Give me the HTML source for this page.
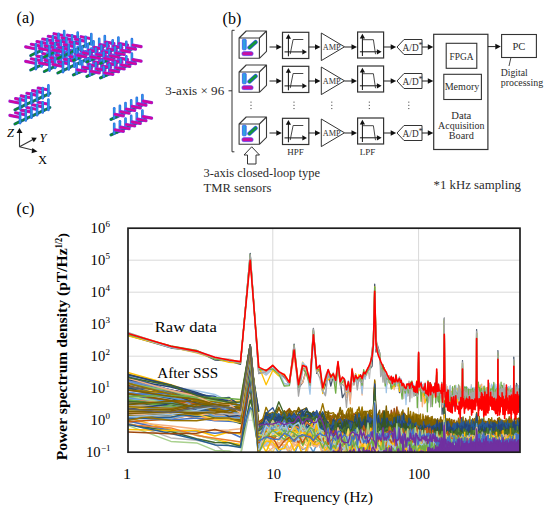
<!DOCTYPE html><html><head><meta charset="utf-8"><style>html,body{margin:0;padding:0;background:#fff;width:550px;height:518px;overflow:hidden;position:relative}</style></head><body><svg width="550" height="518" viewBox="0 0 550 518" style="position:absolute;left:0;top:0">
<rect width="550" height="518" fill="#fff"/>
<line x1="128" y1="420.2" x2="520.0" y2="420.2" stroke="#d9d9d9" stroke-width="1"/>
<line x1="128" y1="388.2" x2="520.0" y2="388.2" stroke="#d9d9d9" stroke-width="1"/>
<line x1="128" y1="356.2" x2="520.0" y2="356.2" stroke="#d9d9d9" stroke-width="1"/>
<line x1="128" y1="324.2" x2="520.0" y2="324.2" stroke="#d9d9d9" stroke-width="1"/>
<line x1="128" y1="292.2" x2="520.0" y2="292.2" stroke="#d9d9d9" stroke-width="1"/>
<line x1="128" y1="260.2" x2="520.0" y2="260.2" stroke="#d9d9d9" stroke-width="1"/>
<line x1="272.8" y1="228.2" x2="272.8" y2="452.2" stroke="#d9d9d9" stroke-width="1"/>
<line x1="418.6" y1="228.2" x2="418.6" y2="452.2" stroke="#d9d9d9" stroke-width="1"/>
<clipPath id="pc"><rect x="128" y="228.2" width="392.0" height="224.0"/></clipPath>
<g clip-path="url(#pc)">
<path d="M127 417.4l43.9 12.2 25.7 5.1 18.2 4.9 14.1 2.8 11.6 2.2 9.7-37.2 8.5 15.6" fill="none" stroke="#FFC000" stroke-width="1.5" stroke-linejoin="round"/>
<path d="M127 422.4l43.9 15.5 25.7 2.3 18.2 3.8 14.1 11.7 11.6 .3 9.7-48.6 8.5 27" fill="none" stroke="#B7B7B7" stroke-width="1.5" stroke-linejoin="round"/>
<path d="M127 425.2l43.9 16.2 25.7 1.5 18.2 7.5 14.1 .6 11.6 3.7 9.7-53.7 8.5 23.5" fill="none" stroke="#A9D18E" stroke-width="1.5" stroke-linejoin="round"/>
<path d="M127 421.7l43.9 4.2 25.7 3.2 18.2 1.3 14.1-.3 11.6-1.4 9.7-33.3 8.5 35.9" fill="none" stroke="#F4B183" stroke-width="1.5" stroke-linejoin="round"/>
<path d="M127 424.3l43.9 6.2 25.7 4.5 18.2 4.7 14.1 5.7 11.6 1.2 9.7-39.4 8.5 40" fill="none" stroke="#A9D18E" stroke-width="1.5" stroke-linejoin="round"/>
<path d="M127 388.9l43.9 8.5 25.7 6.9 18.2 6.6 14.1 4.9 11.6 4 9.7-37.1 8.5 45.7" fill="none" stroke="#43682B" stroke-width="1.5" stroke-linejoin="round"/>
<path d="M127 424.1l43.9 7.4 25.7 7.3 18.2 3.6 14.1 .3 11.6 3.5 9.7-46.3 8.5 27.2" fill="none" stroke="#43682B" stroke-width="1.5" stroke-linejoin="round"/>
<path d="M127 404.8l43.9 6.5 25.7-.4 18.2 .2 14.1-1 11.6 1.6 9.7-32.2 8.5 48.4" fill="none" stroke="#F1975A" stroke-width="1.5" stroke-linejoin="round"/>
<path d="M127 409.6l43.9 3.1 25.7 5.5 18.2 1.7 14.1-1.5 11.6 1.1 9.7-32.8 8.5 49.5" fill="none" stroke="#ED7D31" stroke-width="1.5" stroke-linejoin="round"/>
<path d="M127 420.7l43.9 9.7 25.7 .5 18.2 2.4 14.1-1.3 11.6 5.3 9.7-29.9 8.5 10.6" fill="none" stroke="#4472C4" stroke-width="1.5" stroke-linejoin="round"/>
<path d="M127 418.4l43.9-.9 25.7-5.4 18.2-1.8 14.1 .4 11.6 2.2 9.7-34.5 8.5 60.9" fill="none" stroke="#B7B7B7" stroke-width="1.5" stroke-linejoin="round"/>
<path d="M127 378.9l43.9 11.4 25.7 3.4 18.2 9.7 14.1-1.2 11.6 4.9 9.7-28.5 8.5 45.7" fill="none" stroke="#7030A0" stroke-width="1.5" stroke-linejoin="round"/>
<path d="M127 382.1l43.9 13.7 25.7 6.7 18.2 4.9 14.1 1 11.6 3.4 9.7-28.4 8.5 68.6" fill="none" stroke="#FFCD33" stroke-width="1.5" stroke-linejoin="round"/>
<path d="M127 390.2l43.9 3.7 25.7 4.5 18.2-.8 14.1 6.1 11.6 2.5 9.7-27.6 8.5 57.9" fill="none" stroke="#7030A0" stroke-width="1.5" stroke-linejoin="round"/>
<path d="M127 413.3l43.9 3.2 25.7-.5 18.2-1.4 14.1 2.5 11.6-3.2 9.7-35.6 8.5 71.4" fill="none" stroke="#FFC000" stroke-width="1.5" stroke-linejoin="round"/>
<path d="M127 385.6l43.9 14.2 25.7 8.3 18.2 5.2 14.1 4 11.6 5.7 9.7-45.7 8.5 49.8" fill="none" stroke="#2F5597" stroke-width="1.5" stroke-linejoin="round"/>
<path d="M127 382.1l43.9 12 25.7 6.6 18.2 9.3 14.1 3.8 11.6 4.1 9.7-43.9 8.5 61.7" fill="none" stroke="#A9D18E" stroke-width="1.5" stroke-linejoin="round"/>
<path d="M127 378.6l43.9 13.1 25.7 7.7 18.2 7.5 14.1 5.5 11.6-3.1 9.7-38.1 8.5 59.6" fill="none" stroke="#F4B183" stroke-width="1.5" stroke-linejoin="round"/>
<path d="M127 401.7l43.9 2.9 25.7 4.2 18.2 1.9 14.1-1.3 11.6-1.4 9.7-28.4 8.5 48.4" fill="none" stroke="#43682B" stroke-width="1.5" stroke-linejoin="round"/>
<path d="M127 394.4l43.9 8.9 25.7 5.5 18.2 2.7 14.1 7.4 11.6-3.2 9.7-36.8 8.5 60.1" fill="none" stroke="#2F5597" stroke-width="1.5" stroke-linejoin="round"/>
<path d="M127 429.5l43.9 1 25.7 0 18.2 5.5 14.1-3.9 11.6 1.9 9.7-58.2 8.5 71.7" fill="none" stroke="#FFC000" stroke-width="1.5" stroke-linejoin="round"/>
<path d="M127 410.9l43.9-5 25.7 1.4 18.2 4.4 14.1 1.4 11.6 1.1 9.7-33.4 8.5 41.3" fill="none" stroke="#997300" stroke-width="1.5" stroke-linejoin="round"/>
<path d="M127 418l43.9-.1 25.7-3.4 18.2 5.6 14.1-.7 11.6-2.2 9.7-41.2 8.5 63.5" fill="none" stroke="#FFCD33" stroke-width="1.5" stroke-linejoin="round"/>
<path d="M127 384l43.9 16.2 25.7 2.5 18.2 3.3 14.1 4.7 11.6-.3 9.7-30.3 8.5 60.8" fill="none" stroke="#255E91" stroke-width="1.5" stroke-linejoin="round"/>
<path d="M127 400l43.9 2 25.7-2.5 18.2-.9 14.1 2 11.6 1.8 9.7-32.2 8.5 75" fill="none" stroke="#ED7D31" stroke-width="1.5" stroke-linejoin="round"/>
<path d="M127 409.7l43.9-3.7 25.7 4.5 18.2-3.7 14.1 2.2 11.6 1.5 9.7-32.3 8.5 45.3" fill="none" stroke="#FFC000" stroke-width="1.5" stroke-linejoin="round"/>
<path d="M127 372.2l43.9 12.4 25.7 8.5 18.2 5 14.1 2.8 11.6 2.5 9.7-24.8 8.5 57.8" fill="none" stroke="#FFC000" stroke-width="1.5" stroke-linejoin="round"/>
<path d="M127 421.7l43.9-2.8 25.7-5.2 18.2-.9 14.1-.4 11.6 2.6 9.7-35.1 8.5 57" fill="none" stroke="#C55A11" stroke-width="1.5" stroke-linejoin="round"/>
<path d="M127 405.6l43.9 4.3 25.7 2.6 18.2 4.5 14.1 2.1 11.6-3.1 9.7-46.8 8.5 74.4" fill="none" stroke="#7CAFDD" stroke-width="1.5" stroke-linejoin="round"/>
<path d="M127 396.6l43.9 4.9 25.7 3.7 18.2-1.2 14.1 5.6 11.6 2.8 9.7-41.9 8.5 88.3" fill="none" stroke="#9DC3E6" stroke-width="1.5" stroke-linejoin="round"/>
<path d="M127 386.3l43.9 8 25.7 3.9 18.2 1.9 14.1 6.8 11.6 2.9 9.7-38.4 8.5 67.3" fill="none" stroke="#698ED0" stroke-width="1.5" stroke-linejoin="round"/>
<path d="M127 392.5l43.9 7.7 25.7 2.1 18.2 2 14.1 4.7 11.6 1.2 9.7-33.5 8.5 65.9" fill="none" stroke="#636363" stroke-width="1.5" stroke-linejoin="round"/>
<path d="M127 411.8l43.9-1.6 25.7 1.4 18.2-2.5 14.1 1.2 11.6-5.2 9.7-29.3 8.5 65.8" fill="none" stroke="#BF9000" stroke-width="1.5" stroke-linejoin="round"/>
<path d="M127 417.9l43.9-3.2 25.7-5.9 18.2-.4 14.1 .6 11.6-6.4 9.7-31.7 8.5 74.8" fill="none" stroke="#698ED0" stroke-width="1.5" stroke-linejoin="round"/>
<path d="M127 384.4l43.9 10.6 25.7 8.8 18.2 4.5 14.1 4.3 11.6 3.7 9.7-51.3 8.5 87.8" fill="none" stroke="#C55A11" stroke-width="1.5" stroke-linejoin="round"/>
<path d="M127 424.7l43.9 3.2 25.7 7.5 18.2 2.8 14.1 2.1 11.6 1.7 9.7-60.7 8.5 67.1" fill="none" stroke="#ED7D31" stroke-width="1.5" stroke-linejoin="round"/>
<path d="M127 377.2l43.9 18.4 25.7 6.9 18.2 9.4 14.1 7.9 11.6 3.8 9.7-34.3 8.5 63.8" fill="none" stroke="#43682B" stroke-width="1.5" stroke-linejoin="round"/>
<path d="M127 395.4l43.9 3.9 25.7 3.7 18.2 .5 14.1 3 11.6-3.9 9.7-30 8.5 60" fill="none" stroke="#B7B7B7" stroke-width="1.5" stroke-linejoin="round"/>
<path d="M127 386.8l43.9 14.6 25.7 4 18.2 4.7 14.1 10 11.6-.8 9.7-59.1 8.5 88.4" fill="none" stroke="#43682B" stroke-width="1.5" stroke-linejoin="round"/>
<path d="M127 377.3l43.9 13 25.7 4.4 18.2 1.6 14.1 7 11.6 2.6 9.7-37.8 8.5 72.3" fill="none" stroke="#2F5597" stroke-width="1.5" stroke-linejoin="round"/>
<path d="M127 400.1l43.9 5.2 25.7 .3 18.2 6.3 14.1-.2 11.6 3.5 9.7-49.7 8.5 68.5" fill="none" stroke="#FFC000" stroke-width="1.5" stroke-linejoin="round"/>
<path d="M127 424.3l43.9 9.2 25.7 6 18.2 5.4 14.1 .6 11.6 2 9.7-67.2 8.5 71.1" fill="none" stroke="#255E91" stroke-width="1.5" stroke-linejoin="round"/>
<path d="M127 417.4l43.9 2.7 25.7-2.2 18.2 2.9 14.1 .5 11.6 1 9.7-47.7 8.5 65.6" fill="none" stroke="#4472C4" stroke-width="1.5" stroke-linejoin="round"/>
<path d="M127 411.9l43.9 1.1 25.7 1.5 18.2 1.1 14.1-.5 11.6-1.7 9.7-61.5 8.5 72.8" fill="none" stroke="#806000" stroke-width="1.5" stroke-linejoin="round"/>
<path d="M127 387.9l43.9 12 25.7 3.4 18.2 7.4 14.1-2.1 11.6 6.8 9.7-36.1 8.5 60.5" fill="none" stroke="#255E91" stroke-width="1.5" stroke-linejoin="round"/>
<path d="M127 381.6l43.9 11.2 25.7 10.6 18.2 8.3 14.1 2.8 11.6 1.4 9.7-41.1 8.5 48.8" fill="none" stroke="#F4B183" stroke-width="1.5" stroke-linejoin="round"/>
<path d="M127 402.3l43.9 2.8 25.7-1.3 18.2 2.3 14.1 .4 11.6 2.6 9.7-49.2 8.5 73" fill="none" stroke="#F1975A" stroke-width="1.5" stroke-linejoin="round"/>
<path d="M127 397.3l43.9-3 25.7 3.2 18.2 5.2 14.1-1.9 11.6 6.2 9.7-48.8 8.5 54" fill="none" stroke="#43682B" stroke-width="1.5" stroke-linejoin="round"/>
<path d="M127 410.4l43.9 2.3 25.7 4.5 18.2-2.6 14.1 4.8 11.6 .1 9.7-60.3 8.5 83.3" fill="none" stroke="#A5A5A5" stroke-width="1.5" stroke-linejoin="round"/>
<path d="M127 407.8l43.9 6.6 25.7-1.9 18.2 2.6 14.1 2.2 11.6-.2 9.7-30.4 8.5 39" fill="none" stroke="#5B9BD5" stroke-width="1.5" stroke-linejoin="round"/>
<path d="M127 380.2l43.9 13.3 25.7 6.2 18.2 10.9 14.1 1 11.6 3.4 9.7-50.2 8.5 58.1" fill="none" stroke="#70AD47" stroke-width="1.5" stroke-linejoin="round"/>
<path d="M127 374.6l43.9 16.8 25.7 8.8 18.2 2.6 14.1 9.5 11.6 .9 9.7-36.4 8.5 59.7" fill="none" stroke="#4472C4" stroke-width="1.5" stroke-linejoin="round"/>
<path d="M127 374.6l43.9 12.1 25.7 4 18.2 3.8 14.1 6.9 11.6 3 9.7-34.8 8.5 81.2" fill="none" stroke="#9DC3E6" stroke-width="1.5" stroke-linejoin="round"/>
<path d="M127 403.2l43.9 2.4 25.7-.1 18.2 1.2 14.1 .5 11.6 4.3 9.7-57.1 8.5 73.8" fill="none" stroke="#375623" stroke-width="1.5" stroke-linejoin="round"/>
<path d="M127 377.5l43.9 15.8 25.7 7.3 18.2 6 14.1 4.3 11.6 4 9.7-38.2 8.5 70.2" fill="none" stroke="#F1975A" stroke-width="1.5" stroke-linejoin="round"/>
<path d="M127 382.4l43.9 15.1 25.7 7.8 18.2 4.7 14.1 8.4 11.6 1.5 9.7-63.7 8.5 78.9" fill="none" stroke="#806000" stroke-width="1.5" stroke-linejoin="round"/>
<path d="M127 408.7l43.9-.8 25.7 3.1 18.2-3.4 14.1 .1 11.6 3.3 9.7-48.1 8.5 66.1" fill="none" stroke="#A5A5A5" stroke-width="1.5" stroke-linejoin="round"/>
<path d="M127 409.9l43.9-1.9 25.7 1.6 18.2-7.1 14.1 4.7 11.6-2.9 9.7-34.2 8.5 77.3" fill="none" stroke="#4472C4" stroke-width="1.5" stroke-linejoin="round"/>
<path d="M127 376.2l43.9 17.5 25.7 12.2 18.2-1.5 14.1 3.8 11.6 8 9.7-61.3 8.5 77.3" fill="none" stroke="#1F4E79" stroke-width="1.5" stroke-linejoin="round"/>
<path d="M127 418.9l43.9-4.6 25.7-4.7 18.2-.6 14.1-2.2 11.6 1.6 9.7-42.2 8.5 83.4" fill="none" stroke="#375623" stroke-width="1.5" stroke-linejoin="round"/>
<path d="M127 388.7l43.9 5.9 25.7 7.6 18.2 2.7 14.1 2.4 11.6 3.9 9.7-57.6 8.5 71.5" fill="none" stroke="#A5A5A5" stroke-width="1.5" stroke-linejoin="round"/>
<path d="M127 432l43.9 1.7 25.7-.5 18.2-3.8 14.1 3.6 11.6-.4 9.7-53.5 8.5 72.2" fill="none" stroke="#9E480E" stroke-width="1.5" stroke-linejoin="round"/>
<path d="M127 396.6l43.9 3 25.7 3.7 18.2 .4 14.1-1.7 11.6 4.8 9.7-42.3 8.5 72.6" fill="none" stroke="#264478" stroke-width="1.5" stroke-linejoin="round"/>
<path d="M127 388.5l43.9 12.3 25.7 5.2 18.2 3.5 14.1 5.4 11.6 3.6 9.7-49.7 8.5 55.6" fill="none" stroke="#B7B7B7" stroke-width="1.5" stroke-linejoin="round"/>
<path d="M127 374l43.9 11.2 25.7 11.2 18.2 4.8 14.1 3.7 11.6 1.9 9.7-55.1 8.5 99.4" fill="none" stroke="#806000" stroke-width="1.5" stroke-linejoin="round"/>
<path d="M127 386.6l43.9 8.2 25.7 4.3 18.2 2.6 14.1 .1 11.6 3.5 9.7-38.1 8.5 59.4" fill="none" stroke="#ED7D31" stroke-width="1.5" stroke-linejoin="round"/>
<path d="M127 405.2l43.9 4 25.7 4.1 18.2 4.8 14.1 1.7 11.6 1.5 9.7-60 8.5 66.5" fill="none" stroke="#43682B" stroke-width="1.5" stroke-linejoin="round"/>
<path d="M127 408.2l43.9 3.3 25.7-1.9 18.2 .2 14.1 .4 11.6-2.1 9.7-30.9 8.5 58.1" fill="none" stroke="#4472C4" stroke-width="1.5" stroke-linejoin="round"/>
<path d="M127 399.4l43.9 7.6 25.7 3.8 18.2-1.9 14.1 3.9 11.6-.3 9.7-65.4 8.5 90.7" fill="none" stroke="#636363" stroke-width="1.5" stroke-linejoin="round"/>
<path d="M127 386.2l43.9 8.6 25.7 5.7 18.2 4.5 14.1 4 11.6 5.4 9.7-37.1 8.5 51.1" fill="none" stroke="#255E91" stroke-width="1.5" stroke-linejoin="round"/>
<path d="M127 413.7l43.9 3.4 25.7-1.5 18.2-1.4 14.1 3.4 11.6 .4 9.7-67.3 8.5 99.6" fill="none" stroke="#A5A5A5" stroke-width="1.5" stroke-linejoin="round"/>
<path d="M127 404.1l43.9 3.1 25.7-4.1 18.2 1.5 14.1-.6 11.6 .2 9.7-50.8 8.5 74.3" fill="none" stroke="#A5A5A5" stroke-width="1.5" stroke-linejoin="round"/>
<path d="M127 385.6l43.9 4.4 25.7 5.9 18.2 4.3 14.1 2 11.6 3 9.7-60.2 8.5 86.3" fill="none" stroke="#9E480E" stroke-width="1.5" stroke-linejoin="round"/>
<path d="M127 396.3l43.9 5.1 25.7 1.7 18.2 2.5 14.1 .9 11.6 5.8 9.7-57.9 8.5 93.8" fill="none" stroke="#806000" stroke-width="1.5" stroke-linejoin="round"/>
<path d="M127 411.7l43.9 2.5 25.7 .7 18.2 .7 14.1 1.9 11.6-6.1 9.7-56.2 8.5 95.5" fill="none" stroke="#A9D18E" stroke-width="1.5" stroke-linejoin="round"/>
<path d="M127 400l43.9 7.3 25.7 6.4 18.2-.4 14.1-3.1 11.6 5.5 9.7-60.8 8.5 86" fill="none" stroke="#70AD47" stroke-width="1.5" stroke-linejoin="round"/>
<path d="M127 418.6l43.9-1.2 25.7-1.9 18.2 4.7 14.1-1.3 11.6-3.1 9.7-45.7 8.5 52.3" fill="none" stroke="#F1975A" stroke-width="1.5" stroke-linejoin="round"/>
<path d="M127 398.4l43.9 1.2 25.7 2.8 18.2 .1 14.1-.6 11.6-.8 9.7-51.1 8.5 88.7" fill="none" stroke="#FFC000" stroke-width="1.5" stroke-linejoin="round"/>
<path d="M127 380l43.9 14.5 25.7 5.2 18.2 4.3 14.1 2.3 11.6 3.6 9.7-36.4 8.5 83.1" fill="none" stroke="#255E91" stroke-width="1.5" stroke-linejoin="round"/>
<path d="M127 417.6l43.9 1 25.7-5 18.2 .4 14.1 2.7 11.6-3.2 9.7-47.1 8.5 92.1" fill="none" stroke="#7CAFDD" stroke-width="1.5" stroke-linejoin="round"/>
<path d="M127 392.3l43.9 7.4 25.7-2 18.2 4.9 14.1-1.5 11.6 4.1 9.7-34.9 8.5 67.8" fill="none" stroke="#255E91" stroke-width="1.5" stroke-linejoin="round"/>
<path d="M127 410.8l43.9 3.1 25.7 1.7 18.2-1.6 14.1 1.5 11.6-1.5 9.7-56.3 8.5 93.9" fill="none" stroke="#FFCD33" stroke-width="1.5" stroke-linejoin="round"/>
<path d="M127 399l43.9 1.6 25.7 5.6 18.2-1.3 14.1 4 11.6 2.6 9.7-51 8.5 74.3" fill="none" stroke="#7CAFDD" stroke-width="1.5" stroke-linejoin="round"/>
<path d="M127 411.3l43.9-1.1 25.7-.5 18.2 2.2 14.1-1.4 11.6-2.1 9.7-44.3 8.5 77.5" fill="none" stroke="#A9D18E" stroke-width="1.5" stroke-linejoin="round"/>
<path d="M127 387.6l43.9 11.3 25.7 9.7 18.2 2.7 14.1 .2 11.6-1.2 9.7-44.9 8.5 63.4" fill="none" stroke="#1F4E79" stroke-width="1.5" stroke-linejoin="round"/>
<path d="M127 415.2l43.9-4.2 25.7-3.4 18.2-1.5 14.1-.7 11.6-3.4 9.7-32.1 8.5 58.5" fill="none" stroke="#5B9BD5" stroke-width="1.5" stroke-linejoin="round"/>
<path d="M127 417l43.9-3.6 25.7 3 18.2-1.9 14.1 .6 11.6-1.7 9.7-50.9 8.5 64.7" fill="none" stroke="#255E91" stroke-width="1.5" stroke-linejoin="round"/>
<path d="M127 383.5l43.9 13.3 25.7 4.8 18.2 3.5 14.1 7 11.6-1.1 9.7-48.5 8.5 77.5" fill="none" stroke="#FFD966" stroke-width="1.5" stroke-linejoin="round"/>
<path d="M127 399.5l43.9 6.2 25.7 5.7 18.2 .3 14.1-.4 11.6 3.7 9.7-42.1 8.5 66.2" fill="none" stroke="#70AD47" stroke-width="1.5" stroke-linejoin="round"/>
<path d="M127 379.6l43.9 7.5 25.7 6.6 18.2 4.7 14.1 2.3 11.6 5.1 9.7-51.4 8.5 72.4" fill="none" stroke="#264478" stroke-width="1.5" stroke-linejoin="round"/>
<path d="M127 394.1l43.9 7.3 25.7 1.4 18.2 4.8 14.1 1.4 11.6 .3 9.7-60.1 8.5 99.2" fill="none" stroke="#4472C4" stroke-width="1.5" stroke-linejoin="round"/>
<path d="M127 408.2l43.9-.6 25.7 2.1 18.2-3.2 14.1 2.7 11.6-2.8 9.7-46.5 8.5 91.7" fill="none" stroke="#7CAFDD" stroke-width="1.5" stroke-linejoin="round"/>
<path d="M127 411.9l43.9 1.7 25.7 .2 18.2 1.2 14.1 .2 11.6-2.2 9.7-45.9 8.5 82.1" fill="none" stroke="#F4B183" stroke-width="1.5" stroke-linejoin="round"/>
<path d="M127 392.4l43.9 7.5 25.7 6.1 18.2 4.8 14.1-2.8 11.6 1.9 9.7-53.5 8.5 89.2" fill="none" stroke="#B7B7B7" stroke-width="1.5" stroke-linejoin="round"/>
<path d="M127 380.9l43.9 9 25.7 7.6 18.2 5.9 14.1 2.9 11.6 3.5 9.7-40.1 8.5 62.8" fill="none" stroke="#698ED0" stroke-width="1.5" stroke-linejoin="round"/>
<path d="M127 392.1l43.9 5.3 25.7 5.7 18.2 2.3 14.1 3.6 11.6 3.3 9.7-51.2 8.5 89.8" fill="none" stroke="#5B9BD5" stroke-width="1.5" stroke-linejoin="round"/>
<path d="M127 405.5l43.9 3.5 25.7-.2 18.2-1.2 14.1 2.5 11.6-2.2 9.7-62.9 8.5 104.3" fill="none" stroke="#B7B7B7" stroke-width="1.5" stroke-linejoin="round"/>
<path d="M127 415l43.9-2.2 25.7-8.8 18.2 .1 14.1-2.6 11.6 2.9 9.7-42.3 8.5 70.3" fill="none" stroke="#F4B183" stroke-width="1.5" stroke-linejoin="round"/>
<path d="M127 411.4l43.9-.3 25.7-4.6 18.2 4 14.1-.8 11.6-4.1 9.7-48.5 8.5 84.8" fill="none" stroke="#806000" stroke-width="1.5" stroke-linejoin="round"/>
<path d="M127 409.3l43.9-5.4 25.7 5.6 18.2-1.7 14.1 1.6 11.6-3.3 9.7-46.2 8.5 51" fill="none" stroke="#264478" stroke-width="1.5" stroke-linejoin="round"/>
<path d="M127 374.6l43.9 10.7 25.7 7.2 18.2 6.2 14.1-1.3 11.6 8.2 9.7-59.6 8.5 84.4" fill="none" stroke="#264478" stroke-width="1.5" stroke-linejoin="round"/>
<path d="M127 394.3l43.9-.7 25.7 10.4 18.2-3.3 14.1 8.6 11.6-2.2 9.7-61.9 8.5 89.4" fill="none" stroke="#4472C4" stroke-width="1.5" stroke-linejoin="round"/>
<path d="M127 393.2l43.9 7.9 25.7 2.7 18.2 9 14.1-.6 11.6 4.1 9.7-50 8.5 67.8" fill="none" stroke="#C55A11" stroke-width="1.5" stroke-linejoin="round"/>
<path d="M127 397.6l43.9 4.3 25.7 6.6 18.2 7.9 14.1 .1 11.6 1.4 9.7-66.8 8.5 101.8" fill="none" stroke="#5B9BD5" stroke-width="1.5" stroke-linejoin="round"/>
<path d="M127 383.9l43.9 7.4 25.7 6.4 18.2 5.9 14.1 .7 11.6 2.3 9.7-61.6 8.5 95.8" fill="none" stroke="#7CAFDD" stroke-width="1.5" stroke-linejoin="round"/>
<path d="M127 383.4l43.9 10.2 25.7 9.5 18.2 6.1 14.1 7.3 11.6-1.1 9.7-49.4 8.5 69.1" fill="none" stroke="#264478" stroke-width="1.5" stroke-linejoin="round"/>
<path d="M127 389.9l43.9 3 25.7 7.9 18.2 .8 14.1 3.3 11.6 1.8 9.7-58.8 8.5 90.4" fill="none" stroke="#997300" stroke-width="1.5" stroke-linejoin="round"/>
<path d="M127 395.7l43.9 8.2 25.7 3.3 18.2-1.1 14.1 3.4 11.6 .2 9.7-56.2 8.5 72.5" fill="none" stroke="#A9D18E" stroke-width="1.5" stroke-linejoin="round"/>
<path d="M127 419.1l43.9-1.8 25.7-5.7 18.2-2.7 14.1 1 11.6-6.4 9.7-58.5 8.5 101.5" fill="none" stroke="#255E91" stroke-width="1.5" stroke-linejoin="round"/>
<path d="M127 406l43.9 7.6 25.7 .5 18.2 5 14.1 .9 11.6 2.2 9.7-63.9 8.5 80" fill="none" stroke="#FFCD33" stroke-width="1.5" stroke-linejoin="round"/>
<path d="M127 386.6l43.9 4.9 25.7 9.4 18.2 6.4 14.1 5.1 11.6-1.8 9.7-56.2 8.5 87.2" fill="none" stroke="#636363" stroke-width="1.5" stroke-linejoin="round"/>
<path d="M127 406.6l43.9 1.7 25.7-2.5 18.2 4.4 14.1-4.7 11.6 1.9 9.7-58.7 8.5 101.7" fill="none" stroke="#997300" stroke-width="1.5" stroke-linejoin="round"/>
<path d="M127 420.6l43.9-8.8 25.7 2.8 18.2-4.2 14.1 .4 11.6-1.6 9.7-51.5 8.5 75.2" fill="none" stroke="#997300" stroke-width="1.5" stroke-linejoin="round"/>
<path d="M127 380.9l43.9 12.9 25.7 13.5 18.2-2 14.1 5.4 11.6 4.5 9.7-54.9 8.5 68.2" fill="none" stroke="#698ED0" stroke-width="1.5" stroke-linejoin="round"/>
<path d="M127 393.6l43.9 6.8 25.7 1.4 18.2 2.9 14.1 1.1 11.6 2.3 9.7-54.6 8.5 78.8" fill="none" stroke="#806000" stroke-width="1.5" stroke-linejoin="round"/>
<path d="M127 383.7l43.9 7.1 25.7 7.7 18.2 2 14.1 1.8 11.6 3.2 9.7-46.7 8.5 93.3" fill="none" stroke="#8CC168" stroke-width="1.5" stroke-linejoin="round"/>
<path d="M127 401.5l43.9 2 25.7 3.4 18.2-2.3 14.1 3.5 11.6 .6 9.7-57.6 8.5 76.2" fill="none" stroke="#43682B" stroke-width="1.5" stroke-linejoin="round"/>
<path d="M127 383l43.9 11 25.7 6.7 18.2 3.3 14.1 4.3 11.6 4.2 9.7-62.8 8.5 103.4" fill="none" stroke="#997300" stroke-width="1.5" stroke-linejoin="round"/>
<path d="M127 416.6l43.9-2 25.7-1.4 18.2-2.1 14.1 2.2 11.6-4.5 9.7-63.8 8.5 87.8" fill="none" stroke="#7F6000" stroke-width="1.5" stroke-linejoin="round"/>
<path d="M127 414.9l43.9 5.6 25.7 .2 18.2-2.7 14.1-.1 11.6 3.9 9.7-69.1 8.5 80.1" fill="none" stroke="#997300" stroke-width="1.5" stroke-linejoin="round"/>
<path d="M127 404.9l43.9-4 25.7 6.6 18.2-.8 14.1-.3 11.6-4 9.7-46.3 8.5 73.1" fill="none" stroke="#806000" stroke-width="1.5" stroke-linejoin="round"/>
<path d="M127 416.9l43.9-2.4 25.7-4.2 18.2-4 14.1 1.1 11.6-4.6 9.7-49.5 8.5 85.4" fill="none" stroke="#9DC3E6" stroke-width="1.5" stroke-linejoin="round"/>
<path d="M127 396.4l43.9-.8 25.7 1.4 18.2 .7 14.1 .8 11.6 1.1 9.7-54.6 8.5 85.9" fill="none" stroke="#70AD47" stroke-width="1.5" stroke-linejoin="round"/>
<path d="M127 377.9l43.9 12.6 25.7 5.6 18.2 8.5 14.1-.8 11.6 9.1 9.7-67.3 8.5 97.4" fill="none" stroke="#F4B183" stroke-width="1.5" stroke-linejoin="round"/>
<path d="M127 389.8l43.9 6.8 25.7 2.6 18.2 4.9 14.1 3.7 11.6 2.2 9.7-58.2 8.5 72.6" fill="none" stroke="#806000" stroke-width="1.5" stroke-linejoin="round"/>
<path d="M127 409.5l43.9 .3 25.7-5.8 18.2 .8 14.1-1.6 11.6 2 9.7-59.7 8.5 90.2" fill="none" stroke="#806000" stroke-width="1.5" stroke-linejoin="round"/>
<path d="M127 413.8l43.9-1.1 25.7-.6 18.2 .4 14.1 1.7 11.6 .1 9.7-66.1 8.5 84.2" fill="none" stroke="#B7B7B7" stroke-width="1.5" stroke-linejoin="round"/>
<path d="M127 377.3l43.9 8.2 25.7 9.9 18.2 4.2 14.1 2.7 11.6-.2 9.7-57.1 8.5 97.9" fill="none" stroke="#43682B" stroke-width="1.5" stroke-linejoin="round"/>
<path d="M127 413.5l43.9-1.5 25.7 .4 18.2 .6 14.1-2.4 11.6-2.5 9.7-60.6 8.5 109" fill="none" stroke="#806000" stroke-width="1.5" stroke-linejoin="round"/>
<path d="M127 408.7l43.9 3.7 25.7-5 18.2-1.1 14.1 1.4 11.6 2.8 9.7-65.5 8.5 98.3" fill="none" stroke="#636363" stroke-width="1.5" stroke-linejoin="round"/>
<path d="M258.7 425.4l7.4-3.9 6.7-3.5 6-11 5.5 15.9 5.1-11.8 4.7 6.4 4.4 2.3 4.1-2 3.8-.6 3.6-.9 3.4 2.6 3.3 2.8 3.1-5.7 2.9 3.7 2.8-.6 2.7 7.7 2.6-2 2.5 1.3 2.4-4.7 2.3-.4 2.2 1.2 2.2-1.8 2 1.8 2.1-7.1 1.9 10.3 1.9-7.7 1.8 7 1.8 0 1.7 3.2 1.7-14 1.7 12.2 1.6-2 1.5 2.8 1.6-3.9 1.5 4 1.4-14.5 1.4 8 1.4-10 1.4 5.2 1.3 13.9 1.3-10.9 1.3-32.9 1.3 36.3 1.2-4 1.2-3.1 1.2 6.1 1.1-5.7 1.2-.1 1.1-3.3 1.1 10.2 1.1-2.6 1.1 3.8 1 2.6 1 1.3 1-3.1 1-7 1 8 1-2.4 .9-.2 1 4.1 .9-3.8 .9 6.3 .9-2.8 .9-.9 .9-2.4 .8 6.1 .9-5.5 .8 8.3 .9 1.9 .8-8.7 .8-6 .8-2.2 .8 3.2 .7 3.6 .8-8 .8 8 .7 4.7 .7-8.1 .8 8.1 .7 2.3 .7-8.1 .7-2.4 .7 7.2 .7 2.2 .7-4.3 .7-2.5 .7 7.9 .6-2.9 .7-4.3 .6 .8 .7-6.9 .6 4.6 .6 14.1 .7-14.5 .6 7.7 .6-4.5 .6 7.3 .6-7.9 .6 8.6 .6-9.2 .6-3 .5 7 .6-3.5 .6 2 .5 1.1 .6 3 .5-3.1 .6-1.5 .5 6.2 .6-12.1 .5 11.8 .5-3.7 .6 .3 .5-.2 .5 .7 .5-8.9 .5 8.3 .5 0 .5-3 .5 4.3 .5 3.7 .5-10.9 .5 5.7 .5-4.7 .5 0 .4-2.7 .5 4.3 .5 1.9 .4 7.2 .5-9.7 .5 6.8 .4-8.3 .5 6.7 .4 1.9 .4-3.8 .5 .7 .4-1.1 .5-2.9 .4-2 .4 4.8 .5-4.5 .4-11.5 .4 20 .4-2.8 .4 0 .4-2.7 .5 5.8 .4 1.1 .4-7.5 .4 4.2 .4-8.4 .4 10.9 .4-1.3 .3-11 .4 15.7 .4-.5 .4-6.9 .4 3.8 .4-2.4 .4-5.2 .3 5.4 .4-1.1 .4-2.8 .3 6.4 .4 2.5 .4-7 .3 1.1 .4-2.4 .4 4.8 .3-1 .4-.7 .3-1.9 .4-2 .3 2.2 .4 10 .3-7.3 .4 .9 .3 .5 .3-.7 .4-3.7 .3 10.7 .3-10.7 .4-1.3 .3 .1 .3 5.2 .4 3.3 .3-.8 .3-3.2 .3-9.1 .4 10.4 .3-3 .3-4.6 .3 .1 .3 4.5 .3-2.4 .3-3.5 .4 3.9 .3 1.2 .3 3.5 .3-1.8 .3 .2 .3 4.7 .3-3.2 .3-8.3 .3 9.1 .3 1.2 .3-.9 .3-4.8 .3-2.2 .2 .7 .3-4.8 .3 9.5 .3-3.5 .3 .9 .3 1.2 .3-6.4 .2 7.4 .3-2.5 .3 5 .3-6.4 .3 2.3 .2 3.6 .3-.5 .3 1.3 .3-3.7 .2-.1 .3-.3 .3 1.4 .2-5.8 .3 2.6 .3-.1 .2 1.3 .3 3.4 .3-5.9 .2-4.5 .3 1.5 .2 3.1 .3 6 .3-.7 .2-1.1 .3-3.5 .2-10.2 .3 9.6 .2-.5 .3 6.2 .2-.1 .3-5.1 .2-.2 .3 4 .2-3.3 .3 7 .2-2.2 .2-4.5 .3 4.9 .2-5.3 .3 3.6 .2-6.8 .2 7.4 .3-4.3 .2 1.1 .3 4.6 .2 3.4 .2-8.7 .3 4.7 .2-4.4 .2-7.1 .3 14.1 .2-6.9 .2 4.5 .2-.8 .3 2.5 .2-3.6 .2-7.4 .2 .6 .3 6.7 .2 .3 .2 1.5 .2-1.9 .3 .6 .2-2.7 .2 5.1 .2-7.9 .2 3.8 .3-.3 .2 .5 .2 4.8 .2-8.6 .2 3.5 .2-5.4 .2 4.4 .3-3 .2 1.2 .2 2.6 .2-1.2 .2 1.7 .2 5.3 .2-2.5 .2-5.4 .2 5.1 .2 1.8 .2-1.8 .2-3.6 .2 6.5 .2-3.6 .3-1.1 .2 0 .2 3.2 .2 5.9 .2-7.5 .2-7.1 .2-.7 .2 7.5 .1-7.9 .2 2.5 .2 3.7 .2 3.2 .2-2.3 .2 .4 .2-2.3 .2 5.6 .2 0 .2-4 .2 1.1 .2-4 .2 5 .2-6.7 .2-.9 .1 8.3 .2-5.5 .2-3.6 .2 5 .2-3.5 .2 4.3 .2-1.1 .1 1.5 .2 .3 .2-7.1 .2 7.9 .2 3.9 .2-4.3 .1-4.2 .2 4.9 .2-6.4 .2 0 .2 3 .1 1.7 .2 .6 .2 1.1 .2-9.8 .2 4.4 .1 3.7 .2-1.9 .2-.9 .2-4 .1 2.3 .2 3.6 .2 2.6 .2 2.8 .1-6 .2-6.3 .2 5.5 .1-.4 .2 3.5 .2-.3 .2 3.8 .1-1.5 .2-10.4 .2 5.6 .1-3.2 .2 5.6 .2-5.2 .1 1.8 .2 6.3 .2 4 .1-1.6 .2-7.3 .2-2.1 .1 4.1 .2-.1 .2-4.7 .1 4 .2 2.9 .1-5.1 .2-2.4 .2 11.1 .1-6.2 .2 1 .1 1.5 .2-8.1 .2 3 .1-5.9 .2 5.6 .1 3.8 .2-.2 .2-3.7 .1 2.2 .2 .9 .1-.7 .2 .8 .1-3.7 .2 6.3 .1-2.4 .2-.6 .2-4.1 .1 2.3 .2-4 .1 5.4 .2-1.3 .1 1.9 .2-1.6 .1 .1 .2 1.2 .1 1.4 .2-1.4 .1-6.1 .2 6.5 .1 1.9 .2-.1 .1-3.6 .2 3.9 .1-1.9 .2 .4 .1-3.9 .2 2.9 .1-3.5 .1-.4 .2 2.8 .1 2.8 .2-.8 .1-7 .2 .7 .1 9 .2-5.2 .1 3.8 .1-10.1 .2 7 .1 5.3 .2-2.1 .1 1.7 .2-.9 .1-3.8 .1 3.3 .2-6.1 .1 7.2 .2-5.3 .1 7.2 .1-5 .2-3.4 .1 3.7 .2-4.7 .1 2.6 .1-6 .2 5.2 .1 3.5 .1-.2 .2-4.7 .1-4.3 .2 4.1 .1 7.6 .1-2.6 .2 3.5 .1-2.1 .1-4.6 .2 8.2 .1-4.7 .1-10.6 .2 8.6 .1-1.2 .1 2 .2-1.4 .1-9.6 .1 14 .2-3 .1 1.5 .1-9.6 .2 18 .1-10 .1-11.5 .1 5 .2 3.3 .1 1.9 .1 4.2 .2-7.4 .1-.3 .1 .6 .1-.6 .2 5.1 .1-1.8 .1 5.3" fill="none" stroke="#806000" stroke-width="1.4" stroke-linejoin="round"/>
<path d="M258.7 422.3l7.4-6.3 6.7-1.6 6 .5 5.5-1.1 5.1-5.2 4.7 13.7 4.4-3.4 4.1-2.7 3.8 2.4 3.6-4.7 3.4 6.9 3.3 1.5 3.1-6.1 2.9 6.3 2.8 .5 2.7-6.3 2.6 5.2 2.5-7.4 2.4 6.8 2.3 4 2.2-4.1 2.2-8.4 2 4.6 2.1-.2 1.9 4.6 1.9-6.4 1.8 1 1.8 1.5 1.7 10.7 1.7-15.4 1.7 4.5 1.6 1.6 1.5 .9 1.6-6.1 1.5 5.2 1.4-3.4 1.4 10.2 1.4-2.8 1.4-2.8 1.3-4.2 1.3 1.4 1.3-31.7 1.3 35.8 1.2-2.1 1.2 7 1.2-11.1 1.1 1.2 1.2 4.8 1.1-10.8 1.1 7.9 1.1 3.7 1.1 .2 1-5.5 1 9.9 1-9.7 1 2.3 1-9.3 1 3.2 .9 9 1-14 .9 14 .9-9.8 .9-5.8 .9 10.5 .9-5.5 .8 5.4 .9 .3 .8 11.5 .9-11.7 .8 4.7 .8 1.7 .8-10.5 .8 13.6 .7-4.1 .8-1.3 .8 .9 .7-4.7 .7 14 .8-15.5 .7 13.1 .7-2.3 .7-8.1 .7 1.8 .7 2.1 .7 4 .7-4.5 .7-1.4 .6-2.9 .7 3.3 .6 6.3 .7-3.2 .6 2.4 .6-2.4 .7-6.6 .6 5 .6 2.9 .6-5.8 .6 5.8 .6-4 .6-.8 .6 2 .5 1.6 .6-2.2 .6-2.3 .5 3.4 .6-6.7 .5 6.7 .6 3.5 .5-5.5 .6 3.9 .5-.6 .5-5.2 .6 1.4 .5 8 .5-2.5 .5 2 .5-8.5 .5 11.7 .5-6.3 .5-4 .5 10.7 .5-5.8 .5 4.7 .5-1 .5-5.4 .4 5.1 .5-1.8 .5-5.1 .4 9.7 .5-12.3 .5 3.9 .4 5.7 .5-.3 .4-4.2 .4 1.6 .5 3 .4-4 .5-1.5 .4 2.8 .4 1.3 .5-1 .4-17.4 .4 17 .4 2.9 .4-3.4 .4 .6 .5-1.2 .4-4.9 .4 1.4 .4 9.1 .4-4.1 .4-1.7 .4 3 .3 4.4 .4-13.8 .4 4.9 .4 4.2 .4-.7 .4 3.2 .4-3.7 .3-5.6 .4 1.4 .4 3 .3 2.6 .4 2 .4-3.7 .3 1.9 .4 .8 .4 .3 .3-5.1 .4 7.2 .3-4.5 .4 7.9 .3-2.2 .4-12.2 .3 10.7 .4-4.5 .3 3.6 .3-2.4 .4-3.9 .3 7.2 .3 .9 .4 2.8 .3-16 .3 9.6 .4-1 .3-1.4 .3 .7 .3 2.2 .4 6.2 .3-9.6 .3 1.9 .3 .4 .3-6.2 .3 4.2 .3 4 .4-9.4 .3 1.9 .3 0 .3 6.8 .3 5 .3-7.1 .3 .6 .3 4.8 .3-3.7 .3-5.1 .3 6.2 .3 1.1 .3-1.5 .2 .3 .3-4.1 .3 2.9 .3-1.8 .3-7.9 .3 1.3 .3 10.6 .2-6.5 .3 9.9 .3-8.1 .3 6.4 .3-9.7 .2 2.7 .3-.9 .3 9.6 .3-7.3 .2 .9 .3 .9 .3 3.7 .2-13.1 .3 15.9 .3-1.8 .2-7 .3 4.7 .3 2 .2-1.4 .3-7.4 .2-3.3 .3 3.9 .3 4.4 .2 5.4 .3-4.1 .2-10.6 .3 6.5 .2 3.4 .3-1.2 .2-4.2 .3 3.6 .2 0 .3-2.6 .2 2 .3-3.1 .2 6.5 .2 4.9 .3-7.3 .2 .4 .3-4.1 .2 7.1 .2-3.1 .3 4.4 .2-3 .3-4.7 .2-2.2 .2 2.5 .3-2.9 .2 3.4 .2-2.8 .3 7.6 .2 2.3 .2-1.1 .2-10.6 .3 8.2 .2-5.8 .2 4.3 .2-5.3 .3 4.6 .2 5.2 .2 .9 .2-3 .3-.4 .2-9.2 .2 6.8 .2 7.8 .2-.1 .3-1.5 .2-2 .2-5.6 .2 12.7 .2-3.5 .2-9.5 .2 2.3 .3-.8 .2 2 .2-4.7 .2-.6 .2 3.9 .2 .7 .2-6.5 .2 3 .2 .8 .2 3.3 .2-2.7 .2 4.3 .2-.9 .2-3.3 .3 4.3 .2-5.6 .2 2.7 .2 2.3 .2-2.1 .2-3.6 .2 2.8 .2-2.1 .1 4.2 .2 2.7 .2-4.8 .2 .7 .2-4.9 .2 1.4 .2 1.7 .2 2.8 .2-8 .2 5.9 .2 6.4 .2 .4 .2-2 .2-4 .2 1.1 .1-5.4 .2-.3 .2-1.5 .2 15.3 .2-9.7 .2 2.5 .2 2.6 .1-2.6 .2-.6 .2-.3 .2-5.5 .2 5.1 .2 .4 .1-11.5 .2 11.3 .2-1.9 .2 2.3 .2 1.1 .1-3.1 .2-2.5 .2 5.6 .2-.5 .2 2.1 .1 2.7 .2-14.5 .2 8.1 .2-2.9 .1 3.8 .2-2 .2 2.1 .2-.1 .1-.6 .2-8 .2 2 .1 1.2 .2-.1 .2 4.4 .2-.2 .1-.4 .2 1.6 .2-6.4 .1 9.6 .2-.4 .2-4.1 .1-5.5 .2 4.6 .2-3.4 .1 3.3 .2-3.9 .2 7.5 .1-6.9 .2 .5 .2 4.9 .1 2.1 .2-3.8 .1 5.5 .2-1 .2-6.1 .1 2.8 .2-3.5 .1 .4 .2 4.8 .2-2.7 .1 4 .2-3.6 .1-.1 .2-5.8 .2 7.4 .1-6.3 .2 5.4 .1-2.5 .2 1.1 .1-3.9 .2 3.2 .1 8.2 .2-.2 .2-5.7 .1-3.3 .2 2.2 .1-1.7 .2-2.1 .1 3.4 .2 3.9 .1-4.8 .2-1.4 .1 4 .2-3 .1 6.1 .2-4.7 .1 .1 .2 6.4 .1-1.1 .2-10.2 .1 3.7 .2 1.2 .1-5 .2 2.6 .1 8.1 .1-5.2 .2-2.1 .1-5.8 .2 9.7 .1-5.8 .2 6.2 .1-5.5 .2 2.3 .1-.1 .1 1.9 .2-.4 .1-1.4 .2-1.4 .1 4.8 .2-5.3 .1 1.3 .1 .6 .2-2.7 .1 7.8 .2-.4 .1-7.4 .1 1.2 .2-1.1 .1 2.3 .2 .4 .1 3.7 .1-3.9 .2 3.7 .1 2.6 .1-9.2 .2-.6 .1 4.6 .2 5.8 .1-4.4 .1-6.7 .2 7.2 .1-2.2 .1-2 .2 5.4 .1-3.4 .1 1.9 .2-1 .1 .8 .1 2.3 .2-5.4 .1 1.2 .1-6 .2 9.4 .1-5.5 .1 5.2 .2-4.8 .1 2.5 .1 1.1 .1 7.4 .2-8.8 .1-.2 .1-.8 .2 0 .1-.6 .1 6.4 .1-2.9 .2-2.1 .1 1.5 .1 .3" fill="none" stroke="#9E480E" stroke-width="1.4" stroke-linejoin="round"/>
<path d="M258.7 435.3l7.4-18.9 6.7 5.7 6-13.2 5.5 6.6 5.1-5.9 4.7 4.2 4.4 1.3 4.1-1.7 3.8 3 3.6 2.9 3.4-5.6 3.3-1.1 3.1 6.3 2.9 8 2.8-4.4 2.7 6.8 2.6 1.2 2.5-12.3 2.4-2.4 2.3 1.2 2.2 5.7 2.2-3.3 2 .3 2.1 5.8 1.9 2.4 1.9-7.8 1.8 2.5 1.8-2.3 1.7 5.3 1.7-13.1 1.7 3.6 1.6 4.6 1.5-9.4 1.6 17.6 1.5-4 1.4-5.2 1.4-2.7 1.4-3.9 1.4 12.2 1.3-6.4 1.3-12.6 1.3-14.7 1.3 27.6 1.2-2.4 1.2 7.8 1.2 1.5 1.1-7.8 1.2-5 1.1 3.1 1.1 12.7 1.1-16.6 1.1 2.9 1 5.3 1 .8 1-2.7 1 8.6 1-11.5 1-.7 .9 7.8 1-1.8 .9-4 .9 11.1 .9-.6 .9-13 .9-.2 .8 3.1 .9 2.8 .8-.5 .9-6 .8 9.3 .8-5.9 .8 5.8 .8 0 .7-1.1 .8 2.2 .8 1.4 .7-3.3 .7-2.1 .8-3.5 .7 10 .7-6 .7 6.9 .7-8 .7 1.4 .7-.9 .7 7.5 .7 .5 .6 4.3 .7-7.4 .6 5.6 .7-1 .6-6.9 .6-5.1 .7 3.1 .6 10.4 .6-6.1 .6-4.1 .6 .7 .6 3.5 .6-8.8 .6 7.8 .5-1.9 .6-.1 .6 2.5 .5 2.4 .6-8.5 .5 1.8 .6 9.8 .5-8.8 .6 .5 .5 0 .5 3 .6 .4 .5-2.3 .5-3.6 .5-2.8 .5 13.3 .5-8.3 .5 .4 .5 2.7 .5 4.6 .5-3.3 .5 1.3 .5-3.8 .5 .9 .4-3.8 .5 3.5 .5 5.9 .4-4.3 .5-1.8 .5-.4 .4-.1 .5-4.7 .4-1.6 .4 8.9 .5-1.5 .4 .4 .5-3.2 .4 5.2 .4-1.5 .5 3.6 .4-25.2 .4 26.5 .4-6.6 .4-3.5 .4 5.2 .5-.8 .4 3.3 .4 3.9 .4-7.5 .4 3.8 .4-3.4 .4-.8 .3-1.5 .4-3.9 .4 7 .4-1.1 .4 7.3 .4-8.7 .4 7.3 .3 .2 .4-6.9 .4 13.3 .3-10.1 .4-1.2 .4 3.6 .3-7.8 .4 8.4 .4-4.4 .3 7.9 .4-.1 .3-10.9 .4 .3 .3 8.1 .4-4.6 .3 7 .4-1.3 .3-8.2 .3 .3 .4 1.6 .3 2 .3-.6 .4 3.4 .3-7.4 .3 6 .4 0 .3-7 .3 7 .3 .9 .4-7.4 .3 8.7 .3-2.2 .3 10.2 .3-22.1 .3 13.6 .3 .9 .4-5.2 .3 11 .3-15.3 .3 4.3 .3 .9 .3 2.6 .3-1.8 .3-1.7 .3-.5 .3-2.1 .3 1 .3 .7 .3-2.2 .2 6.4 .3 7 .3-9.1 .3 10.4 .3-5.9 .3-.6 .3 .7 .2-9.5 .3 2.1 .3 2.3 .3 1.1 .3-3.1 .2 2.9 .3 1.3 .3-2.6 .3 5.5 .2-5.2 .3-8.2 .3 5.1 .2 7.2 .3-6.1 .3 5 .2-.9 .3-.8 .3-6.4 .2 8 .3-1.7 .2-.4 .3 2.3 .3-5.7 .2 2.5 .3-1.9 .2-10.8 .3 16.6 .2-8.6 .3 8.6 .2-14.2 .3 7.1 .2 2.1 .3 1.8 .2-3.7 .3 5.4 .2 7.6 .2-11.2 .3 1.2 .2-4.3 .3-.9 .2 7.7 .2 7.7 .3-12 .2 0 .3 6.6 .2-8.4 .2 .4 .3 5.8 .2-3.1 .2-3.6 .3 2.9 .2-1.4 .2 0 .2 4.8 .3 1.5 .2-3.1 .2-5.2 .2 10.4 .3-8.7 .2 15.7 .2-10.1 .2-8.2 .3 7.5 .2-1.9 .2-1.7 .2-3.2 .2 9 .3-1.5 .2 0 .2-1.7 .2-6.3 .2 10 .2-2.5 .2 2.1 .3 .5 .2-5.6 .2-1.6 .2-5.5 .2 9.2 .2-1.8 .2 1.4 .2-3.4 .2 1.6 .2 5.7 .2-6.9 .2-1.4 .2 1 .2 1.3 .3 .7 .2 2.8 .2 2.1 .2-1.8 .2 .2 .2-.1 .2-2.8 .2 3.7 .1-8.4 .2 4.3 .2 1.9 .2-6.1 .2 .3 .2 9.1 .2-.1 .2-5.3 .2-2.8 .2 4.1 .2-7.1 .2 10.4 .2-7.6 .2 .7 .2 3.4 .1 5.6 .2-4 .2-5.2 .2 5.3 .2-.8 .2-2.3 .2 .2 .1 2.1 .2-5.2 .2 1.8 .2 7.9 .2-6.1 .2 2.4 .1-7.9 .2 3.8 .2 1 .2 2 .2 .5 .1 .7 .2-7.6 .2 6.6 .2 1.8 .2-4.9 .1-.6 .2 3.2 .2 3 .2-7.8 .1 .4 .2 11.4 .2-4 .2-11.1 .1 10.6 .2 3.2 .2-8.7 .1 3.6 .2-4.1 .2 10 .2-12.1 .1 2.9 .2 3.9 .2 .6 .1-5 .2 5.1 .2-5.2 .1 4.7 .2-3.5 .2 7.7 .1-3.5 .2 4.2 .2-5 .1 .3 .2-1.2 .2-1.3 .1 8 .2-7.4 .1-.9 .2 5.3 .2-4.1 .1 8.3 .2-4.8 .1-.1 .2 1.5 .2-9.6 .1 2.4 .2 1.5 .1 1.8 .2-6.7 .2 2.3 .1 1.7 .2 2.1 .1 .5 .2 .1 .1-1.3 .2 5.1 .1-5.4 .2-2.5 .2 2.2 .1 4.9 .2-4.8 .1 4 .2 1.4 .1-13.3 .2 10.2 .1 1.8 .2 1.9 .1-4.3 .2 .7 .1 5.8 .2-2.1 .1-9.5 .2 7.3 .1 2.7 .2-8.7 .1 9 .2-13.7 .1 13.1 .2-3.1 .1 .6 .1-1.8 .2 4.7 .1-3 .2-5.2 .1-1.9 .2-1.1 .1 1.2 .2 3.8 .1-1.4 .1-.9 .2 4.8 .1-4.1 .2 .2 .1 1.5 .2 .4 .1-2.4 .1 5.5 .2 1.3 .1-5.7 .2-.6 .1 5.9 .1-5.9 .2 .4 .1 1.4 .2-2.4 .1 .3 .1 1 .2-2.1 .1 3.6 .1 3.9 .2-5.3 .1-1.9 .2 2.8 .1-2.7 .1 2.1 .2 3.3 .1 3.3 .1-4.5 .2 .9 .1-3.3 .1-5.8 .2 11.5 .1-2.8 .1-6.4 .2-.2 .1 5.2 .1-1.3 .2-.9 .1-5.1 .1 8.4 .2 1.2 .1-6.4 .1 5.9 .1-2.6 .2-5.7 .1 5.7 .1-.3 .2-.5 .1 4 .1-4.1 .1-1.1 .2 7.3 .1-3.9 .1-.4" fill="none" stroke="#806000" stroke-width="1.4" stroke-linejoin="round"/>
<path d="M258.7 433.5l7.4-26.2 6.7 14.3 6-6.8 5.5 4.7 5.1-3.3 4.7 8.8 4.4-1 4.1 10.2 3.8-19.4 3.6 2.5 3.4 7.3 3.3-9.1 3.1 .2 2.9-12 2.8 12.5 2.7-3.9 2.6 1.2 2.5-.8 2.4 3.9 2.3 1.9 2.2-5.5 2.2-2.6 2 11.7 2.1-.1 1.9-5.4 1.9-8.9 1.8 9.8 1.8 7.2 1.7-12.2 1.7 .3 1.7-5.8 1.6 8.5 1.5-8.6 1.6 13 1.5-7.9 1.4 3.8 1.4 6.4 1.4-4.4 1.4-7.8 1.3 1 1.3 7.3 1.3-38.3 1.3 32.1 1.2 2.9 1.2 0 1.2 5.5 1.1-3.7 1.2-1 1.1 4.2 1.1-2.2 1.1-2.2 1.1-.2 1-3.9 1 10.2 1-2.9 1-3.1 1 3.3 1-3.3 .9 4 1-7.8 .9 7 .9 4.5 .9-9 .9-4.3 .9 17.5 .8-8.6 .9-.8 .8-4.6 .9-2.1 .8 8.2 .8 6.9 .8-10.7 .8-1.5 .7 2.7 .8 2 .8 4.4 .7-15.6 .7 17.7 .8 1.6 .7-11.9 .7 3.4 .7-1.7 .7 1.6 .7-6.3 .7 1.3 .7 9.7 .7-7.4 .6 10.7 .7 2.6 .6-14 .7 8 .6 8.4 .6-10.2 .7 2.5 .6-4.3 .6 2.2 .6 2.7 .6-.1 .6-5.4 .6 6.3 .6-3.8 .5 4.2 .6-5.3 .6-4.8 .5 4.6 .6-2 .5 2.5 .6 5.4 .5-2.4 .6-1.3 .5-1.3 .5 3.9 .6-4.4 .5 5 .5-2.8 .5 .3 .5 4.3 .5-7.9 .5 3.6 .5-.2 .5 .6 .5 7.8 .5-2.6 .5-1.8 .5-6.9 .4 5.9 .5-4.4 .5 6.2 .4-.7 .5-1.3 .5-5.6 .4 10.2 .5-5.5 .4-2.1 .4 1.1 .5 .6 .4-2.9 .5 1.9 .4 4.9 .4-6.1 .5 5.3 .4-27.9 .4 16.1 .4 3.7 .4 3.9 .4 4.5 .5 0 .4-9 .4 5 .4 6.5 .4-11 .4 3.8 .4-2.7 .3 3.4 .4 9.6 .4-5.2 .4-2.2 .4 .2 .4-6.2 .4 8.1 .3-2 .4-.1 .4 .1 .3 3.6 .4 .7 .4 5.1 .3-10.7 .4 2 .4-1.5 .3 4.8 .4-3.9 .3 3.6 .4 .2 .3-4.9 .4-1.1 .3 .3 .4 2.3 .3 1.4 .3-6.6 .4 .6 .3 7 .3 1.7 .4-5.4 .3 .2 .3 4.6 .4-11.8 .3 16.2 .3-4.7 .3-4 .4-2.8 .3 10.6 .3-5.3 .3-6.9 .3 .1 .3 6.2 .3-1.1 .4 3.4 .3-4.7 .3 5.3 .3 3.7 .3-1.9 .3-5.9 .3 5.1 .3-9 .3-.6 .3 1 .3 1.3 .3-1.8 .3 3.2 .2-2.2 .3 1.5 .3-1.2 .3 6.7 .3-1.3 .3 1.2 .3-6.8 .2 1.2 .3 4.8 .3 .8 .3-1.5 .3-5.4 .2 3.6 .3 .5 .3 1.7 .3-2.1 .2-6.4 .3 8.5 .3-1.3 .2-7.6 .3 3.7 .3 6.8 .2-8.2 .3 8.7 .3-6.7 .2 11.4 .3-5.7 .2-7.1 .3 5.6 .3 .5 .2-2.9 .3 .2 .2-10.6 .3 4 .2 1.1 .3 4.3 .2 5.5 .3-2.3 .2-.9 .3-2.9 .2-4.1 .3 7.9 .2-2.5 .2 2.1 .3-2.1 .2 3.1 .3-4 .2-2.9 .2 5.8 .3-.3 .2-1.6 .3 5.3 .2-11.6 .2 11.7 .3-3.6 .2 1.9 .2-8.8 .3 7.3 .2 .1 .2-8.9 .2 7.5 .3 2.4 .2-2.9 .2-.7 .2 3.5 .3-2.1 .2 .1 .2-3.5 .2-.1 .3-.3 .2 3.6 .2-3.4 .2 3.7 .2-5.1 .3 2.8 .2 3.1 .2-6.1 .2 10.1 .2-2 .2-.6 .2-2.5 .3 4.1 .2-.1 .2 2.5 .2-7.4 .2 3.3 .2-11 .2 5.3 .2 7.1 .2-9.2 .2 4.5 .2-3.6 .2 8.1 .2-8.4 .2 .2 .3 5.7 .2 1.6 .2-1.8 .2-2.4 .2-7.9 .2 2.2 .2 1.2 .2 6.3 .1 .4 .2-2.5 .2 2.3 .2 .8 .2-1 .2-3.9 .2 3.4 .2-1.2 .2 1.9 .2-.3 .2 .5 .2-5.9 .2 3.9 .2-4.7 .2 6.1 .1-4.5 .2 9 .2-3.6 .2-1.3 .2 2.2 .2-2 .2 3 .1-2.8 .2 1.9 .2-2.5 .2 1.1 .2 2.6 .2-2.2 .1-1.6 .2 4.8 .2-5 .2-4.3 .2 5.5 .1-2.9 .2-.3 .2 5.3 .2-7.9 .2-4.4 .1 13.1 .2-11.7 .2 10.5 .2-8 .1 12.1 .2-10.9 .2 3.7 .2 5.3 .1-1.7 .2 .8 .2-.6 .1-4.7 .2 2.1 .2 8.6 .2-8.1 .1-2.9 .2 1.4 .2-5.9 .1 13 .2-7.7 .2 .8 .1-2.6 .2 7.7 .2-.1 .1-4.3 .2-.9 .2 7 .1-8 .2 1.3 .2-2.7 .1 12.4 .2-11.5 .1 5.1 .2-1.5 .2-4.7 .1-3.3 .2 5.7 .1 .9 .2-5.2 .2 8.1 .1-2.7 .2 1.3 .1 1.8 .2-4.4 .2-6.8 .1 6.6 .2-.9 .1 1.9 .2-4.3 .1 3.6 .2 3.9 .1-3.6 .2-5 .2 5.6 .1-4.7 .2 4.7 .1-7.8 .2 6.5 .1-1.4 .2 3.5 .1-4.2 .2 4 .1 4.6 .2-6.6 .1 5.6 .2-10 .1 2.6 .2 2.9 .1-2.5 .2 12.1 .1-15.3 .2 8.1 .1-4.9 .2-7 .1 15.5 .1-4.4 .2-2.8 .1-.3 .2 7.8 .1-2.8 .2-9 .1 7.7 .2-4.2 .1 7.1 .1-1.7 .2 3.4 .1-7.8 .2-3.3 .1 4 .2 1.3 .1-1.9 .1-.8 .2 2.8 .1-3.1 .2-5.2 .1-1 .1 10.3 .2 2.6 .1-11.8 .2 3.5 .1-.9 .1 2.3 .2 3.1 .1-4.5 .1-.5 .2-.2 .1 8.3 .2-7.8 .1 5.1 .1 0 .2-2.6 .1 2.6 .1-9.9 .2 6.5 .1 1.1 .1 1.7 .2-1.6 .1 1.8 .1-3 .2-1.1 .1 .1 .1 7.8 .2-3.5 .1-1.5 .1 4.8 .2-5.9 .1 1.9 .1-.7 .1-1.2 .2 3.7 .1-8 .1 1.9 .2 5.8 .1-3.7 .1-1 .1 5.5 .2-1.5 .1-3.9 .1 12.2" fill="none" stroke="#997300" stroke-width="1.4" stroke-linejoin="round"/>
<path d="M258.7 429.4l7.4-9.1 6.7 .9 6-3.2 5.5-2.5 5.1 4.6 4.7 3.4 4.4 2.3 4.1-12.7 3.8 5.4 3.6-3.2 3.4 5.5 3.3-4.4 3.1 1.9 2.9 1 2.8 4.7 2.7 .6 2.6-9.2 2.5 16.9 2.4-10 2.3-9 2.2 3.9 2.2 4.6 2 1 2.1 4 1.9-15.9 1.9 11.9 1.8-3.3 1.8-6.1 1.7 2.5 1.7 1.5 1.7 4.1 1.6-2.4 1.5 4.2 1.6-6 1.5 6.7 1.4-3.9 1.4-2.6 1.4-1.4 1.4 6.9 1.3-3.3 1.3 2.3 1.3-37.5 1.3 33.2 1.2 4.9 1.2-3.7 1.2 7.7 1.1-2.7 1.2 3.3 1.1-4.6 1.1-7.2 1.1 4.1 1.1 1.8 1-2.3 1 2.8 1-2.1 1 7.4 1-6.4 1 4.5 .9-4.8 1 .9 .9-.9 .9 7 .9-14 .9 11.9 .9-1.8 .8 .1 .9 1.3 .8 4 .9-7.7 .8-3 .8 5.8 .8 9 .8-4.7 .7-6.1 .8 7.7 .8-3 .7-.1 .7 .1 .8-5.2 .7-2.7 .7 13.5 .7-.8 .7-14.8 .7 4.7 .7 2.1 .7 4.8 .7-3.8 .6 8.3 .7-18.5 .6 8.4 .7-.6 .6 1.7 .6-4.5 .7 5.6 .6-.1 .6 3.8 .6-2.4 .6-1.2 .6-4 .6 7.1 .6 1.1 .5-.3 .6 .1 .6-8 .5 13.2 .6-6.6 .5-4.6 .6 .6 .5 4.6 .6-.9 .5 4.5 .5-1.8 .6 5.1 .5-9.7 .5 3 .5 1.2 .5 0 .5 .4 .5-1.9 .5 .1 .5-7.3 .5 8.7 .5-2 .5-.5 .5-3.2 .4 1.4 .5-2 .5 3.1 .4 .1 .5-.6 .5 .9 .4 1.3 .5 1.3 .4 4.3 .4-7.8 .5 4.1 .4-2.4 .5-4.6 .4 10.5 .4-8.1 .5 1.8 .4-19.2 .4 24.8 .4-8.2 .4 3.8 .4-5.8 .5 7.4 .4-4.4 .4 2.5 .4 7.6 .4-9.3 .4 6.5 .4 .9 .3-7.7 .4 7.7 .4 0 .4-5.4 .4 2.4 .4 2.2 .4-7.7 .3 3.6 .4-2 .4-2.5 .3 4.5 .4-8.6 .4 12.7 .3-7.3 .4-.4 .4 8.8 .3-7 .4 9.4 .3-12 .4 4.1 .3 1.3 .4 .4 .3 1.4 .4-4.7 .3 2.2 .3 2.2 .4 10.3 .3-14 .3 .2 .4-2.3 .3 3.8 .3 4.3 .4-3.9 .3 2.8 .3-8.6 .3 4.6 .4 4.1 .3 1.4 .3-7.1 .3 2.2 .3 11.3 .3-6 .3-7.9 .4 9.9 .3-4.4 .3-3.3 .3-.4 .3-4.9 .3 1.3 .3 5.4 .3-4.3 .3 1.9 .3 .1 .3-2.4 .3 4.1 .3-2.6 .2-.9 .3 4.5 .3-3 .3 6.1 .3-3.9 .3 .5 .3-1.3 .2-6 .3 4.1 .3 3.6 .3-1.9 .3-.4 .2-2.1 .3 1.4 .3 2.5 .3-2.9 .2 6 .3 2.6 .3-9.1 .2 4.4 .3-1.8 .3 5.9 .2-3.4 .3 .4 .3 0 .2-8.9 .3 9.5 .2-6.7 .3 4.1 .3-3.1 .2 8.1 .3-5.5 .2-13.2 .3 12 .2-1.5 .3 1.5 .2 1.5 .3 3.3 .2-2.7 .3-.5 .2-2.3 .3-6.7 .2 4.5 .2 4.2 .3-2.1 .2 8.4 .3-5.7 .2 3.4 .2-6 .3 8.8 .2-7.7 .3 11.9 .2-18 .2 1.9 .3 10.1 .2-8 .2 3.3 .3-8.1 .2 3.3 .2 4.1 .2 .2 .3-3.1 .2 7.3 .2-7.7 .2 2.7 .3 4.5 .2-1 .2 .4 .2-1.2 .3-9.3 .2 8.6 .2-2.2 .2 4.6 .2-8.3 .3 3.7 .2-4.4 .2 11.2 .2-3.7 .2-2.4 .2-.8 .2-.5 .3-.6 .2 3.1 .2-.6 .2 3.9 .2-3.7 .2 2 .2-6.1 .2 1.7 .2 3.1 .2-3.1 .2 4.6 .2-2.3 .2 1.8 .2-5.6 .3 4.2 .2-2.8 .2 3.1 .2 4.2 .2-8 .2 1.9 .2-1.4 .2 6.6 .1 4.1 .2-7 .2-3.1 .2 9 .2-15.6 .2 5.6 .2-1.1 .2 8 .2-7.5 .2 2.5 .2-3.8 .2-.5 .2 10.2 .2-1.7 .2 .1 .1-1.5 .2-.9 .2-3.7 .2 7.8 .2 .4 .2-6.8 .2 4.8 .1-5 .2 1.2 .2-4.4 .2 9 .2-2.1 .2-7 .1 4 .2 5.7 .2-6.2 .2 8.6 .2-2.2 .1-7.2 .2-1 .2-2.6 .2 6.3 .2 2 .1-7.9 .2 1.9 .2 3.9 .2-1.5 .1 2.7 .2-5.7 .2 4.5 .2-.9 .1-6.3 .2 12.1 .2 1.9 .1-10.2 .2 9 .2 5.9 .2-10.9 .1-7.6 .2 3.8 .2 3.7 .1 2 .2-4.1 .2 5.2 .1 3.4 .2-5.5 .2-2.7 .1-1.8 .2 3.7 .2 .2 .1 5 .2-3.9 .2 .5 .1-2.9 .2-2.1 .1 9.2 .2-7.5 .2 5.2 .1-10.1 .2 9.2 .1-5.7 .2-.9 .2 2.1 .1 .2 .2 4.8 .1-10.3 .2 5.2 .2 2.5 .1-3.1 .2-1.8 .1 .3 .2 7.1 .1-5.3 .2 2 .1-3.3 .2 2.7 .2 5 .1 .2 .2-5.1 .1 2.1 .2-.5 .1 1.5 .2-6.8 .1 3.1 .2 2.4 .1-6.9 .2 5.7 .1-5.8 .2 5.7 .1 1.4 .2-6.1 .1-.2 .2 6 .1-2.3 .2-6.1 .1 .7 .2 8.4 .1-.4 .1-6.2 .2-7.3 .1 13.4 .2 3.5 .1-3.6 .2-4.5 .1 4.2 .2-2.8 .1 3.7 .1 .2 .2-4.4 .1 5 .2 .8 .1-5.4 .2-2 .1 4.4 .1-.4 .2 1.8 .1 0 .2-1.2 .1-3.5 .1 4.3 .2-5.6 .1 7.8 .2 3.8 .1-10.6 .1 7 .2-8.6 .1 7.2 .1-.8 .2-5.9 .1 2 .2 2.3 .1-4.7 .1 .9 .2 3.8 .1 1 .1 3.4 .2-5.3 .1-3.7 .1-1.5 .2-.5 .1 5.8 .1-3.9 .2 7.6 .1-9.4 .1 2.8 .2 6.9 .1-2.4 .1-1.1 .2-1.8 .1 2.2 .1 1.4 .1-5 .2 3.6 .1 4.5 .1-1 .2-11 .1 5.8 .1 1 .1 2.6 .2 .3 .1-.5 .1-5.8" fill="none" stroke="#9E480E" stroke-width="1.4" stroke-linejoin="round"/>
<path d="M258.7 432.2l7.4-16.9 6.7 10.6 6-10.4 5.5-.4 5.1-.4 4.7-.8 4.4-4.8 4.1 7.3 3.8 4.9 3.6 4.1 3.4 2.4 3.3-10.6 3.1-4.2 2.9 12 2.8-9.3 2.7 4 2.6-2.4 2.5-2.3 2.4 .9 2.3 5.9 2.2-9.4 2.2 4.3 2 8.4 2.1-12.8 1.9-3.8 1.9 9.4 1.8-9.6 1.8 15.4 1.7-6.4 1.7-7.5 1.7-.1 1.6 3.9 1.5-2.7 1.6 7.1 1.5-5.4 1.4-1.2 1.4 .1 1.4 2.7 1.4-2.2 1.3 2 1.3-.9 1.3-31.9 1.3 39.4 1.2-2.7 1.2-2.1 1.2-.9 1.1 7.5 1.2-3.8 1.1-3.7 1.1 3.1 1.1-2.1 1.1-1 1 .3 1 3.8 1-3.4 1-1.7 1 9 1-9.7 .9 8.7 1-6.4 .9-1.1 .9 0 .9 8.9 .9-1.1 .9 1.4 .8-8.3 .9 2.2 .8 9.5 .9-12.1 .8-2.1 .8 8.4 .8-2 .8-1.5 .7 6.2 .8-2.7 .8-4.6 .7 4.4 .7-1.5 .8-.5 .7-7.6 .7 7.1 .7-.2 .7 4 .7-8.2 .7 5.8 .7 .5 .7-6.3 .6-.1 .7 11.1 .6-2.9 .7-7.6 .6 8.6 .6-8 .7 6.5 .6-7.7 .6 10.9 .6 3.7 .6-1.8 .6-12.6 .6 10.1 .6-1 .5 .6 .6 .7 .6-3.3 .5 .2 .6 2.9 .5-.3 .6-6.8 .5 1.5 .6-.1 .5-.9 .5 5.4 .6-3.9 .5-2.7 .5 9.2 .5-8 .5 14.1 .5-1.9 .5-1.6 .5-1.7 .5 0 .5-1.7 .5-4.8 .5 5.8 .5-1.2 .4 3.5 .5 1.1 .5-5.1 .4 2.1 .5-6 .5 2.9 .4 7.2 .5-9.3 .4 7.2 .4-2.9 .5 2.4 .4-.7 .5-.8 .4 2.3 .4-1.7 .5-1.6 .4-23.6 .4 16.1 .4 12.6 .4-4.4 .4-5.9 .5 8.7 .4-3.5 .4-3.2 .4-3 .4 3.6 .4 1 .4 1.8 .3-2.8 .4 2 .4-.9 .4 3.7 .4-1.8 .4 2.8 .4 .8 .3-.8 .4 0 .4-.6 .3-.2 .4 3.5 .4-6.7 .3 0 .4-4.5 .4 14.5 .3-3.5 .4-1.6 .3-.3 .4-3.4 .3 3.4 .4-.2 .3-5.5 .4 3.4 .3 5.4 .3-9.5 .4-4.7 .3 4.2 .3 4.8 .4-5.6 .3 5.3 .3 1 .4-2.2 .3-3.9 .3 4.4 .3 1.5 .4 4 .3-5.8 .3 4.7 .3-3.6 .3 4.7 .3-1.9 .3 .4 .4-1.1 .3 1.7 .3-8.7 .3 1.6 .3 4.1 .3 2.6 .3-7.8 .3 4.9 .3-3 .3-1.6 .3 5.2 .3-3.1 .3 0 .2 3.2 .3-1 .3 1.7 .3 10.2 .3-11 .3-7.6 .3 2.4 .2-6.3 .3 9.7 .3-3 .3 5.6 .3 .5 .2 .4 .3-4.9 .3-1.1 .3 9.8 .2-9.6 .3-.7 .3 .4 .2 7.6 .3-5.4 .3-.5 .2 6.1 .3-.7 .3-12.3 .2 10.6 .3-.7 .2 5.4 .3-4.9 .3-7.3 .2 3.6 .3 4.5 .2-17 .3 11.8 .2 5.8 .3-5.1 .2 3.9 .3-.6 .2 1.3 .3-.2 .2-4.8 .3 8.3 .2-7.2 .2-9.3 .3 13.3 .2-2.2 .3-.8 .2-6 .2 11 .3-7.3 .2 2.4 .3-7.6 .2 8 .2-8.1 .3 10.9 .2-4.9 .2 5.4 .3-1.9 .2 2.4 .2-3.1 .2-7.1 .3 7.6 .2-11 .2 3.1 .2 4.8 .3 1.1 .2-1.1 .2 3.9 .2-4.9 .3 1.8 .2 7.5 .2-7.3 .2-2 .2 1.9 .3-.9 .2 1.1 .2 1.8 .2-5.6 .2-1.3 .2 6.3 .2-4.1 .3 6.9 .2-8.5 .2 7.6 .2-3.2 .2-3.3 .2 5.3 .2-2 .2-3.5 .2 5.7 .2-3.3 .2-2.8 .2 3.1 .2 3.8 .2-1.4 .3-.5 .2-1 .2-2.2 .2 7.9 .2-5.4 .2-1 .2-4.7 .2 10.8 .1-2.1 .2-6.5 .2 3.4 .2-4.1 .2 4.1 .2 2.2 .2-2.1 .2-4.7 .2 1.8 .2 1.9 .2 .2 .2-3.4 .2 1.7 .2 1.4 .2-1.8 .1 2.3 .2 4.4 .2-7.3 .2-1.1 .2-.7 .2 5.3 .2 4.1 .1-5.8 .2 3.6 .2 4.6 .2-7.3 .2 3.3 .2-3 .1 2 .2-4.7 .2-.1 .2 1.2 .2-2.4 .1 6.2 .2-10.5 .2 14.8 .2-8.9 .2-1.1 .1 5.2 .2-1.9 .2 4.8 .2-2.8 .1-2.6 .2 5.6 .2 2.5 .2-5.8 .1 1.8 .2 .4 .2-2.8 .1 4.3 .2-8.9 .2-.2 .2 4 .1 2.3 .2-1.9 .2 .1 .1 2.5 .2-.5 .2-3.9 .1 4.8 .2-.9 .2-.7 .1 2 .2-4.6 .2 5.6 .1-8 .2 .8 .2 2.7 .1-3.2 .2-.9 .1 5.4 .2-1.2 .2 2 .1-.9 .2 .1 .1-1.7 .2-1.6 .2-6 .1 6.7 .2-2.2 .1 4.2 .2-6.8 .2 5.5 .1 1.1 .2 .4 .1-1.1 .2 1.5 .1-2.1 .2-5.6 .1 6 .2 3 .2 3.9 .1-6.2 .2 3.2 .1-.9 .2-3.2 .1-.7 .2-.5 .1-2.4 .2 7.5 .1-1.1 .2 .8 .1 .5 .2-1.3 .1 .7 .2-5.5 .1 6.3 .2-11.6 .1 15.2 .2-10.4 .1 8.6 .2-3.9 .1 2.7 .1-4.4 .2-1.7 .1 3.2 .2 .9 .1 1.2 .2-.6 .1 .1 .2-.7 .1-2.6 .1-2.9 .2 5.6 .1 4.8 .2-5.9 .1-4.3 .2 6.6 .1-4.9 .1 5.4 .2 .4 .1-5.3 .2 7.4 .1-5.2 .1 8.2 .2-5.9 .1-5.1 .2 3.2 .1 .7 .1-4.4 .2 5.2 .1 .8 .1-2.6 .2-1.2 .1-.8 .2 1.2 .1-4.9 .1 2.2 .2 2.5 .1-8.7 .1 13.8 .2-6.4 .1 3.6 .1-10.4 .2 6.6 .1-1.9 .1 1.5 .2-3.8 .1 7.2 .1-5.2 .2 9.4 .1-8.2 .1-2 .2 .9 .1 1 .1 8.8 .1-7 .2 1.5 .1-6.6 .1 3.5 .2-.4 .1-2.3 .1 2.8 .1 6.7 .2-2 .1 4.6 .1-11.8" fill="none" stroke="#997300" stroke-width="1.4" stroke-linejoin="round"/>
<path d="M258.7 424.5l7.4-8.3 6.7-1.8 6 9.1 5.5-3.8 5.1-8.4 4.7 8.3 4.4-12.2 4.1 7.2 3.8 6.1 3.6-3.6 3.4 .2 3.3 6.7 3.1-9.3 2.9 9.2 2.8-4 2.7-5 2.6 10 2.5-5.3 2.4 3.3 2.3-1 2.2-1.3 2.2-2.5 2-3.3 2.1 4.8 1.9 1.3 1.9 4.5 1.8-10.2 1.8 9.1 1.7-1.6 1.7 1.2 1.7-6.9 1.6 6.2 1.5-4.7 1.6 5 1.5-9.9 1.4 9.1 1.4-5.5 1.4-3.7 1.4 4.4 1.3-1.3 1.3 7.1 1.3-33.3 1.3 28 1.2 3.9 1.2-3 1.2 0 1.1 5.6 1.2-3.2 1.1 3.8 1.1-14.7 1.1 11.3 1.1 1 1 6.5 1-18.2 1 15.3 1 0 1-8.7 1-.7 .9 2.4 1 5.2 .9-8.9 .9-2 .9 7.8 .9-4 .9 2.3 .8 11.6 .9-9.9 .8 2.8 .9 .3 .8-.1 .8 1.4 .8 .7 .8-.2 .7-8.3 .8 6.6 .8-.7 .7-4.6 .7-.1 .8 5.6 .7-1.3 .7-5.6 .7 11.6 .7 4.6 .7-13.7 .7 1.8 .7 3.1 .7 4.7 .6-2.8 .7 4.2 .6-7.9 .7 .5 .6-.9 .6-.9 .7 1.6 .6-1.4 .6 2.2 .6 .1 .6 6.8 .6-5.2 .6-1.7 .6-.5 .5 1.7 .6 1.3 .6-4.1 .5-.5 .6 5.2 .5-8 .6 10.7 .5-4.2 .6 .4 .5-1.1 .5-.9 .6 4.9 .5-4.1 .5 2.4 .5 2.7 .5-6 .5 1.1 .5-.3 .5-6.7 .5 11.4 .5-8 .5 4.7 .5 .6 .5 4.5 .4-2.7 .5-2.5 .5 2.9 .4 .6 .5-2.6 .5 .6 .4-.5 .5-2.1 .4 1.4 .4 4.6 .5-2.7 .4-7.7 .5 9.3 .4-2.5 .4-.2 .5-.3 .4-21 .4 13.9 .4 9.2 .4 6.6 .4-5.9 .5 3 .4-4 .4-4.4 .4 .7 .4 5.4 .4-.5 .4-.4 .3 .9 .4-1.3 .4 .7 .4 1.8 .4-4.1 .4 1.5 .4-1 .3-.4 .4-5.5 .4 3.7 .3-1.4 .4-1.4 .4 5.2 .3 .5 .4 5.7 .4-9.8 .3 4.3 .4 4.2 .3-8.6 .4-.3 .3 3.5 .4 1.3 .3-5.2 .4 5.5 .3 6.5 .3-1.6 .4-5.4 .3-4.9 .3 2.2 .4-2 .3 6.7 .3 2.3 .4-4.7 .3 2.2 .3-3.2 .3-.9 .4-4 .3 7.2 .3-.9 .3 5.1 .3-.7 .3-3.2 .3 .5 .4-4.1 .3 3 .3 3.3 .3-3.8 .3-1.7 .3-1 .3 1.6 .3-1.2 .3-3.1 .3 3.8 .3 2.8 .3 1 .3-6.1 .2 4.8 .3 7 .3-10.4 .3 4.7 .3 .9 .3-3.2 .3 5.9 .2-5.5 .3-1.8 .3 1.9 .3 5.4 .3-4.6 .2-.4 .3-1 .3 2.2 .3-3.8 .2 6.5 .3-4 .3 .2 .2 2.8 .3-8.4 .3 3.7 .2 .1 .3 6.8 .3-9.9 .2 5.6 .3 .1 .2-8 .3 2.6 .3 .3 .2 7.9 .3-6.4 .2-13.1 .3 14.6 .2 4.1 .3-12.3 .2 6.2 .3 1.7 .2 1.1 .3 5.6 .2-6.1 .3-1.6 .2-4.5 .2 13.7 .3-11.7 .2 6.5 .3-7.7 .2 2.1 .2 7.2 .3 1.5 .2-5.9 .3 4.6 .2-8.4 .2 4.7 .3 4.3 .2-6.7 .2 .6 .3 5.9 .2-7.5 .2 3.8 .2-7.1 .3 10.6 .2-4 .2-1.3 .2 4.9 .3-1.1 .2-7.6 .2 5.7 .2-.1 .3 5.1 .2-8.8 .2-2.1 .2 7.1 .2-3.3 .3 1.5 .2-4 .2 3.9 .2 4.2 .2-4.1 .2-1.7 .2-.3 .3 7.4 .2-9.3 .2 8.9 .2-8.3 .2 1.6 .2 4.2 .2-3.8 .2-.4 .2 3.4 .2-6.3 .2 3.7 .2-.5 .2 .6 .2 4.2 .3-.8 .2-1.8 .2-1 .2 3.8 .2-2.5 .2-.8 .2-3.3 .2 .1 .1-1.2 .2 6.8 .2-6.9 .2 5 .2 1.3 .2-.4 .2-.5 .2-1.7 .2 2.4 .2 2.5 .2-1.6 .2-4.7 .2 5.7 .2-13.5 .2 14.8 .1-6.6 .2 4.3 .2-2.8 .2-5.7 .2 3.6 .2-.1 .2-2.8 .1 1.5 .2 9.3 .2-11.7 .2 3.8 .2 5.8 .2-2.5 .1-4.5 .2 1.1 .2 1.1 .2-1.6 .2 4.4 .1-12.5 .2 9.7 .2 5.2 .2-9 .2 13.6 .1-12.1 .2-.8 .2 1.6 .2 2.6 .1 .1 .2-3.5 .2 4.5 .2-1 .1 .7 .2-2.7 .2 .6 .1-1.4 .2 10.7 .2-12.5 .2 6.2 .1-7.6 .2 1.9 .2 9.9 .1-6.2 .2 2.9 .2 .4 .1-4.5 .2-.8 .2-1.7 .1 1.5 .2 4.2 .2-11.1 .1 2.9 .2 4.1 .2 .6 .1 .1 .2-1.1 .1 3.5 .2 2.8 .2-1.3 .1 0 .2-4.8 .1-1.5 .2-.8 .2 7.8 .1-7 .2 2.9 .1 2 .2 1.7 .2-4.6 .1-3.1 .2 6.8 .1-3.5 .2-2.5 .1-.5 .2 4 .1-1.5 .2 1 .2 5.4 .1-4.3 .2-1.4 .1-3.6 .2 6.9 .1-7.5 .2-1.3 .1 4.4 .2 4.4 .1-2.9 .2 2.1 .1-6.3 .2-1.8 .1 2.2 .2 3.9 .1-3.1 .2 .1 .1 1.9 .2-.5 .1 2.8 .2-2.6 .1-2.1 .1 5.5 .2 .2 .1-2.5 .2-4 .1 4.9 .2-.8 .1 3.4 .2 4.4 .1-9.4 .1 9.2 .2-7.5 .1-2.3 .2 7.2 .1-1.1 .2 .2 .1 .1 .1-3.6 .2-2.4 .1 1.6 .2 .4 .1 2 .1-.6 .2-7.4 .1 13.2 .2-12.3 .1-1.9 .1 7.9 .2 0 .1 2.3 .1-4.9 .2 2.9 .1-1.8 .2 1.2 .1-.6 .1 4.7 .2-5.4 .1 .4 .1-7.3 .2 5 .1 6.1 .1-3.9 .2 4.3 .1-3.4 .1 6.5 .2-2.7 .1-8.5 .1 6.2 .2-3.2 .1 3.4 .1-2.4 .2 1.4 .1 2.2 .1 4 .1-6.8 .2 6.6 .1-1.9 .1-3.8 .2 4.7 .1-5.2 .1 5.3 .1-10 .2 6.8 .1 0 .1 1.5" fill="none" stroke="#806000" stroke-width="1.4" stroke-linejoin="round"/>
<path d="M258.7 445.1l7.4-32.6 6.7 7.6 6 5.3 5.5 1.5 5.1-10.1 4.7-6.1 4.4 1 4.1-1.8 3.8-2 3.6 8.2 3.4-4.7 3.3 11.6 3.1-9 2.9 2.5 2.8 3.3 2.7 2.7 2.6 3.7 2.5-6.1 2.4-5.4 2.3 7.9 2.2-4.4 2.2 5.8 2-4.4 2.1 6 1.9-6.6 1.9 2.8 1.8-2.5 1.8 4.4 1.7 2.7 1.7-4 1.7-6.6 1.6-2.6 1.5 9.2 1.6-5.4 1.5 .2 1.4 1.7 1.4 9.3 1.4-9 1.4 6.2 1.3-10.3 1.3 1.9 1.3-16 1.3 16.8 1.2-.4 1.2 9.5 1.2-10.8 1.1 4.3 1.2 1.3 1.1 2.5 1.1 1.5 1.1-2.8 1.1-16.9 1 14 1 .1 1 4.3 1 0 1-.2 1 1.7 .9-8.3 1 5.7 .9-5.3 .9 9.8 .9-9.9 .9 4.7 .9-3.2 .8 3.9 .9 3.9 .8-10 .9 8 .8-1.2 .8 3.6 .8-5.1 .8 3 .7-3.1 .8-.2 .8 5.1 .7 3.5 .7-8.7 .8-2.2 .7 1.2 .7 8.9 .7-8.3 .7 1.2 .7 .5 .7-.5 .7 3.7 .7-2.5 .6-3.3 .7 6.9 .6 4.6 .7-6.3 .6-1.3 .6 7.7 .7-4.2 .6-4.6 .6 2.7 .6-.8 .6 5 .6-7.9 .6-3.1 .6 7.2 .5 2 .6 1.6 .6-7.4 .5 2.9 .6 3.3 .5-7.3 .6 1.7 .5 .6 .6 8.8 .5-6.1 .5-2.6 .6 6.8 .5-7.9 .5-1.8 .5 1.5 .5 6.5 .5 0 .5-6 .5-.2 .5-.8 .5 .1 .5 4.8 .5 1.2 .5 5.4 .4-9.7 .5-5.5 .5 10.1 .4 .1 .5-4.1 .5 1.1 .4 6.4 .5-2.4 .4 1.5 .4-11.5 .5 10.2 .4-5.8 .5-3.9 .4 .1 .4 1.8 .5-.7 .4-14.2 .4 22.9 .4-1.6 .4-10.6 .4 15.8 .5-8.2 .4 6.6 .4-9.4 .4 .2 .4 6.7 .4-9.5 .4 7.4 .3-4.5 .4 3.6 .4 3.3 .4-.6 .4-1 .4-2.7 .4 1.9 .3-8.2 .4 9.4 .4 1 .3 1 .4 .2 .4 2.5 .3-1.6 .4-7 .4 3.2 .3 .8 .4-1.9 .3-2.6 .4 1.7 .3-.5 .4 4.9 .3-1.1 .4 1.9 .3-2.4 .3 2.7 .4-1.7 .3-.7 .3 .2 .4 .2 .3 .8 .3-6.6 .4 6.1 .3 2.5 .3-4.5 .3 4.7 .4 0 .3-4.3 .3 6.5 .3 5.7 .3-12.9 .3-2.8 .3 10 .4-2.9 .3-5.4 .3 9.4 .3-4.1 .3 1.3 .3-3.7 .3 6.5 .3-10.6 .3 3.9 .3-1.7 .3 2.3 .3 6.6 .3-7.2 .2 4.4 .3-5 .3 3.2 .3-2 .3-.4 .3-3.6 .3 0 .2 6.5 .3-3.6 .3-5.4 .3 3.5 .3 4.5 .2-2.2 .3 .8 .3-4.7 .3 3.3 .2-1.2 .3-6.8 .3 13.2 .2-1.3 .3 2.6 .3-.5 .2-9 .3 2.1 .3-5 .2 13.3 .3-4 .2-8.6 .3 1.5 .3 .6 .2 0 .3 3.1 .2-12.8 .3 9.8 .2 3.7 .3-1.7 .2-4.2 .3 9.5 .2-1.4 .3-4.8 .2 3 .3-.4 .2-8.3 .2 6.2 .3 3.1 .2-5.6 .3-5.2 .2 13.3 .2-1.6 .3-2.9 .2 2.8 .3-10.4 .2 6.1 .2 3.4 .3-3.3 .2 4.8 .2-.7 .3-2.7 .2-8.4 .2 17.1 .2-9.8 .3-3.4 .2 2.2 .2-4.3 .2 5.4 .3 1.1 .2 1 .2 2.7 .2-9.2 .3 10.4 .2-3.9 .2 1.5 .2 .9 .2 5.3 .3-6.8 .2-1.9 .2 0 .2-2.6 .2 3.7 .2 1.8 .2-3.5 .3-1.3 .2 5.8 .2 2.2 .2-1.8 .2-7.7 .2 .3 .2 6.9 .2-3.7 .2-2.7 .2-1.8 .2 7.4 .2-1.6 .2-6.1 .2-3.6 .3 3.2 .2 9.8 .2-5.8 .2 2.7 .2-.9 .2 2.3 .2-.7 .2-1.7 .1-6.7 .2 4.1 .2 1 .2 1.4 .2 2.9 .2-1.9 .2-5.4 .2 1.5 .2-4.2 .2 6.3 .2 1 .2 5.9 .2-7.4 .2 7.8 .2-12 .1 7.9 .2-2.3 .2 5 .2-3.1 .2 1.6 .2-7.6 .2 3.2 .1 5.3 .2 2.7 .2-6.8 .2 1.5 .2 2.3 .2-6.2 .1 2.8 .2-1.1 .2 2.6 .2-.1 .2-.4 .1 4.2 .2-8.2 .2 .8 .2 7.9 .2-6.7 .1-3.9 .2 3.4 .2-3.9 .2 5.7 .1-1 .2 4.8 .2-1.4 .2 3.3 .1-3.4 .2-4.2 .2-1 .1-2.4 .2 3.8 .2 4.2 .2-5.3 .1 2.2 .2-7.1 .2-.7 .1 3.7 .2 7.7 .2-2.2 .1-2.7 .2 3.4 .2-4.6 .1-.6 .2-.6 .2 2.3 .1 4.1 .2-.2 .2-2.6 .1-5.4 .2-.9 .1 2.2 .2 2.3 .2-1.2 .1-.5 .2-1.7 .1 1.6 .2 8.8 .2-9.2 .1 2.1 .2 3.1 .1-3.6 .2 .9 .2 1.2 .1 6 .2-6.6 .1-1.6 .2 2.2 .1 5.7 .2-7.6 .1-.9 .2 2 .2-.9 .1 2.8 .2 1.2 .1-4.4 .2 3.2 .1-1.9 .2-11.3 .1 9.3 .2 2.1 .1 6.5 .2-6.3 .1-2.5 .2 5.4 .1-1.7 .2 7.4 .1-10.3 .2 4.2 .1-4.7 .2-2.5 .1 5.6 .2-4.2 .1 2.7 .1 1.7 .2 .3 .1 2.1 .2-7.9 .1 1.5 .2 6.9 .1-6.8 .2 5.8 .1 2.9 .1-10 .2 9.1 .1-9 .2 3.6 .1-2.6 .2 1.4 .1-2.3 .1 3 .2-.9 .1 1.2 .2-3.1 .1 5.5 .1-5.2 .2-1.8 .1 5.8 .2-1.9 .1 3.5 .1-.8 .2-2 .1 2.2 .1 2 .2-3.2 .1-.8 .2-.5 .1-1.4 .1 9.2 .2-11.8 .1 5.9 .1 2.2 .2-1.5 .1-3 .1-1.6 .2 4.6 .1-2 .1 6.5 .2-6.5 .1 1 .1 1.2 .2-4.8 .1-3.4 .1 2.8 .2 6.7 .1-8.5 .1 6.9 .1-1.1 .2 2 .1-3.8 .1-.4 .2 1.5 .1 1.3 .1-.2 .1 .9 .2-5 .1 5.4 .1-1.3" fill="none" stroke="#7F6000" stroke-width="1.4" stroke-linejoin="round"/>
<path d="M258.7 438.2l7.4-25.5 6.7 9.4 6-4.9 5.5-3.8 5.1 8.7 4.7-2.8 4.4 4.5 4.1-2.7 3.8-6.1 3.6 2.8 3.4 2.1 3.3 .9 3.1-9.1 2.9 4.5 2.8 10.5 2.7-15.8 2.6 12.8 2.5-1.3 2.4 1.7 2.3 .4 2.2-5.9 2.2 10.1 2-7.2 2.1 1.8 1.9-10 1.9 6.5 1.8-.2 1.8-.5 1.7-.3 1.7 2.3 1.7 12.5 1.6-14 1.5 3.6 1.6-4.9 1.5 1.9 1.4 4.1 1.4 1.7 1.4 .6 1.4-6.3 1.3 1.9 1.3 3.8 1.3-38 1.3 36.9 1.2-2.6 1.2 2.3 1.2 9.6 1.1-13 1.2 .2 1.1-3.6 1.1-2.4 1.1 9.8 1.1-6.4 1 1.8 1 1 1-3.5 1 0 1 10.5 1-13.2 .9 8.2 1 2.5 .9 .2 .9-2.1 .9 4.5 .9-10.6 .9 3.4 .8 6.5 .9-8.2 .8 3 .9 .8 .8-4.1 .8 5.2 .8 1 .8-3.6 .7 11.4 .8-3 .8-8.1 .7-2.6 .7 13.4 .8-8.1 .7 3.4 .7-1.7 .7-4.2 .7-4.2 .7-1.2 .7 4 .7 1.6 .7 2.5 .6 9.8 .7-10.8 .6 7.8 .7-.3 .6-5.9 .6 6.5 .7-12.4 .6 4.4 .6 .9 .6-.4 .6 .9 .6 .7 .6-2.4 .6 5.2 .5-3.5 .6 .4 .6-2.2 .5 7 .6-5 .5 1.5 .6-2.8 .5 .4 .6 1.3 .5-1 .5 .1 .6-3.4 .5 4 .5-.8 .5 5.4 .5-2.6 .5-3.6 .5-1 .5 7.5 .5-3.4 .5 .8 .5-1.1 .5 2 .5-.2 .4-1.3 .5-.7 .5-3.3 .4 7 .5 .4 .5-6.4 .4 1.1 .5 2.5 .4 3.6 .4-8.1 .5 7.9 .4-8.1 .5 3.3 .4 1.4 .4 .2 .5-3.7 .4-12.9 .4 18.6 .4 5.3 .4-9.3 .4-1.9 .5-.4 .4 8.8 .4-12.8 .4 1.2 .4 7.1 .4 6.9 .4-4 .3-7.1 .4-3.7 .4 9.6 .4 4.8 .4-3.2 .4-10.6 .4 7.1 .3 5.2 .4 2.6 .4-10.1 .3-.6 .4 4.8 .4-1 .3-1 .4 1.5 .4 .8 .3 .1 .4 .1 .3-6.7 .4 3.1 .3-2.3 .4-3 .3 15.3 .4-8.2 .3-3.8 .3 4.4 .4 1.4 .3-3.6 .3 3.4 .4 1.2 .3-2 .3-1.3 .4 .1 .3-3.3 .3 3.3 .3 1.8 .4-13 .3 12.1 .3 .2 .3-.5 .3 2 .3 3.3 .3-6.6 .4-4.6 .3 12.1 .3-3.9 .3-4.4 .3 4.1 .3-4.5 .3 2.1 .3 3.9 .3-3.2 .3 1.1 .3-3.9 .3 11.3 .3-10.9 .2-3.3 .3 4.3 .3-.3 .3 2.8 .3-3.2 .3 1.8 .3 4.2 .2-.4 .3 4.2 .3-10.1 .3 .9 .3-3.3 .2 3 .3-1.6 .3 7.5 .3 2 .2-4.8 .3-.9 .3-2.6 .2 1.9 .3 .1 .3-.8 .2-.8 .3 .2 .3-.4 .2 3 .3-1.5 .2 5.1 .3-1.3 .3-3.1 .2-2.6 .3 4.4 .2-18.7 .3 18.9 .2 3.3 .3-2.8 .2 .8 .3 4.6 .2-7.5 .3-7.6 .2 8.9 .3 .3 .2-7.2 .2 3.8 .3 .7 .2-5.3 .3 9.3 .2-4.1 .2-2.1 .3 1.1 .2 5.1 .3-.9 .2-10 .2 6.9 .3 .6 .2-4.9 .2 10.6 .3-6.4 .2 6.3 .2-11.7 .2 8.8 .3-4 .2 3.8 .2-3.9 .2-.7 .3 1.1 .2 1.2 .2-2.1 .2 1.9 .3 .9 .2-4.2 .2-.8 .2 8.1 .2-1.2 .3-.9 .2-3.9 .2 6.2 .2-10.9 .2 5.6 .2-.4 .2-2.7 .3 6 .2-4.1 .2-.1 .2-3.3 .2 8.6 .2-8.9 .2 2.9 .2 1.2 .2-3 .2 4.9 .2-.2 .2-3.8 .2 4.3 .2-5.2 .3-1.1 .2 4.2 .2 .2 .2 3 .2 1 .2-8.6 .2 9 .2-4.1 .1-.7 .2 4.3 .2-.8 .2 .1 .2-10.4 .2 6.5 .2-3.8 .2-2.3 .2 3.7 .2-1.1 .2 6.4 .2 1 .2-7.9 .2-.1 .2 9.2 .1-8 .2 3.1 .2-1.8 .2-.6 .2-3.5 .2 9.3 .2-2.3 .1-4.6 .2 5.5 .2-2.9 .2 2.3 .2 5.9 .2-4.2 .1-5.3 .2 5.3 .2 3.6 .2-3.8 .2-2.2 .1-1.4 .2 .6 .2-.8 .2 5.9 .2-1.7 .1 .6 .2-1.2 .2-3.2 .2-3.3 .1 5.7 .2-4.7 .2-.2 .2 8.3 .1-1.2 .2-3.6 .2 5.6 .1-11.9 .2 13.7 .2-2.3 .2-7.4 .1 5.6 .2-5.4 .2 6.3 .1-7.5 .2 6 .2-4.8 .1-1 .2 9.1 .2-2.2 .1 3.2 .2-2.4 .2-7.4 .1 3.5 .2-3.3 .2-2.1 .1 1.4 .2 1.2 .1 4.2 .2-.1 .2-2.6 .1-2.1 .2-.8 .1 2.9 .2 2.2 .2-.8 .1-6.4 .2 5.1 .1-6.3 .2 9.9 .2-5.8 .1 2.4 .2-2 .1 5.6 .2-4 .1 1.4 .2 .8 .1 3.4 .2 .8 .2-4 .1-3.2 .2 1.1 .1 0 .2-.3 .1 6.2 .2-8.9 .1 3.6 .2 3.1 .1-.8 .2-5.6 .1 2.9 .2 6.8 .1-13.8 .2 13.1 .1-11.7 .2 3.2 .1 6.8 .2-8.3 .1 0 .2 .8 .1 1.4 .1 1.2 .2 .4 .1 2.7 .2-2.9 .1-3.7 .2 5.1 .1-7.6 .2 12.9 .1-5.8 .1 5.5 .2 1 .1-7.3 .2 2.1 .1 .8 .2 1.9 .1-3.1 .1 5.1 .2-5.2 .1 1.2 .2 2.7 .1-6.1 .1 8.3 .2-8.4 .1 .6 .2-1 .1 1.5 .1-2.4 .2 3.8 .1 3 .1-5.3 .2 4.3 .1-1.6 .2-1.8 .1 3.9 .1-7 .2 9.2 .1-10.1 .1 4.6 .2-6.3 .1 2.1 .1 1.6 .2 1.4 .1 .7 .1 5.4 .2-3 .1 1.4 .1-.8 .2-2.2 .1 2.5 .1-3.4 .2 1.4 .1 .8 .1-3.2 .1-.2 .2 6.6 .1-3.8 .1-11.8 .2 10.6 .1-1.6 .1 4.9 .1-6.8 .2-2.1 .1 3.5 .1 2.7" fill="none" stroke="#7F6000" stroke-width="1.4" stroke-linejoin="round"/>
<path d="M258.7 443.7l7.4-28.4 6.7-3 6 7.6 5.5-9.2 5.1 6.7 4.7 .1 4.4-1.8 4.1-4.5 3.8 11.4 3.6-9.5 3.4 6.3 3.3-2.6 3.1 5.2 2.9 7.2 2.8-17.6 2.7 2 2.6 8.6 2.5-.7 2.4 1.4 2.3-5.5 2.2-9.9 2.2 10.3 2 7.5 2.1-11.6 1.9 7.8 1.9 3.2 1.8-9.4 1.8 1.9 1.7-.8 1.7-2.6 1.7-1.2 1.6 14.5 1.5-10.7 1.6-4.7 1.5-.4 1.4 10.8 1.4 3.8 1.4-3.4 1.4-7.2 1.3 2.9 1.3-4.9 1.3-22.1 1.3 31.3 1.2-4.2 1.2-5.1 1.2-3 1.1 11.8 1.2-6.9 1.1 2.4 1.1 5.2 1.1 .1 1.1-13 1 9.6 1-1.5 1-2.4 1 .6 1-1.4 1 7.2 .9-1.9 1-2.8 .9-.3 .9 5.2 .9 4.8 .9-12.1 .9 .2 .8-.3 .9 5.2 .8 8.1 .9-6.6 .8-11.4 .8 8.3 .8 .4 .8 9.1 .7-4.6 .8-7.6 .8 3.2 .7 2.3 .7-6.5 .8 2.7 .7 .9 .7 3.5 .7-2.7 .7-2.8 .7 3.5 .7 7.6 .7-5 .7 .5 .6-3.2 .7-3.9 .6 6.4 .7 1.9 .6-5.5 .6 1.9 .7 4.7 .6-4.5 .6 1.1 .6-.4 .6 6.9 .6 1.8 .6-1.7 .6 .8 .5-9.6 .6 0 .6 8.5 .5-10 .6 9.6 .5-1.1 .6-10.8 .5 12.7 .6-7.1 .5-.4 .5-.9 .6 1.7 .5 1.6 .5-4.6 .5 6 .5-.6 .5-1 .5 2.8 .5-.6 .5-4.9 .5-1.4 .5 3.8 .5 2.7 .5 1.5 .4-.4 .5 .1 .5 .3 .4-1.2 .5 .6 .5-4.7 .4 9.2 .5-3.6 .4-4.4 .4 4.5 .5 .1 .4-3.4 .5 2.4 .4 3.3 .4-4 .5-1.7 .4-20.3 .4 29 .4-8.7 .4 7.4 .4-5.6 .5 1.1 .4-3.8 .4 4 .4 1.4 .4 1.2 .4-3.4 .4 1.7 .3-4 .4 1.8 .4-3 .4 2 .4 2 .4 1 .4-2.5 .3-.4 .4 7.7 .4-6.2 .3 2.8 .4-2.4 .4-1.7 .3 10 .4-6.6 .4-4 .3 10.1 .4-7.1 .3 .8 .4 2.2 .3-5.3 .4 0 .3 3.3 .4-5 .3-.1 .3 4.6 .4-2.2 .3-.1 .3-3 .4 3.3 .3 .5 .3 2 .4-2.2 .3-3.1 .3 6.1 .3 0 .4 3.2 .3-12.9 .3 10.8 .3 .4 .3 .2 .3-6.3 .3 3 .4 8.7 .3-8 .3-6.1 .3 6.8 .3-.6 .3-10.1 .3 11.4 .3-.1 .3-3.1 .3-6.5 .3 7.2 .3 7.5 .3-5.3 .2 .2 .3-3.5 .3 4 .3-1.8 .3 5.2 .3-.1 .3-4.8 .2-5.7 .3 9.5 .3 2.2 .3-10.1 .3 2.9 .2-1.5 .3 3.5 .3-1.5 .3 1.2 .2-.3 .3-6.5 .3 8 .2 0 .3-1.5 .3 .7 .2-6.9 .3 6.8 .3-2 .2 5.9 .3-6.5 .2-.4 .3 0 .3 8.3 .2-3.6 .3 7.3 .2-22.1 .3 6.5 .2-1 .3 3.2 .2 6.1 .3-1.5 .2-3.7 .3 10.1 .2-12.3 .3-.3 .2 2.2 .2 4.2 .3-2.3 .2 7.1 .3-2.3 .2-1.9 .2 1.2 .3-8.9 .2 4.4 .3 10.5 .2-13 .2 2.4 .3 2.7 .2 1.7 .2-10.2 .3 6.7 .2-.1 .2 6.9 .2-3.8 .3-5.4 .2 2.8 .2 2.2 .2-.6 .3 4.7 .2 3.2 .2-10.9 .2 7.2 .3 .5 .2-6.9 .2-2.3 .2 4.7 .2-5.3 .3 3.9 .2 11.6 .2-17.4 .2 9.9 .2-9.8 .2 6.9 .2-.8 .3 1.5 .2 1.9 .2-5.9 .2-3.9 .2 1.4 .2 6.8 .2-3.9 .2-2 .2 1.7 .2 6.9 .2-12.3 .2 10.2 .2 .4 .2-3.6 .3-.3 .2 2.9 .2 2.7 .2-.3 .2-4.5 .2 6.9 .2-11 .2 1.7 .1 1.6 .2 .1 .2 3.9 .2-1.1 .2-5.4 .2 5.2 .2-7.7 .2 2.1 .2 1.2 .2 3.4 .2 2.5 .2-2.8 .2 3 .2-2.2 .2-.1 .1 .8 .2-6.2 .2 7.4 .2-.5 .2-7.1 .2 3.4 .2-.9 .1 4.1 .2-3.5 .2-3.6 .2 4.8 .2-1.5 .2-3 .1 2.3 .2-2.3 .2 8.9 .2 2.1 .2-2.3 .1-5.7 .2 4 .2 4.9 .2-14 .2 1.8 .1 6.8 .2 .5 .2 .1 .2-5.2 .1 1 .2 1.1 .2-4.5 .2 8.1 .1 1.3 .2-4.4 .2 .2 .1-.5 .2-1.2 .2 7.2 .2-11.5 .1 12.4 .2-7.8 .2-.1 .1-1.7 .2 2.2 .2 3.9 .1-2.3 .2 4.3 .2-4.4 .1 .2 .2 6 .2-14.9 .1 10.3 .2-4.2 .2-2.9 .1 5 .2 1.4 .1 2.5 .2-1.3 .2-.1 .1-2.1 .2-3.5 .1 2.2 .2-4.8 .2 4.1 .1 .6 .2 12.1 .1-10.7 .2-1.5 .2 6.4 .1-5.2 .2 2.4 .1-1.9 .2-.6 .1 .9 .2-.8 .1-1.5 .2 .1 .2 3.6 .1-5.8 .2 3.2 .1-1.2 .2-5.1 .1 .3 .2-1.9 .1 8.9 .2-2.4 .1-.2 .2 1.4 .1 .9 .2-3.6 .1-1.1 .2-3.9 .1 10 .2-3.6 .1 4.4 .2-1.8 .1 7.8 .2-16.5 .1 13.6 .1-6.2 .2 6.9 .1-5.3 .2 2.5 .1 4 .2-3.9 .1-3 .2-.4 .1 6.7 .1-9.5 .2 3.5 .1 3 .2-9.7 .1 8.1 .2-3.4 .1-4.7 .1 5.4 .2 .6 .1-4 .2 5.2 .1-1.9 .1 .8 .2 .9 .1-4.2 .2 1.8 .1-4.2 .1 3.7 .2 6.7 .1-6.7 .1 2.5 .2-.1 .1-4.5 .2 2.1 .1 7.4 .1-13.3 .2 7.9 .1 5.5 .1-4.8 .2-3 .1 5.9 .1-.9 .2 3.4 .1-7.6 .1 2.9 .2-7.5 .1 4.6 .1 .1 .2 3.1 .1-5.8 .1 8.6 .2-6 .1-.8 .1 4.7 .1 1.5 .2-8.7 .1-2.4 .1 5.3 .2-5.4 .1 5.1 .1 2.4 .1 .8 .2 3 .1-7.9 .1 5.5" fill="none" stroke="#7F6000" stroke-width="1.4" stroke-linejoin="round"/>
<path d="M258.7 447.7l7.4-29.9 6.7-.7 6 .3 5.5 1.4 5.1 .4 4.7-2.2 4.4 2.8 4.1-.6 3.8-4.9 3.6 0 3.4-1.5 3.3-.5 3.1 5.2 2.9-5.7 2.8 8 2.7 3 2.6 11.9 2.5-15.5 2.4 3.2 2.3 2.8 2.2 6.9 2.2-6.1 2 3.3 2.1-4.2 1.9-2 1.9 1.9 1.8 .3 1.8 0 1.7-10.7 1.7 14.6 1.7-7.6 1.6 7.2 1.5-2.8 1.6-6.9 1.5 10.3 1.4-4.5 1.4 5.1 1.4-12.4 1.4 5.3 1.3-1.9 1.3 3.9 1.3-26.2 1.3 23.2 1.2 13.1 1.2-16.5 1.2 8.9 1.1-.6 1.2-8.7 1.1 6.6 1.1-2.9 1.1 5.2 1.1-.4 1-6.6 1 8 1-.4 1-5.3 1 4.5 1 5.9 .9-6.1 1-8.8 .9 11.6 .9 3.9 .9-11.3 .9 6.6 .9 .5 .8-12.8 .9 9.7 .8 6.1 .9-8 .8 4.9 .8-15.1 .8 11.5 .8 3.5 .7 .9 .8-1.7 .8 3 .7-6.8 .7-6 .8 18.9 .7-9 .7-2.7 .7 2.9 .7-4.9 .7 .3 .7 4.3 .7 3.7 .7-7.8 .6 8.2 .7-.1 .6-1.9 .7-1.9 .6 3.7 .6-1.6 .7-1.8 .6-3.3 .6 6.8 .6 .8 .6 1.6 .6-3.9 .6-1.6 .6-1.4 .5 3.7 .6 3.1 .6 0 .5-8.1 .6 1.1 .5-.3 .6-.6 .5 3.3 .6 2.1 .5 2.1 .5-4.1 .6 1.3 .5 3.1 .5-1.8 .5 2.6 .5-6.7 .5 1.5 .5-4.5 .5 4.7 .5 1.2 .5-3.6 .5 1.7 .5 8.9 .5-7.6 .4 5 .5-.1 .5-1 .4-8.2 .5-2 .5 7.9 .4-3.6 .5-.8 .4 1.8 .4-5.9 .5 7.7 .4 1.5 .5 2.9 .4-1.6 .4-3 .5 7 .4-23.1 .4 20.9 .4-2.8 .4-.4 .4-.2 .5-.2 .4-7.7 .4 8.1 .4-4.2 .4 6.3 .4-9.4 .4 6.5 .3-1.5 .4 5.2 .4-1 .4-3.3 .4 5.1 .4-6.7 .4 .8 .3 12.1 .4-11.9 .4-2.6 .3 6.8 .4-4.7 .4-4.8 .3 6.4 .4 .2 .4-6.2 .3 4.5 .4-3.8 .3 8.6 .4-2.9 .3-2.4 .4-.2 .3-1.3 .4 .2 .3 4.4 .3 .1 .4 .1 .3-3.9 .3-.4 .4 5.8 .3-4.4 .3 2.9 .4 1 .3-2.6 .3-3.2 .3 4.9 .4 2 .3-10.2 .3-2 .3 12 .3-1.6 .3-1.4 .3-.3 .4 1.3 .3-.4 .3-2 .3 6.6 .3-2.7 .3-8 .3 6.6 .3-5.2 .3 5.1 .3 .9 .3 2.5 .3-6 .3 .5 .2 11.6 .3-8.4 .3-7.5 .3 1.9 .3 1.1 .3 5.5 .3-4.4 .2 4.3 .3-2.8 .3-3.1 .3-1.5 .3 10.4 .2-10.1 .3-2.7 .3 9.9 .3-3.3 .2-3.4 .3 3.7 .3-3.5 .2 3 .3-2.4 .3-7.9 .2 6.1 .3 5.1 .3 2.1 .2-4.2 .3 5.2 .2 1.2 .3-2.7 .3-2.8 .2 2.2 .3-2.3 .2-15.5 .3 15.4 .2 1.4 .3 2.7 .2-2.7 .3 .9 .2-.6 .3 4.3 .2-7.6 .3 2.1 .2-5.9 .2 2.4 .3 8.8 .2-2.2 .3-4.6 .2 .6 .2 .6 .3 1 .2-2.7 .3-2.2 .2 9.1 .2-4.5 .3 4.2 .2 .7 .2-1.6 .3-6.8 .2-1.9 .2-.5 .2 4.9 .3 1.8 .2-.7 .2-1.9 .2 3.5 .3-1.5 .2 2.8 .2-1.4 .2-2.1 .3 .1 .2-1.5 .2-2.8 .2 2 .2 .3 .3 5 .2-6.2 .2-4.4 .2 9.1 .2 6.7 .2-1 .2-11.2 .3 1.3 .2 2.7 .2 .9 .2-5.9 .2 7.1 .2-4.4 .2 3.5 .2-3.8 .2-1.8 .2 2.1 .2-1.5 .2 5 .2-2.9 .2-.6 .3-4.6 .2 6.3 .2-.5 .2 3.5 .2-3.6 .2 7.4 .2-4.9 .2-6 .1 7.3 .2-1.3 .2-3.7 .2 5.5 .2-4 .2 4.9 .2-2.3 .2-5.8 .2 9 .2 2.4 .2-1 .2-8.3 .2 4.1 .2-7 .2 11.3 .1-7.3 .2 9.2 .2-16.3 .2 5.6 .2 4 .2 .7 .2-1.8 .1 7.5 .2-.1 .2-2.9 .2-2.7 .2 2.4 .2-9.5 .1 13.3 .2-10.4 .2 6.3 .2-3.1 .2 1.6 .1-3.3 .2-1 .2 6.2 .2-9.1 .2 8.1 .1 2.2 .2-5 .2-3.8 .2 1.8 .1 2.6 .2-6.7 .2 9.5 .2-1 .1-9.2 .2 1.6 .2 6.2 .1-2 .2 2.3 .2-3 .2 1.3 .1 3.7 .2 .7 .2-4.3 .1 2.3 .2-.8 .2-.3 .1-1.1 .2-6.6 .2 5 .1 3.4 .2-3.8 .2 6.1 .1-1.1 .2-4.2 .2 4 .1 .3 .2-9.2 .1-.7 .2 2.9 .2 7.5 .1 2.3 .2-3.2 .1 1.5 .2-1.6 .2-1.4 .1-2.9 .2-6.9 .1 11.7 .2-2.6 .2 4.8 .1-11.2 .2 2 .1 2.2 .2 4.2 .1-2.4 .2-1.6 .1 9.4 .2-8.4 .2-1.9 .1 5.6 .2-8.2 .1 6.6 .2-4 .1-1.3 .2 .9 .1 6.8 .2-5.7 .1-1 .2 4.1 .1 2.2 .2-4.4 .1-2.2 .2-2.7 .1 0 .2 3.6 .1 8.1 .2-6.3 .1 1.2 .2-6.6 .1 2.5 .1 7.4 .2 .4 .1-5.6 .2 4.3 .1 2.7 .2-.3 .1-11.1 .2 3.5 .1 5.6 .1-3.4 .2 1.3 .1 1 .2-6.9 .1-.8 .2 .6 .1 5.5 .1-6.2 .2 10 .1 1.6 .2-4.3 .1-.7 .1-4.9 .2 7.1 .1-4.4 .2-.7 .1-.3 .1 3.3 .2-.4 .1 1.7 .1-2.8 .2 2.4 .1-4.7 .2 .9 .1 1.4 .1-.9 .2 0 .1-2.6 .1-1.1 .2 11.1 .1-11.6 .1 3.3 .2-1.9 .1-.8 .1 5.6 .2 1.6 .1-6.7 .1-3.1 .2 8.5 .1 4.3 .1-9.5 .2 0 .1 3.8 .1 3.7 .1-10.9 .2 7.9 .1-2 .1 3.1 .2-7.7 .1 4.2 .1-3.4 .1 1.4 .2 .8 .1 3.2 .1 .4" fill="none" stroke="#1F4E79" stroke-width="1.4" stroke-linejoin="round"/>
<path d="M258.7 446.4l7.4-26 6.7 9.7 6-6 5.5 0 5.1-7.1 4.7 .2 4.4 2.4 4.1 4.1 3.8 2.9 3.6 2.8 3.4-8.2 3.3 3.4 3.1-.6 2.9 .5 2.8 4.8 2.7 4.1 2.6-2.7 2.5 1.8 2.4-.2 2.3 .4 2.2 3 2.2-8.3 2-.6 2.1 4 1.9-1.3 1.9 1.8 1.8-4.8 1.8-3.3 1.7-1.4 1.7 3.4 1.7 2 1.6 4.8 1.5-.3 1.6 4.8 1.5-12.3 1.4 6.4 1.4 5.9 1.4-14 1.4 8.4 1.3-11.6 1.3 13.7 1.3-39.3 1.3 43 1.2-9.7 1.2-3.6 1.2 1.6 1.1 5.2 1.2 6.2 1.1-4.1 1.1-1.6 1.1 3.8 1.1-2.5 1-4.1 1 5.2 1 .2 1-3.2 1 1.9 1-1.5 .9 3.2 1-8.8 .9 12.8 .9-5.1 .9-2.9 .9 1 .9-2.2 .8-5.3 .9 9.9 .8-1.7 .9 .7 .8 5.1 .8-2.9 .8 6.9 .8-5.6 .7-4.2 .8 3.7 .8-7.3 .7 6.3 .7 1.8 .8-3.1 .7 .4 .7-2.8 .7 4.4 .7-7 .7 6.2 .7-3.9 .7 2.5 .7 .4 .6-3.1 .7 7.2 .6-.3 .7-3 .6 0 .6 .8 .7-.4 .6 1.3 .6-.1 .6-5.2 .6 9.6 .6-7.2 .6 6.7 .6-2.8 .5-5.3 .6 1.5 .6 1.8 .5-4.8 .6 5.6 .5-2.4 .6-.1 .5-.1 .6-4.1 .5 3.1 .5-3 .6 5.8 .5-2.8 .5-3.2 .5 7.8 .5-3.2 .5-.9 .5 3.6 .5-2.3 .5-1.5 .5 .6 .5-8 .5 14.2 .5-6.7 .4 3.6 .5-3.1 .5 2.8 .4-6.2 .5 5 .5-5.8 .4 .5 .5 3 .4-2.6 .4 .3 .5 10.7 .4-6.5 .5-7 .4 11 .4-2.7 .5-4 .4-21.6 .4 23.5 .4-1.9 .4-1.5 .4 7.9 .5-7.7 .4 3.1 .4-4 .4 7.7 .4-1.1 .4-2.7 .4-2.6 .3 5.3 .4-11.8 .4 10.6 .4 .3 .4-6.5 .4 10.5 .4-10.6 .3 1.1 .4 5.2 .4-.9 .3-4.5 .4 5.1 .4 1.8 .3-1.4 .4-.2 .4-3 .3 .2 .4 5.2 .3-6.4 .4 1.6 .3 5.8 .4-8 .3-7.1 .4 3.2 .3 6 .3-2 .4 3.2 .3-3.2 .3-1.5 .4 10 .3-6 .3 3.4 .4-11.9 .3 6.4 .3 1.5 .3-13.7 .4 10.3 .3 8.8 .3-6.4 .3-2 .3 4.4 .3-9.8 .3 6.7 .4-2.7 .3 4.9 .3-1.2 .3 .2 .3-5.2 .3 6.6 .3-7.5 .3 6.4 .3 .7 .3-3.3 .3 9.1 .3-6.6 .3 3.8 .2-3.5 .3-1.4 .3-1.6 .3 1.8 .3-2.9 .3 11.7 .3-10.2 .2 1.9 .3-2.9 .3 3.1 .3 8.2 .3-9 .2-2.8 .3 4.2 .3-1.8 .3-3.2 .2 1.3 .3 2.5 .3-2.6 .2 1.2 .3 5.5 .3 .9 .2-2.8 .3-1.7 .3 7.9 .2-10.1 .3 2.1 .2-.3 .3 .8 .3-2.9 .2 .2 .3 .4 .2-11.9 .3 6.7 .2 5.7 .3 5.2 .2 1.6 .3-3.9 .2-.7 .3-.4 .2 1.6 .3-3 .2 10.6 .2-11.9 .3 .8 .2-2 .3 7.8 .2-2.1 .2-1.3 .3-4.8 .2 12 .3-8.6 .2-7.3 .2 5 .3 10.1 .2-4.8 .2 1.2 .3-7.5 .2 .8 .2 2.2 .2 2.3 .3 .7 .2 7.8 .2-9.2 .2 3.9 .3-3.1 .2 .6 .2-1.5 .2-4.7 .3 3.9 .2-4.1 .2 3.2 .2 2.7 .2-3.4 .3 2.6 .2-1.9 .2-3.6 .2 5.8 .2-.6 .2-5.5 .2 7.6 .3-1.1 .2-3.5 .2 5.3 .2-9.4 .2 8.5 .2-2.1 .2 1.2 .2 .9 .2 6.9 .2-10.2 .2 1.4 .2-1 .2-.2 .2 4.1 .3 2.7 .2-4.5 .2 2.9 .2 .7 .2-4.1 .2 4.7 .2-4.4 .2-4.2 .1-1.2 .2 4.4 .2 .1 .2 6.5 .2-4.4 .2-8.2 .2 2 .2 4.6 .2 6.1 .2-12.7 .2 6.2 .2 2.3 .2-1 .2 2.2 .2-6.4 .1 5.2 .2-9 .2 9.4 .2-2.7 .2 4.6 .2-5.2 .2-4 .1 9.3 .2-5.1 .2 2 .2-4.6 .2 1.9 .2-3.8 .1 1.6 .2-1.5 .2 1.7 .2 1.8 .2 4.2 .1-6.4 .2 4.9 .2 .4 .2-3.2 .2-3 .1-.3 .2 2.1 .2 0 .2 3 .1-7.3 .2 3.2 .2 2.9 .2-.9 .1-9.1 .2 15.4 .2-2.5 .1-8.6 .2 5.4 .2-.2 .2-10.2 .1 10.2 .2 .4 .2-5.4 .1 6.3 .2-1.6 .2-3.7 .1 6.2 .2-8 .2 7.2 .1-2.1 .2-1.6 .2 4.6 .1-4.7 .2-2.5 .2 1.7 .1-.3 .2 5.4 .1-2.4 .2-4.7 .2 7 .1-9 .2 4.7 .1 6.9 .2 1.2 .2-5.7 .1 2.5 .2-1.3 .1-3 .2-1.3 .2 11.7 .1-3.4 .2-2.5 .1-6.8 .2 5 .1 2.2 .2-3.9 .1-.8 .2 2.1 .2-2.8 .1-4.1 .2 4.3 .1 2 .2 3 .1-2.1 .2 .1 .1-1.2 .2 1.3 .1 .6 .2-.9 .1-2.1 .2 2.6 .1 1.5 .2-1.5 .1-.6 .2 2.8 .1-1.7 .2-3.4 .1 3.3 .2 .8 .1-9.2 .1 3.1 .2 2.4 .1 4.6 .2-3.3 .1-1.8 .2-1.7 .1 3.3 .2 .4 .1 .9 .1-4.3 .2 3.8 .1-6.1 .2 10.1 .1-6.9 .2 7.5 .1-1.8 .1-7.4 .2 6.2 .1-.3 .2 2.8 .1-10.6 .1 3 .2 4.2 .1-.8 .2 0 .1 4.1 .1-7.9 .2 4.8 .1 6.5 .1-9.1 .2-4.3 .1 8.4 .2 1 .1-5 .1 2 .2 7.1 .1-2.3 .1-7 .2 5.8 .1-2.6 .1-2.4 .2-2.2 .1 3.2 .1-10.9 .2 8 .1 2.2 .1-1.6 .2-4.5 .1 8 .1 1.3 .2-7.1 .1 .9 .1 3.5 .1 5.2 .2-4.2 .1 3.7 .1-11.3 .2 5.3 .1-.3 .1 3.1 .1 6.2 .2-14.9 .1 .4 .1 7.7" fill="none" stroke="#2F5597" stroke-width="1.4" stroke-linejoin="round"/>
<path d="M258.7 447.7l7.4-29.7 6.7-4.6 6 16.2 5.5-9.5 5.1 3.3 4.7-10.3 4.4 19.1 4.1-19.7 3.8 4.8 3.6 4 3.4 2 3.3-7.1 3.1 12.1 2.9-5.5 2.8 4.2 2.7 3.4 2.6 3.6 2.5 1.9 2.4-4 2.3-5.2 2.2 2.1 2.2-6.7 2 4.2 2.1 .1 1.9 4.6 1.9-9.3 1.8 7.3 1.8 5.7 1.7-8.7 1.7-.9 1.7-11.4 1.6 9 1.5 14.9 1.6-11.1 1.5 2.1 1.4-3.8 1.4 1 1.4-.8 1.4 6.1 1.3 3.2 1.3-4.5 1.3-31.9 1.3 22.7 1.2 1.5 1.2-6.7 1.2 11.8 1.1 4 1.2-11.4 1.1 8.7 1.1-6.7 1.1 5 1.1 6.9 1-4.8 1 .9 1-.2 1-.3 1 9.4 1-12.9 .9 3 1-.6 .9 4.5 .9-7.9 .9-1.4 .9-7.2 .9 15.3 .8-1.7 .9-1.4 .8 .1 .9 2.4 .8 6 .8-16.4 .8 10.8 .8 3.3 .7 1.9 .8-8.4 .8 2.9 .7-.4 .7 0 .8-2.2 .7-8.7 .7 9.7 .7-2.2 .7 6.3 .7 4.8 .7-7.9 .7 0 .7 6.9 .6-14.7 .7 16.4 .6-4.6 .7-7.2 .6 2.4 .6 4.8 .7-5.2 .6 4.5 .6 .6 .6 .7 .6 2.8 .6-7.6 .6 .6 .6-6.6 .5 13.1 .6-6.6 .6 2.3 .5 3.7 .6-1.4 .5 4 .6-6.2 .5 3.7 .6-.6 .5-6.7 .5 8 .6-5.3 .5 7.1 .5-3.2 .5-4.1 .5-.4 .5-1.1 .5-.1 .5 .9 .5-5.9 .5 7.1 .5-2.7 .5 3.5 .5 3.3 .4-5.3 .5 1.1 .5 2.2 .4 2.3 .5-5.3 .5 2.8 .4 .7 .5-5.5 .4 5.6 .4-4.2 .5-.8 .4 .8 .5 2.7 .4 3.5 .4-8.6 .5 5.6 .4-25.1 .4 24.9 .4-1.9 .4 6.1 .4-5.3 .5 .4 .4 1.8 .4-9.3 .4 6.4 .4 5.3 .4-8.3 .4 2.4 .3 4.2 .4-4.9 .4-2.9 .4 7.1 .4-5.5 .4-.7 .4 4.8 .3 2.4 .4-3.3 .4-2 .3-4.9 .4 5.3 .4 4.4 .3-.5 .4-4.4 .4 5.1 .3-5 .4 2.3 .3 .8 .4 2.9 .3-6.5 .4 6 .3-.4 .4-1.4 .3 3.1 .3-8.5 .4-1.9 .3 5.1 .3-4 .4 3.5 .3 3 .3-1.2 .4 6.6 .3-1.7 .3-11.4 .3 3.8 .4-.5 .3-1 .3 5 .3-3.2 .3 5.2 .3-.1 .3 .9 .4-1.9 .3 4.3 .3-4.6 .3 4.9 .3-7.3 .3-4 .3 3.5 .3 7.6 .3-7.9 .3-2.2 .3-5.5 .3 8.8 .3 2.6 .2 .5 .3 .4 .3-.7 .3 4.2 .3-3.8 .3-8.9 .3 14.7 .2-5.6 .3 1.4 .3-1.8 .3-1.9 .3-7.7 .2 5.9 .3-5.2 .3 7.9 .3-3 .2-2.9 .3 3.7 .3-2 .2 .9 .3 10.4 .3-14.6 .2 5.9 .3 1.9 .3 4.1 .2-7.5 .3-.7 .2 2.8 .3 2.4 .3-4.5 .2-1.7 .3 2.3 .2-12.6 .3 11.9 .2-.9 .3 .7 .2 3.4 .3-2.8 .2 .1 .3-1.8 .2 .6 .3 1.5 .2-4.5 .2 4.1 .3-1.3 .2 .1 .3-.7 .2-.6 .2-1.5 .3 6.7 .2-3.1 .3 .9 .2-2.7 .2-2.7 .3 1.2 .2 2.3 .2 2.2 .3 7.8 .2-3.5 .2-5.1 .2 4.9 .3-7.5 .2 10 .2-6.3 .2 7.1 .3-9.2 .2 5.1 .2-.7 .2 .7 .3-3.7 .2 .3 .2 1.6 .2 2.6 .2-5.5 .3 3.7 .2-.3 .2-.2 .2 .8 .2-1.1 .2-3.7 .2-9 .3 6.1 .2-1.4 .2 4.4 .2 6.3 .2 4.5 .2-3.9 .2-1.3 .2 1.8 .2-5.9 .2 2.6 .2-3.1 .2 7.6 .2-2.3 .2-11.2 .3 9.1 .2 .8 .2-.5 .2 .6 .2-1.3 .2-4.7 .2 8.7 .2-2.5 .1-4.6 .2-.7 .2 5.5 .2-7.3 .2 2.2 .2 4.2 .2-2.5 .2-.7 .2 3.6 .2-3.6 .2-2.6 .2 4.2 .2-3.3 .2 11.4 .2-10.7 .1 5.9 .2-1.2 .2-6.2 .2 11.4 .2-8 .2 1.1 .2-2.6 .1 8.2 .2-4.6 .2 4.4 .2-4.4 .2 .7 .2-8 .1 8.7 .2-3.1 .2-4.2 .2 3.5 .2-1.5 .1 3.9 .2 0 .2-6.5 .2 4.8 .2 6.3 .1-.7 .2-8.4 .2 2.6 .2-5.4 .1 .3 .2 4.9 .2 2.7 .2 3.5 .1-6.5 .2 4.1 .2-.2 .1-.4 .2-1.9 .2-2.6 .2 1.2 .1 2.9 .2-2 .2-2.4 .1 4.3 .2-7.3 .2 4.9 .1 3.5 .2 2.1 .2 2.5 .1-10.4 .2 6.5 .2 3.9 .1-8.5 .2 3.6 .2-.5 .1-3.3 .2 3.5 .1 .2 .2 .7 .2-4.2 .1-1.4 .2-2.2 .1 4.9 .2 2.9 .2-6.9 .1-.2 .2 7 .1-.1 .2-7.3 .2 11.8 .1-8.1 .2 5.4 .1-9.4 .2 6.2 .1 .7 .2-2.2 .1 1.2 .2-4.6 .2 3.4 .1-3.2 .2 2.2 .1-.9 .2 5.3 .1-2.3 .2-3.3 .1 7.5 .2-12.9 .1 10.8 .2-7.6 .1 .7 .2 2 .1 2.1 .2-1.2 .1-.1 .2-3.3 .1-4.1 .2 6.5 .1 2.9 .2-3.1 .1 1.7 .1-2.1 .2 4.5 .1 .8 .2-1.7 .1 3.1 .2-7.1 .1 1.3 .2 1.7 .1 4.6 .1-7.9 .2 1.6 .1 6.2 .2-4.8 .1-1 .2 .2 .1-4.1 .1 .8 .2 6.9 .1 0 .2-.9 .1-2.1 .1 9.8 .2-4.6 .1-6 .2 3.6 .1-2.3 .1-1.7 .2 2 .1 6.5 .1-11.3 .2 7.3 .1-1.7 .2-2.5 .1-2.5 .1 3.5 .2 5.5 .1 1 .1-.4 .2-4.2 .1-4.2 .1 8.3 .2-.2 .1-3.9 .1 5 .2-7.4 .1 1.1 .1 1.1 .2 .3 .1 .6 .1 3.2 .2-6.7 .1 3.1 .1-.8 .1-3 .2-1.2 .1 7.8 .1-.8 .2-2.6 .1-1.4 .1 3.7 .1-7.9 .2-4.4 .1 7.7 .1 4.9" fill="none" stroke="#255E91" stroke-width="1.4" stroke-linejoin="round"/>
<path d="M258.7 425l7.4-4.5 6.7 4 6-9.7 5.5 11.3 5.1-12.5 4.7 13 4.4-7.1 4.1 .8 3.8 .6 3.6 3.5 3.4 2 3.3-11 3.1 6.6 2.9 8.9 2.8 4.3 2.7-8 2.6-1.9 2.5 6.9 2.4 1.9 2.3-5 2.2 .4 2.2-3.6 2 6.8 2.1 2.7 1.9-3.1 1.9 6.3 1.8-1.3 1.8-2.7 1.7-1.9 1.7-1.1 1.7 7.3 1.6-5.2 1.5-11.5 1.6 18.2 1.5-6.7 1.4 .6 1.4-5.4 1.4 7 1.4-15.1 1.3 13.9 1.3-4 1.3-37.5 1.3 36.6 1.2 8.9 1.2-7 1.2 3.2 1.1-8.6 1.2 3 1.1 .9 1.1 2.2 1.1 3.1 1.1-8.7 1 .8 1-6.4 1 12.5 1-6.7 1 10.9 1-7.8 .9 2.8 1 5.5 .9-2.1 .9-3.4 .9 1.7 .9 .5 .9 .1 .8-1.3 .9 2.3 .8 6.3 .9-8.8 .8-7.7 .8 9.4 .8-1.5 .8 4.9 .7 0 .8 .9 .8 1.9 .7-6.5 .7 4.7 .8-5.9 .7 1.2 .7 7.5 .7-17.6 .7 12.7 .7-2.4 .7 3 .7 3.6 .7-5.4 .6-2.7 .7 12.9 .6-10.3 .7-.3 .6-8.2 .6 16.2 .7-4.7 .6-6.9 .6 6.9 .6-5.1 .6 6 .6 .6 .6-7.2 .6 4.8 .5 2 .6-4.2 .6-4.3 .5 4.7 .6-8.8 .5 13.2 .6-11.1 .5 5.1 .6-2.2 .5 .5 .5 3.7 .6 .1 .5 3.8 .5-2.3 .5 0 .5-6.5 .5 5.4 .5-3 .5 1.6 .5-9.1 .5 11.7 .5 .5 .5-5.9 .5 8.9 .4-6.7 .5 3.8 .5-.6 .4-2.4 .5-8.5 .5 4.4 .4 .1 .5 1.4 .4-.2 .4 4.4 .5-3.2 .4 1 .5-2.8 .4-.9 .4 7.5 .5 .6 .4-24.7 .4 15.3 .4-6 .4 6.4 .4 2.8 .5 1.6 .4-1.1 .4-2.8 .4-7.8 .4 7.8 .4 4 .4-6.7 .3 6 .4-4.9 .4 3.8 .4 .2 .4-2.1 .4 3.4 .4 1.9 .3-2.3 .4-.5 .4 1.6 .3-4.2 .4 1.6 .4 .1 .3 2.3 .4-2.1 .4-1.8 .3 3.7 .4-.2 .3-1.9 .4 0 .3 3.1 .4-5.3 .3 1.4 .4-5.4 .3 11.3 .3 .5 .4-5.8 .3-6.1 .3 3.5 .4 3.5 .3 2.8 .3-3.9 .4 3 .3 1.2 .3-3.4 .3 2.9 .4-1.4 .3 1.6 .3-2 .3-2.5 .3 1.6 .3-.8 .3 4.8 .4 1.5 .3-4.9 .3-.4 .3-2.4 .3 7.5 .3-8.5 .3 3.8 .3 3.6 .3-1.8 .3-.5 .3-6.7 .3 6.6 .3-2.8 .2 4.5 .3 1.7 .3-2.3 .3 3.3 .3-4.8 .3-.4 .3-7.2 .2 8.2 .3-5.9 .3 1.7 .3-.6 .3 2.3 .2 1.2 .3-2.3 .3-2.5 .3 7.3 .2 1.6 .3-2.4 .3 3.2 .2-3.8 .3-.4 .3 1.6 .2-2 .3-5.2 .3 4.2 .2-3.9 .3 4.7 .2-1 .3 5.5 .3-9.7 .2 3.5 .3-4.3 .2-5.4 .3 3.1 .2 11.8 .3 3.3 .2-10.3 .3 6.8 .2 .5 .3-5.4 .2 4 .3-9.6 .2-1.2 .2-.2 .3 10.1 .2-5.5 .3 5.8 .2-.4 .2-1.1 .3-.2 .2-1.9 .3 2.4 .2-6.3 .2 10.3 .3-6.7 .2 7.4 .2-7.8 .3-2.5 .2-1.3 .2 3.3 .2 1.8 .3 3 .2-.9 .2-2.1 .2 3.4 .3 2.1 .2-9.7 .2 2.9 .2 .2 .3 3.2 .2-4 .2 4.1 .2-3.2 .2 1.4 .3 0 .2 2.6 .2-5 .2 5.6 .2-8.9 .2 2.5 .2 4.3 .3-2.7 .2-1.4 .2 3.1 .2 4.2 .2-5.2 .2 2.4 .2-.6 .2-8.4 .2 7.5 .2 5.4 .2-7.9 .2-1.3 .2 7 .2-2.9 .3 2.4 .2-3.6 .2-3.2 .2-5.5 .2 10.6 .2-1.4 .2-4.6 .2 6 .1-4.2 .2 5.7 .2-14.2 .2 14.9 .2-5.8 .2-3.4 .2 2.5 .2-2.3 .2 2.4 .2 3.4 .2-2.5 .2-.7 .2 2.5 .2-2.5 .2 4.3 .1 2 .2-8.2 .2 4.5 .2-5.4 .2-.9 .2 8.6 .2-7.8 .1 4.6 .2 .1 .2 7.9 .2-4.8 .2-.7 .2 1.3 .1 2.2 .2 1.9 .2-6.8 .2-.9 .2-1.8 .1 8.6 .2 .4 .2-13.4 .2 8.1 .2-.1 .1-4.2 .2 7.9 .2-3.4 .2-3.7 .1 1.4 .2-1.6 .2 4.8 .2-7.2 .1 11 .2 2.8 .2-7.4 .1-1.3 .2 .6 .2 7.6 .2-2.7 .1-3.7 .2-4.5 .2-1.1 .1-1.9 .2 10.8 .2-2.6 .1 4.5 .2-2 .2 .2 .1-4.2 .2 2.7 .2-4.2 .1-4.2 .2 6.3 .2 .5 .1-1.6 .2 .8 .1 .1 .2 1.6 .2-2.9 .1 2.5 .2-3.7 .1 1 .2-3.2 .2 1.8 .1 .1 .2 2.3 .1 1.3 .2-3.8 .2 5.3 .1-4.6 .2-4.7 .1 8.7 .2-5 .1 .1 .2 2.3 .1-3.9 .2 5.6 .2 2.9 .1-6.5 .2 .2 .1 .6 .2-2.2 .1 7.3 .2-.9 .1-9.7 .2 7.7 .1-4.9 .2 2.3 .1 8.6 .2-5.1 .1-12.2 .2 9.5 .1-2.1 .2 7.6 .1-4.3 .2 3.6 .1-3 .2-1.6 .1 3.3 .1 2.3 .2-7.2 .1 0 .2 3.9 .1 .8 .2-5.8 .1 3.7 .2-4.8 .1 1.9 .1 3.4 .2-4.7 .1 10.5 .2-3.3 .1-3.7 .2-3.2 .1 .3 .1 1.1 .2 5 .1-2.7 .2-7.2 .1 4.3 .1-1.3 .2 3.5 .1 4.8 .2-3 .1-6.1 .1 7.6 .2-7.5 .1 2.8 .1 8.2 .2-6.6 .1 2.1 .2-1.2 .1-6.1 .1 10.6 .2 .7 .1-4.6 .1-1.7 .2-.6 .1 .5 .1 3.7 .2-2.4 .1-8.6 .1 6 .2-1.3 .1 1.8 .1 .5 .2 6.4 .1-7.4 .1-7.4 .2 15.7 .1-8.7 .1 6.9 .1-7.1 .2 1.2 .1 1.6 .1 4.1 .2-2.4 .1-6.9 .1 5.9 .1-.9 .2-2.2 .1 4.1 .1-1.3" fill="none" stroke="#264478" stroke-width="1.4" stroke-linejoin="round"/>
<path d="M258.7 446.5l7.4-26.5 6.7 5 6-11.5 5.5 10.3 5.1-2.4 4.7 10.3 4.4-11.2 4.1-8 3.8 4.2 3.6 12 3.4-9.1 3.3 9.9 3.1-7.1 2.9 9 2.8-7.6 2.7 7.7 2.6-1 2.5 8.9 2.4-9.4 2.3-1.5 2.2-3.1 2.2 9.9 2-2.3 2.1-9.7 1.9 15.2 1.9-7.6 1.8 10.3 1.8-12.5 1.7 1.3 1.7 3.1 1.7-3 1.6 7 1.5-10 1.6 2.6 1.5-.8 1.4 6.9 1.4-7.4 1.4-2.1 1.4 3.1 1.3 .4 1.3 1.4 1.3-23.7 1.3 21.2 1.2 2.1 1.2 8 1.2-16.3 1.1 23.6 1.2-12 1.1-8.4 1.1 7.3 1.1 .9 1.1-.5 1 2.3 1-5.7 1-2.4 1-.7 1 5.8 1 4.1 .9 1.5 1-5.4 .9-3.2 .9 2.3 .9 1 .9 7.9 .9-14.9 .8 14.5 .9-6.6 .8 5.9 .9-5.3 .8-6.3 .8-.9 .8 7.3 .8-8.2 .7 5.8 .8 2.4 .8-.7 .7 2 .7-5.9 .8-.3 .7 2.5 .7 9.1 .7-9.4 .7-5.4 .7 8.1 .7-4.6 .7 .7 .7 6.1 .6-1.6 .7-3.5 .6 2.6 .7-8.4 .6 10.5 .6-1.4 .7-5.2 .6 4.8 .6 4.8 .6-1.4 .6-4 .6-4.2 .6-4.3 .6 17.7 .5-7.7 .6-6 .6 8.7 .5-6.1 .6 3.2 .5-2.1 .6 .9 .5 3.4 .6-5.2 .5 2.4 .5 .3 .6-2.1 .5 4 .5-.7 .5 2.2 .5-6.8 .5 .8 .5 3 .5 .7 .5-4.9 .5 7.8 .5-3.9 .5-6.7 .5 4 .4-5.1 .5 1.2 .5 8.8 .4-4.4 .5 4.7 .5-6.1 .4 6.7 .5-4.8 .4 1.5 .4-5.8 .5 4.7 .4 3.8 .5-5 .4 7 .4-2.2 .5-6.9 .4-18.5 .4 20.2 .4 8.3 .4-6.4 .4-1.7 .5 1.2 .4-6 .4 1.2 .4 7.7 .4-1.9 .4 2.8 .4 .5 .3-8.9 .4-.9 .4 12.6 .4-11.5 .4 7.1 .4-1 .4-.8 .3 .2 .4 2.8 .4-9 .3 4.4 .4 2.5 .4-6.3 .3 4.6 .4-1.5 .4 1.1 .3 2.3 .4 .3 .3 .6 .4-12.3 .3 3.5 .4-2.1 .3 11.1 .4-4 .3-6.4 .3 5.4 .4 1.3 .3-7.4 .3 .2 .4 1.4 .3 11.8 .3-4.3 .4-.4 .3 4.6 .3-2.4 .3-3.8 .4-3 .3 1.3 .3 1 .3 .5 .3 2.1 .3-6.5 .3 9.6 .4-9 .3 .1 .3 3.8 .3-.7 .3-2.5 .3 5.7 .3-1.1 .3-5 .3-1.7 .3-2 .3-.6 .3 8.9 .3-7.6 .2 .9 .3 1.9 .3 .7 .3 1.7 .3 5.6 .3-6.3 .3-.3 .2 8.4 .3-3.6 .3-.4 .3-2.2 .3-.9 .2-5.4 .3 10.1 .3-3 .3 3.1 .2-4.4 .3 0 .3 3 .2 .2 .3-6.4 .3 8.1 .2-6.6 .3 5 .3-6.2 .2 14 .3-11.9 .2-1.4 .3-1.4 .3 1.5 .2 8 .3-10.9 .2-8 .3 13.4 .2-1.9 .3 3.8 .2-8.8 .3 13 .2-1.8 .3-4.2 .2 3.5 .3-.6 .2-4.9 .2-5.9 .3 13.3 .2-9.9 .3 4.3 .2 3 .2-6.5 .3 5.9 .2-2.3 .3-1.3 .2-.3 .2-.4 .3 6.3 .2-1.6 .2-15.9 .3 12.4 .2 1.5 .2-.5 .2 2.7 .3-4 .2 2.2 .2-10.6 .2 2 .3 7.1 .2-5.1 .2 7.4 .2-3.4 .3-.1 .2-2.8 .2 0 .2 1.4 .2 7.7 .3-6.1 .2-3.3 .2 1.2 .2 2.1 .2 2 .2 0 .2-4.1 .3 .8 .2 2.1 .2 .5 .2 2.5 .2-3.8 .2-.9 .2 .5 .2 2.7 .2 1.3 .2 2.6 .2-8.1 .2 2 .2-2.6 .2 5.2 .3-11.6 .2 7.7 .2 5.6 .2-7.7 .2-.3 .2 9.8 .2-.2 .2-4.4 .1 3.1 .2-7 .2 1.8 .2 1.2 .2-5.3 .2 4 .2 9.6 .2-12.1 .2 2.8 .2 6 .2-1.3 .2-3.7 .2 2.3 .2-7.1 .2-1 .1 9.8 .2-6.8 .2-4.2 .2 5.6 .2 4.6 .2-8 .2-.5 .1 2.5 .2 3.3 .2-2.9 .2 10.5 .2-15.1 .2 7.3 .1-.1 .2-6.5 .2 3.9 .2 6 .2-4 .1-7.6 .2 12.5 .2-5.7 .2 1.3 .2 4.5 .1-10.8 .2 5.9 .2 2.9 .2-8.6 .1 11.9 .2-12 .2 7.8 .2-3 .1 .8 .2-2.6 .2 5.3 .1 1.2 .2-8.4 .2 7.6 .2-.8 .1 1.1 .2-5.2 .2 .3 .1 2.4 .2 3.4 .2-5 .1-2.6 .2 7.7 .2-5 .1 4.9 .2-3.1 .2-3.5 .1 .7 .2 2.4 .2-.9 .1 1.6 .2-1.2 .1-2.6 .2-2.9 .2 7 .1 8.9 .2-9.3 .1-5.8 .2 .9 .2 8 .1-2 .2-1.5 .1-4.2 .2 2.8 .2 .1 .1 4.6 .2 2.8 .1-9 .2-1 .1 7.4 .2 .5 .1-5.4 .2-2.7 .2 12.7 .1-12.9 .2 .2 .1-2.4 .2 5.4 .1 3.3 .2 .2 .1-.7 .2-5.2 .1 1.2 .2-2.9 .1 1.9 .2 2.3 .1 1.8 .2 4.7 .1-10.5 .2 10.8 .1-1.8 .2-9.3 .1 3.4 .2-1.1 .1 3.1 .1-1 .2 3.4 .1-3.7 .2 4.4 .1 1.9 .2-5 .1 7 .2-6.7 .1 1.2 .1-2.9 .2 4.7 .1-7.3 .2 7 .1-7.2 .2 2.3 .1 1.1 .1-2 .2 5.7 .1-5.3 .2-2.8 .1 3 .1 1.3 .2 3.2 .1-4.1 .2 1.5 .1-1.8 .1 4.5 .2-3.6 .1 1.9 .1 6.7 .2-8.3 .1 2 .2 .3 .1-2.2 .1 2.5 .2-7 .1 2.9 .1 1.1 .2-2.7 .1 3.3 .1-.6 .2 .8 .1-.2 .1-2.1 .2 2.2 .1 2.4 .1-8.5 .2 .7 .1 5.2 .1 4.1 .2-.5 .1 5.3 .1-7.2 .1 5.7 .2-10 .1-2.6 .1-2.5 .2 7.4 .1-5.1 .1 6.4 .1 .6 .2 .7 .1-6.3 .1 7.5" fill="none" stroke="#255E91" stroke-width="1.4" stroke-linejoin="round"/>
<path d="M258.7 438.3l7.4-24.8 6.7-5.8 6 13 5.5 4.7 5.1-4.3 4.7-7.2 4.4 5.2 4.1-1.8 3.8-6.1 3.6 5.2 3.4 6.2 3.3-12.1 3.1 8.1 2.9 9.5 2.8-2.1 2.7 .1 2.6 5.4 2.5-2.7 2.4-3.3 2.3-5.6 2.2-1.1 2.2 3.4 2 6.2 2.1-4.5 1.9 3.5 1.9 6.2 1.8-8.4 1.8-.5 1.7 10.8 1.7-4.3 1.7-13.3 1.6 2.9 1.5 10.4 1.6-1.3 1.5-9.4 1.4 4.4 1.4-10.8 1.4 8.1 1.4-4.5 1.3 8.2 1.3 6.3 1.3-48.3 1.3 31.2 1.2 14 1.2-7.1 1.2 1.3 1.1 1.8 1.2-2.6 1.1 4.2 1.1 6.3 1.1-7.6 1.1 .5 1 4.7 1-1.7 1 5.3 1-9.7 1-3 1 11.2 .9-3 1-2.1 .9-.5 .9-.5 .9-4.2 .9 .2 .9 9.5 .8-4 .9-6.9 .8 9.9 .9-15.5 .8 15.5 .8 6.1 .8-7.2 .8-3.5 .7 1 .8 3.8 .8-7.8 .7 11.6 .7-10.5 .8 8.9 .7-3.9 .7 .3 .7-.4 .7-2.7 .7-3 .7 3.3 .7-2.8 .7 3.2 .6 .5 .7-.8 .6-1.7 .7 17.9 .6-8.8 .6-.7 .7-5.4 .6-1.8 .6 2.5 .6 2 .6 1.2 .6-3.9 .6 1.6 .6-1.6 .5 2.4 .6 3 .6-6.5 .5 3.6 .6 .7 .5 2.5 .6-3.5 .5 1.5 .6-4 .5 3 .5 0 .6 3.1 .5-7.8 .5 4.1 .5-3.9 .5-.1 .5 4.4 .5-.9 .5 6 .5-3.6 .5 2.6 .5 .9 .5-12.1 .5 5.1 .4 .4 .5 7.9 .5-8.7 .4 3 .5-2 .5-5.2 .4 7.8 .5-4.1 .4 2.2 .4-4.2 .5 2.8 .4 .2 .5 2.8 .4 3.6 .4-4.1 .5-3.7 .4-21.6 .4 25 .4 3.6 .4-5.8 .4 2.3 .5-6 .4 6.6 .4-4.2 .4 6.2 .4 3.5 .4-4.1 .4 2.3 .3-6.5 .4 8.9 .4-.6 .4-4.1 .4-2.6 .4 3.2 .4-1.5 .3 2.1 .4-5.7 .4 1.1 .3 6.9 .4-10.3 .4 7 .3-8.1 .4 8.4 .4 .4 .3-3.1 .4 4 .3 3.8 .4 0 .3-9.4 .4 7.9 .3 1.2 .4-12.4 .3 7 .3-1.8 .4 3.8 .3-3.3 .3 4 .4-6.5 .3 9.7 .3-6.5 .4 2.3 .3-3 .3-2.8 .3 4.1 .4-3.4 .3-4.2 .3 9.9 .3-3.2 .3-.8 .3 1.1 .3 5.5 .4-14 .3 8.8 .3-.1 .3-.8 .3-3.7 .3 9.7 .3-8.5 .3 1.1 .3-8.6 .3 15.7 .3-10.2 .3 9.8 .3-7.3 .2 4.9 .3 .3 .3 5.2 .3-9.1 .3 6.6 .3-7.8 .3 8.6 .2-12.3 .3 10.8 .3-5.4 .3 3.3 .3 .6 .2-5.9 .3 .6 .3 3 .3-6.9 .2 14.2 .3-2.8 .3-4.7 .2-3.3 .3 .6 .3 .1 .2 4.1 .3 2.5 .3 1.9 .2-1.9 .3-4.9 .2 1.7 .3 1.7 .3-.9 .2-3.6 .3-.3 .2-12.9 .3 20.8 .2-3.9 .3-2.5 .2 4 .3-2.7 .2 4.7 .3 .3 .2-3.2 .3-4.6 .2-.8 .2 9.8 .3-5.3 .2 2 .3-4.4 .2 1.8 .2-6.4 .3 6.3 .2-2.5 .3 1.2 .2-1.6 .2 10.7 .3-12.4 .2 1.2 .2-.5 .3 7.7 .2-11.1 .2 10.1 .2-4 .3-.7 .2-.7 .2 3.9 .2-8.3 .3 13 .2-1.7 .2-8.9 .2 3 .3-3.1 .2 .5 .2 .1 .2 1.2 .2-.6 .3-7 .2 8.5 .2 4 .2-.2 .2-3.3 .2-5.3 .2 11.1 .3-5 .2-3.2 .2 2.5 .2 7.8 .2-8.3 .2 1.1 .2-.8 .2 3.6 .2-1.9 .2-2.3 .2 1.3 .2 4.3 .2-4.3 .2 1 .3-6.3 .2 2.8 .2 2 .2 3.7 .2-2.8 .2-3.2 .2 3.9 .2 8 .1-11.1 .2 5.1 .2-2.3 .2 10.8 .2-12.9 .2 .2 .2 4.3 .2-10.3 .2 3.8 .2 4.2 .2-1.9 .2 6.9 .2-8.5 .2 7.6 .2-9.4 .1-.2 .2 7.1 .2-5.7 .2 7 .2-8.1 .2 1.9 .2 3.1 .1-7 .2 3.4 .2 5.8 .2-2.1 .2 .8 .2 3.6 .1-2.3 .2-3.7 .2 1.9 .2-2.7 .2-3.8 .1 8.9 .2-.4 .2-4.1 .2 1.7 .2-1.5 .1 2.5 .2-1.5 .2-5.1 .2-.6 .1 3.9 .2 4.4 .2-8.5 .2 8.4 .1-.6 .2-3.8 .2 10.1 .1-8.4 .2 2 .2-.3 .2-1.8 .1 3.4 .2-3.8 .2 8.2 .1-5.9 .2-1.2 .2 6.4 .1-10.5 .2 2.5 .2 6.5 .1-8 .2 2.6 .2 .6 .1-2.4 .2 4.6 .2-7.5 .1 4 .2 10.2 .1-7.1 .2-3.4 .2 5.2 .1-5.3 .2 9 .1-4.4 .2-2.8 .2 3.7 .1 1.8 .2-4.7 .1 3.8 .2-8 .2-2.1 .1 9.9 .2-1.3 .1-2.5 .2-1.2 .1 .4 .2-5.1 .1 3.1 .2-.9 .2 4.5 .1-2.9 .2 1.9 .1-4.7 .2-1.1 .1 8.1 .2-6 .1 .7 .2 2.2 .1 0 .2 1.6 .1 4.1 .2-5.7 .1-.6 .2 1.8 .1-4.2 .2 3.8 .1 .5 .2-4.2 .1-2.2 .2 .3 .1 3.6 .1 3.5 .2-4.7 .1 5.3 .2-4.7 .1-.4 .2 10.1 .1-2.8 .2-2.7 .1-3.4 .1 2.5 .2-.6 .1-1 .2-.1 .1 8 .2-10.3 .1-.4 .1 6.2 .2-.1 .1-6.7 .2 2.3 .1 3.9 .1-6.9 .2 3.1 .1 2.1 .2 3 .1-2.9 .1 .8 .2-3.4 .1 3.3 .1-2.3 .2 1.9 .1 1.4 .2-4.7 .1 3.9 .1-2.5 .2-1.8 .1 3.3 .1 6 .2-10 .1 6.3 .1-1 .2 .4 .1-.9 .1-1.4 .2-3.1 .1 5.5 .1-1.1 .2-1.9 .1 2.7 .1-2.3 .2-1.6 .1 1.6 .1 .7 .1-2 .2-.2 .1-2.8 .1-.6 .2 2.6 .1 7.2 .1-1.4 .1-.8 .2-7.3 .1 7.4 .1-7.8" fill="none" stroke="#2F5597" stroke-width="1.4" stroke-linejoin="round"/>
<path d="M258.7 444l7.4-21.8 6.7-2.6 6-1.8 5.5 2.3 5.1-3.9 4.7 4.2 4.4 7.2 4.1-13.1 3.8-6.2 3.6 9.1 3.4-3.5 3.3 2.2 3.1 9.8 2.9-2.4 2.8 8.8 2.7 1.8 2.6-4.3 2.5 2.2 2.4 3.6 2.3 3.6 2.2-10.6 2.2 3.8 2-.6 2.1 4.9 1.9-.5 1.9-3.5 1.8 8.6 1.8-14.6 1.7 5.7 1.7-5.1 1.7 .6 1.6 7.3 1.5-5.2 1.6 7.8 1.5-1 1.4-10.7 1.4 8.9 1.4 1.1 1.4-5.9 1.3 2.1 1.3-4.5 1.3-26.1 1.3 35.9 1.2-5.3 1.2 1.4 1.2 3.2 1.1 3.8 1.2-1.8 1.1-10.9 1.1 6.2 1.1 3.4 1.1-6 1 6.3 1-9.5 1 .4 1 4 1 3.1 1 6.1 .9-10.8 1-7.3 .9 8.9 .9 3.7 .9-6.3 .9 5.8 .9 4.1 .8-5.2 .9-3.2 .8 11.7 .9-13.6 .8-2.7 .8 8 .8 2.3 .8 4.6 .7-9.2 .8 4 .8-7 .7-1.5 .7 1.6 .8 5.2 .7 9.6 .7-14.9 .7 8.7 .7 .1 .7-7.3 .7 3 .7 7.3 .7-3.3 .6-.1 .7-.6 .6 5 .7-12.6 .6 7.9 .6-3.2 .7-1.5 .6-4.2 .6 5.2 .6 5.3 .6-1.2 .6-4.8 .6-3 .6 11.3 .5-12.4 .6 9 .6-1.4 .5 .8 .6-3.8 .5 2.8 .6-.6 .5 3.1 .6-8.8 .5 4 .5 1.4 .6-8 .5 5.3 .5-2.7 .5 5.9 .5-1.5 .5 1 .5-3.8 .5 2.1 .5 7.1 .5-8.3 .5 2.8 .5-1.8 .5-2.6 .4 4.4 .5-3.3 .5 2.2 .4 .3 .5 1.5 .5-1.6 .4 .7 .5-4 .4 11.2 .4-10.6 .5 2.3 .4 3.5 .5-6.7 .4 2.9 .4-2.2 .5-2.9 .4-14.4 .4 25 .4-5.7 .4 4.2 .4-12.3 .5 8.1 .4 6.2 .4 1.3 .4-6 .4 6.8 .4-10.7 .4 10.2 .3-11.7 .4 4.9 .4-5.9 .4 8.3 .4-2.6 .4-5.7 .4 9.8 .3-8.4 .4-2.8 .4 8.8 .3-3.1 .4-6.7 .4 .6 .3-.5 .4 6.2 .4 .9 .3-.7 .4 .7 .3-4.4 .4-.2 .3 1.2 .4 4.3 .3-5.4 .4 1 .3 1 .3-3.7 .4 5.8 .3-1.9 .3-3.6 .4 6.7 .3-5.9 .3 .5 .4-2.8 .3 .8 .3 6.8 .3-8.7 .4 8.3 .3 2.6 .3-3.3 .3 .3 .3 2 .3-6.9 .3 1.7 .4-.4 .3 7.3 .3-11.7 .3 5 .3-2.6 .3 3 .3-.1 .3-1.4 .3 2.2 .3-4.5 .3 6.9 .3 5.6 .3-6.1 .2-1.3 .3-1.5 .3 1.1 .3-1.2 .3-.1 .3 2.3 .3-2.6 .2-.1 .3 4.9 .3 3.6 .3-7.2 .3-1.1 .2-2.1 .3-.1 .3 3 .3-3.2 .2 6.4 .3-.4 .3-6.7 .2 9.3 .3-4.3 .3 3.8 .2 .6 .3-12.2 .3 14.2 .2-12.9 .3 8.1 .2 1.1 .3 3.3 .3-6.9 .2-1.4 .3 .1 .2-15.9 .3 17.3 .2-1.2 .3-.2 .2 .1 .3 3.2 .2-2.5 .3 3.9 .2-3.5 .3 4.5 .2 1.6 .2-3 .3-1.6 .2 1.9 .3-1.4 .2 .9 .2-2.1 .3-6.2 .2 4.2 .3-.9 .2-.6 .2 .5 .3 1.6 .2-1.5 .2-.9 .3 4.5 .2 .4 .2-.9 .2 .1 .3-1.9 .2 3.3 .2-.1 .2-2.3 .3-1 .2 2.2 .2 5 .2-4.5 .3-3.9 .2 3.8 .2-5.3 .2 6.4 .2-1 .3-3.8 .2-1.3 .2 5.3 .2-6.4 .2 4.6 .2-.7 .2-5.1 .3 3.5 .2 3.8 .2-.6 .2 3.1 .2-7.3 .2 2.7 .2-5.4 .2 2.3 .2 4.3 .2 2.3 .2-1 .2-5.7 .2 5 .2-4.6 .3-.3 .2-1 .2 4.5 .2-1.7 .2 7.2 .2-5.8 .2 1.1 .2-3.3 .1 9.7 .2-5.2 .2-9.4 .2 7.7 .2 2.3 .2-2.1 .2 .9 .2 .7 .2-3.4 .2 1.2 .2-3.1 .2-5 .2 6.5 .2 1.3 .2-4 .1 10.3 .2-11.5 .2 10.6 .2-2.4 .2-1.9 .2 5 .2-2.6 .1-2.8 .2-.9 .2 6.5 .2 5.8 .2-13.2 .2 8.4 .1-7.3 .2-.4 .2-1.2 .2 4.9 .2 .2 .1-13.3 .2 11.4 .2 3.4 .2 1 .2-3.8 .1-7.1 .2 3.7 .2 5.7 .2 1.8 .1-2.8 .2-2.1 .2-1.1 .2-.8 .1-2.2 .2 8.8 .2 .8 .1-5.3 .2-2.4 .2 4.1 .2-3 .1 1.3 .2-4.5 .2 5 .1 .9 .2-3.5 .2-1.8 .1 6 .2-2 .2 2.2 .1 1.5 .2-12.9 .2 11 .1-1 .2 0 .2 1.8 .1-2.5 .2-.2 .1-1.7 .2 3.4 .2 3.1 .1-4.6 .2-3.1 .1-2 .2 4.9 .2 .7 .1 1.7 .2-8.1 .1 7.6 .2-.3 .2-1.7 .1 .6 .2-1 .1-1.3 .2-4.6 .1 4.3 .2 .3 .1 6.8 .2-13.3 .2 6.1 .1-1.3 .2 4.4 .1-.9 .2 1.1 .1-.8 .2 .9 .1-4.4 .2-1 .1 4.1 .2 .9 .1-4.2 .2 3.9 .1-2.8 .2 4.4 .1-7.5 .2 6.8 .1-3.7 .2-4.2 .1 4.7 .2 2.5 .1-3.7 .1-2.8 .2 13.5 .1-6.6 .2-.9 .1-3.6 .2 8.5 .1-8.3 .2 2.7 .1-1.8 .1 5.7 .2-8.4 .1-4.8 .2 9 .1-1.7 .2 6 .1 6.5 .1-10 .2 .5 .1-3.3 .2 2.3 .1 5 .1 3.3 .2-12.1 .1 .5 .2 4 .1 .4 .1-3.4 .2 4.4 .1 2.8 .1-9.3 .2 9.7 .1-3.6 .2-6.2 .1 3 .1-2.3 .2-1.4 .1 4.7 .1 6 .2 1 .1 1.7 .1-10.7 .2 7.9 .1-4.7 .1-.9 .2-.9 .1 1.4 .1-4.8 .2 3.5 .1-2.7 .1 4.2 .2-.4 .1-.5 .1-1.2 .1-1.1 .2 4.7 .1-4.1 .1-7.8 .2 19.9 .1-12.1 .1 2.7 .1 .4 .2 1.4 .1 2.1 .1-5.2" fill="none" stroke="#1F4E79" stroke-width="1.4" stroke-linejoin="round"/>
<path d="M258.7 445.9l7.4-32.9 6.7 4.1 6 .8 5.5 4.6 5.1-4.8 4.7-2.9 4.4 6.1 4.1-9 3.8 7.3 3.6-3.4 3.4 10.8 3.3-12.3 3.1 8.6 2.9 4.7 2.8-.6 2.7 2.5 2.6 5.8 2.5 2.7 2.4-8.1 2.3-1.4 2.2 2.5 2.2 2.1 2-.2 2.1 7.9 1.9-6.5 1.9 1 1.8-2.7 1.8 10.1 1.7-4.6 1.7-3.8 1.7 6.5 1.6-2.4 1.5-13.5 1.6 8.1 1.5 1.3 1.4-2.6 1.4 5.2 1.4-5.4 1.4 2.8 1.3 2.6 1.3-5.2 1.3-31.8 1.3 38.2 1.2-6.6 1.2 3.5 1.2-.9 1.1-3 1.2-1.3 1.1-1.9 1.1 5.8 1.1-13.6 1.1 7.2 1 1.2 1-4.7 1 3 1-1.8 1 1.9 1 7.7 .9-5.8 1-1.2 .9 1.7 .9-2.4 .9 3.4 .9 7.1 .9-2.9 .8 3.8 .9 1.8 .8-15.7 .9 5.6 .8-1.7 .8 12.2 .8-9.8 .8 6 .7-5.4 .8-.1 .8-2.4 .7 10 .7-9.7 .8 1.2 .7 3.3 .7 7 .7 .9 .7 2.1 .7-.2 .7-11.3 .7 11.6 .7-3.9 .6-5.1 .7 3.9 .6-4.5 .7-3.4 .6 8.3 .6-4.9 .7-1.5 .6 3.9 .6-3.8 .6 3.7 .6-.8 .6-2.8 .6 4.1 .6-.2 .5-2.7 .6-1.9 .6 7.6 .5-8 .6 3.3 .5-.1 .6-4.3 .5 8.4 .6-.2 .5 .8 .5-4.7 .6-1.3 .5 7.1 .5-7.1 .5 6 .5-5.3 .5-6.9 .5 3.6 .5 4 .5-3.5 .5 .6 .5 11.4 .5-5.8 .5-5.7 .4 .7 .5 5.8 .5-5.5 .4 .1 .5 1.8 .5-.4 .4-7 .5 4.1 .4-.5 .4 9.4 .5-4.9 .4-4.3 .5 2 .4 1.5 .4 2.7 .5-4.6 .4-17.6 .4 9.4 .4 9.8 .4 6.1 .4-1.4 .5-3.1 .4-.6 .4 1.4 .4-2.8 .4-5.7 .4 9.1 .4-7.9 .3 1 .4 7.1 .4 1 .4-7.9 .4-1 .4 .8 .4 .5 .3 4.7 .4-4.9 .4 6.3 .3-6.1 .4-1.1 .4 .5 .3-2.2 .4 2.4 .4-1.5 .3 3.1 .4-5.5 .3 6.2 .4-5.5 .3 7.8 .4 1.7 .3-5.1 .4 1.1 .3 1.5 .3 1 .4-5.9 .3 1.4 .3-1.7 .4 4.7 .3-2.8 .3 5 .4-1.3 .3-5.3 .3 0 .3 2.5 .4-4 .3 7.2 .3-7.8 .3 5.6 .3-.1 .3 3 .3-8.5 .4 8.6 .3-8.6 .3-.1 .3 11.9 .3-6.5 .3 3.9 .3-2.3 .3-1.7 .3 .9 .3-3.5 .3 .8 .3 8.1 .3-1.9 .2 .3 .3 .2 .3-7 .3 2.6 .3-.8 .3 7.9 .3-6.4 .2 6.9 .3-8.1 .3 2.3 .3-4 .3-.3 .2-1.1 .3 3.9 .3-2.3 .3 5.1 .2-11.9 .3 7.7 .3 4.5 .2-4.2 .3-3.8 .3 6.8 .2-7 .3 5.4 .3-6 .2 4.7 .3 3.3 .2-3.8 .3-3.8 .3 11.5 .2-3.5 .3-4.9 .2-5.6 .3 6.9 .2 1.9 .3-.8 .2 .5 .3-2.6 .2 4.3 .3 2.6 .2-4.8 .3 .1 .2-.4 .2-.9 .3 2.9 .2 3.1 .3-7.4 .2-3.8 .2 3.6 .3 1.3 .2-1.7 .3 3.5 .2 4 .2 1.8 .3-7.4 .2 4.5 .2-.7 .3-5 .2-2 .2-1.7 .2 11.6 .3-5.5 .2 1.9 .2-3 .2 .4 .3-1.9 .2 2.7 .2 3.4 .2 3.3 .3-14.2 .2 8.9 .2-4.8 .2 2 .2-2.4 .3 2.9 .2-4.4 .2 8.1 .2-5.7 .2 .3 .2 4.7 .2 .5 .3-.7 .2-7.4 .2 6.3 .2-4.8 .2 4.6 .2-2.3 .2-1.5 .2 1.6 .2 2.4 .2 .1 .2-8.7 .2 1.7 .2 3.1 .2 4.2 .3-3.7 .2-5.2 .2 9.3 .2-2.9 .2-1.5 .2 3.3 .2-.9 .2-3.5 .1 4.1 .2-.5 .2-1.7 .2 5.9 .2-5.1 .2-3.6 .2-.1 .2 10.8 .2-6.2 .2-7.1 .2 10.2 .2-.5 .2-4.4 .2 3.7 .2 .4 .1-.2 .2-3.4 .2-.3 .2-.3 .2 6.8 .2 .6 .2-8.9 .1 3.2 .2-.8 .2-1 .2-3.9 .2 1.2 .2 6.2 .1-5 .2 1 .2-3.4 .2 2.1 .2-5.3 .1 .2 .2 7.1 .2 4.6 .2-5.5 .2 4.9 .1-2.7 .2-3.9 .2 6.1 .2 4.9 .1-5.1 .2 1.7 .2 2.2 .2-8.2 .1 .1 .2 1.1 .2-3.2 .1 4.8 .2-8.4 .2 6.9 .2-2.6 .1 6.2 .2-4.5 .2 2.9 .1 3.1 .2-5.1 .2 4.2 .1-6.8 .2 9.5 .2 1.1 .1-12 .2 2.6 .2 3.5 .1 5.9 .2-4.7 .2-3.3 .1-6.4 .2 9.6 .1-8.7 .2 12.8 .2-12.5 .1 3.6 .2 5.1 .1-7.6 .2 4.6 .2 3.3 .1-1.6 .2-4.6 .1 5.3 .2 .6 .2-2.1 .1 .1 .2 4 .1-9.9 .2-1.6 .1 7.3 .2-2.3 .1 2.6 .2 3.1 .2-5.1 .1 5 .2 1.9 .1-3.6 .2-3.5 .1 3.1 .2-4.8 .1 .5 .2-1 .1-1.6 .2 7.2 .1-4.8 .2 .4 .1 1 .2 3.4 .1-4 .2 1.4 .1-2.2 .2 3.3 .1 1.5 .2 3.5 .1-5.2 .1-6.9 .2 5.8 .1 .8 .2 2.9 .1-4.1 .2 .8 .1-.2 .2 1.5 .1 3.1 .1-.8 .2-.9 .1 1.2 .2 .6 .1-5.2 .2 1.2 .1 1.7 .1-1.1 .2-4.8 .1 8.6 .2-6.9 .1 10.1 .1-13.6 .2 4.2 .1-6.2 .2 1.3 .1 6 .1-1.7 .2 .6 .1 9 .1-10.8 .2 .7 .1-.3 .2 2.2 .1 5.2 .1-1.8 .2 11.3 .1-14.6 .1 3.6 .2-.5 .1-6.3 .1 4.1 .2 10.4 .1-14 .1 8.9 .2-.8 .1-.8 .1-8.2 .2 9.3 .1-6 .1-1.1 .2 10.3 .1-13.2 .1 7.9 .1-8.9 .2 7.8 .1-7.1 .1-2.1 .2 15.6 .1-3.5 .1-2.3 .1-5.7 .2-2.7 .1 5.8 .1-1.4" fill="none" stroke="#1F4E79" stroke-width="1.4" stroke-linejoin="round"/>
<path d="M258.7 435.2l7.4-10.2 6.7 3.1 6-6.4 5.5-9 5.1 12.4 4.7-.2 4.4-5.3 4.1 .5 3.8-1.7 3.6 2.8 3.4 .1 3.3-.1 3.1 .8 2.9 3.3 2.8 2.2 2.7 .1 2.6 3.7 2.5-2.9 2.4-1.3 2.3-1.9 2.2 10.5 2.2-10.3 2 4.3 2.1-6.1 1.9 7.9 1.9-6 1.8 5.1 1.8-2.2 1.7-1.6 1.7 3.8 1.7-6.7 1.6 6.5 1.5-2 1.6 1.3 1.5 .4 1.4-2.8 1.4 6.3 1.4-6.2 1.4 6.1 1.3-10.7 1.3 15.3 1.3-36.6 1.3 38.5 1.2-5.5 1.2-5.8 1.2 17.2 1.1-6.9 1.2-14.9 1.1 3 1.1 .7 1.1 8.1 1.1-17.5 1 .3 1 17.2 1-14.5 1 12.1 1-2.6 1 4.4 .9-2.9 1 3 .9-13 .9 4.5 .9 8.9 .9 .4 .9 2.1 .8 2 .9-10.3 .8 14.5 .9-2.3 .8-12.5 .8 12.9 .8-14.6 .8 4.1 .7-1 .8-.9 .8-5.2 .7 4.5 .7 10.3 .8-7.5 .7-2 .7 11.2 .7-8.1 .7 2 .7-5.2 .7 1.2 .7 15.3 .7-4.7 .6-5.5 .7-3.6 .6 2.2 .7-2.4 .6 2.7 .6 4.5 .7-4.7 .6-6.2 .6 7.9 .6-3.5 .6-4.2 .6 2.9 .6 0 .6 7.8 .5-14.3 .6 11.5 .6-4.4 .5 1.8 .6 4.5 .5-4.5 .6 1.5 .5-3.7 .6 3 .5-11 .5 13.8 .6-4.1 .5 .5 .5 5.5 .5-8 .5 8.1 .5-5.2 .5-3.6 .5 8.5 .5-6 .5 .8 .5-8.9 .5 6 .5 0 .4 3.6 .5-3.3 .5-.7 .4-.2 .5-2.7 .5 4.6 .4 2.2 .5-1.4 .4-.4 .4 3.5 .5 3.5 .4-5.1 .5-.5 .4-1.8 .4 1 .5-3 .4-20.5 .4 18.7 .4 1.8 .4 5 .4-8.8 .5 2.9 .4 2.1 .4 1.1 .4-2.4 .4 9.4 .4-7.2 .4-5 .3 6.6 .4-7.6 .4 4.8 .4-2.3 .4-1.1 .4 10.2 .4-.4 .3-3.6 .4-1.5 .4-6.4 .3 2.1 .4 5 .4-4.5 .3 7.8 .4-3.9 .4-1 .3-.1 .4-3.2 .3 7.4 .4-8.4 .3 7.7 .4-2.5 .3 .8 .4 2.5 .3-12 .3 10.2 .4-10.7 .3 7.7 .3-4.4 .4-1 .3 6.3 .3-.7 .4-.4 .3 1.4 .3-2.7 .3 10.5 .4-5.2 .3-3.6 .3-9 .3 6.5 .3 3 .3-5.4 .3 8.2 .4-4.8 .3-.8 .3 7.4 .3-.7 .3-2.9 .3-8 .3 7.2 .3 .3 .3-.7 .3 2.1 .3-4.9 .3-1.6 .3-3.7 .2 5.6 .3-8.7 .3 8 .3-5.3 .3 8.3 .3 8.4 .3-2.8 .2-9.6 .3 2.4 .3 3.1 .3-2.5 .3 3 .2 3.7 .3-5.1 .3-1.6 .3 3.9 .2-9.9 .3 2.8 .3 3.9 .2-7.7 .3 6.7 .3 1 .2 .7 .3 2.5 .3-3.5 .2-4.8 .3 5.1 .2-3.8 .3 5.1 .3 1 .2-6.3 .3 .5 .2-8.8 .3 9.9 .2-.4 .3 6.6 .2-3.2 .3 4 .2-5.4 .3-2.5 .2 .9 .3-2.7 .2 5.5 .2-2.5 .3 .9 .2 2.6 .3-5 .2 3.8 .2 4.4 .3 4.5 .2-9.7 .3-7.3 .2 9.8 .2-6.2 .3 8.4 .2-5.7 .2 3.8 .3 3.2 .2-1.6 .2-8 .2 .8 .3 6.2 .2 .9 .2-4.8 .2-1.3 .3-2.5 .2 4.9 .2-3.9 .2 .8 .3 4.1 .2 1.4 .2-7.4 .2 10.4 .2-1.4 .3-6.3 .2-.1 .2 1.2 .2-.9 .2 6.7 .2-8.8 .2 2.7 .3 3.3 .2-1.5 .2 1.7 .2-.5 .2-2.4 .2 .1 .2-6.2 .2 7.5 .2 3.4 .2-5.6 .2 2.5 .2 .5 .2-6.9 .2 2.5 .3-.1 .2 4.9 .2-3 .2 1.5 .2-3.3 .2 6 .2-2.3 .2 2.1 .1-1.6 .2-.1 .2 6.1 .2-2.2 .2-.6 .2-3.1 .2-1.9 .2-1.6 .2 3.5 .2-7 .2 2.7 .2-.9 .2 1.2 .2 3.6 .2-1.6 .1 2.2 .2-2.2 .2 2.7 .2 4.5 .2-2.6 .2-6.4 .2 6.2 .1-7 .2 .4 .2 3.2 .2 0 .2-.2 .2-1.4 .1 1.7 .2 2.5 .2-4.7 .2 4.3 .2-1.9 .1-2.7 .2-2.2 .2 .2 .2 12.8 .2-6.6 .1-3.7 .2 2.2 .2-2.5 .2-3 .1 9.4 .2-9.9 .2-1 .2 11.1 .1-5 .2 4.2 .2 .4 .1-5.3 .2-2.6 .2 8.3 .2-3.3 .1-1.2 .2 2.2 .2-4.4 .1-3.4 .2 14.1 .2-13.4 .1-4.5 .2 11.5 .2-10.1 .1 8.5 .2-1.3 .2 1.5 .1-3.2 .2 8.8 .2-7.6 .1-.7 .2-.3 .1 3.2 .2-4.6 .2 2.3 .1 2.8 .2-4.3 .1 .9 .2-2.2 .2 3.2 .1 1.4 .2 7.8 .1-9.7 .2 .8 .2 1.1 .1 1.4 .2-1.2 .1-5.2 .2-1.9 .1-4.5 .2 16.9 .1-7 .2 .6 .2 2 .1-4.9 .2-3.4 .1 1.3 .2 15.6 .1-12.8 .2-1.7 .1 2.8 .2-6.6 .1 1.8 .2 4.5 .1 2.6 .2 4.8 .1-13.8 .2 11 .1-1 .2 1.1 .1-.6 .2-3.5 .1 2.2 .2 5.9 .1-3.5 .1-6.8 .2 2.5 .1 4.9 .2-6.8 .1 .2 .2 6.3 .1-11.9 .2 3.2 .1 2.1 .1-3.5 .2 4.8 .1 .2 .2 3 .1 1.3 .2-4 .1 1.9 .1-2.3 .2 .2 .1 3.1 .2-2.8 .1-1.4 .1-1.4 .2 2.4 .1 7.5 .2-3.7 .1-4.7 .1 2.3 .2-5.9 .1 9.6 .1-8.2 .2 2.2 .1 .3 .2 2.1 .1-.3 .1-5.7 .2 9.8 .1-2.7 .1-2.2 .2 3.1 .1-4.8 .1 4.8 .2-5.5 .1 2.3 .1-.2 .2-.8 .1 .8 .1-.3 .2-2.3 .1 2.3 .1-.4 .2 5.8 .1-1.8 .1-1.3 .1-6.7 .2 8.1 .1-1.9 .1-3.6 .2 6.7 .1-6.4 .1-.6 .1 .4 .2 2.1 .1-1.9 .1 5.2" fill="none" stroke="#255E91" stroke-width="1.4" stroke-linejoin="round"/>
<path d="M258.7 449.1l7.4-28.7 6.7-3.5 6 4.8 5.5-3.8 5.1 1.2 4.7-3.9 4.4 9.9 4.1-8.9 3.8 3.1 3.6-2 3.4 .9 3.3-5.1 3.1 10.3 2.9-2.8 2.8 1.4 2.7 1.5 2.6 6.2 2.5-8.2 2.4 12.2 2.3-9.1 2.2 14.8 2.2-9 2-1.9 2.1-9.2 1.9 7 1.9-3.3 1.8 6.1 1.8 .5 1.7 .8 1.7-6.4 1.7 .2 1.6-2.2 1.5 2.8 1.6 .6 1.5 .5 1.4-4.3 1.4 9.9 1.4 5.1 1.4-1.5 1.3-5.4 1.3-5.2 1.3-31.6 1.3 37 1.2 7.3 1.2-13.7 1.2 .8 1.1 1.5 1.2 4 1.1 5.1 1.1-10.9 1.1 3.9 1.1-1.6 1 7.1 1-2.7 1-4.8 1 3.4 1 1.6 1-1.6 .9 4.3 1 5.2 .9-9.8 .9-1.5 .9 10.5 .9-8.9 .9-.9 .8-1.9 .9 8.9 .8-3.2 .9-5.8 .8 11.9 .8-12.9 .8 5.8 .8 5.6 .7-5 .8 8.8 .8-8.1 .7-3.5 .7 4.9 .8-1.4 .7 .6 .7 3.8 .7 4.3 .7-13.6 .7 4.9 .7-1.9 .7 1.9 .7 1.2 .6-5.8 .7 8.7 .6-11 .7 5.3 .6 3.2 .6-3.9 .7 2.1 .6 2.1 .6 3.7 .6-11.7 .6 11.8 .6-5.3 .6-10.9 .6 8.3 .5 7.7 .6 .7 .6-7.1 .5 .2 .6 2 .5-7.1 .6-1.7 .5 5 .6 .3 .5 4.9 .5 1.7 .6-7.3 .5 5.2 .5-1.1 .5 .6 .5-2.4 .5-1.8 .5 2.7 .5-3 .5 6.2 .5 .1 .5-4 .5-2.3 .5 5.5 .4-5.1 .5-.9 .5 .3 .4 1.1 .5 2 .5-9.7 .4 15.2 .5-7.6 .4-1.7 .4 2.7 .5-1 .4 6.3 .5-8.5 .4 4.4 .4-2.4 .5 3.1 .4-24 .4 30.1 .4-10.3 .4-2.2 .4 6.3 .5-4.5 .4 3.9 .4 4.4 .4-14.1 .4 12.8 .4-14.1 .4 7 .3 1.5 .4 6.3 .4 .3 .4-7.9 .4 2.1 .4-2 .4 1.9 .3 3 .4-2.4 .4-4.4 .3 .4 .4-2.6 .4-1.4 .3 2.6 .4 11 .4-13.2 .3 11 .4-6 .3 4.1 .4-3.7 .3 1.5 .4-3.4 .3 3.4 .4 5.3 .3-7.7 .3 3.6 .4-2.2 .3 5.5 .3-7.7 .4 3.8 .3-.2 .3 4.7 .4-8 .3 1.2 .3-1.4 .3 1.3 .4 8.6 .3-6.6 .3-1.7 .3 .7 .3-5.6 .3 6.3 .3 2.1 .4-.1 .3-5.3 .3 6.7 .3-3.6 .3-3.3 .3 2.5 .3 8.9 .3-5.6 .3-8.9 .3 6.5 .3 2.2 .3-3.4 .3 1.2 .2 .5 .3-1.4 .3-2.9 .3 6.3 .3-8 .3 1.2 .3 3.6 .2 .1 .3 .2 .3 .1 .3-1.3 .3-.8 .2 0 .3-7.9 .3 10.6 .3-.1 .2-2.8 .3 4.6 .3-3.4 .2 1.7 .3 4 .3-1.3 .2-.2 .3-3.1 .3-1.6 .2 .1 .3-1.2 .2 4.1 .3-1.1 .3 2.5 .2-3.7 .3 4.6 .2-15 .3 11.2 .2 4.9 .3-2.2 .2 1.9 .3-6.5 .2 1 .3 3.7 .2 1.7 .3-8.6 .2-.5 .2 2.8 .3 .9 .2-1.2 .3 .4 .2 8.1 .2-.7 .3-8.3 .2 .9 .3-2.3 .2 12.4 .2-4.6 .3-6.2 .2 6.3 .2-3.5 .3-2.2 .2 .7 .2 2.1 .2 .2 .3-5.4 .2-3.4 .2 5.5 .2 5.2 .3 4.2 .2-1.6 .2-6.8 .2-5.3 .3 6.5 .2-2.2 .2 6 .2-2 .2 .8 .3-1.2 .2-4.6 .2 2.8 .2 10.2 .2-13.1 .2-4.4 .2 9.1 .3 .8 .2-2.5 .2 3.7 .2-6.7 .2 2.9 .2-5.4 .2 1.4 .2 3.8 .2-1.5 .2-1.3 .2 1.9 .2 4.6 .2-2.6 .2 1.9 .3 6.2 .2-9.8 .2-.8 .2 1.2 .2-2.4 .2 6.7 .2-4.5 .2 9 .1-4.9 .2-1 .2-.9 .2 3.8 .2-4.6 .2 2.8 .2-2.8 .2 2.4 .2-4.6 .2 11.7 .2-3.8 .2-2.5 .2-4.4 .2-.6 .2 1 .1 .7 .2-4.6 .2 7.1 .2 .4 .2-7.5 .2 14.3 .2-5.1 .1-10 .2 8.2 .2-2.4 .2-3 .2-.5 .2 4.8 .1 1.6 .2-.2 .2 2 .2-8.4 .2 2.4 .1 5.3 .2 .8 .2-8.8 .2-.1 .2 8 .1-12.2 .2 17.5 .2-6.8 .2-4.1 .1 5.8 .2-3.2 .2-3.8 .2 2.8 .1-1.9 .2-5.2 .2 7.3 .1 .7 .2 .6 .2-5.9 .2 5.7 .1 .4 .2-.1 .2-2.7 .1 1.4 .2 2.8 .2-5.4 .1-2.4 .2 6 .2 2.2 .1-2.5 .2-.8 .2 .3 .1-6.2 .2 11.4 .2-2 .1-4.8 .2 5.7 .1-4.2 .2-2.7 .2 8.1 .1-4.5 .2-3.6 .1 .1 .2 2.9 .2-.9 .1 4.5 .2-4.4 .1-2.9 .2-.3 .2-.7 .1 5.4 .2-1.1 .1 1.3 .2-1.2 .1-7.5 .2 9.1 .1-2.6 .2-4.9 .2 7.1 .1-2.7 .2 7.4 .1 0 .2-4 .1 6 .2-3.6 .1-.8 .2-5.1 .1 0 .2-2.9 .1-.9 .2 3 .1 3.2 .2 5.6 .1-9.3 .2 3.9 .1 1.8 .2-9.4 .1 8.3 .2-6.9 .1 3 .1 6.5 .2-4.3 .1 5.5 .2-3.8 .1-2.6 .2 2 .1-5.1 .2 5.9 .1-2.9 .1 2.9 .2 .2 .1-5.6 .2-6 .1 9.1 .2 .5 .1 2.4 .1-.9 .2-3.5 .1-.5 .2 6.7 .1-5.1 .1 4 .2-7.2 .1 3 .2 1.1 .1-4.3 .1 5 .2-4.5 .1 2.4 .1 1.5 .2 1.7 .1-6.5 .2 5.6 .1-6.7 .1 5.2 .2 3.4 .1-2.4 .1 1.8 .2 3.2 .1-8.9 .1-.8 .2 .8 .1 9.1 .1-6.3 .2-.8 .1-4.5 .1 12.5 .2-5.1 .1-6.9 .1 9.5 .2-1.8 .1-2.1 .1-2.4 .1 5 .2-2 .1-4.4 .1 1.5 .2 2.8 .1-4.9 .1 7.8 .1-4.8 .2 5.8 .1-5.8 .1 1.5" fill="none" stroke="#2F5597" stroke-width="1.4" stroke-linejoin="round"/>
<path d="M258.7 439l7.4-22.9 6.7 13.9 6 5.5 5.5-15.8 5.1 1.1 4.7 2.4 4.4-1.7 4.1 4.5 3.8 1 3.6-1 3.4-3.6 3.3-2.4 3.1-4.5 2.9 12.6 2.8 8.8 2.7-10.3 2.6 7 2.5 3 2.4-8.2 2.3 12.2 2.2-2.7 2.2-14.8 2 11.1 2.1-4.7 1.9-4 1.9 12.1 1.8-6.6 1.8-4.6 1.7 1.2 1.7-2.4 1.7-5.4 1.6 2.4 1.5 6.2 1.6 6.3 1.5-7 1.4 7.2 1.4 5.4 1.4-1.6 1.4-7.1 1.3 .5 1.3 2.3 1.3-34 1.3 34.9 1.2-3.5 1.2 .2 1.2-3.1 1.1 3.1 1.2-4.6 1.1 6.5 1.1-1.5 1.1-3.3 1.1 6.4 1-4.5 1 .2 1-3.7 1 16.6 1-17.6 1 7.8 .9-1.8 1-6.3 .9 4.5 .9 9.2 .9-5.1 .9-4.8 .9 5 .8-3 .9-2.2 .8-5.2 .9 12.8 .8 4.5 .8-4 .8-1.2 .8-6.7 .7 3.5 .8-4.6 .8 5.1 .7 7.4 .7-8.1 .8 5.1 .7-4.5 .7 9.2 .7-11.2 .7 8.7 .7-2.8 .7-6 .7 5.3 .7 3.3 .6-11.2 .7 8.7 .6-6.2 .7 5.2 .6 8.3 .6-7.9 .7-2.2 .6 1.9 .6-6.7 .6 12.1 .6-3.5 .6-5 .6-1.9 .6 1 .5 6.5 .6-4.8 .6-.7 .5-4.7 .6-1.5 .5 6.1 .6-.7 .5-.4 .6 3 .5-1.4 .5-.5 .6 .9 .5-2.1 .5 2.4 .5 2.1 .5-6.2 .5 .5 .5 6.1 .5-4.9 .5 5.2 .5-4.3 .5 3.6 .5-.4 .5-3.8 .4 4.8 .5-6.1 .5-3.2 .4 6.7 .5 1.8 .5-4.2 .4 2.2 .5 4.6 .4-13.4 .4 9.6 .5-8.5 .4 3.4 .5 .7 .4 1 .4 2.6 .5-3.5 .4-23.2 .4 28.5 .4-3.4 .4 10.6 .4-8.5 .5-3.4 .4 1 .4-.9 .4-.8 .4-4.5 .4 8.2 .4 11.2 .3-15 .4 1 .4 .7 .4-2.6 .4-3.2 .4 4.6 .4 4.4 .3-6.1 .4 5.2 .4 2.9 .3-1.7 .4-3.9 .4 5 .3-3.6 .4-3.1 .4 9.9 .3-12.8 .4-2.9 .3 7.8 .4-.2 .3 .5 .4 9.9 .3-11.6 .4 6.2 .3-5 .3 3.3 .4-.8 .3-.5 .3 1 .4 4.3 .3-12.3 .3 8.2 .4-7.2 .3 .5 .3 3.9 .3-1.3 .4 0 .3-1.7 .3 .4 .3 2.5 .3-.9 .3-3.8 .3 6.6 .4 3.2 .3 1.4 .3-6.2 .3-4.8 .3-4.1 .3 9.7 .3-2.7 .3 3.7 .3-3.5 .3 1 .3-3.9 .3 .4 .3 1.3 .2 1.3 .3-2.9 .3 3.9 .3-5.4 .3-.6 .3 2.2 .3-3.1 .2 8.4 .3-4 .3 .8 .3 3.6 .3-3.8 .2 1.7 .3-2.2 .3 1.1 .3-2 .2 3.7 .3-1.1 .3-3.3 .2-1.4 .3 4 .3 7 .2-9.6 .3 1 .3 6.1 .2 3.4 .3-1.6 .2 .2 .3-12.3 .3 8.1 .2-1.1 .3-3.2 .2-10.6 .3 13.5 .2-4 .3-1 .2 3.8 .3 2.9 .2 2 .3-7 .2 6.6 .3-1.5 .2 5.8 .2-3.4 .3-6.6 .2 4.2 .3-4.8 .2 3.3 .2 1.5 .3-5.4 .2 2.9 .3 1.6 .2-6.6 .2 9 .3 .6 .2-4.2 .2 .2 .3 6.6 .2-5.6 .2-.2 .2 2.3 .3-4 .2 8.6 .2-9.4 .2-2.1 .3-4.5 .2 13 .2-8.3 .2 6.5 .3 2.8 .2-5.7 .2 2.8 .2-.7 .2 .8 .3-4.7 .2 2.3 .2-2.1 .2 .7 .2-.7 .2 1.3 .2 4.6 .3-6.8 .2 3.8 .2-1.6 .2-.3 .2 0 .2 3 .2-.4 .2 1.3 .2-2.3 .2-3.7 .2 5.8 .2-4.1 .2-5.4 .2 11.5 .3-5.4 .2-.9 .2 2 .2 1.2 .2-4.7 .2 3.1 .2-1.4 .2 5 .1-8.6 .2-2.5 .2 8 .2-2.5 .2 3.4 .2-6.3 .2 2.8 .2 .8 .2 1.1 .2 3.3 .2-4.4 .2-.5 .2 7.9 .2-7 .2 7.1 .1-12.3 .2 5.1 .2-1.2 .2 4.5 .2-9.4 .2 5.2 .2 1 .1 1 .2 2.5 .2-1.8 .2-.1 .2 3.1 .2-8.3 .1 9.7 .2-7.2 .2-3.1 .2 3.7 .2-.4 .1 2.9 .2 2.1 .2-10 .2 11.5 .2-6.7 .1 5.5 .2-6 .2-.3 .2-1.9 .1 4.1 .2 0 .2 1.2 .2-1.2 .1 .3 .2-3.2 .2 3.7 .1 0 .2-8.9 .2 12.5 .2-4.7 .1-8.6 .2 13.7 .2-9.9 .1 4.4 .2-3 .2 1.4 .1 7.7 .2-8.7 .2 4.6 .1 4.2 .2-7.1 .2 5.4 .1-3 .2-1.8 .2 6.5 .1-8.3 .2 .1 .1 2.4 .2-2.9 .2 3.6 .1-5.8 .2 7.1 .1-2.3 .2-1.8 .2 .8 .1 7.3 .2-4.5 .1-5.2 .2 6 .2 3.5 .1-7 .2 5.1 .1-8.1 .2 6.9 .1 6.4 .2-4.2 .1-.6 .2-1.3 .2-3.6 .1 .8 .2-3 .1 6.2 .2-1.2 .1-3.1 .2-.4 .1-1.3 .2 8.5 .1-6.1 .2-.9 .1-.3 .2 3 .1-2 .2 7.1 .1-2.6 .2-7.7 .1 7.2 .2-4.3 .1-6.7 .2 13.7 .1-2.2 .1-4.1 .2-.6 .1 .6 .2-.1 .1 5 .2-3.3 .1-4.7 .2 7.5 .1-3.2 .1-.6 .2-3.4 .1 5.7 .2-7.2 .1 3.7 .2 .1 .1 1.8 .1 1.5 .2 2 .1-7 .2 2.8 .1-3.1 .1 .3 .2 5.9 .1-3.6 .2 2.8 .1 4.3 .1-10.2 .2 3.1 .1 0 .1-4 .2 8.5 .1-8.3 .2 6 .1-3.1 .1 1 .2 3.3 .1 2.2 .1-9 .2 5.3 .1-2.9 .1 3.1 .2-2.5 .1 1.5 .1-.4 .2-3.3 .1-3 .1 9.6 .2-1.5 .1-3.5 .1 2.6 .2-.9 .1-3.1 .1 2.8 .1 3.7 .2-6.8 .1 2.5 .1-1 .2 1 .1 7.2 .1-11.1 .1 7.2 .2-6.8 .1 8.5 .1-4.7" fill="none" stroke="#1F4E79" stroke-width="1.4" stroke-linejoin="round"/>
<path d="M258.7 444l7.4-28.1 6.7 3.1 6 1.2 5.5-3.5 5.1 5.8 4.7 1.9 4.4-11.3 4.1-3.2 3.8 16.7 3.6-11.2 3.4 9.3 3.3-4.2 3.1 2.5 2.9-3.3 2.8 15.8 2.7-12.6 2.6 8.4 2.5-8.1 2.4 12.2 2.3 6.3 2.2-14.1 2.2 8.7 2-16.9 2.1 10.1 1.9-3.2 1.9 10 1.8-4.4 1.8-1.7 1.7 10 1.7-2.3 1.7-7.4 1.6-1.8 1.5 4.9 1.6-11.9 1.5 2.6 1.4 16.2 1.4-6.2 1.4 2.5 1.4-.1 1.3-3.1 1.3 7.2 1.3-47.6 1.3 31.5 1.2 14.8 1.2-9.6 1.2-1 1.1 4.5 1.2-10.6 1.1 5.2 1.1-3 1.1 5.7 1.1-2.5 1-.6 1 8.9 1 3.4 1-8.2 1 5.1 1-9.1 .9 9.8 1-7.4 .9 8.7 .9-15.7 .9 8.6 .9 7.2 .9-5.8 .8-.4 .9 12.6 .8-6.2 .9-7.1 .8 6 .8-2.4 .8-8.6 .8 1.1 .7 5.4 .8-1.3 .8-5.5 .7 6 .7 9.3 .8-8.3 .7 7.3 .7-2.2 .7-3.9 .7 .5 .7 .5 .7-4.2 .7 5.1 .7-2.3 .6-2.3 .7 6 .6-1 .7 .2 .6 4.4 .6-2.7 .7-4.7 .6 1.2 .6 5.9 .6-8.3 .6 0 .6-.8 .6-1.1 .6 4 .5-1.7 .6 2.8 .6 3.2 .5-3.6 .6-2 .5 .6 .6 3.4 .5 .1 .6-.2 .5-.9 .5-.3 .6-3.2 .5 2.5 .5 7.5 .5-10.8 .5 4.4 .5-9 .5 .4 .5 3.1 .5 4.4 .5-.4 .5 4.9 .5-10.7 .5 7.1 .4-5.5 .5 2.2 .5-5.5 .4 6.2 .5 .7 .5 1.8 .4 4.5 .5-8 .4 4.3 .4-6.4 .5-.8 .4 3.4 .5-7.4 .4 6.9 .4-1.6 .5 5.7 .4-25.6 .4 17.6 .4 5.5 .4 8 .4-11.6 .5-.9 .4 8.6 .4-4.3 .4-1.6 .4-1.5 .4 6.3 .4-.4 .3-1.2 .4 0 .4 .3 .4-2.9 .4 5.7 .4-6.5 .4 5 .3-1.5 .4 .3 .4-5.3 .3 2.3 .4 2.6 .4-3.4 .3 5.2 .4-4.7 .4 .2 .3 .4 .4 5 .3-6.2 .4-.7 .3 .6 .4 3.2 .3-5.6 .4-2.9 .3 2.2 .3 3.4 .4-5.2 .3 9 .3 3.5 .4-3.1 .3-.8 .3-.1 .4-1.9 .3-1.6 .3 2.3 .3 2.7 .4-2.7 .3-2.9 .3 5.4 .3 1.8 .3-3.8 .3-.3 .3-13.5 .4 11.2 .3 3.1 .3-.9 .3 1.1 .3-5 .3-5.3 .3 6.4 .3 3.6 .3-2.8 .3-9 .3 13.1 .3-1 .3-.5 .2-.3 .3 7.2 .3-5 .3-2.6 .3-4 .3 6.7 .3 .3 .2-2.8 .3 3.6 .3 2.2 .3-7.3 .3-1 .2 2.8 .3-3.2 .3-.3 .3-1 .2 3.7 .3-2.7 .3 3.9 .2-2.7 .3-2.5 .3-3.1 .2 4.7 .3 3.4 .3 .2 .2 2.3 .3-7.2 .2-1.6 .3 7.2 .3-1 .2-1.2 .3 5 .2-20 .3 16.9 .2-4.5 .3 .7 .2-3.7 .3 7.5 .2-7.6 .3 6.7 .2-1.6 .3-4.7 .2 6.6 .2 2.3 .3-6.7 .2 3.7 .3 4.7 .2-10.6 .2 7.3 .3-5.4 .2 3.2 .3 2.5 .2-3.2 .2 5.4 .3-9.1 .2 7.7 .2-3.8 .3-8.7 .2 9.8 .2-.9 .2 5 .3-10.7 .2 4.8 .2 .1 .2 6.2 .3-4 .2-.8 .2 1 .2 .9 .3 5.5 .2-4 .2-11.9 .2 6.6 .2-1.8 .3 7.6 .2-9.2 .2 6.6 .2-.6 .2-1.9 .2 1.1 .2-2.9 .3 6.3 .2-4.3 .2 4.7 .2-12.9 .2 14.2 .2-10.6 .2 .5 .2 5.4 .2-.3 .2 0 .2-2.4 .2-.3 .2 .4 .2-1.1 .3 1.5 .2 4.6 .2-5.6 .2 4.5 .2 1.7 .2-5.2 .2 2.1 .2 8.8 .1-12.5 .2 2.9 .2-1.7 .2 6.5 .2-4 .2 1.5 .2-2.1 .2-4.3 .2 7.5 .2-2 .2 0 .2-2.6 .2 7 .2-8.2 .2 4.6 .1-7.3 .2 .7 .2 5.6 .2 1.1 .2-.6 .2 .9 .2-6.1 .1-3.6 .2 11.7 .2-1.6 .2-3.5 .2-.3 .2-.8 .1 6.2 .2-7.5 .2 4.1 .2-3.4 .2 3 .1 4.4 .2-8.5 .2 4.1 .2 1.3 .2 3 .1-3.6 .2-5.9 .2-.1 .2 1.9 .1 4.7 .2-2.6 .2-.4 .2 3.1 .1-.9 .2-2.1 .2 4.2 .1-2.4 .2 3.1 .2-1.7 .2-.6 .1-3.2 .2-.7 .2 4.7 .1-3 .2-5 .2 13.4 .1-7.5 .2 4.9 .2-9.9 .1 2.7 .2 0 .2 .6 .1 7.3 .2-10.4 .2 5.4 .1-.5 .2 4.9 .1-5.8 .2 6.5 .2-.5 .1-14.3 .2 9.5 .1-9.3 .2 3 .2 .7 .1 12 .2-13.4 .1 5.8 .2 2.5 .2-9.9 .1 4.5 .2 .1 .1 7.1 .2-2.9 .1-3.5 .2 2.7 .1 6.9 .2-7.9 .2 .9 .1 .9 .2-2.3 .1 3.1 .2-6.9 .1 11.3 .2-3.6 .1-4.8 .2-1.5 .1-2.3 .2 2.1 .1 8.1 .2-7.6 .1 4.6 .2-6.5 .1 1.6 .2 6.8 .1-2.2 .2-1.7 .1 5.1 .2 1.2 .1-4.2 .1-4.1 .2-2.5 .1 3.5 .2 1 .1 2.2 .2-6.5 .1 10.1 .2-7.1 .1-2 .1-1.2 .2 8.2 .1 .5 .2-2.1 .1-4.3 .2 1.2 .1 1.8 .1-3.5 .2 3.5 .1 .6 .2-7 .1 7.7 .1-2.6 .2 3.8 .1-4.5 .2 4.1 .1-4.9 .1 3.5 .2-.7 .1-8.7 .1 6.1 .2-1 .1 4.8 .2-.1 .1-4.2 .1-.2 .2 1.6 .1-2.6 .1 12 .2-8.1 .1-3.9 .1 1.8 .2-1.9 .1 7.7 .1-5.4 .2 4.9 .1 2.8 .1-12.2 .2 3.8 .1-3 .1 8.1 .2-2.1 .1 2.2 .1-7.1 .1 6.6 .2 .1 .1-.7 .1 .4 .2 .5 .1-9.1 .1 10.8 .1-.8 .2 1.7 .1-9.2 .1 7.5" fill="none" stroke="#264478" stroke-width="1.4" stroke-linejoin="round"/>
<path d="M258.7 426.6l7.4 1 6.7-13.1 6-.3 5.5 7.2 5.1-5.1 4.7 6.2 4.4-2.9 4.1 5 3.8 2.7 3.6-1.4 3.4-10.4 3.3 4.5 3.1 13.9 2.9-7.3 2.8-.7 2.7 3.7 2.6 .3 2.5-7.7 2.4 7.8 2.3 .8 2.2 3.6 2.2-6.7 2-2.1 2.1 13.2 1.9-8.3 1.9-7.4 1.8 13 1.8-11.5 1.7 7.4 1.7 .5 1.7 3.4 1.6-5.9 1.5 6.9 1.6-7.5 1.5 3.4 1.4 2.7 1.4 4.4 1.4-7.8 1.4 .2 1.3 1.5 1.3-5.3 1.3-34 1.3 37.9 1.2-10.4 1.2 17.5 1.2-7.1 1.1 3 1.2-4.2 1.1 5.5 1.1-11.1 1.1 7.1 1.1 3.1 1 .9 1-3.3 1 .2 1 2.6 1-2.3 1 1.5 .9 4.1 1-8.6 .9-3 .9 5 .9-12.6 .9 17.6 .9-5.4 .8-7.7 .9 10.1 .8-5.3 .9 8.1 .8-7.5 .8 .1 .8-.8 .8 1.9 .7 7.7 .8-6.7 .8-4.1 .7 6.8 .7-2.3 .8-.9 .7 5.2 .7 2.8 .7-.4 .7-7.6 .7 9.2 .7-9.9 .7 5.3 .7-.4 .6 2.9 .7-3.6 .6 4.8 .7-1.9 .6-3.4 .6 10.3 .7-9.3 .6 4.8 .6-3.4 .6-1.8 .6 .1 .6 2.1 .6 1 .6-6.9 .5 3.9 .6-8 .6 16.7 .5-6.7 .6-7 .5 3.4 .6 2.7 .5-6.5 .6 7.1 .5 1 .5-7.7 .6 5.1 .5 2.7 .5-8.8 .5 7.2 .5-1.9 .5-3.3 .5 3.5 .5-5.4 .5 1.9 .5-4.1 .5 10 .5-6 .5 6.6 .4-1.6 .5-2.9 .5-2.3 .4-1.5 .5 1.1 .5 6.3 .4-10.7 .5 7.3 .4 3.9 .4-3.4 .5 5.5 .4-10.9 .5 2.7 .4 3.1 .4-6.5 .5 7.6 .4-31.6 .4 33.3 .4-7.7 .4 7.8 .4-5.1 .5-7 .4 10.4 .4-.1 .4-4.1 .4 1.6 .4 4.1 .4-9 .3 1.1 .4 3.4 .4-6.3 .4 3.7 .4-1.2 .4 2.7 .4-3.1 .3 9.7 .4-3.9 .4 .4 .3 .7 .4-4.4 .4 3.9 .3 1.1 .4-7.2 .4 .6 .3-4.3 .4-.8 .3 10.3 .4-11.2 .3 4.2 .4 2.9 .3-1.6 .4 4.4 .3-.3 .3-4.5 .4-2.4 .3 8.9 .3-3.4 .4 4 .3-4.7 .3-1.4 .4 6.8 .3-3.9 .3 4.7 .3-1.4 .4-6.2 .3-.1 .3 .1 .3 6.3 .3-6.9 .3 .7 .3-8.4 .4 10.4 .3-5.2 .3 13.7 .3-11.5 .3 .3 .3-.7 .3 4.6 .3 .3 .3-1.5 .3-2.7 .3-1.8 .3 5.4 .3 .4 .2-1.1 .3-2.9 .3 2.3 .3-.2 .3 .8 .3 1.9 .3-2.5 .2-4.5 .3 5 .3-1.7 .3 1.3 .3-1.7 .2-9.8 .3 11.4 .3-1.4 .3 .9 .2-3.7 .3 7.1 .3-3 .2 .8 .3-5.3 .3 6.2 .2-2.7 .3 5.2 .3-4.2 .2 4.8 .3-2.7 .2-.2 .3-3.2 .3-1 .2 2.4 .3 .6 .2-12.2 .3 9.6 .2-.7 .3 4.4 .2 2.4 .3-3.3 .2-4.2 .3-.1 .2-.3 .3-.3 .2 4.3 .2 6.3 .3-8.9 .2 2.4 .3 4.6 .2-6.7 .2 7.6 .3-12.5 .2 13.7 .3-7.6 .2-3.1 .2 1.8 .3 3.8 .2 4.3 .2 .7 .3-7.5 .2 0 .2 4 .2-2.6 .3 3.1 .2-10.3 .2 .9 .2 .8 .3 10.8 .2-7.1 .2-5.7 .2 2.1 .3 3.2 .2 2.4 .2-5.5 .2 7.6 .2-6.6 .3 8.8 .2-8.2 .2 4.1 .2 .9 .2-3.4 .2-1.7 .2 4.4 .3-5.2 .2 9.7 .2-6.1 .2-3 .2 3.1 .2 1 .2-5.6 .2-.9 .2 5 .2-4.6 .2 3.7 .2 4.2 .2-1.2 .2-5.1 .3 3.4 .2-1.9 .2 1.5 .2-.2 .2-5.6 .2 6.2 .2 3.2 .2-5 .1 3.1 .2-2.1 .2-4.1 .2 11.1 .2-5.1 .2 1.6 .2-10.3 .2 11.2 .2 .4 .2-1.9 .2-1.1 .2 6.9 .2-4.7 .2-6.7 .2 3 .1 1.3 .2-3.6 .2 1.9 .2 6 .2-9.1 .2-.5 .2 3.3 .1 1.9 .2-5.8 .2 4.3 .2-2.8 .2 6.6 .2 .6 .1-3.6 .2 7.2 .2-4.1 .2 1.7 .2-1.5 .1 4 .2-9.1 .2 1.1 .2 4.9 .2-3.4 .1-3.9 .2-2.3 .2 5.9 .2-4.7 .1 2.1 .2 6.4 .2-6.7 .2 3.9 .1-9.5 .2 14.7 .2-7.6 .1 1.2 .2-8.2 .2 12.1 .2-3.1 .1 6.8 .2-11.6 .2 7.7 .1-2.4 .2 .9 .2-5.8 .1 3.6 .2-4.4 .2 4 .1-1.6 .2 2.1 .2-1.2 .1 1.5 .2 .5 .2-4 .1 4.4 .2-1.2 .1-5.2 .2 6.1 .2-7.2 .1 8.5 .2-10.6 .1 6.6 .2 .9 .2-3.8 .1 7.9 .2-3.3 .1-5.7 .2 8 .2-6.2 .1 4.1 .2-5.2 .1 8.7 .2 1.5 .1-5.5 .2-5 .1 11.6 .2-3.7 .2 4.2 .1-8.2 .2-2.4 .1 5 .2 6.4 .1-13.5 .2 9.4 .1-1.8 .2-3.1 .1 5.8 .2 .5 .1-4.8 .2-.3 .1-3.9 .2-2.3 .1 5.6 .2-2.4 .1 8.1 .2-11.5 .1 7.2 .2-3.6 .1 .5 .1 .5 .2 2.3 .1-5.5 .2 9.3 .1-6.1 .2-.5 .1 2.6 .2 4.7 .1-9.7 .1 3.6 .2-1.9 .1-4 .2 7.3 .1-.5 .2 .3 .1-.7 .1-6.1 .2 10.7 .1-4.2 .2 .2 .1-3 .1 3.8 .2 2.6 .1 1.4 .2-3.4 .1-1 .1-.9 .2-5.7 .1 3.4 .1 0 .2-.9 .1 5 .2-4.7 .1-1.3 .1 8.2 .2-9.1 .1 9.9 .1-9.8 .2 4.2 .1 3.1 .1 1.7 .2-2.6 .1-7 .1 .1 .2 8.5 .1-7 .1-4.2 .2 5.1 .1-2.2 .1 6.2 .2-4.4 .1-.3 .1 8.1 .1-4.9 .2 .4 .1-1.7 .1-.7 .2 7 .1-4.1 .1 5.9 .1-2.2 .2-6.5 .1 4.5 .1-6.9" fill="none" stroke="#255E91" stroke-width="1.4" stroke-linejoin="round"/>
<path d="M258.7 430.9l7.4-11 6.7 4.2 6-8.3 5.5 3.4 5.1 7.8 4.7-5.7 4.4-.7 4.1 4.3 3.8-6.5 3.6 9.1 3.4-6.7 3.3-3.2 3.1 13.3 2.9-10.9 2.8-.6 2.7 9.2 2.6 1.7 2.5-4.5 2.4-1 2.3 1 2.2 .5 2.2 4.1 2 3.1 2.1-5.1 1.9-8.1 1.9 .9 1.8 .2 1.8 4.5 1.7 1.8 1.7-.3 1.7-3.4 1.6 7.6 1.5-8.5 1.6-.3 1.5 5 1.4-7.3 1.4 .9 1.4 14.4 1.4-9 1.3-1.3 1.3 10.5 1.3-47.8 1.3 34.2 1.2 3.1 1.2-7.6 1.2 6.5 1.1-1 1.2-.9 1.1-3.1 1.1 13.5 1.1-12.5 1.1 2.8 1-5 1 5.9 1 1.6 1 3 1-3.3 1 3.1 .9-5.1 1 2.4 .9 4 .9-6.8 .9 3.7 .9 1.7 .9-8.3 .8 4.6 .9 .1 .8 5.8 .9-9.6 .8 3.5 .8 8.7 .8-4.3 .8-7.3 .7 1.6 .8 5.2 .8-1.5 .7 .3 .7 12.2 .8-14.5 .7-3.4 .7 9.7 .7-3.1 .7-4 .7 3.5 .7-3.7 .7 5 .7 1.4 .6 2.2 .7-2.8 .6 5.9 .7-.3 .6-6.1 .6 3.8 .7-3.8 .6 .9 .6 .2 .6-2.5 .6 3.7 .6 2.2 .6-2.8 .6-.2 .5-5.6 .6 1.2 .6 8.6 .5 1.8 .6-2.1 .5-6.5 .6 8.8 .5-10 .6 4.5 .5-5.3 .5 3.3 .6 4.3 .5-1.8 .5-2.2 .5-3.5 .5 5.2 .5 1.2 .5-2.5 .5 3.3 .5-4.7 .5 .5 .5-1.8 .5 6.4 .5-7.4 .4-6.1 .5 5.2 .5 4.9 .4 .8 .5 5.3 .5-7.4 .4-5.8 .5 5.6 .4 .6 .4 1.7 .5 4 .4-12.9 .5 10 .4-7.2 .4 5.8 .5 .5 .4-22.3 .4 21.3 .4 2 .4-.9 .4 .4 .5 2.6 .4-.7 .4-12.3 .4 14.5 .4-7.2 .4 7.6 .4-1.6 .3-6.9 .4 8.9 .4-8.2 .4-2.5 .4 6.1 .4-3.5 .4-.9 .3 11.4 .4-6.1 .4 0 .3-4.9 .4 5.1 .4 3 .3 .3 .4-5.2 .4 .1 .3-1.4 .4 5.8 .3-5.9 .4 2.2 .3 3.2 .4 1.1 .3-12.7 .4 5.9 .3 3.5 .3-3.4 .4 4.7 .3-8.8 .3 4.1 .4 10.5 .3-6.9 .3-.5 .4-1.4 .3 4.8 .3-7.9 .3 3 .4-4.8 .3 4.6 .3-4.7 .3-.3 .3 5.3 .3-.6 .3-2.5 .4 1.8 .3 2.1 .3-9 .3 4.2 .3 2.6 .3 6.2 .3-.3 .3-3.4 .3 3.5 .3 1.2 .3-7.6 .3-.4 .3 4.8 .2-2.1 .3-4.2 .3 .8 .3-3.4 .3 7.4 .3 .7 .3-4.4 .2-3.8 .3 7.4 .3 .7 .3-.4 .3-5 .2-.3 .3 8.1 .3-7.7 .3 1.2 .2-2 .3 6.6 .3-1.6 .2-2.1 .3-.1 .3 5.6 .2-6.4 .3 .6 .3 3 .2-2.3 .3-2.7 .2 4.2 .3-.3 .3 4.1 .2-3.6 .3 2.4 .2-18.5 .3 14.2 .2 .5 .3 .4 .2-4.2 .3 11.3 .2-12 .3 7.3 .2 1.7 .3-.4 .2 .3 .2-2.7 .3-3.3 .2 5.8 .3-5.9 .2 4.7 .2-1.8 .3-5.2 .2 6.4 .3 2.9 .2-4.4 .2-1.2 .3 2.9 .2 .1 .2-3.8 .3 5.7 .2-2.9 .2 2.4 .2-5.2 .3 3.8 .2-2.8 .2 1.4 .2 .2 .3 2.8 .2-7.7 .2 6.5 .2-1.4 .3 4.1 .2-4.9 .2 3.3 .2 .9 .2-7.6 .3 .9 .2 1.7 .2 .4 .2-1.4 .2 2.1 .2-.8 .2 4.4 .3-2.2 .2-.8 .2 8.8 .2-5 .2-1.3 .2-10.5 .2 13.2 .2 1.1 .2-9.4 .2 6.2 .2-5.5 .2 2 .2-6.2 .2 6.1 .3-3.3 .2 3.9 .2-.9 .2 .2 .2 .2 .2-5.4 .2-.6 .2 5.7 .1 .9 .2-1.5 .2-3 .2 1.1 .2 2.3 .2 6.1 .2-14.3 .2 3.1 .2 3.6 .2 .6 .2-3.8 .2-1.1 .2 5.7 .2-.7 .2 1.7 .1-7.8 .2 8.5 .2 .3 .2-5.5 .2 1.6 .2 2.3 .2-3.1 .1 1.9 .2 1.2 .2-1.4 .2-.7 .2 1.2 .2-.9 .1 1.1 .2-1.3 .2 5.3 .2-9.6 .2 2.5 .1 2.6 .2-1.1 .2-4.4 .2 4.8 .2 6.5 .1-6.1 .2 8.7 .2-6.6 .2-6 .1 9.3 .2 1.7 .2-4.4 .2-2.7 .1-5.6 .2 8 .2-.8 .1 4.2 .2-12.1 .2 8.3 .2-2.3 .1-2 .2 4.2 .2 2.7 .1-1.5 .2-1.4 .2-3.4 .1-.7 .2 5.7 .2-.6 .1 3.8 .2-5.2 .2-7.8 .1 6.3 .2 2.7 .2-6.6 .1 3.9 .2-2.6 .1-1.7 .2 10.4 .2-4.7 .1 1.1 .2-5.4 .1 4.9 .2-.9 .2 7.9 .1-5.6 .2 .4 .1 1.5 .2-4.2 .2 1.6 .1-1.8 .2-2.6 .1 1.8 .2 1.4 .1-1 .2 5.2 .1-2.6 .2 .6 .2-9 .1 11.5 .2-3.2 .1-3.4 .2 3.8 .1-4.2 .2 6.7 .1-7.9 .2 2.9 .1 8.7 .2-2.7 .1-.7 .2-3.6 .1 .3 .2-2.4 .1-1.2 .2 .2 .1 .4 .2 4.8 .1 2.3 .2-.9 .1-5.8 .1 5 .2 .8 .1-1.2 .2-4.7 .1 6.3 .2-4.1 .1-3.3 .2-.5 .1 9.4 .1-6.2 .2 2 .1-11.1 .2 9.9 .1 4.2 .2-2.8 .1-2.3 .1 1.7 .2-4.3 .1 4 .2-1.6 .1-12.3 .1 10.9 .2-1.5 .1 3 .2 9.1 .1-15.2 .1 7.9 .2-4.2 .1 7.7 .1-5.7 .2-3.5 .1 8 .2-11 .1 3.4 .1 2.2 .2 2.4 .1-4.4 .1 10.8 .2-12 .1 11.8 .1-5.3 .2-6.8 .1 3.7 .1 8.1 .2-.8 .1-1.4 .1-2.7 .2 1.1 .1-6.6 .1 4.8 .2-7.7 .1 1.5 .1 9.4 .1-9.2 .2-.1 .1 9 .1-3 .2 1.9 .1 .6 .1-3.5 .1-1.3 .2 4.1 .1 2.9 .1-8.2" fill="none" stroke="#264478" stroke-width="1.4" stroke-linejoin="round"/>
<path d="M258.7 439.1l7.4-15.6 6.7 .4 6 4.6 5.5-7.2 5.1-3.5 4.7 6 4.4-7.4 4.1 13.1 3.8-10 3.6 7.7 3.4-6.2 3.3-.7 3.1 2.6 2.9 1.8 2.8 9.2 2.7-8.8 2.6 5.5 2.5 5.7 2.4-8.7 2.3-1.7 2.2-3.1 2.2 4.5 2 3.2 2.1-9.8 1.9 7.5 1.9 4.4 1.8-3.8 1.8-6.1 1.7-.7 1.7 14.1 1.7-7 1.6 6.8 1.5-7 1.6 .4 1.5-.7 1.4 .5 1.4-4.2 1.4 3.1 1.4 2.8 1.3-10.2 1.3 8.8 1.3-34 1.3 33.1 1.2 8.7 1.2-7.3 1.2-6.7 1.1 .7 1.2 5.4 1.1-6.9 1.1-1.8 1.1 6.5 1.1 5.7 1-1.7 1-3.8 1-.6 1 5.7 1-6.5 1 5.5 .9-4.9 1 7.1 .9-4.9 .9 3.3 .9 2.1 .9-6.7 .9 2.5 .8-4.4 .9 4.7 .8 4.4 .9-4.8 .8 8.3 .8-4.3 .8 3.5 .8-7.6 .7 1.3 .8 .6 .8 .1 .7-2.3 .7 10.8 .8-5.4 .7 3.8 .7-1.6 .7 4.5 .7-15.8 .7 10.3 .7 5 .7-10.4 .7-.5 .6 3.6 .7 2.4 .6-1.9 .7 4.8 .6-11.2 .6 6.1 .7 2.7 .6-2.7 .6-2.3 .6 3.4 .6-8.7 .6 1.9 .6 2.3 .6 4 .5-2.6 .6-1.3 .6 2.8 .5-3.5 .6 6.5 .5 .8 .6 .1 .5-1.8 .6-.2 .5 2.5 .5-2.8 .6-4.5 .5 9.3 .5-5.1 .5-3.7 .5 3.5 .5 2.2 .5-1.3 .5-1.7 .5 7.3 .5-3.5 .5-2.9 .5-2.4 .5 0 .4 2.3 .5-6.8 .5 14.8 .4-11 .5 1.2 .5 6.3 .4-8.7 .5 1.6 .4 12.5 .4-20.4 .5 15 .4 .5 .5-2.8 .4-1.6 .4-2.4 .5 .2 .4-18.4 .4 19 .4 5.5 .4 .8 .4 5.9 .5-9.2 .4 3 .4-2 .4-4.2 .4 3.7 .4-2.1 .4-1.5 .3 .8 .4 5.5 .4-9.2 .4 1.7 .4-2 .4 5.9 .4-.4 .3 3.2 .4-1.2 .4-2.2 .3-3.9 .4 4.6 .4-2 .3 1.3 .4 7.6 .4-8.5 .3 4.1 .4 1.1 .3-5.7 .4 3.3 .3-3.6 .4 4.8 .3-1.8 .4 3.7 .3-3.2 .3-3.9 .4 3.9 .3-5.1 .3 4.2 .4 6.2 .3-.2 .3-3.8 .4 .4 .3-.7 .3-4 .3 3.6 .4 3.7 .3 1.3 .3-9 .3 3.1 .3 3.8 .3-5 .3-.8 .4 4.3 .3-4.6 .3 2.1 .3-.8 .3 4.7 .3-2 .3 7.1 .3-5.8 .3-6.3 .3 4.6 .3 2 .3-8.1 .3 5.7 .2-3.3 .3 4.5 .3-.5 .3 4.5 .3-5.4 .3-.6 .3-.3 .2 1.7 .3-2.3 .3 1.4 .3 .6 .3-6.1 .2 1.7 .3-1.9 .3 6.8 .3-4.6 .2 1.6 .3 3.3 .3-7.2 .2 9.3 .3-9.9 .3 7 .2-.6 .3 1 .3-3.2 .2 1.3 .3 1.6 .2-.3 .3 1.7 .3-4.1 .2 2.7 .3-6.5 .2-8.5 .3 12.1 .2-1.6 .3 9.7 .2-8.9 .3 8.9 .2-6.3 .3 3.4 .2-5.6 .3 3.7 .2-6.8 .2 10.8 .3-8.8 .2 4.8 .3-6 .2 5.9 .2 0 .3-3.3 .2 7.6 .3-2.1 .2-2.6 .2 .4 .3-10.4 .2 8.5 .2 1 .3 1.1 .2-3.1 .2 7.3 .2-8 .3 1.7 .2-4.2 .2 7.5 .2-5.3 .3 4 .2-4.6 .2-2.1 .2 5.8 .3 2.8 .2-.7 .2-4.9 .2 6.2 .2 3.4 .3-12.5 .2 3.7 .2-1.5 .2 3 .2-2.2 .2 .6 .2 .4 .3 7.6 .2-9.1 .2 2.3 .2 1.4 .2 1.4 .2 .6 .2 2.5 .2-8.2 .2 2.5 .2-1.5 .2 3.7 .2 .2 .2-1.3 .2-4 .3 .4 .2-2.5 .2 4 .2-.2 .2 4.4 .2-2.7 .2 .5 .2 6 .1-8.6 .2 4.6 .2-1.4 .2-.8 .2-6.2 .2 2.9 .2 5.3 .2-6.3 .2 4.3 .2-3.4 .2 2.5 .2 1.9 .2 2.8 .2-4.3 .2 2.6 .1-7.3 .2 7.1 .2-6.5 .2 8.6 .2-5.3 .2-.3 .2 3.6 .1-2.7 .2 1.7 .2 2.8 .2-11.3 .2 9.5 .2-4.9 .1 6.7 .2-5 .2-.4 .2-.5 .2 3.3 .1 1.3 .2-4.4 .2 5.2 .2 .7 .2-9.8 .1 6.7 .2-1.4 .2 1.2 .2-1.3 .1-1.7 .2 2.7 .2 3.8 .2-9.2 .1 5.4 .2 2.5 .2-7 .1-2.4 .2 8.4 .2-.2 .2-2.2 .1-4.3 .2 3.8 .2-4 .1 12.8 .2-7.3 .2-2.2 .1-5.5 .2 4.7 .2-.4 .1 7.7 .2-2.6 .2-7.8 .1 6.2 .2 4.1 .2 1.4 .1-2.2 .2-5.2 .1 4.2 .2 4.9 .2-6 .1 7.1 .2-6.5 .1-6.3 .2 .7 .2 1.2 .1 .9 .2 0 .1-5.9 .2 4.5 .2 .6 .1-.5 .2 5.4 .1 2.3 .2-13.7 .1 9 .2-3.8 .1-.1 .2 8.5 .2-.6 .1-5.2 .2 2.3 .1-5.2 .2-4.4 .1 5 .2-2.3 .1 2 .2 4.4 .1 10.3 .2-13.8 .1-4 .2-5.3 .1 9.3 .2 1.1 .1 7.9 .2-10.4 .1-3.8 .2 8.6 .1-1.3 .2-1 .1-4.8 .1 3 .2 .9 .1-9 .2 15.2 .1-.8 .2 2.5 .1-8.1 .2 3.6 .1 .8 .1-1.7 .2-5.5 .1-4 .2 14.4 .1-8.8 .2-.3 .1 3.7 .1-5.7 .2 3 .1 5.7 .2-3.3 .1-3 .1 2 .2-3.9 .1 4.4 .2-1.7 .1 1.8 .1-.5 .2-1.5 .1 12.1 .1-4.9 .2-5.9 .1 1.2 .2-6.7 .1 6.2 .1 2.7 .2-2.4 .1 .7 .1-.9 .2-2 .1 4.9 .1 1.9 .2-6.9 .1 .5 .1 10.2 .2-11 .1 10.3 .1-8.4 .2 6.8 .1-4.3 .1-2.3 .2-1.5 .1 7.8 .1-11.1 .1 3 .2-.8 .1 10.9 .1-5.7 .2 .3 .1 .2 .1-1.3 .1-5.3 .2 1.9 .1 6 .1-4" fill="none" stroke="#375623" stroke-width="1.4" stroke-linejoin="round"/>
<path d="M258.7 448.6l7.4-23.1 6.7 3.7 6 .3 5.5-13.2 5.1 8.8 4.7-5.2 4.4 10.7 4.1-7.1 3.8-11.9 3.6 1 3.4 6 3.3 2 3.1-.7 2.9-5.5 2.8 17.8 2.7-4.8 2.6 3.3 2.5 12 2.4-15 2.3-4.6 2.2 8.1 2.2 2.4 2-12.1 2.1 9.6 1.9-1.6 1.9 1.2 1.8-1.1 1.8-2.3 1.7-3.4 1.7 2.3 1.7-8.6 1.6 16.2 1.5-6.9 1.6 2.3 1.5-12.6 1.4 19.7 1.4-7.6 1.4-5.2 1.4 8.7 1.3-4.2 1.3-.4 1.3-32.3 1.3 38.6 1.2-9.7 1.2 16 1.2-7.1 1.1-.6 1.2-3.3 1.1-1.8 1.1-16.3 1.1 9.6 1.1 7.9 1-1.7 1-5.4 1 4.3 1 3.9 1 9 1 1 .9-12.9 1-2.9 .9 6.1 .9-12.9 .9 11.2 .9 7.6 .9-8.2 .8 8 .9-11.5 .8 8.2 .9 .2 .8-1.5 .8-7.6 .8 14.7 .8-13.5 .7-1.5 .8 3.7 .8 4.6 .7-4.9 .7 7.7 .8 1.4 .7-9.7 .7 13.3 .7-9.1 .7 4.5 .7-.6 .7-1.7 .7 2.8 .7-9.1 .6 10.4 .7 1.8 .6 1.4 .7-7 .6-.4 .6 1.1 .7-.6 .6 4.8 .6-5.5 .6-1.9 .6 9 .6-4.6 .6-.9 .6 1.2 .5 2 .6-.7 .6 1.8 .5-10.3 .6 11.2 .5-1 .6 2.1 .5-6.6 .6 4.7 .5-6.2 .5 2.1 .6-1.1 .5-1.3 .5 2.8 .5 1.7 .5-2 .5-3.2 .5 7 .5-2.2 .5-7.3 .5 5 .5-3.5 .5 2.4 .5 9 .4-4.8 .5 3.3 .5-5.7 .4 1.3 .5-3 .5 1.7 .4 2.6 .5-5.9 .4 9.6 .4 1.3 .5-9.8 .4 1.8 .5-.7 .4 5.9 .4-5.9 .5 0 .4-18.5 .4 21.9 .4-2.5 .4 7.2 .4-10.6 .5 8.9 .4 .3 .4-8.5 .4 4.9 .4 6 .4-6.9 .4 3 .3-3.8 .4 6.4 .4-4.4 .4 1.4 .4-7.9 .4 10.2 .4-7.8 .3 .5 .4 2 .4 2.7 .3-3.2 .4 5.3 .4-7.2 .3 10.8 .4-12.1 .4 7.1 .3 .5 .4-3 .3-5.6 .4 6.9 .3-8.1 .4 8.3 .3-1.9 .4 6.7 .3-5.2 .3 .5 .4 1.8 .3 3.2 .3-3.3 .4-3.3 .3-1.4 .3-4 .4 14.4 .3-14.5 .3 3.2 .3 3.8 .4-5.2 .3 3.9 .3 7.2 .3-8.7 .3 7.8 .3-7.9 .3 7.5 .4 1.7 .3-10.2 .3 5.7 .3 .5 .3-9.3 .3 6.6 .3-5.7 .3 6.8 .3-.4 .3 7.2 .3-12.4 .3 6.4 .3-5.4 .2 6.2 .3 4.8 .3-8.5 .3-2.8 .3 12.7 .3-4 .3-9.5 .2-1.2 .3 7.4 .3-2.3 .3-1.4 .3 .8 .2 5.8 .3-8.3 .3-2.5 .3 6 .2-.1 .3 3 .3-4.5 .2-.4 .3 4.6 .3 4.4 .2-1 .3-7.5 .3 1.4 .2 2.1 .3 6.7 .2-2.4 .3-12.1 .3 10.2 .2-.1 .3-7.5 .2-7.2 .3 10.3 .2-1 .3-.2 .2 3.7 .3-1.9 .2-2.1 .3-3.7 .2 4.3 .3 8.4 .2-3 .2-.3 .3-6.4 .2-2.8 .3 3.8 .2 6.5 .2-3.3 .3-.9 .2-3.7 .3 2.5 .2-2.1 .2 4.6 .3-9 .2 12.1 .2-4.3 .3-4.6 .2 1.1 .2 7.3 .2-1.8 .3-1.1 .2-4.6 .2-.2 .2 9.2 .3-4.8 .2-1.7 .2-3.3 .2 1.7 .3-2.7 .2 6.7 .2 .9 .2-3.2 .2-.5 .3-8 .2 9 .2 .7 .2 3.4 .2-4.9 .2 2.6 .2-4.1 .3 2.9 .2 2.7 .2 .4 .2-1.1 .2-2.3 .2 10.3 .2-7.6 .2-2.4 .2 4.7 .2-7.5 .2 3.6 .2-3.7 .2 1.6 .2 2.4 .3-6.4 .2 1.6 .2 8 .2-3.9 .2 4.3 .2-2.8 .2-1.8 .2 1.5 .1-1.2 .2-2.7 .2-2.3 .2 2 .2-1.5 .2 6 .2-.9 .2-5.1 .2 5.8 .2-4 .2 1.4 .2-1.7 .2-2.3 .2 3.9 .2 2.6 .1 .9 .2-9.7 .2 3.3 .2 8.3 .2 .7 .2 3.5 .2-9.1 .1 2.5 .2 7 .2-10.2 .2 .7 .2-7.2 .2 6.9 .1 5.8 .2-5.7 .2 0 .2 4.5 .2 .8 .1-2.6 .2-2.2 .2-4.1 .2 6.7 .2-4.2 .1-4.9 .2 9.9 .2 .5 .2-1.7 .1-4.4 .2 5.7 .2-7.7 .2 6.4 .1 .1 .2-4 .2-1.7 .1 4.8 .2-1.1 .2-3.8 .2-3.4 .1 8.7 .2-5.2 .2-.7 .1 1.5 .2 1.7 .2-.3 .1 5.1 .2-3.5 .2 2.4 .1-1 .2-2.8 .2-6.7 .1 6.3 .2 2.6 .2-6 .1 8.2 .2-7 .1 6.4 .2-4.3 .2-6.1 .1 7.8 .2 2.2 .1-2 .2-2.8 .2 10.4 .1-15.9 .2 11.7 .1-5.7 .2-.6 .2 5.3 .1-2 .2-5.1 .1 5.7 .2-4.1 .1 2.7 .2 0 .1-.8 .2-.7 .2 2.3 .1-5.1 .2 3.9 .1-.3 .2 9 .1-2.3 .2-9.1 .1 .3 .2 1.5 .1-3.5 .2 11.5 .1-6.3 .2-3.3 .1-.5 .2-.9 .1 1.2 .2 3.3 .1-5.7 .2 7.8 .1-1.2 .2-7.7 .1 7.5 .1-6.4 .2 8.2 .1-2.9 .2-3.7 .1 9.8 .2-5.7 .1 7.9 .2-5.5 .1-2.4 .1-.4 .2-3.7 .1 7.4 .2-10 .1 7.6 .2 2.6 .1-5.2 .1-1.3 .2-.6 .1 1.1 .2 5.2 .1 3.8 .1-13.1 .2 5.5 .1-.8 .2-2.7 .1 .7 .1 7.8 .2 1.8 .1 .8 .1-1.2 .2-8 .1 2 .2 .3 .1 3.4 .1-3.7 .2 1.8 .1-1.3 .1-2.4 .2 2.1 .1-2.3 .1 3.1 .2-5.7 .1-1.7 .1 7.6 .2-1.4 .1 1 .1 1.1 .2-5.9 .1 3.4 .1 10 .2-13.7 .1 2 .1 8.1 .1-6.1 .2 1.8 .1-2.1 .1 .9 .2-9.8 .1 5.9 .1-4.3 .1 4 .2 5.2 .1-5.9 .1-1.5" fill="none" stroke="#375623" stroke-width="1.4" stroke-linejoin="round"/>
<path d="M258.7 429.7l7.4-6.8 6.7-2.9 6 7.7 5.5-8.1 5.1 4.1 4.7 .7 4.4 .3 4.1-7.3 3.8 .1 3.6 4.1 3.4-4.6 3.3 6.6 3.1-3.7 2.9 4.3 2.8 7.3 2.7-8 2.6 12.8 2.5-4.4 2.4-3.7 2.3 3.7 2.2-3 2.2 2.1 2-3 2.1 6.6 1.9-6.1 1.9 3.6 1.8-.9 1.8-3.8 1.7-.5 1.7 2 1.7 1.9 1.6 .5 1.5-2.9 1.6 6.3 1.5-.6 1.4 5.1 1.4-2.6 1.4-6.3 1.4 2.6 1.3 2.4 1.3-5.2 1.3-33 1.3 37.7 1.2-4.7 1.2-1.8 1.2 9.9 1.1-1.8 1.2-2.3 1.1-3.6 1.1 2.2 1.1-2.8 1.1-1.6 1 0 1 7.1 1 3.9 1-4.2 1 5 1-12 .9 4.7 1 4.3 .9-9.7 .9 7.3 .9-1 .9 1.9 .9-.3 .8-.5 .9 2.4 .8 .7 .9 .8 .8-10.8 .8 14.8 .8-13.5 .8 8.2 .7-6 .8 9.5 .8-3.1 .7-9.3 .7 2.4 .8-5.1 .7-1.5 .7 8.2 .7 2.1 .7-3.5 .7 .1 .7 1.2 .7 13.3 .7-11.7 .6-1.5 .7-7.2 .6 13.7 .7-5.5 .6 2.1 .6 .9 .7-4.1 .6 3.9 .6-3 .6 10.5 .6-12.3 .6 5.5 .6 .5 .6-7.6 .5 10.8 .6-7.4 .6 .1 .5 .3 .6 3.2 .5 .3 .6 4.6 .5-3.3 .6-7.6 .5 4.7 .5 1.2 .6 2.5 .5-4 .5-3.8 .5 2.3 .5 3.2 .5-.6 .5 1.1 .5 1 .5 .5 .5-7.4 .5 8.5 .5-3 .5-4.1 .4 3.4 .5 2.8 .5-.5 .4-5.5 .5 6.6 .5-3.7 .4 3.8 .5-2.4 .4-3.7 .4 6.4 .5-1.8 .4-4.8 .5 .5 .4 5.7 .4-8.4 .5 4.8 .4-27.1 .4 23.7 .4 3.2 .4-1.2 .4 .8 .5 2.1 .4-1.2 .4-3.9 .4 3.2 .4 5.1 .4-4.1 .4 4.7 .3-.6 .4-8.5 .4 5.4 .4-3.9 .4 1.4 .4 3.1 .4-3.8 .3-3.6 .4 5.4 .4 2.6 .3-5.5 .4 3.4 .4-1.7 .3 3 .4 0 .4-2.6 .3-1.7 .4 3 .3 3.3 .4-4.1 .3 .9 .4 2.9 .3-3.8 .4 2.9 .3-.5 .3-8.4 .4-1.8 .3 4.7 .3 4.4 .4-1.4 .3-3.8 .3 5.7 .4-5.3 .3 6.6 .3-4.9 .3 .9 .4 .9 .3 .8 .3-1.2 .3-2.6 .3 8.4 .3-4.8 .3-7.4 .4 3.3 .3-1.2 .3 2.5 .3 2.3 .3-3.9 .3-2.2 .3 10.7 .3-.9 .3-4.9 .3 9.1 .3-4.9 .3-7.2 .3 7.5 .2-2.5 .3 4 .3-6.8 .3 5 .3 3.2 .3-8.9 .3 5.9 .2-6.4 .3 2 .3 2.6 .3-5.2 .3 1.5 .2 .1 .3 1.7 .3 2.7 .3 3 .2-.7 .3-2.7 .3-4.6 .2-3 .3 4 .3 1.9 .2 6 .3-12.1 .3 .8 .2-.2 .3 .9 .2 8.8 .3-5.2 .3 8 .2-8.9 .3 4.9 .2-12.6 .3 9.7 .2-6 .3 6.8 .2-1.5 .3 1.6 .2-2.3 .3 .4 .2-.4 .3 1.8 .2-.1 .2-1 .3-.1 .2 1.5 .3-.3 .2-6.3 .2 6.1 .3 .8 .2 4.7 .3-.2 .2-7.8 .2 5.5 .3-8 .2 5.2 .2-5.5 .3 6.3 .2 2.4 .2-1.4 .2-6 .3 6.1 .2-1.1 .2 2.2 .2-2.7 .3-4.4 .2 2.3 .2 1.1 .2 .2 .3 2 .2-1 .2 2.8 .2 2.1 .2-9.9 .3 2 .2 1.8 .2-.5 .2-2.9 .2 2.5 .2-6.4 .2 3.6 .3-4.1 .2 6.8 .2-.2 .2 4.1 .2-3.9 .2-1.9 .2 5 .2-4.3 .2 0 .2 7.2 .2-4.5 .2 5.5 .2-8.7 .2 2.9 .3 2.7 .2-4.2 .2-6.4 .2 3.4 .2 6.5 .2-2.3 .2 2.2 .2 .3 .1-4.4 .2 4.9 .2-.8 .2-1.7 .2-3.4 .2 2.3 .2 2.3 .2-3.9 .2 7.4 .2-5.3 .2 5.4 .2-6.9 .2-3.3 .2 7.7 .2-4.8 .1 1.4 .2-1.1 .2 2.3 .2 6.6 .2-9.6 .2 2.9 .2-2.2 .1 2.1 .2 7.2 .2-.1 .2-3.8 .2-7.8 .2 1.1 .1-.7 .2 1.6 .2-.3 .2 2.1 .2 2.4 .1-1.2 .2-.8 .2-2.3 .2 10 .2-5.6 .1-1.8 .2 1 .2-4.9 .2 7.7 .1 .7 .2-5.5 .2 .2 .2 2.1 .1 .6 .2 .9 .2-7.8 .1 5.6 .2 .8 .2 .4 .2 .9 .1-4.3 .2-1.1 .2 1.5 .1 .5 .2 2.3 .2-2.4 .1 3.8 .2-3.1 .2-3.5 .1 0 .2-4.5 .2 4.7 .1 6.4 .2 6.4 .2-9 .1-4.6 .2-.5 .1 .6 .2 3.8 .2 1.6 .1 2.3 .2 .1 .1-1 .2-1.9 .2-4.7 .1 7 .2 3.8 .1-9.3 .2-3 .2 5.5 .1 2.9 .2 1.3 .1-9.9 .2 8.9 .1 0 .2-2 .1 1 .2 .1 .2 0 .1-4.4 .2-.3 .1 5.5 .2-.2 .1-3 .2-2.2 .1 5.9 .2-7.3 .1 9.3 .2-11.2 .1 2.5 .2-.3 .1 .6 .2 1.8 .1-.4 .2-4.3 .1 10.4 .2-5.2 .1-4.2 .2 5.4 .1-4.1 .1 1.7 .2 3.7 .1-2.5 .2 3 .1 .3 .2-2.3 .1-4.8 .2 5.3 .1 3.2 .1-3.4 .2-8.8 .1 7.1 .2 7 .1-5.7 .2-.4 .1 3.3 .1-4.2 .2 8.4 .1-9 .2 9.5 .1-8.8 .1-.7 .2-1.1 .1 11.8 .2-14.8 .1 12.8 .1-8.7 .2 1.9 .1-3.3 .1 5.2 .2-3.9 .1 3.4 .2 1.5 .1-6.5 .1 4.5 .2-4.7 .1-1.9 .1 8.6 .2-4.8 .1 1.4 .1 4.9 .2-14.9 .1 1.5 .1 9.1 .2-2.3 .1-2.5 .1 .5 .2 3.4 .1 4.1 .1-8.7 .2 2 .1 3.8 .1 .2 .1-2.7 .2 3.6 .1 2.7 .1 1.1 .2-3.5 .1 7.9 .1-12.6 .1 2.9 .2 .2 .1-.1 .1-2.1" fill="none" stroke="#548235" stroke-width="1.4" stroke-linejoin="round"/>
<path d="M258.7 447.3l7.4-23.1 6.7-5.2 6-17.2 5.5 12.7 5.1 13 4.7-1.6 4.4-11.7 4.1 6.9 3.8-1.2 3.6-2 3.4 1.7 3.3-3.5 3.1 10.9 2.9-5.7 2.8-1.6 2.7 14.6 2.6 .1 2.5-.6 2.4-12.4 2.3 15.9 2.2-5.4 2.2 4.7 2-7.7 2.1-2.1 1.9-2.2 1.9 10.3 1.8-.5 1.8-10.9 1.7 5.6 1.7 0 1.7 11 1.6-8.2 1.5 11.5 1.6-12.8 1.5-1.9 1.4-1.2 1.4 3.1 1.4-5.3 1.4-.9 1.3 6.4 1.3-4.3 1.3-38.4 1.3 49.2 1.2-11.1 1.2-2.9 1.2 2.4 1.1 9.4 1.2-6.4 1.1 1.4 1.1-.8 1.1 1 1.1 5.8 1-5 1-2.1 1-2.3 1-1.6 1 5.2 1-1 .9 4.9 1-2.8 .9-.3 .9 6.9 .9-11.4 .9 9.3 .9-12.6 .8 1.7 .9 7.1 .8-2.1 .9 1.9 .8-.4 .8 10.7 .8-8.7 .8 5.1 .7-8.7 .8 3.5 .8 4.5 .7-7.1 .7-3.2 .8 6.2 .7 7.1 .7-10.3 .7-2.5 .7 3.3 .7-8.3 .7 14.8 .7 1.4 .7-7.2 .6 7.5 .7-6.4 .6 1.6 .7-3.9 .6 1.2 .6 2.7 .7 2.9 .6 0 .6-5.2 .6 1.6 .6 1.2 .6 .1 .6 1.9 .6-5.7 .5 5.5 .6-5.2 .6-2.6 .5 5.4 .6 1.3 .5-2 .6 5.5 .5 1.2 .6-10.4 .5 4 .5 1.4 .6-5 .5 3.2 .5 6.7 .5-4.7 .5 1.4 .5-5.4 .5 6.2 .5-2.1 .5-3.5 .5 5.6 .5-1.5 .5-4.7 .5 2.3 .4-.4 .5 2.8 .5 3.6 .4-4.8 .5-4.3 .5 9.7 .4-4.6 .5-2.4 .4 1.2 .4 .7 .5-2.3 .4-2.8 .5 7.9 .4-.6 .4-5.2 .5 6.5 .4-32.1 .4 24.7 .4 8.6 .4-4.7 .4-2.5 .5-1.8 .4 1.7 .4 6.3 .4-1 .4-5.8 .4 3.4 .4 3.2 .3-4.9 .4 .7 .4 4.8 .4-1.2 .4-3.1 .4-2 .4 2.2 .3 3.3 .4 4.9 .4-4.4 .3 1.8 .4-4.4 .4 3.6 .3-5.2 .4 6.5 .4-6.2 .3-3.9 .4 5.6 .3 3.1 .4-4.6 .3-6.3 .4 8.8 .3 3 .4-9.2 .3 4.7 .3 5.2 .4-2.6 .3-6.8 .3 9.3 .4-2.1 .3-7.5 .3 6.4 .4 3.1 .3-4.6 .3-4.4 .3 10.4 .4-10.4 .3 3.1 .3-.7 .3-.7 .3 2.7 .3 6.7 .3-6.9 .4-2.6 .3-5.5 .3 10 .3 2 .3-7.2 .3 7.5 .3-3 .3 1.3 .3-.1 .3-1.2 .3-.9 .3 5.5 .3-2.9 .2-5.1 .3 2.2 .3 3.6 .3-1.6 .3-5 .3 1.3 .3 10 .2-12.1 .3 .5 .3 4.7 .3-3.4 .3 .2 .2-7.3 .3 10.3 .3 9.7 .3-11.6 .2 .2 .3 10.4 .3-9.3 .2-3.2 .3 1.6 .3 1.7 .2 1.2 .3-.5 .3-3.9 .2-1.5 .3 3.8 .2 2.8 .3-2.1 .3 3.6 .2-3.8 .3-4 .2-11.7 .3 21.9 .2-15.3 .3 7.2 .2 4.3 .3-2.2 .2 3.9 .3-4.6 .2 3.3 .3-8.4 .2 2.2 .2 1.2 .3 3.5 .2 1.5 .3-.2 .2-8.1 .2 9.9 .3-5.5 .2 2.2 .3-1.6 .2-1.9 .2-1.1 .3 .1 .2 2.3 .2 3.5 .3 .6 .2-1.4 .2-3.5 .2-1.7 .3 2.3 .2-2.4 .2 3 .2 3.5 .3-.1 .2-8.1 .2 3.5 .2 .7 .3 1.7 .2-2.6 .2 .7 .2 2.9 .2-2 .3 2.1 .2 .3 .2-2.7 .2 4.2 .2-6.6 .2 4.1 .2-4.8 .3 7.2 .2-.5 .2-10.2 .2 1.5 .2 4.4 .2-4.5 .2 3.5 .2 .3 .2 .5 .2-4.5 .2 2 .2 8.1 .2-4.9 .2 6.8 .3-5 .2-.4 .2-3.5 .2-.6 .2 4.5 .2-1.4 .2-4.2 .2 4.2 .1 2.1 .2-1.1 .2-6.3 .2 5 .2-.3 .2 .7 .2-1.8 .2 2.1 .2-4.7 .2-.8 .2 4.1 .2 6.8 .2-10.2 .2 3.7 .2 .6 .1 8.2 .2-10.3 .2 .8 .2 12.7 .2-13.4 .2-7.4 .2 3.8 .1 4.4 .2 2.1 .2 1.6 .2-8.3 .2 3.4 .2 4.9 .1 2.5 .2-7.1 .2 3.7 .2-8.7 .2 3.7 .1 2.9 .2-1.6 .2 .8 .2 5 .2-5.5 .1-2.2 .2 6.1 .2-.4 .2-3 .1 2.2 .2-5.4 .2 1.6 .2-.9 .1 2.9 .2 1.4 .2-5.4 .1 3.2 .2 0 .2-3.3 .2 7.9 .1 3 .2-4.6 .2-2.5 .1-2.4 .2 4.5 .2 .9 .1 .6 .2-1.9 .2 1.2 .1-6.4 .2-4.6 .2 9.9 .1-.7 .2 1.3 .2-2.1 .1 3.7 .2-2.2 .1 2 .2-2 .2 1.9 .1-5.1 .2 6.8 .1-9.3 .2 4.7 .2 5 .1 .6 .2-2.2 .1 2.9 .2-5.6 .2-7.8 .1 8.2 .2-3 .1 1.8 .2 1.4 .1-7.5 .2 5.1 .1 6.4 .2-5 .2 4.9 .1-3.9 .2-1.3 .1-4.2 .2 4 .1 3.3 .2-3.2 .1-.8 .2 4 .1-2 .2-4.8 .1-5 .2 7.5 .1 4.5 .2-6 .1 5.8 .2 .1 .1-2 .2 5.7 .1-19.7 .2 12.1 .1 1.1 .1-2.3 .2 6.8 .1 5.5 .2-11.7 .1-.7 .2 2.9 .1 2.4 .2-4 .1 3.5 .1-6.7 .2 4.7 .1-2.9 .2 9.2 .1-3.5 .2-.2 .1-4.3 .1 4.9 .2-.9 .1 2.2 .2-3.4 .1 4.9 .1-1.9 .2-6.2 .1-.6 .2-3.6 .1 1.9 .1-.8 .2 2.9 .1 4.7 .1 .6 .2-6.1 .1-.8 .2 7.1 .1-7.1 .1 3.3 .2-1.2 .1 5 .1 4.2 .2-2.7 .1-3.7 .1-4 .2 3.8 .1-5.6 .1 9.1 .2-10.6 .1 5.1 .1 3.1 .2-.4 .1-5.2 .1 7.2 .2 .8 .1-4.5 .1-2.3 .1 3.1 .2 .2 .1-5.1 .1 4.2 .2-.1 .1-6.4 .1 .3 .1 9.5 .2 .3 .1 .5 .1-6.3" fill="none" stroke="#43682B" stroke-width="1.4" stroke-linejoin="round"/>
<path d="M258.7 444.7l7.4-24.7 6.7 10.5 6 5.5 5.5-8.5 5.1 9.5 4.7-9.2 4.4-.4 4.1 .2 3.8 5.5 3.6-3.2 3.4 4.9 3.3 5.4 3.1-1.3 2.9 3.2 2.8-4.8 2.7-.1 2.6 3.1 2.5-1.1 2.4 1.5 2.3-3.9 2.2 1.8 2.2 8.4 2-6.9 2.1-2.3 1.9-2.6 1.9 .7 1.8 14.2 1.8-4.4 1.7-2 1.7 2.7 1.7-2.8 1.6-3.8 1.5-5.1 1.6 6.4 1.5 4.1 1.4-8.8 1.4 5.4 1.4-3.3 1.4 3.7 1.3-3.1 1.3 6.9 1.3-41.5 1.3 38.9 1.2 2.8 1.2-6.9 1.2 13.2 1.1-11.6 1.2 2.1 1.1 1.5 1.1 1.9 1.1-8.8 1.1 10.6 1-16.3 1 16.3 1-13.4 1 7.5 1 1 1-4.3 .9-3.5 1 7.8 .9 2.2 .9-3.8 .9-5.9 .9 2.7 .9-.7 .8 2 .9 2.5 .8 3.3 .9-6.8 .8-2.5 .8 2.3 .8 4.8 .8 3.5 .7-9 .8 4.6 .8-2 .7 3.1 .7-1.9 .8 0 .7-6.5 .7 15.8 .7-9.3 .7-1.6 .7-1.4 .7-2.6 .7-4.6 .7 14.2 .6-6.4 .7 4.3 .6-1.9 .7 3.8 .6-10.8 .6 4.5 .7 11 .6-15.3 .6 9.4 .6-4.5 .6 3.6 .6-2.6 .6 11.1 .6-13.1 .5-2.6 .6 9 .6-4.5 .5-1 .6 3.5 .5-1.6 .6-1 .5-5.6 .6 11.6 .5-4.2 .5-2.8 .6-1.4 .5 2.6 .5 2.7 .5 4.2 .5-8.1 .5 3.6 .5 1.3 .5 .6 .5 0 .5-7.2 .5 3.2 .5 2.5 .5-2.9 .4 .9 .5-1.6 .5 2.6 .4-8 .5 7 .5-2.6 .4 1.1 .5-2.6 .4 11.6 .4-1.7 .5-7.8 .4 10.1 .5-6.9 .4 1.9 .4-1.8 .5 1.4 .4-14.4 .4 13 .4 0 .4 3.9 .4 2.8 .5-11.6 .4 9 .4-5.1 .4 5.7 .4-1.9 .4-1.9 .4 5.7 .3-2.7 .4-5.6 .4-2.2 .4 1.3 .4 1.8 .4 2.2 .4-.2 .3-5.9 .4 7.4 .4 2.8 .3-3.7 .4-1.9 .4 3.3 .3-1.6 .4-.2 .4 1.2 .3-1.3 .4-1.4 .3 1.7 .4-1.5 .3 .7 .4 1.9 .3 2.7 .4-3.8 .3 4.4 .3-.6 .4-4.9 .3-1.3 .3 7.6 .4-.1 .3-2.5 .3 3.7 .4-1.4 .3-7.2 .3 2.3 .3 8.2 .4-3.3 .3-5.8 .3 6.7 .3 .7 .3-7.4 .3 6 .3-2.1 .4-5.7 .3 5.2 .3-5 .3 4.9 .3 3.9 .3-13.8 .3 10.3 .3 2.7 .3 1.3 .3-6.3 .3 9.7 .3-2.1 .3-4.5 .2-2.4 .3 4.4 .3-3.5 .3 12.2 .3-8.7 .3-.7 .3-1.5 .2 1.7 .3 3.5 .3-3.2 .3-1.9 .3 0 .2-5.7 .3 5.3 .3 2.1 .3-1.4 .2-2 .3-3.7 .3 4.7 .2-2.8 .3-3.7 .3 3.4 .2 4.7 .3-1.2 .3-.1 .2-.9 .3-2.6 .2-3.9 .3 1.9 .3 .8 .2 3.5 .3 7.2 .2-28.4 .3 22.9 .2-2.8 .3 2.5 .2-2 .3-1.8 .2 4.9 .3-8.4 .2 12.3 .3-3.6 .2 6.1 .2-11.5 .3 4.8 .2-2.4 .3 6.2 .2-5.2 .2 .4 .3-3.7 .2-1.6 .3 9.3 .2-4.1 .2-2 .3-.7 .2-3.5 .2 7.1 .3-.7 .2-.1 .2-1.4 .2 4.9 .3-.7 .2-3.1 .2 4.4 .2-1.8 .3-.1 .2-9 .2 3.4 .2 1.3 .3 3.3 .2 1.6 .2 2.4 .2-11.5 .2 4.6 .3 3.6 .2-3.1 .2 7.9 .2-4 .2 6 .2-10.1 .2-.9 .3-3.9 .2 1.7 .2-2.8 .2 4.8 .2 4 .2-1.3 .2 2.3 .2-3.5 .2 .7 .2 .6 .2 .6 .2 3.1 .2-2.9 .2-4.1 .3-.7 .2 5.1 .2-8.4 .2 5.7 .2-3 .2-.9 .2 9.4 .2-5.1 .1-4.8 .2 2.3 .2-4.5 .2 7 .2-.3 .2 5.3 .2-4.8 .2 4.1 .2-4.8 .2-4.7 .2 5.3 .2 2.8 .2 .2 .2-4 .2 4.4 .1-3.9 .2-.1 .2-4.1 .2 4.3 .2-.5 .2 1.4 .2-.2 .1 6.2 .2-8.6 .2 .9 .2-5.5 .2 8.7 .2 4 .1-6.3 .2-2.5 .2 5.7 .2 3.8 .2-5 .1 4.7 .2-13.7 .2 12.2 .2-2.8 .2 1 .1-.4 .2-4 .2 2.2 .2-1.4 .1 3.1 .2 5.7 .2-7.7 .2 1.5 .1 3.2 .2-4.6 .2-3.6 .1 2.8 .2-3.1 .2 4.7 .2 0 .1-2.9 .2-6.6 .2 6.3 .1 3.8 .2 .8 .2 4.3 .1-8 .2 5.4 .2-8.6 .1 2.7 .2 5.8 .2-4.8 .1 1.5 .2 2.7 .2 4.1 .1-10.8 .2 4.6 .1 5.5 .2-7 .2-3.4 .1 11.3 .2-10.3 .1 5.4 .2-3.4 .2-1.2 .1 3.6 .2-3 .1-.6 .2 4.4 .2-5.3 .1 3.6 .2-6.8 .1 6.9 .2 1.4 .1-5.7 .2 10.7 .1-13.6 .2 4.3 .2 5.5 .1-2.7 .2-8.5 .1 13.3 .2-11.3 .1 1.4 .2 .4 .1 3.7 .2-.4 .1-.3 .2 2.3 .1-.1 .2-3.9 .1-.3 .2 8.3 .1-8 .2-2.3 .1 3.3 .2-3.4 .1 10.2 .2-2.5 .1-1.8 .1-6.4 .2 9 .1 .3 .2-4.4 .1-2.4 .2-2.7 .1 5.4 .2 1.5 .1-4.3 .1 2.7 .2 3.4 .1-8.8 .2 2.7 .1-2 .2 4.1 .1 4.5 .1-1.9 .2 .1 .1-4.5 .2 9.8 .1-6.6 .1 1.3 .2-1.6 .1 5.3 .2-10.8 .1 8.4 .1-3.5 .2 1.3 .1 1.4 .1-4.5 .2 5.8 .1-3.2 .2-.8 .1-4 .1 .5 .2 6.9 .1-5.3 .1 4.9 .2-6.1 .1 .9 .1 4.9 .2 4.1 .1-2.4 .1-6 .2 .3 .1 3.8 .1-3.4 .2-.3 .1 8.2 .1-6.4 .2-1.5 .1 3.5 .1-.6 .1-3.6 .2 8.2 .1-1.3 .1-8.9 .2 1.1 .1 3 .1 2.4 .1 1.6 .2 1.7 .1-9.7 .1 1.4" fill="none" stroke="#A5A5A5" stroke-width="1.4" stroke-linejoin="round"/>
<path d="M258.7 441.4l7.4 3.2 6.7-6 6 .6 5.5 2.3 5.1-6 4.7-1.1 4.4 11.5 4.1-10.7 3.8 7.2 3.6-1.8 3.4-4.2 3.3 .7 3.1 1.3 2.9-6.3 2.8 4.4 2.7 .9 2.6 5 2.5-4.4 2.4 9.7 2.3-5.1 2.2-3.2 2.2-1.5 2 2.3 2.1-3.6 1.9 4.6 1.9-1.6 1.8 0 1.8-.3 1.7-1.9 1.7 8.1 1.7-4.4 1.6 4 1.5-12.8 1.6 7.3 1.5-2.2 1.4-1.9 1.4 6.4 1.4-4.1 1.4 5.8 1.3 3 1.3-7.9 1.3-26.6 1.3 24.3 1.2 12.1 1.2-9.3 1.2-.8 1.1-.9 1.2-3 1.1 16.2 1.1-7.4 1.1-10.9 1.1 4.8 1 5.8 1-3 1-7.1 1 1.7 1 0 1-1.9 .9 11.1 1-11.2 .9 6.1 .9-.2 .9-2.2 .9 5.5 .9-2.6 .8 3.5 .9-.8 .8 8.6 .9-6.8 .8-7.3 .8 .5 .8 1.8 .8-4 .7 1.3 .8 5.1 .8 .7 .7 1.9 .7-1.8 .8-10.1 .7 13.1 .7 .8 .7-15.1 .7 18.8 .7-11.1 .7-8.6 .7 11.5 .7-5.2 .6-1.1 .7 .4 .6 3.7 .7-8.6 .6 9.4 .6-3.3 .7 .2 .6-2.9 .6 9.6 .6-.6 .6-.9 .6-8.3 .6 13.3 .6-7 .5 6.3 .6-3.6 .6 .1 .5-.6 .6-4.1 .5 1 .6-1.8 .5 8.3 .6-4.8 .5 3.1 .5 .1 .6 .2 .5-2.6 .5-2.6 .5 2.7 .5-2.8 .5 6.9 .5-5.3 .5 5.5 .5-6 .5 6.7 .5-5 .5 1.3 .5 2.5 .4-4.5 .5 3.8 .5-4.5 .4 4.1 .5-3.6 .5 1.3 .4 5.7 .5-4.6 .4 2.1 .4-10.6 .5 14 .4-2.3 .5 0 .4 .7 .4-.1 .5-.4 .4-26.9 .4 21.9 .4 7.8 .4-7.1 .4-1 .5-2.1 .4 5 .4 3.8 .4-3.6 .4-3.2 .4 3.8 .4-.7 .3 5.3 .4-1.6 .4-1.1 .4-1.2 .4 2.9 .4-7.8 .4 3.7 .3-6 .4 8.4 .4-6.6 .3-1.4 .4 5.4 .4 .4 .3 3.9 .4 .8 .4 2.3 .3-2.8 .4-1.4 .3-3.3 .4 .4 .3-2.2 .4 1.5 .3-.2 .4 1.6 .3-3.2 .3-1.6 .4 6.7 .3-4.7 .3-2 .4 1.4 .3 9.2 .3-.1 .4-5.4 .3 3.6 .3 1.1 .3-4 .4 1.4 .3-7.2 .3 8 .3-.7 .3 3.3 .3-8.1 .3 5.6 .4 2.7 .3-3.9 .3 5.5 .3-.7 .3-7.1 .3 2 .3 4.5 .3-11.6 .3 1.9 .3 5.4 .3-2.5 .3-7.5 .3 8.5 .2 .2 .3 3.5 .3-.1 .3-2.1 .3-1.1 .3 .7 .3 2.6 .2 .4 .3-5.2 .3 2 .3-1 .3 3.1 .2-.7 .3-.5 .3-1.3 .3-.6 .2 10.5 .3-13.5 .3 5.4 .2 .5 .3-.1 .3-1.5 .2-1.5 .3-1.2 .3 3.5 .2 1.3 .3-6.1 .2 5 .3 1.1 .3-1.1 .2-1 .3 .8 .2-14.5 .3 8.9 .2 6.9 .3-4 .2-5.2 .3 0 .2 8.7 .3-8 .2 12.8 .3-5.2 .2-6.3 .2 7.3 .3-5 .2 .1 .3 4.7 .2-3.6 .2-3 .3 8.8 .2 4.3 .3-5 .2-2 .2-.3 .3-1.6 .2 1.5 .2-2.8 .3 4.6 .2-.7 .2-8.6 .2 5.8 .3 4.3 .2-5.4 .2-7.1 .2 13 .3-8.5 .2-4 .2 9.5 .2-4.1 .3 3.2 .2-1.2 .2 4.1 .2-2.9 .2 4 .3-2.6 .2-6 .2 6 .2-.8 .2-1.7 .2 .1 .2 3 .3-6.3 .2 8.7 .2-4.4 .2-3.6 .2 4.4 .2-1.3 .2-4.6 .2 2.2 .2-6.3 .2 7.2 .2-1.9 .2 4.3 .2-3.3 .2 2 .3-4.1 .2 10.3 .2-9.7 .2 4.3 .2-2.7 .2 5.2 .2-5.2 .2 4.7 .1-3.1 .2 3.9 .2-.5 .2-3 .2 2.2 .2-1.1 .2-.3 .2-3.7 .2 2.6 .2 .3 .2 2.2 .2 3.7 .2-9.8 .2 4.6 .2-1.5 .1 2.3 .2 5.6 .2-5.4 .2-1.2 .2 2 .2 5.5 .2-4.8 .1 .2 .2-8.7 .2 8.8 .2 .7 .2-8.2 .2 6.3 .1 3.6 .2-7.2 .2-2.3 .2 6.4 .2-4.9 .1 6 .2-.6 .2-5.4 .2 .3 .2 1.2 .1 2.7 .2-6.6 .2 1.5 .2-.3 .1 .7 .2 2.3 .2 1.1 .2 .3 .1 .8 .2-2.3 .2-6.1 .1 15.2 .2-3.3 .2-6.2 .2-1.2 .1-.6 .2-3.7 .2 3 .1-.6 .2 4.7 .2 .7 .1-8.4 .2 9.3 .2-6.8 .1 5.4 .2-3.9 .2 1.1 .1 3.8 .2-6.5 .2 10.7 .1-2.5 .2-.6 .1 .6 .2-3.1 .2-1.1 .1-.2 .2-5 .1 3.3 .2 1 .2-5.1 .1 2.6 .2-1.8 .1 8.1 .2 0 .2 4.7 .1-9.7 .2 3.2 .1-.5 .2-.7 .1-3.9 .2 1.9 .1-1.4 .2 3.1 .2 2.2 .1 1.8 .2-2.9 .1 2.3 .2-3.9 .1-.9 .2 3.3 .1-6.5 .2 7.2 .1-7 .2 3.6 .1 .4 .2 1.8 .1-7.3 .2 7.4 .1-2.1 .2-2.6 .1 1.8 .2-.9 .1-1.2 .2 2.2 .1 0 .1 .6 .2 6.5 .1-9.7 .2 3.4 .1 0 .2 4.9 .1-1.3 .2 0 .1 2.8 .1-5.6 .2-.7 .1-1.3 .2 .8 .1 4.9 .2-2.4 .1-3.9 .1 1.7 .2 4.1 .1-9.9 .2 5.1 .1 2.9 .1 2 .2 9.4 .1-8.6 .2-5 .1-1.2 .1 2.8 .2 7.2 .1-6.8 .1 1.8 .2-4.2 .1 .9 .2 7.4 .1-8.6 .1 6.9 .2-1.3 .1 2.1 .1-3.5 .2-2.4 .1 7.3 .1-4.4 .2 .9 .1-1.6 .1-1 .2-2.2 .1-4.5 .1 6.5 .2 1 .1 6.9 .1-7.9 .2 5.1 .1-4.5 .1 4.8 .1-10.8 .2 6.8 .1-.2 .1 .4 .2 1.5 .1-6.2 .1 3.4 .1 .9 .2-5.2 .1-1.1 .1 2.6" fill="none" stroke="#ED7D31" stroke-width="1.4" stroke-linejoin="round"/>
<path d="M258.7 438.3l7.4-.1 6.7-11 6 5.9 5.5 .8 5.1-2.4 4.7-2.9 4.4 5.1 4.1 5.7 3.8-4.5 3.6-5 3.4 2 3.3 1.9 3.1-4 2.9 .8 2.8 21.6 2.7-14.2 2.6 4.1 2.5-1.6 2.4 18 2.3-13 2.2-9.4 2.2-3.3 2 4.2 2.1 15.7 1.9-7 1.9-7.4 1.8 2.1 1.8 10.7 1.7-3.6 1.7 1 1.7-3.2 1.6-8.1 1.5 9.7 1.6-3 1.5-.9 1.4 2.8 1.4 5.9 1.4-9.5 1.4-4.8 1.3 7.4 1.3-6.6 1.3-19.7 1.3 21 1.2-1 1.2 9.3 1.2-3.7 1.1-2 1.2-3 1.1 3.8 1.1 0 1.1-7.6 1.1 8.1 1 2.6 1-.2 1-.7 1-3.1 1-2.9 1 7.9 .9-5.2 1 4.5 .9-5.5 .9 7.3 .9-7.9 .9-5.2 .9 9.8 .8-1.4 .9 2.2 .8-5.6 .9 12.6 .8-17.9 .8 12.9 .8-3.2 .8-.8 .7-.7 .8 2.8 .8 .7 .7 1 .7-4.6 .8 6.5 .7-6.1 .7-2 .7 .7 .7-1.6 .7 3.8 .7-.5 .7-4.3 .7 7.3 .6-1.8 .7 3.9 .6-9.3 .7-3 .6 15 .6-9.3 .7 1.1 .6-2 .6 1.1 .6-.3 .6-5.6 .6 16.7 .6-6.7 .6-7.2 .5 4.3 .6-2.3 .6 1.1 .5-2.7 .6 6.5 .5-6 .6 4 .5-5.5 .6 5.7 .5-2.8 .5 5.9 .6-7.7 .5 8.1 .5-10.1 .5 0 .5 1.1 .5 5.8 .5 7.6 .5 .4 .5-8.1 .5-6.3 .5 10.8 .5-6.6 .5 5 .4 .5 .5 2.1 .5-3.6 .4-1.3 .5 4 .5 5.8 .4-7.7 .5-2.7 .4 2.9 .4-4.6 .5 5.1 .4-.9 .5 2.9 .4-8.7 .4 4.2 .5 1 .4-30.4 .4 30.1 .4 0 .4-7 .4 9.4 .5 .1 .4-1.8 .4 1 .4-7.1 .4 13.5 .4-10.3 .4-1.1 .3 5 .4-3.6 .4-2.6 .4 4.3 .4 3.9 .4-5.8 .4-3 .3 7.5 .4-2.5 .4-3.4 .3 .6 .4 9 .4-10.7 .3 5 .4 2.2 .4-9.4 .3 8.7 .4-1.5 .3-2.5 .4-3.2 .3 .2 .4 7 .3-6.3 .4 7.1 .3-9.5 .3 10.5 .4 2.7 .3-8.3 .3 6.2 .4-12.1 .3 8.1 .3-8.6 .4 12.3 .3-8.8 .3 4.3 .3-1.3 .4 4.2 .3-4.9 .3 .4 .3-9.7 .3 10.6 .3-2.1 .3 3.4 .4-5.1 .3 5.2 .3-2 .3 .8 .3-.5 .3-.9 .3 1.3 .3 4.7 .3-8.1 .3 5 .3 2 .3-.3 .3-3.6 .2-.6 .3-2.7 .3 5.5 .3 .8 .3-5.1 .3-1.9 .3 0 .2 12.1 .3-10.1 .3 2 .3 .4 .3 .6 .2-8 .3 6.2 .3-2.6 .3 8.9 .2-4 .3-3.9 .3-1.2 .2-.3 .3 4.1 .3-6 .2 7.2 .3 1.4 .3-1.7 .2-6.4 .3 6.7 .2 3.7 .3-5.5 .3 3.4 .2-7.1 .3 4 .2-13.4 .3 20.1 .2-1.6 .3-4.3 .2 2.9 .3-5.5 .2 1.2 .3 2.1 .2-2.2 .3 .9 .2 6.2 .2-6.9 .3-2.3 .2 5.6 .3 .2 .2-2.2 .2-3.1 .3 1.6 .2 3.7 .3-2.5 .2 1.9 .2 3.4 .3 .7 .2-4 .2-6.8 .3 0 .2 8.5 .2-12.1 .2 10.7 .3 2 .2 2.4 .2-1.5 .2-9.1 .3 2.7 .2 .6 .2 4.4 .2-7.2 .3 6.8 .2 4.9 .2-7.3 .2-1.5 .2-4.5 .3 8.8 .2-10.3 .2-.6 .2 8.8 .2-3.8 .2 5.8 .2-4 .3 2.8 .2 7.8 .2-11 .2-1.3 .2-.1 .2-3.5 .2 2.3 .2 9.9 .2-8.4 .2 1.3 .2 .5 .2-.9 .2 3.8 .2-1 .3 2.6 .2-7.4 .2 7.4 .2-5.8 .2-1.3 .2 4 .2-4.2 .2 3.4 .1-4 .2 2 .2-2.6 .2 3.9 .2-.5 .2 3.6 .2-5.3 .2-2.3 .2 3.3 .2-2.2 .2 5.5 .2 2.1 .2-.4 .2 .2 .2-3.7 .1 3.6 .2-2.3 .2-2.3 .2 1.5 .2 2.8 .2-4.7 .2 .1 .1 5.6 .2-12.8 .2 3.6 .2 2.5 .2 6.1 .2-1.5 .1-6 .2-4.1 .2 9.4 .2 4 .2-10.5 .1 6.3 .2-5.2 .2 6.6 .2-2.3 .2 1 .1 2.6 .2-7.6 .2 8.3 .2-4.5 .1-2.6 .2 3.9 .2-.6 .2-1.2 .1-3.5 .2 6.3 .2-3.6 .1-3.8 .2 4.9 .2 4.5 .2-5.6 .1 10.9 .2-9.8 .2-1.6 .1-1.3 .2 1.1 .2 5 .1-6.7 .2-.1 .2 2.6 .1 .5 .2 1.4 .2 2.5 .1-3.9 .2 2.4 .2-5.7 .1-.6 .2 4.7 .1-7.6 .2 5.3 .2-6.8 .1 4.6 .2-2 .1 12 .2-5.7 .2-6.9 .1 8.1 .2 4.1 .1-1.9 .2-3 .2 1.8 .1 0 .2 4.1 .1-5.1 .2 1.4 .1-4.7 .2-4.6 .1 5.8 .2-2.7 .2 3.4 .1-.7 .2 4.2 .1-3.4 .2-3.3 .1 5.4 .2-4.9 .1 7.9 .2-7.6 .1 2.2 .2-1.7 .1 3.9 .2-1.6 .1-2.1 .2-6.4 .1 10.2 .2-4.6 .1-6.6 .2 7.8 .1 .3 .2-4.6 .1 10.2 .1-.4 .2-1.6 .1-10.8 .2 11.7 .1-3.4 .2 2.5 .1-4.5 .2 1.2 .1 3.1 .1-1.7 .2-3.9 .1 3.4 .2 1.8 .1 1.7 .2-12.5 .1 17.1 .1-7.9 .2-.5 .1 1.5 .2-3.8 .1 9.8 .1-6.8 .2 3.5 .1-4.5 .2 1.3 .1-2.3 .1 7.7 .2-6.5 .1 .6 .1 .6 .2 .8 .1 0 .2-8.1 .1 2.8 .1 3.4 .2-1.5 .1-2.1 .1 5.2 .2 2.9 .1-6.7 .1 3.5 .2-3.9 .1 1.5 .1 6.6 .2-9.8 .1 5.5 .1-5.7 .2 4.3 .1-4.6 .1 5.6 .2 3 .1-1.4 .1-4.1 .1-7.2 .2 9 .1 5.8 .1-7.7 .2-.2 .1 1.2 .1-1 .1 4 .2-2 .1 1.7 .1 1.8" fill="none" stroke="#BDD7EE" stroke-width="1.4" stroke-linejoin="round"/>
<path d="M258.7 445.3l7.4-12.1 6.7 7.4 6-13.9 5.5 .8 5.1 2.1 4.7 10.2 4.4-7.1 4.1 0 3.8 2.1 3.6 2.4 3.4-4.8 3.3-1.2 3.1 1.4 2.9-.1 2.8 3.3 2.7 8.4 2.6 3.5 2.5-.9 2.4-4.2 2.3-1.1 2.2 .9 2.2-6.9 2 5.6 2.1 3.3 1.9-4.5 1.9 10.7 1.8-5 1.8-1.4 1.7-2.7 1.7 4.5 1.7-9.7 1.6 3.5 1.5 2.3 1.6-5.2 1.5-5.6 1.4 9.6 1.4 1 1.4-.4 1.4 8.2 1.3-4.6 1.3-4.3 1.3-35.3 1.3 34.6 1.2-.5 1.2 4.3 1.2-1.3 1.1-.9 1.2-5.7 1.1 9.1 1.1-.3 1.1-4.1 1.1 3.6 1-1.7 1-.4 1-3.8 1 7 1 .5 1-5.6 .9 4.9 1-5.6 .9 7.7 .9-14.8 .9 6.6 .9 18.8 .9-11.3 .8-3.8 .9-6.2 .8-1.5 .9 7.5 .8 10.8 .8-8.2 .8-5.7 .8 1.4 .7 2.4 .8-4.1 .8 9.8 .7-14.8 .7 4.8 .8 4 .7-10.4 .7 18.1 .7-14.3 .7 .6 .7-2.7 .7 7.3 .7-3.7 .7 5.7 .6-4.2 .7 2.4 .6-2.3 .7 .1 .6-1.5 .6-1 .7 6.8 .6 2.5 .6-4.6 .6 3.9 .6-7.3 .6 3.9 .6 1.5 .6-6.3 .5 1.6 .6-2.5 .6 5.3 .5 .9 .6 .8 .5-6.3 .6 2.2 .5 2.3 .6-1.9 .5-1.3 .5-2.5 .6 8 .5-3.7 .5 2.3 .5 1.3 .5 1.8 .5-6.8 .5 7.8 .5-3.4 .5-2.2 .5 2.1 .5 1.7 .5-4.2 .5 3.6 .4-8.7 .5 4.5 .5 2.3 .4-.7 .5-3.4 .5 13.5 .4-5 .5-4.3 .4 .5 .4-2.6 .5 .6 .4 2.3 .5-3.1 .4 6.6 .4-4.3 .5-.2 .4-18.4 .4 20 .4-6.4 .4 1.4 .4 4.6 .5 3.1 .4-4.4 .4 3 .4-6.9 .4 3.4 .4 5.7 .4-8.3 .3 3.8 .4-1.8 .4 .5 .4 .2 .4 3.3 .4 3.3 .4 3.9 .3-13.5 .4 8.2 .4-4.1 .3-1.8 .4 1.7 .4-.9 .3 .6 .4-.9 .4 2.7 .3 4.2 .4 3.7 .3-2.7 .4-7.9 .3 6.9 .4-1.7 .3 1.6 .4 2.6 .3-8.8 .3 .9 .4 4.9 .3 .3 .3-6.2 .4 3.1 .3 .5 .3 .3 .4-3 .3 4.3 .3 2 .3-1.3 .4-2.6 .3 2.4 .3 1.4 .3-.1 .3-2.5 .3-3.2 .3 0 .4 .4 .3-3.5 .3 9.6 .3-3.5 .3 5.6 .3-6.9 .3 .3 .3 8.4 .3-10 .3 6.2 .3-4 .3 1.3 .3-3.3 .2-5.4 .3 8.3 .3-8.4 .3 10.9 .3 .1 .3-8.8 .3 8.2 .2-8.1 .3 10.3 .3-7.7 .3-.4 .3 9.8 .2-8.4 .3 2.7 .3-1 .3-.3 .2-3.4 .3-1 .3 3 .2 1.5 .3-1.8 .3 10.3 .2-11.5 .3 6.1 .3-4.1 .2 .1 .3-2.1 .2 6.7 .3-7.5 .3-3.9 .2 3.8 .3 9.6 .2-12.6 .3 4 .2 1.7 .3 4.9 .2-3.3 .3-2.1 .2 5.7 .3-4 .2 1.1 .3 3.6 .2-4.8 .2-.6 .3-.7 .2-2.6 .3-.1 .2 3.7 .2 6.3 .3-4 .2-4.4 .3-5.9 .2 10.8 .2-6 .3 4.4 .2 3.7 .2-10.5 .3 3.6 .2 4.4 .2 .6 .2-3.2 .3-10.1 .2 11.9 .2-2.7 .2 6.1 .3-1.3 .2-4.5 .2-1.5 .2 .8 .3-.5 .2 1.7 .2 .6 .2 1.7 .2-4.2 .3-.4 .2 3.7 .2-4.5 .2 1.9 .2 1.7 .2 4.3 .2-1.4 .3-.1 .2-6.1 .2 6.2 .2-5.3 .2 2.1 .2 .8 .2-.2 .2-4.5 .2 2.7 .2-3.2 .2 8 .2 5.2 .2-6.4 .2-1.4 .3 4.3 .2-1.4 .2-2.1 .2 .9 .2-4.6 .2 5.1 .2 1 .2-1.6 .1 3.1 .2-3.9 .2-3 .2 4.2 .2-6.5 .2 6.4 .2-2.1 .2 3 .2-6.1 .2 .5 .2 2.5 .2 3.2 .2-10 .2 4.9 .2-2.7 .1 10.9 .2-4.5 .2-6.4 .2 6.6 .2 5.8 .2-8.8 .2-1.4 .1-1 .2 5.7 .2-.5 .2-.4 .2-.9 .2-2.8 .1 2.2 .2-.3 .2 1.4 .2-2.4 .2 2.7 .1 1.8 .2-2.2 .2 1.9 .2-2.3 .2-6 .1 7.3 .2-2.4 .2 .1 .2 3 .1 .1 .2-7.5 .2 6.2 .2-.2 .1-2.1 .2 1.5 .2 2.1 .1-10 .2 8.6 .2-2.7 .2 3.1 .1 .2 .2-1.3 .2-.1 .1 2.6 .2-3.6 .2 1.3 .1-5.4 .2-2.3 .2 9.8 .1-1.2 .2-4.6 .2 2.3 .1 2 .2-5.6 .2 5.1 .1 .4 .2-1.6 .1 .4 .2-3.4 .2 5.4 .1-1.1 .2 4.1 .1-1.9 .2-8.3 .2-.9 .1 10.7 .2-5.6 .1 3.9 .2-3.2 .2 4 .1-3.9 .2 1.1 .1 1.2 .2-.7 .1 4.2 .2-4.6 .1-2 .2-2.4 .2 3.1 .1 3.6 .2-1.4 .1 .1 .2-.7 .1 3.3 .2-1.6 .1-3.2 .2 3.8 .1-8.8 .2 4 .1 3.9 .2-1.3 .1-4.6 .2 5.1 .1 7.1 .2-13.9 .1-.1 .2 2.8 .1-4.3 .2 8.3 .1 1.3 .1-5.5 .2 4 .1 .2 .2-1.8 .1 2.9 .2-5.5 .1 5.4 .2 1.4 .1-5.6 .1 .1 .2 2.4 .1-3.7 .2 2.8 .1-5.8 .2 5.9 .1 4.7 .1-5.6 .2 4.5 .1-2.7 .2-1.3 .1-1.4 .1 4.6 .2-4.2 .1-.5 .2-1.1 .1 .1 .1-6.7 .2 12.6 .1-6.7 .1 4 .2-1.6 .1-1.4 .2 1 .1-3.7 .1 7.6 .2-3 .1-1.8 .1 5.8 .2-9 .1 10.6 .1-1.9 .2-2.5 .1-4.8 .1 4.9 .2 .7 .1-4 .1 7 .2-5.1 .1 2 .1 1.4 .2-9 .1 2.7 .1 3.7 .1-.5 .2 1.7 .1 4.2 .1-3 .2-3.2 .1 6.7 .1-12.1 .1 9.9 .2-3.7 .1-3.7 .1 3.9" fill="none" stroke="#9DC3E6" stroke-width="1.4" stroke-linejoin="round"/>
<path d="M258.7 434.7l7.4-10 6.7 6.5 6-2.2 5.5 .9 5.1 2.1 4.7-1.5 4.4-.3 4.1-.5 3.8 5.4 3.6-4 3.4 .1 3.3-.5 3.1 3.4 2.9 5 2.8 .8 2.7 16.2 2.6-16.7 2.5 11.6 2.4-.2 2.3-4.7 2.2 13.9 2.2-3.7 2-8.3 2.1 5.9 1.9-7.2 1.9 3.8 1.8-2.2 1.8 5.7 1.7-5.4 1.7-5.2 1.7 4 1.6-6.3 1.5 18.4 1.6-9.1 1.5-2.5 1.4 1.8 1.4-1.4 1.4 4.3 1.4-7.9 1.3 .7 1.3 4 1.3-29.9 1.3 25.9 1.2 2.3 1.2-3.5 1.2 4.8 1.1-9.8 1.2 9.4 1.1 1.1 1.1 3.8 1.1-11.2 1.1 6.1 1-2.1 1 2.8 1-.1 1 7.5 1-13 1 5.2 .9 6.5 1-12.2 .9 6 .9-.5 .9-4.4 .9 11.4 .9-11.6 .8 2.2 .9 2.1 .8 1.9 .9 2.8 .8-3.4 .8 3.7 .8-11 .8 11.4 .7 3.4 .8-11.6 .8 2.8 .7 1 .7 1.2 .8 2 .7 .1 .7-6.6 .7 6.8 .7-3.6 .7-.2 .7-3.5 .7-1.1 .7 13.6 .6-8.8 .7-2.5 .6 7.9 .7-7.7 .6 8.3 .6-9.5 .7 3.3 .6 .9 .6-.2 .6 .4 .6-7.4 .6-.2 .6 3.8 .6 10.3 .5-11.8 .6 3 .6-2.3 .5 8 .6-3 .5-.9 .6-6.9 .5 2.7 .6-.2 .5 .2 .5-1.6 .6 6.2 .5-4 .5 3.7 .5-3.7 .5 4.5 .5-4.2 .5-5.7 .5 5.6 .5 4.8 .5-7.3 .5-2.5 .5 10.3 .5-4.2 .4 .9 .5 4.1 .5-4.6 .4-4.8 .5 .1 .5 4 .4-2.9 .5 3.7 .4-3.6 .4 .7 .5 5.2 .4-4.1 .5 .9 .4 1.3 .4 4.3 .5-4.2 .4-26.7 .4 22.9 .4-2.6 .4 7 .4 .2 .5-7.7 .4 3.9 .4 2.5 .4-.4 .4-.7 .4 1.7 .4-5.6 .3 1.9 .4 .4 .4 2.9 .4-2.7 .4-.2 .4-4.1 .4 1.2 .3 7.7 .4-10.3 .4 6.1 .3-1.6 .4-2.1 .4 2.7 .3 0 .4-1 .4-1.8 .3 8.6 .4-9.1 .3-.6 .4 1.7 .3 .2 .4-2 .3 5.7 .4 4.6 .3-6.1 .3 .2 .4-7.8 .3 6.8 .3-7.5 .4 6.3 .3 1.3 .3 1.9 .4-3.6 .3 .8 .3-.7 .3 7.3 .4-11.1 .3 3.3 .3 1.1 .3 3.6 .3-.8 .3-3.3 .3-.9 .4 5.7 .3-9.6 .3 .2 .3 8.2 .3 3.8 .3-9 .3 1 .3 .8 .3-1 .3 7 .3-1.1 .3 0 .3-4.6 .2 1 .3-4.8 .3 6.4 .3 2 .3-5.2 .3 5.1 .3-5.4 .2-1.6 .3 1.5 .3-.8 .3 .2 .3-.9 .2 2.7 .3-4.8 .3 1.9 .3 4 .2-1.8 .3-5.2 .3 13.1 .2-11.8 .3 2.8 .3 6 .2-6.2 .3 0 .3 5.4 .2-9.3 .3 7.5 .2 .5 .3 2.1 .3-7.3 .2-.3 .3 10.9 .2-18.9 .3 9.9 .2 3.2 .3 4.4 .2-4.5 .3-6.1 .2 14 .3-15.3 .2-.3 .3-.8 .2 10.8 .2-5.3 .3 1.5 .2 2.5 .3-8.1 .2 5.9 .2-1 .3-2.3 .2-1.3 .3 5.5 .2-6 .2 6.7 .3 1.1 .2-5.1 .2 3.6 .3-1.3 .2 3.4 .2-6.6 .2-3.7 .3 7.2 .2 7.1 .2-4.4 .2 6.9 .3-9.8 .2 9.2 .2-6 .2-3.9 .3-.1 .2 .1 .2 3.9 .2-4.4 .2-.4 .3-1.9 .2 1.7 .2 1.7 .2 3 .2-4 .2 7.7 .2-9.1 .3 .7 .2 6 .2-1 .2 .6 .2-5.9 .2 5.4 .2-3.8 .2-3.7 .2-.8 .2 5.9 .2-2.2 .2 1.7 .2-1.1 .2-3 .3 8.8 .2-5.9 .2 3.2 .2-6.6 .2 1.2 .2 7.4 .2-7.1 .2 4.3 .1 .7 .2-4.6 .2 .6 .2 4.6 .2 3.3 .2-1.2 .2 4.1 .2-11.1 .2 1 .2-.6 .2 3.6 .2-10.7 .2 8.9 .2-1.9 .2-3.5 .1 1.7 .2 5.2 .2-1.2 .2 .4 .2 3.8 .2-3.9 .2-.6 .1 6.8 .2-8.8 .2-2.2 .2 3.1 .2 3.7 .2-4 .1-2.4 .2 14.1 .2-13.5 .2 3.1 .2 2.1 .1-2.5 .2 .4 .2-.1 .2-1.8 .2-3.2 .1 4.8 .2 3.3 .2-2.3 .2-1.5 .1 .7 .2 6.9 .2-5.8 .2 1.3 .1-6.7 .2-2.6 .2 1.3 .1 4.9 .2 1.9 .2 .9 .2-.4 .1-.1 .2-9.1 .2 8.2 .1-4.7 .2 1 .2-.1 .1 3.5 .2-1 .2-.3 .1-.2 .2 .6 .2-7.1 .1 7.3 .2 4 .2-8.9 .1 4.7 .2-1.1 .1-4.6 .2 12.9 .2-7.5 .1-2.3 .2-.1 .1 1.5 .2 7.5 .2-7.7 .1-6.7 .2 11.9 .1-.6 .2 .7 .2-5 .1 4.7 .2 1 .1-9 .2 10.9 .1-4.5 .2-2.4 .1 .6 .2 2.5 .2-3.6 .1-3 .2 6.6 .1-5.6 .2-2.4 .1 7.5 .2 1 .1-4.6 .2 6 .1-7.5 .2 3.2 .1-1.7 .2 1.2 .1-2.4 .2 5.3 .1 .8 .2 1.1 .1-6.3 .2-3.9 .1 7.2 .2 .3 .1-2.3 .1-4 .2 9.5 .1-1.8 .2 .9 .1 1.3 .2-7.4 .1 .9 .2 3.3 .1-1.6 .1-4.4 .2 5.5 .1-.8 .2 6 .1-4.5 .2-1.2 .1 4.3 .1-5.2 .2 7.3 .1-8.2 .2-4.3 .1 9.2 .1-2.7 .2-3.5 .1 3.2 .2 1.7 .1-5.3 .1 2.6 .2 2.7 .1-8 .1 9.8 .2-8.5 .1 4.9 .2-7.6 .1 6.8 .1-3.4 .2 4.2 .1-2.6 .1 2.6 .2-3 .1 2.2 .1-3.5 .2 6 .1-2.4 .1-3.6 .2 4.3 .1 1.8 .1-13.4 .2 17.5 .1-11.4 .1 4.6 .2-.2 .1 1.6 .1 .5 .1-5.4 .2 .1 .1 10.1 .1-11.1 .2 3.4 .1-1.2 .1 .5 .1 2.9 .2 2 .1-3.9 .1-1.3" fill="none" stroke="#BF9000" stroke-width="1.4" stroke-linejoin="round"/>
<path d="M258.7 432.5l7.4-5 6.7 .8 6-5.6 5.5 8.2 5.1-8.4 4.7 6.8 4.4 .4 4.1-4.2 3.8 6.9 3.6-3.3 3.4-7.5 3.3 1.7 3.1 14.2 2.9-.9 2.8-2.2 2.7 9.3 2.6 6.2 2.5-9.5 2.4 8.7 2.3-6.1 2.2-3 2.2 21.8 2-13.4 2.1-9.8 1.9 2.1 1.9-.8 1.8 2.7 1.8 2.7 1.7-5.7 1.7 5.6 1.7-1 1.6-.4 1.5 3.1 1.6 3.6 1.5-6.7 1.4-4.2 1.4 7.2 1.4-11 1.4 9.8 1.3 6.6 1.3-2.6 1.3-46.4 1.3 38.9 1.2-.7 1.2 6.9 1.2-7 1.1 3.2 1.2 .4 1.1 4.6 1.1-4.6 1.1 2.2 1.1-8.3 1 11 1-3.9 1-5.4 1 2.1 1 2.3 1-8.5 .9 5 1 7.2 .9 4.9 .9-3.8 .9-5.5 .9-1.2 .9 8.5 .8-9.6 .9 2.7 .8 4.5 .9-.9 .8-4.9 .8-3.6 .8-5.6 .8 14 .7-1.5 .8 .4 .8-6.7 .7 9 .7-2.8 .8-3.5 .7 .5 .7 3.2 .7-6.6 .7 .6 .7 .5 .7 6.5 .7-.8 .7-7.6 .6 4.2 .7 8.4 .6 .4 .7-3.4 .6-7.6 .6 6.8 .7-2.7 .6 2.9 .6-3.2 .6-.3 .6 5.2 .6 2 .6-10.6 .6 3.5 .5 1.7 .6 6.2 .6-16.5 .5 8 .6 .6 .5-4 .6 6.7 .5-4.5 .6 2.1 .5 1.1 .5-3.3 .6 3 .5-8.3 .5 11.1 .5 2.2 .5-2.9 .5-3.3 .5-1.9 .5 2.6 .5 1 .5-1.3 .5 .6 .5 7.8 .5-10.6 .4 3.1 .5-6 .5 6.3 .4-5.5 .5 12.2 .5-13.5 .4 2.8 .5 5.3 .4-3 .4-1.4 .5 6 .4-2.8 .5-4 .4-.7 .4 1.9 .5 1.6 .4-25.9 .4 25.3 .4 .6 .4-4.1 .4-3.8 .5 8.1 .4-2.9 .4 1.9 .4-2.3 .4 1.9 .4 1.3 .4 3.9 .3-9.5 .4 1.1 .4 8.8 .4-.1 .4-4.7 .4 0 .4 .6 .3 1 .4 2.5 .4-1.5 .3 1.8 .4-3.7 .4 2.2 .3 1.3 .4-5.4 .4-1.2 .3 1.7 .4 1.8 .3 2 .4-2.1 .3-2.3 .4 3.8 .3 1 .4-3 .3-1.4 .3 5.5 .4-3.5 .3 2.5 .3 3.3 .4-6 .3 3.5 .3-2.3 .4 1.8 .3-6.3 .3 1.6 .3-.6 .4 6.1 .3-8.5 .3 6.9 .3-6.2 .3 5.2 .3 5.1 .3-13.4 .4 5.5 .3-4.5 .3 2.2 .3 5.7 .3 4.9 .3-3 .3-8.7 .3 1.2 .3-1.5 .3 7.1 .3-1.3 .3-.2 .3 .3 .2-2.8 .3 1.5 .3 .7 .3-1.1 .3-2.4 .3 1.7 .3-.6 .2-3.2 .3 7.3 .3-.3 .3-3.7 .3-7.9 .2 9.4 .3-6.2 .3 1.7 .3-.8 .2 3.5 .3-.8 .3 8.6 .2-8.4 .3-1.3 .3-.8 .2 8.6 .3-5.9 .3-1 .2 2.7 .3 3.2 .2-5 .3 2.3 .3 3.6 .2-6.5 .3 9.3 .2-17.7 .3 11.2 .2 2.7 .3-6.6 .2 4.7 .3 2.7 .2-5.6 .3 4.8 .2-7.5 .3-.9 .2 11.2 .2-4.6 .3 5 .2-16.8 .3 8 .2 1 .2 8.5 .3-3.1 .2-1.7 .3-6.5 .2-4.7 .2 11.9 .3 1.4 .2-4.3 .2 3.9 .3-2.7 .2 3.7 .2-4 .2-4.1 .3 1.3 .2 1.3 .2-1 .2 8.1 .3-10.7 .2 10.2 .2-11 .2 5 .3 .3 .2-3.7 .2 5.3 .2-.9 .2 .2 .3-2.7 .2-2.9 .2 5.8 .2-1.6 .2 .2 .2-2.1 .2 1.6 .3 .8 .2-3.2 .2 1.9 .2-1.8 .2-2.8 .2 16.7 .2-14.1 .2-.5 .2 3.1 .2 1.2 .2-.8 .2 .2 .2-2.6 .2 2.9 .3-3.4 .2 4.8 .2-5 .2 2.8 .2-1 .2 4.7 .2-.9 .2 .9 .1-4.3 .2-3.5 .2-1.5 .2 11.3 .2-15.1 .2 6.4 .2 6.9 .2-2 .2-2 .2 4.7 .2-1.6 .2-2.2 .2 .8 .2-6.9 .2 8.9 .1-6.6 .2 6.6 .2 5.3 .2-10.6 .2 5 .2-3.3 .2-6.7 .1 5.7 .2 .3 .2 7.7 .2-8.6 .2 1.4 .2 .4 .1 5.3 .2-7.5 .2-4.2 .2 .5 .2 2.7 .1 6.6 .2-4.7 .2 5 .2 1.9 .2-4.2 .1-2.9 .2 3.9 .2-.1 .2-4.6 .1 .5 .2 1.4 .2-1.3 .2-4.6 .1 7 .2-4.7 .2 5.5 .1 1.1 .2-3.7 .2 1.1 .2-5.9 .1 6.9 .2 .9 .2-2.4 .1-3.5 .2 4.2 .2 3.9 .1-2.6 .2-2.6 .2 1.2 .1-5.8 .2 3.8 .2 9.6 .1-7.9 .2 1.5 .2-1.8 .1-3.4 .2 5.8 .1-2.3 .2 .2 .2-.8 .1 .3 .2 4.6 .1-4.1 .2-4.2 .2-3.7 .1 12.8 .2-8.4 .1 9.3 .2-2.4 .2-1.3 .1-1.4 .2-2.7 .1-.8 .2-.6 .1 2.3 .2-2.6 .1 3.7 .2-4.5 .2 .8 .1 3.5 .2 1.3 .1-2.6 .2 7.1 .1-1 .2-4.3 .1 4.8 .2-6.5 .1 10.4 .2-6.7 .1-6.1 .2 9 .1-8.7 .2 10.4 .1-3.6 .2 .5 .1-4.8 .2 8.4 .1-4.9 .2 4 .1-8.8 .1-2 .2 6.3 .1 1.3 .2-2.8 .1-5.8 .2 8.1 .1-7.8 .2 2.8 .1-.6 .1 3.3 .2-1.8 .1 3.1 .2-7.4 .1 9.6 .2-6.1 .1 3.5 .1-.1 .2-.7 .1 2.6 .2-.7 .1-4.9 .1 4.8 .2-6.6 .1 4.2 .2 3.1 .1-9.3 .1 7.4 .2 5.4 .1-10.6 .1 4.2 .2 6.8 .1-8.9 .2 4.6 .1-3.8 .1-3.2 .2 9.9 .1-5.5 .1-.9 .2 4.8 .1-.3 .1 2.3 .2 7 .1-16.8 .1 1.6 .2 2.9 .1 .4 .1 3.2 .2 3.5 .1-10.9 .1 1.2 .2 .6 .1 6.3 .1-7.2 .1 4.7 .2 3.5 .1-6.1 .1 4.3 .2-1.9 .1-4.2 .1 1.5 .1-3.7 .2 .2 .1 6.5 .1-2.4" fill="none" stroke="#A9D18E" stroke-width="1.4" stroke-linejoin="round"/>
<path d="M258.7 451.9l7.4-9.9 6.7 1.9 6 8.8 5.5-7.7 5.1 5.4 4.7 4.6 4.4-11.1 4.1 5.6 3.8-1.8 3.6-1.3 3.4 5.8 3.3-8.1 3.1 .9 2.9 6.7 2.8-1.6 2.7 .1 2.6-5.8 2.5 6.5 2.4-16.2 2.3 6.6 2.2 5.1 2.2-3.6 2 2.4 2.1-1.7 1.9 9.5 1.9-7.1 1.8 .5 1.8 .6 1.7 .8 1.7-5.2 1.7 9.8 1.6-15.4 1.5 13.5 1.6-12.6 1.5 8.6 1.4 6.8 1.4-1.7 1.4-10.3 1.4-1.1 1.3 14.1 1.3-5 1.3-33.5 1.3 34.5 1.2-10.6 1.2 5.8 1.2 7.8 1.1-1.2 1.2-8.6 1.1 6.7 1.1-12.4 1.1 12.1 1.1-5.6 1-1.2 1 .1 1 3.5 1 3.5 1-4.8 1 16.4 .9-23 1 2.7 .9-.8 .9 .5 .9 8.5 .9-2.4 .9-9.4 .8 4.6 .9 5.1 .8-8.7 .9 17.4 .8-11.6 .8-4.9 .8 4.3 .8 2.9 .7-8.9 .8 12.8 .8-6.4 .7-3 .7 10.2 .8-.8 .7-9.1 .7 5.5 .7-1.9 .7 5.6 .7 5 .7-18.6 .7 3.5 .7 4.8 .6 6.8 .7-9.8 .6-4.7 .7 4 .6 4.9 .6 0 .7 .2 .6-.5 .6-1.7 .6-.5 .6 3.8 .6-6.5 .6 7.6 .6 4.1 .5-6.2 .6 3.4 .6-5.2 .5 .3 .6-1.6 .5-3.1 .6 .8 .5 1 .6-1.1 .5 2.9 .5 4.2 .6 4.9 .5-13.1 .5 2 .5 3.2 .5 2.5 .5 2.4 .5-5.1 .5-1.2 .5 1.2 .5-2.1 .5 3.1 .5 2.9 .5-7.7 .4 5.7 .5 2 .5-4 .4-3.4 .5 2.6 .5-7.6 .4 13 .5-11.5 .4 4.2 .4-2 .5 2.7 .4 .1 .5-1.1 .4-.2 .4-1.1 .5 4.1 .4-24.2 .4 26.3 .4-2.2 .4 .6 .4 6 .5-4.9 .4-.9 .4 1.8 .4-5.5 .4 1.5 .4 4.2 .4-4.3 .3-5 .4 11 .4-1.1 .4-5.8 .4 4.9 .4-2.3 .4 .8 .3-.8 .4-1.3 .4 .4 .3-3.7 .4 3.4 .4 3.1 .3-6.2 .4 4.5 .4-1.9 .3 2.6 .4-.6 .3-4.3 .4-1.6 .3 7.9 .4 0 .3-5.1 .4 7.5 .3-.9 .3-6.2 .4 2.2 .3 1.5 .3-3.6 .4 9 .3-13.1 .3 7.6 .4-3 .3-.5 .3 .1 .3-1.8 .4 4.2 .3-10.9 .3 12.9 .3-1.4 .3 4 .3-4.1 .3 0 .4-4.3 .3 2.3 .3-1.9 .3 0 .3-2.4 .3 6.8 .3-1.9 .3-3.4 .3 3.7 .3-1.8 .3 2.8 .3 1.9 .3-1.8 .2-3 .3 .5 .3-2 .3-.4 .3 5.3 .3-.1 .3 1.5 .2 2.6 .3-6.1 .3-.2 .3 1 .3-3 .2 5.1 .3 3.3 .3-9.1 .3 1.3 .2 7.5 .3-7.1 .3-3.6 .2 .8 .3 2 .3 4.1 .2 1.8 .3-1.6 .3-1 .2 .5 .3-.9 .2-5.7 .3 .9 .3 5.9 .2-3.8 .3 1.1 .2-13.9 .3 18.4 .2-2.1 .3-2.7 .2 5.5 .3-1.9 .2-1.6 .3-4.4 .2 1.5 .3 2.8 .2-.8 .2-1.6 .3-4.3 .2 3.9 .3 1.6 .2-3.2 .2 1.5 .3 3.1 .2 1.5 .3-6.3 .2 7.6 .2-.4 .3-4.3 .2 2.8 .2-2.5 .3 .2 .2 1.3 .2-4.8 .2 .1 .3-3 .2 11 .2-6.8 .2 4 .3 .3 .2 1.5 .2-1.8 .2 2.3 .3 1.3 .2-2.8 .2-3.8 .2 .7 .2-5.7 .3 6.6 .2 1.4 .2 6 .2-13.1 .2 5 .2-4.7 .2 6 .3 5.3 .2-10.4 .2 .2 .2-1.5 .2 1.9 .2 9 .2-2.3 .2-2 .2-6.8 .2 8.6 .2-6.2 .2-9.9 .2 9.2 .2 2.2 .3-2.6 .2 5.4 .2-2.6 .2 2.1 .2 1.2 .2 3.3 .2-9.5 .2 6.4 .1-6.8 .2 .4 .2 2.7 .2 5.5 .2-1 .2-1.5 .2 5.9 .2-4.7 .2 .2 .2-8.3 .2 9.2 .2-7.1 .2 8.7 .2-4.7 .2 2.1 .1-5.7 .2 4.5 .2-2.3 .2 1.1 .2-.4 .2-.1 .2-1 .1-1.1 .2 .5 .2-.6 .2 2 .2-.1 .2 4.5 .1-6 .2 4.6 .2-1.3 .2-2 .2 3.2 .1 2.6 .2-4.8 .2-.3 .2 4.7 .2-5.8 .1 6.7 .2 1.3 .2-6.2 .2-4.8 .1 7.8 .2-3.6 .2-.5 .2-6.9 .1 11.1 .2 3.6 .2-11.6 .1 1.8 .2 3.5 .2 .6 .2 2.9 .1-5.7 .2 1.3 .2 .4 .1 4.5 .2-3.3 .2-2.3 .1-.5 .2 .1 .2 3.6 .1 2.2 .2-4.5 .2-3.8 .1 3.9 .2 4.3 .2-2.8 .1-5.9 .2 5.8 .1 3.7 .2-9.2 .2-3.3 .1 10.9 .2-9.3 .1 6.9 .2 2.5 .2-4.8 .1-6.3 .2 8.5 .1 1.2 .2-.7 .2-.3 .1-5.1 .2 8.9 .1-2.6 .2 3.5 .1-9.2 .2 5.1 .1 2.7 .2-7.5 .2 6.1 .1-6.8 .2 4.5 .1 8.1 .2-14.1 .1 11.4 .2-7.5 .1 3.1 .2-4.8 .1 4.4 .2-1.7 .1 3 .2 .8 .1-4.4 .2 1.9 .1 2.4 .2-4.2 .1 1.6 .2-2.9 .1-1.9 .2 8.2 .1-5.3 .1 1.2 .2-3.7 .1-2.2 .2 7.3 .1 4.8 .2-13.9 .1 4.8 .2 3.6 .1 1 .1-4.1 .2-1.9 .1 4.8 .2-7.1 .1 6 .2-3.8 .1 5.7 .1-4.5 .2 10.5 .1-11.2 .2-.4 .1 1 .1 7.9 .2-1.8 .1-11.4 .2 9.4 .1-4.7 .1 1.9 .2 1.6 .1 .5 .1-1 .2-1 .1 .1 .2-7.3 .1 18.5 .1-7.4 .2-.6 .1-1.5 .1 5.2 .2-2.5 .1 3.8 .1 .1 .2-10.9 .1 7.6 .1-2.5 .2 2.5 .1-11.3 .1 5 .2-3.6 .1 6.7 .1 .1 .2-1.4 .1 2.9 .1-4.5 .1-1.6 .2 2.5 .1 5.4 .1-7.8 .2 9.6 .1-3.2 .1-8.1 .1 5.3 .2 5.1 .1-1.5 .1 .8" fill="none" stroke="#5B9BD5" stroke-width="1.4" stroke-linejoin="round"/>
<path d="M258.7 446l7.4-2.5 6.7 .5 6 2.6 5.5 2.6 5.1-1.6 4.7-5.9 4.4-.8 4.1-2.3 3.8 4 3.6-.6 3.4 1.3 3.3-2.3 3.1 .6 2.9 4.7 2.8-11.6 2.7 1.6 2.6 6.8 2.5 1.9 2.4-6.1 2.3 4.1 2.2 3.8 2.2 3.4 2 4.7 2.1-10.2 1.9 5.9 1.9-1.5 1.8-9.8 1.8 13.8 1.7 3.1 1.7-7.7 1.7-3.5 1.6-3.8 1.5 4.7 1.6 3.9 1.5-.6 1.4-12.3 1.4 13.8 1.4-10.5 1.4 10.8 1.3 3.3 1.3-11 1.3-26 1.3 26.2 1.2 7.5 1.2-1.6 1.2 6.2 1.1-7.7 1.2-8.8 1.1 2.8 1.1 9.6 1.1-3.4 1.1-5.9 1 3.4 1-1.3 1 5.3 1-3.1 1-1.1 1-5 .9 5.5 1 4.4 .9-15.8 .9 20.5 .9-3.6 .9 3.6 .9-12.2 .8 11.6 .9-11.9 .8 7.1 .9-2.8 .8-.7 .8 1.7 .8 5.3 .8-7.2 .7 1.5 .8 1.7 .8 0 .7-3 .7 4.2 .8-.6 .7 .3 .7 1.4 .7-1.6 .7 4.9 .7-9.2 .7 5 .7 2.9 .7-7.6 .6 4 .7 3.4 .6-2.9 .7 .9 .6 .8 .6-4.8 .7 2 .6-7 .6 11.8 .6-1.8 .6-2.3 .6-3.9 .6 5.5 .6-5.1 .5-4.1 .6 10 .6-4.9 .5 1.9 .6 2.1 .5-4.9 .6-4.8 .5 9.7 .6-2.8 .5 2.2 .5-8.8 .6 7.8 .5 2.6 .5-1.2 .5-4.4 .5 2.4 .5-6.2 .5 .9 .5 3.9 .5 2.7 .5-7.5 .5 0 .5 .7 .5 6.3 .4-6.6 .5 5.9 .5 4.1 .4-5.3 .5-3.2 .5 .7 .4 8.2 .5-6.9 .4 .9 .4-2.1 .5 3.8 .4-8 .5 2.4 .4-2.2 .4-.9 .5-.3 .4-17.4 .4 24.2 .4 3.3 .4-7.9 .4 6.9 .5-2.7 .4-.7 .4-6.6 .4 10 .4 1.5 .4-7.9 .4 5.4 .3 .8 .4 .2 .4-1.6 .4 1.4 .4-2.3 .4-1.6 .4-1.2 .3 4.7 .4-4.4 .4 1 .3 .3 .4 0 .4 3.1 .3-1.6 .4-4.5 .4-1.1 .3 .7 .4 4.5 .3-1.5 .4 4.1 .3-4 .4 .7 .3-2.9 .4 5.6 .3 2.6 .3-9.4 .4 7.4 .3-10.5 .3 6.5 .4 4.8 .3-2.5 .3-4.4 .4-1.5 .3 11.7 .3-10.3 .3 6.6 .4-2.2 .3-2.5 .3-3.5 .3 9.2 .3 1.2 .3-3.5 .3-2.6 .4-5.2 .3-3.2 .3 4.7 .3-.7 .3 4.9 .3-2.3 .3 1.7 .3-7.9 .3 7.5 .3-3.2 .3 5 .3-.1 .3-2.9 .2-2.2 .3 2.6 .3-2.3 .3 1.2 .3 5.7 .3-4.9 .3 4.3 .2-6.6 .3 7.8 .3 .2 .3-7.6 .3 5.2 .2 5 .3-9.1 .3 4.7 .3-12.7 .2 10 .3-3.1 .3 .5 .2 8.4 .3-6.5 .3-9.6 .2 4.7 .3 4.5 .3-3.1 .2 5.7 .3-1.7 .2-2.1 .3 1.4 .3 5.2 .2-8.8 .3 8 .2-21.2 .3 21.9 .2-3.7 .3-3.7 .2 2.9 .3 .8 .2 1.2 .3-.3 .2 .2 .3-1.9 .2-.8 .2 1.7 .3 7.7 .2-6.1 .3-1.7 .2-.3 .2 3 .3-4.5 .2 6.3 .3-15.4 .2 15 .2-5.8 .3 2.3 .2-1.4 .2-1.6 .3 .9 .2 3.3 .2 1 .2 0 .3-10.3 .2 2.2 .2 9 .2-3.6 .3-1.8 .2 3 .2-.1 .2 2.1 .3-6.4 .2 2.2 .2-3.9 .2 8.5 .2-3.4 .3 3.7 .2-.7 .2-2.3 .2-8.7 .2 7.8 .2-7.7 .2 6.2 .3-2.7 .2 7.6 .2-1.1 .2 3.1 .2-9.2 .2-5.6 .2 4.9 .2 3.3 .2-.8 .2 7 .2-2.6 .2 1.7 .2-7.9 .2 .7 .3 2.9 .2-5.5 .2 1.9 .2-5.5 .2 8.6 .2 5.1 .2-8.2 .2 5.5 .1-1.2 .2-6.3 .2 6.3 .2-1.9 .2 .7 .2-4.1 .2 1.8 .2 1.9 .2-.3 .2 1.8 .2-6.8 .2 9.7 .2-8.7 .2-1.1 .2 10.6 .1-.6 .2-9.8 .2 .1 .2 10.4 .2-5.4 .2 3.9 .2-4.5 .1-1.4 .2 5.6 .2-4.5 .2 3.6 .2-3 .2-.1 .1 2.5 .2-1.4 .2 5.6 .2-4.2 .2-.1 .1-.9 .2 2 .2-7.1 .2 5.8 .2-3.1 .1-.5 .2 1.8 .2 6.1 .2-6.9 .1-.7 .2 7.2 .2-4.4 .2-2.1 .1 3.7 .2-6.5 .2 5.5 .1-12.3 .2 13.5 .2 1.2 .2-2.6 .1-3.5 .2-4.3 .2 7.4 .1-5.1 .2 1.2 .2 6.8 .1-.8 .2-5.2 .2 2.8 .1-5.6 .2 .3 .2 3 .1 0 .2 2 .2-5.5 .1 7.9 .2 4.9 .1-9.5 .2-4.3 .2 6.2 .1-3.4 .2 .9 .1-4 .2 6.7 .2 1 .1-2.4 .2-.2 .1 3.1 .2-1.4 .2-.3 .1-4.3 .2-.4 .1 6.9 .2-1.5 .1-8.8 .2 6.9 .1 1.5 .2 2.4 .2-4.7 .1 .9 .2-1.4 .1 5 .2-1.5 .1 3.7 .2-.8 .1-4 .2-7.7 .1 2.8 .2 6.2 .1-1.3 .2 5.9 .1-4.5 .2-1.6 .1 1.9 .2-2.8 .1-1.7 .2 1.7 .1 5.1 .2-1.8 .1-2.1 .1-2.3 .2 7.6 .1-1.2 .2-10.3 .1 5.5 .2-1 .1 9.9 .2-1.3 .1-12.8 .1 2.5 .2 1.6 .1 .4 .2 1.4 .1-.5 .2 1.9 .1-3.4 .1 4.4 .2-2.1 .1-4.8 .2 4.2 .1 1.3 .1-6.7 .2 6.8 .1 .5 .2-3.8 .1 .3 .1 4 .2 .1 .1 2.2 .1-1.7 .2-1.6 .1-2.2 .2 9.6 .1-7.1 .1-1.3 .2 .6 .1-4.4 .1 9 .2-6.1 .1 2.3 .1 1.4 .2-7.3 .1 2.9 .1-5.2 .2 7.4 .1-.7 .1 5.6 .2-12.9 .1 9.6 .1-4.3 .2 7 .1-8.4 .1 10.4 .1-3.4 .2-12 .1 1.6 .1 11.5 .2-.7 .1-1.2 .1-3.4 .1-1.7 .2 5.3 .1 2.2 .1-8.6" fill="none" stroke="#BDD7EE" stroke-width="1.4" stroke-linejoin="round"/>
<path d="M258.7 435.6l7.4-3.4 6.7-11.6 6 11.9 5.5 1.4 5.1-.4 4.7 .1 4.4-4 4.1-1.8 3.8 3.1 3.6 2.7 3.4-7.5 3.3 2 3.1 4.7 2.9 4.4 2.8 6.1 2.7 8.1 2.6 .6 2.5-1.7 2.4 .7 2.3-4 2.2 4.4 2.2-5.7 2 1.1 2.1-4.5 1.9 9.4 1.9-.2 1.8 0 1.8 1.3 1.7-8.5 1.7-1.3 1.7 8.4 1.6 .7 1.5-5.2 1.6 3.8 1.5-6 1.4 3 1.4 .3 1.4-2.7 1.4 8.9 1.3-12.9 1.3 10.2 1.3-36.9 1.3 42.2 1.2-6.1 1.2 4.4 1.2 0 1.1-10 1.2 6.2 1.1 2.4 1.1-2.8 1.1 .3 1.1-4.9 1 1.5 1 .1 1 1.6 1 7.2 1-7.3 1 .6 .9-1 1 2.2 .9-3.1 .9-2 .9 10.1 .9-9.7 .9-.1 .8 3.7 .9-3.8 .8 5.3 .9 7.3 .8-12.1 .8 10.8 .8 .8 .8-8.8 .7 1.4 .8 10.4 .8-10.6 .7-10 .7 12.3 .8 2.2 .7-4.7 .7-.1 .7-7.7 .7 2.5 .7 6.2 .7-9.4 .7-2.2 .7 5.8 .6-.4 .7 1.6 .6 5.1 .7 8.4 .6-19.4 .6 12.1 .7 3 .6-5.3 .6-2.4 .6-3.7 .6 4.8 .6 3.2 .6 5.2 .6-8.1 .5-4.1 .6 5.9 .6-8.5 .5 8.2 .6-4.7 .5 8.9 .6-12.9 .5 8.4 .6-3 .5-8.1 .5 9.4 .6-2.6 .5 4.4 .5-3.5 .5 4 .5-3.2 .5-1.7 .5-1 .5 4.4 .5 2.7 .5-7.6 .5 5 .5-.1 .5-2.8 .4 1.5 .5 5.3 .5-7.9 .4 5.6 .5-2.3 .5-1.1 .4-3.5 .5-2.8 .4-1.1 .4 3.1 .5 1.8 .4-2.1 .5 6.9 .4-7 .4-.5 .5 3.1 .4-22.3 .4 22.8 .4-3 .4 4.7 .4-5.6 .5-5.5 .4 2.2 .4 2.5 .4 3.8 .4 5.5 .4-7.7 .4 3.6 .3 2.8 .4 3.2 .4-15.8 .4 3.4 .4 5.2 .4 .9 .4 11.7 .3-12.7 .4 .4 .4-1.8 .3 3.3 .4-3.8 .4 2.1 .3 2.7 .4-3.1 .4-3.8 .3 7.7 .4-5 .3 2.1 .4 4.7 .3-15.3 .4 7.2 .3 4.2 .4-1.6 .3-.5 .3 .7 .4-1.8 .3 3.2 .3 1.4 .4 3.3 .3-4.8 .3 .3 .4-3.7 .3 1.1 .3 2.4 .3-3.7 .4 1.2 .3-.7 .3-4.4 .3 8.7 .3-4.9 .3 1.5 .3 1.2 .4-.4 .3-.1 .3 .6 .3-1.4 .3-2.3 .3 5.3 .3-.9 .3-7.1 .3 1.9 .3 7 .3 1.5 .3-8.8 .3-1.3 .2 8.7 .3-1.6 .3-7.1 .3 4.5 .3 .3 .3-3.8 .3 8.1 .2-7.6 .3 2.9 .3 3.8 .3 3.1 .3-7.4 .2 .7 .3 .8 .3-2 .3 3 .2 1.8 .3-3 .3 1.5 .2-.8 .3 2.2 .3-7.2 .2 1.9 .3 6.1 .3-1.4 .2-3.8 .3 1.5 .2-4.4 .3 .7 .3 3.2 .2-6.6 .3 3.8 .2-11 .3 13.8 .2 3.4 .3 .7 .2-8.2 .3 6.4 .2-3.1 .3-3.8 .2 6.8 .3 2.7 .2-5.1 .2-3.3 .3 1.4 .2-.9 .3 15.8 .2-13 .2-5.1 .3 6.4 .2-4.3 .3 7.5 .2-1.4 .2-3 .3 5.4 .2 2.2 .2-7.8 .3 2.2 .2-6.6 .2 10.2 .2-4.8 .3-5.8 .2 2.5 .2-.6 .2 3.5 .3-1.8 .2 4.2 .2 1.3 .2 1.7 .3-5.9 .2 3.8 .2-3.5 .2-2.2 .2 5.1 .3-3.7 .2 5.7 .2-6.1 .2-2.4 .2 7.9 .2-6.1 .2 5.4 .3-5.8 .2 5.8 .2-5.6 .2 .3 .2 2.7 .2 .5 .2 1.6 .2-6.5 .2 3.1 .2 7.2 .2-11.8 .2 7.6 .2-4.3 .2 8 .3-10.1 .2 .4 .2 4.1 .2-2.8 .2 0 .2 4.8 .2-4.7 .2-1.5 .1 5.2 .2-4.6 .2 3.2 .2 1.4 .2 2 .2-4.3 .2-3.9 .2 5.8 .2 4.5 .2-2.8 .2-3.1 .2-4.9 .2 1.5 .2 2.9 .2 1.4 .1-3.7 .2 4 .2-2.1 .2 4.7 .2-.8 .2-4.5 .2-.6 .1 2.8 .2 2.2 .2 4 .2-10.7 .2 2.4 .2-4.1 .1 5 .2 2.4 .2 3.6 .2-2.5 .2-2.5 .1 2.5 .2-.9 .2-1.6 .2-.4 .2 3.8 .1-.3 .2-2.1 .2-2.9 .2 1 .1-.7 .2 2.6 .2-3.1 .2 5.5 .1 1 .2-1.4 .2-2.3 .1 1.2 .2-2.7 .2 3.2 .2 3.3 .1-7.8 .2 6.6 .2-4.4 .1-6.4 .2 3.6 .2 3.9 .1-3.2 .2-5.3 .2 7.4 .1 .6 .2-.1 .2-4.7 .1-6.1 .2 8.9 .2 4.8 .1-7.5 .2 2.8 .1-3 .2 .4 .2 7.6 .1-2.7 .2 2.3 .1-4.7 .2 .9 .2-5.1 .1 9.9 .2-5.9 .1 1.9 .2 2.1 .2 4.5 .1-9.9 .2-2.9 .1 3.8 .2 .2 .1-5.5 .2-1.1 .1 6.9 .2 .8 .2-1.2 .1-2.8 .2 3.7 .1-2.5 .2-.6 .1 1.4 .2 5.4 .1-.7 .2-5.6 .1-1.3 .2 5.1 .1 2.5 .2-8.4 .1 12 .2-8.2 .1-3.3 .2-.3 .1 .6 .2 7.3 .1-7.1 .2 2.4 .1-.8 .1 6.1 .2-9.7 .1 5.7 .2 1.4 .1-1.2 .2 2.1 .1-3.2 .2 2.8 .1-3.9 .1-2.6 .2 3.1 .1-.9 .2 4.9 .1-6.2 .2 5.7 .1 .1 .1-3.6 .2-4.8 .1 .9 .2 7.4 .1-5.2 .1 4.4 .2 .2 .1-2.9 .2 .4 .1-4.8 .1 6.2 .2 1.1 .1-8.7 .1 13.9 .2-9.4 .1 7.3 .2-6.3 .1 1.8 .1-1.4 .2 .6 .1 1.9 .1-1.2 .2-.3 .1-1.1 .1 3.4 .2 1.3 .1-4.6 .1 4 .2-3 .1 3 .1-5.9 .2-.5 .1 5.1 .1-7.1 .2 7.1 .1-.2 .1-9.1 .1 12.7 .2-1.6 .1-7.6 .1 4.4 .2-3.1 .1-.1 .1 5.2 .1-.3 .2-7.8 .1 3.5 .1 3.4" fill="none" stroke="#F4B183" stroke-width="1.4" stroke-linejoin="round"/>
<path d="M258.7 436.6l7.4 2.6 6.7-15.8 6 7.3 5.5 9.6 5.1-1.9 4.7-9.6 4.4 1.4 4.1 2.4 3.8-4.4 3.6 6.3 3.4-6.5 3.3 3.1 3.1 6.1 2.9-6.3 2.8 3.8 2.7 15.3 2.6-17.6 2.5 3.6 2.4 6.4 2.3 1.4 2.2 1.4 2.2-.3 2-.1 2.1-1.5 1.9-4.7 1.9 12.9 1.8-6.2 1.8-4.9 1.7-.1 1.7 8.4 1.7-9.3 1.6 7.8 1.5-8.5 1.6 2.4 1.5 5 1.4-6.9 1.4-1.3 1.4 2.6 1.4 1 1.3 3.2 1.3-5.3 1.3-23.3 1.3 23.6 1.2 1 1.2 3.3 1.2-5.1 1.1 4.3 1.2-3.2 1.1 .8 1.1-2.7 1.1-.6 1.1 4.1 1 1.9 1-4.9 1 8.5 1-3.7 1-2.1 1 4.6 .9 .5 1-2.2 .9-4 .9 3 .9-.1 .9-.7 .9 1.6 .8-7 .9 15.2 .8-17.3 .9 7.2 .8 2.9 .8-7 .8 5.9 .8-1 .7-3.4 .8 4.4 .8-3.4 .7 2.2 .7 1.3 .8-1.5 .7-7.4 .7 10.4 .7-7.7 .7-1 .7 15 .7-11.1 .7 1.1 .7 10.5 .6-9.1 .7-4.4 .6 5.5 .7-6.4 .6 2.2 .6-.1 .7 2 .6-2.5 .6 1 .6 14.6 .6-10.7 .6-1.8 .6-2.5 .6 6.6 .5-2.7 .6-4.7 .6 4.7 .5-1.6 .6 2.7 .5-2.4 .6 4.5 .5-5.2 .6-.3 .5 1.3 .5-2.9 .6 8.4 .5 1.4 .5-7.6 .5 5.9 .5-6.4 .5-3.7 .5 7.6 .5 1.4 .5-7.3 .5 2.9 .5 8.8 .5-11.4 .5 2.1 .4 .5 .5 2.3 .5-6.9 .4 6.3 .5-8 .5 7.9 .4 3.1 .5-3.5 .4-3.7 .4 4.8 .5-.9 .4-2.2 .5 7.5 .4-.8 .4-9.2 .5 7.3 .4-20 .4 14.2 .4 7.7 .4-.7 .4-2.2 .5 .4 .4-2.7 .4 1.4 .4-7.9 .4 2.1 .4 8.6 .4-7.3 .3 .3 .4 2.2 .4 1.2 .4-5.3 .4 8.5 .4-8.8 .4 2.3 .3-.5 .4 6.1 .4 1.2 .3-1.9 .4 2.6 .4-1.5 .3-5.5 .4 5.8 .4-6.5 .3 8 .4 .1 .3-1.1 .4-8.1 .3 5 .4-1.1 .3 1.6 .4 .1 .3 2.1 .3-1.9 .4 5.1 .3-10.1 .3 1 .4 9.5 .3-4.5 .3-.4 .4 .8 .3-3.1 .3 2.7 .3 2.3 .4 2 .3-6 .3 9.1 .3-5.1 .3-13 .3 11.7 .3-5.2 .4 3.4 .3 2.4 .3-4.1 .3-1.2 .3-2.1 .3 9.3 .3-8 .3 4.4 .3 .4 .3-3.7 .3 .1 .3-1.3 .3 .9 .2 1.9 .3-2.2 .3 3.1 .3 7.3 .3-8.3 .3-.6 .3 7.3 .2-5.6 .3-2 .3 4.3 .3-11.4 .3 4.6 .2 8.4 .3-5.1 .3 1.9 .3-.3 .2-3.3 .3-4.6 .3 8.8 .2-3.1 .3 .8 .3-2.9 .2 4.8 .3-3.3 .3-4.4 .2 7.9 .3-5.6 .2 9.6 .3-3.4 .3-3.5 .2-.5 .3 2 .2-9.2 .3 14.1 .2-3.5 .3 2.1 .2 5.3 .3-14.3 .2 3.2 .3-.4 .2 2.5 .3-1.8 .2 3.6 .2-4.2 .3-5.8 .2 1.5 .3 7.6 .2-2.1 .2-2 .3 5.8 .2-.5 .3 2.9 .2-3 .2-7.2 .3 6.7 .2-14.2 .2 6 .3 8.4 .2-5.3 .2 4.1 .2-1.6 .3 2.9 .2-5.3 .2 7.8 .2-1.9 .3-6 .2-3.2 .2 6.4 .2 5.7 .3 1.7 .2-3.7 .2-4 .2-.6 .2 .9 .3-6 .2 8.9 .2-2.1 .2 1.1 .2-1.1 .2 1.4 .2-3.1 .3 3.6 .2 4 .2-4.8 .2-2.7 .2 .1 .2 2.1 .2-2.3 .2 2.7 .2 2.3 .2 4.7 .2-9.2 .2 7.1 .2-1.5 .2-6.7 .3-3.5 .2 3.9 .2-3.5 .2 9.4 .2-3.3 .2 .9 .2-2.5 .2-1.9 .1 7.1 .2-4.9 .2 1.1 .2-3.6 .2-5.4 .2 9.3 .2-.1 .2-7.5 .2 12.3 .2-4.1 .2 1.9 .2-3 .2-2.1 .2 9.5 .2-18 .1 12.3 .2-.3 .2 2.2 .2-5.9 .2-3.6 .2-3.9 .2 13.7 .1-11.7 .2 10.3 .2-4.7 .2 6.1 .2-4.5 .2-6 .1 3.6 .2-2.3 .2 6 .2-2.6 .2 .6 .1 .3 .2 .8 .2 6.4 .2-8.8 .2 4.6 .1-3.8 .2 6 .2-4.2 .2 .3 .1-8.8 .2 6.1 .2 .9 .2 4.3 .1-1.7 .2-2.8 .2 3.3 .1-.4 .2 1.2 .2-2.7 .2-5.3 .1 1.8 .2 7.5 .2-8.7 .1-2.2 .2 10.2 .2 1.8 .1-4.1 .2-5.9 .2-1.3 .1 5.7 .2 3.1 .2-.5 .1 1.9 .2-6.9 .2 1.4 .1 3.2 .2-5.6 .1 4.1 .2 3.1 .2-2.5 .1-2.4 .2 5.4 .1-3.7 .2-1.8 .2 8.5 .1-3.6 .2-5.9 .1 2.9 .2 3.5 .2 3.3 .1-8.9 .2 2.2 .1 .3 .2 6.3 .1-10.1 .2 2.1 .1 1.5 .2-1.4 .2-1.1 .1 6.5 .2-.9 .1-.5 .2-1 .1-4.4 .2-2.5 .1 4 .2-2 .1 .8 .2 0 .1 4.8 .2-5.7 .1-1.3 .2 10.7 .1-8.6 .2 .3 .1 .2 .2 4.7 .1-3.3 .2-1.9 .1-2.8 .1-.4 .2 11.1 .1-12.2 .2 2.6 .1-1.8 .2-.8 .1 6.2 .2-3.4 .1 8.1 .1-3.2 .2-3.5 .1 1.8 .2-1.8 .1 5.7 .2-.1 .1-6.9 .1 2.1 .2 3 .1-6.3 .2 0 .1 4.3 .1-7.3 .2 6.2 .1 4.3 .2-10.7 .1 12.2 .1-4.2 .2-1.8 .1 3.4 .1-6.8 .2 4.2 .1-3.6 .2 4.2 .1 2 .1-1.3 .2-4 .1 .2 .1 1.2 .2-4.9 .1 5.3 .1 2.3 .2-8.1 .1 4.6 .1-3 .2 7 .1-3.6 .1-3.1 .2 4.7 .1 .6 .1-4.6 .2 6.4 .1-2.1 .1 1.2 .1 0 .2 3.2 .1-9 .1 10.4 .2-7.8 .1 4 .1 .4 .1 4.6 .2-3.9 .1-3.2 .1 7.3" fill="none" stroke="#A5A5A5" stroke-width="1.4" stroke-linejoin="round"/>
<path d="M258.7 451.6l7.4-22.3 6.7-5.4 6 2 5.5-4.8 5.1 9.6 4.7-4.7 4.4 1.4 4.1 8.2 3.8-13.5 3.6 2.5 3.4 2 3.3 1.7 3.1 10.7 2.9-2.4 2.8-1.2 2.7-7.5 2.6 6.9 2.5 12.3 2.4-7 2.3-4.1 2.2 6.4 2.2 4.2 2-2.8 2.1 5.6 1.9-11 1.9 4 1.8-8.7 1.8 6.3 1.7 0 1.7 2.2 1.7-.8 1.6-10.2 1.5 5.1 1.6 9.4 1.5-9.1 1.4 5.3 1.4 .3 1.4-3.2 1.4-4.8 1.3 8.8 1.3-3.4 1.3-27.5 1.3 41.2 1.2-20.4 1.2 7.5 1.2 10.5 1.1-12.3 1.2 3.4 1.1-4.2 1.1 3.3 1.1-7.2 1.1-.3 1 5.9 1 9 1 4.6 1-13.4 1-1.8 1 3.5 .9-4.1 1 2.6 .9-.3 .9 1.1 .9-3.6 .9 10.2 .9-9.8 .8 6.4 .9 1.4 .8-8 .9-1.3 .8 6.4 .8 6.1 .8-13.6 .8 .8 .7-4.6 .8 12.9 .8-.8 .7-14 .7 4.3 .8 11.6 .7-5.2 .7 10.3 .7-10.4 .7-4 .7 7.7 .7-6.7 .7 0 .7-.1 .6-.6 .7 15.9 .6-10.4 .7 3.8 .6-8.7 .6-2.3 .7 3.4 .6-7.9 .6 8.3 .6 10.1 .6-7 .6-.8 .6-1.2 .6-1.3 .5 7.3 .6-3.9 .6-2.4 .5 3.9 .6 .3 .5 1.5 .6 7.8 .5-10.2 .6 2.6 .5-6.2 .5 8.6 .6-9.8 .5 6.2 .5-4.9 .5-1.1 .5 3.5 .5 2.8 .5-8.5 .5 6.2 .5 6.3 .5-9.1 .5 8.1 .5-1.7 .5-1.3 .4-2.2 .5 .9 .5 4.8 .4 .2 .5-6.8 .5-1.9 .4 6.4 .5-9.5 .4 7.7 .4 1.5 .5 1.1 .4-8.2 .5 4.3 .4 3.8 .4 1 .5 1.7 .4-23.4 .4 16 .4-3.3 .4 10.8 .4-9.7 .5 1.5 .4 7.7 .4-2.3 .4 0 .4-4.6 .4 7.8 .4-10.2 .3 .2 .4 2.4 .4 5.1 .4-7.7 .4 4.7 .4-4.6 .4 3.9 .3 1.7 .4-.1 .4-3.5 .3 .1 .4 4.5 .4-8.8 .3 7.3 .4-1.5 .4-.9 .3-3.1 .4 10 .3 3.8 .4-5.5 .3 1.9 .4-7.2 .3 1.7 .4 1.8 .3 4.9 .3-5.8 .4 1.2 .3 .8 .3 1.5 .4-3.5 .3 .9 .3-2.6 .4 1.9 .3-3.5 .3-2.9 .3 2 .4 2 .3 6.4 .3-2.4 .3-6.6 .3 1.6 .3 3.7 .3 .7 .4 5.1 .3-3.7 .3 .9 .3-2.2 .3 1 .3-5.1 .3 3.2 .3 2.6 .3 5.1 .3-7.4 .3 .4 .3 2.9 .3-6.1 .2 .2 .3 .8 .3 4.7 .3 1.5 .3-11.7 .3 4.7 .3 6.9 .2-4.8 .3 7.1 .3 4 .3-12.2 .3 .1 .2 5.1 .3-8.8 .3 3.3 .3 4.5 .2-1.9 .3 4.3 .3-2.1 .2-3.6 .3-1.4 .3 1.6 .2 2.9 .3 4.2 .3-1.9 .2-8.2 .3 1.5 .2 6.1 .3-3.6 .3 2.9 .2 0 .3-4.1 .2-9.4 .3 7.5 .2 2.7 .3 3.1 .2-8.4 .3 7.9 .2-3.6 .3 3 .2-4.9 .3 4.2 .2 .8 .2-4.3 .3 .7 .2 3.8 .3-4.4 .2-2.2 .2 7.3 .3 5.3 .2-4.1 .3-1 .2-8.9 .2 9.9 .3-.2 .2-4 .2 5.2 .3-2.7 .2-6.2 .2 5.4 .2 .2 .3-3.2 .2 2.6 .2 4.6 .2-9.1 .3 9.4 .2-2.5 .2 2.2 .2-2.9 .3-2.2 .2-6.2 .2 7.1 .2-8.3 .2 7.5 .3 4.5 .2-7.3 .2-2.1 .2 9.6 .2-3.9 .2 2.8 .2-7.9 .3 6.1 .2 2.1 .2-2.9 .2-5.4 .2 1.1 .2 2.3 .2 4.4 .2-6.5 .2-.6 .2 5.7 .2-.9 .2-3.5 .2-.9 .2 .9 .3-1.5 .2-.8 .2 2.3 .2 .2 .2 7.4 .2-5.5 .2 3.8 .2-3.7 .1-2.5 .2 2 .2 3.7 .2-8.4 .2 .2 .2 4.1 .2-2.4 .2 8.4 .2-4.1 .2-7.2 .2 .4 .2 2 .2 10.7 .2-9 .2 6.8 .1-5.1 .2-3.9 .2 3.5 .2-1.3 .2 1.9 .2 6 .2-2.9 .1-1.6 .2 2 .2-6.4 .2 2.2 .2 3.2 .2-7.4 .1-1.9 .2 2.2 .2 2.5 .2-3.4 .2 4 .1 4.4 .2-4.6 .2 2.6 .2-1.3 .2 8 .1-6.7 .2-8.1 .2 7.3 .2 1.9 .1-.2 .2-2 .2-8.4 .2 7.4 .1-3.9 .2 6.7 .2-3.6 .1 6 .2-10.1 .2 6.9 .2 .3 .1-1.7 .2-7.3 .2 11.7 .1-6.3 .2 5.8 .2-4.4 .1 5 .2-8.7 .2-1.7 .1 8.2 .2 5.5 .2-1.6 .1-1.1 .2-7 .2 3.1 .1 1.4 .2-.4 .1-3.3 .2-1.8 .2 1.5 .1 1.2 .2-.6 .1 4.7 .2 .2 .2-2 .1-.8 .2-1.3 .1 3.4 .2-3 .2-.2 .1-2.1 .2 .4 .1 .7 .2 .6 .1 6.7 .2-3.6 .1-2.5 .2-.1 .2 4.3 .1-9.5 .2 1.3 .1 5.8 .2-6.6 .1 11.5 .2-10.4 .1 3.2 .2 2.5 .1 1.8 .2-4.8 .1 4.3 .2-3 .1 1.9 .2-6.2 .1 11.6 .2-9.7 .1 2.4 .2-3.1 .1-.4 .2 13.8 .1-10.4 .1 3.5 .2-2.8 .1-.4 .2-2.7 .1-.9 .2 6.8 .1-11 .2 6.6 .1-.5 .1 3.3 .2-.3 .1-7.7 .2 10.1 .1-7.1 .2-.8 .1 .7 .1 2.2 .2 .9 .1 6.2 .2-2.4 .1-4.2 .1-1.1 .2-1.6 .1 .1 .2 1.1 .1 2 .1-5.8 .2 4.6 .1-.7 .1-4.9 .2 7.7 .1 2 .2-5.6 .1 2.8 .1-4 .2 7.4 .1-1.2 .1-4.7 .2 1.4 .1 3.3 .1-5.5 .2 3.8 .1-.7 .1-2 .2-3.3 .1 1.7 .1 7.6 .2 .3 .1-4 .1 5.9 .2-5.7 .1-.3 .1-2 .1 3.1 .2 1.8 .1-1.8 .1-.4 .2-9.3 .1-1.1 .1 11.8 .1-5 .2 1.8 .1-.1 .1 .3" fill="none" stroke="#ED7D31" stroke-width="1.4" stroke-linejoin="round"/>
<path d="M258.7 440.1l7.4-4.3 6.7 4.7 6-7.5 5.5 2.4 5.1 2.6 4.7-2.4 4.4 7.4 4.1-11.2 3.8-.7 3.6 7.6 3.4-10.2 3.3 3.8 3.1 3.3 2.9 7 2.8-11.1 2.7 8.7 2.6-4.6 2.5-4.7 2.4 3.6 2.3-3.8 2.2 4.3 2.2-2.7 2 8.8 2.1-4.5 1.9-1 1.9 2.9 1.8-2.8 1.8 .7 1.7 2.5 1.7-.4 1.7-.1 1.6-5.9 1.5 .6 1.6-7.5 1.5 5.2 1.4 8.1 1.4 1.7 1.4-5.8 1.4-6.7 1.3 7.6 1.3-9.8 1.3-21.8 1.3 29.7 1.2 .5 1.2 5.5 1.2-5.9 1.1-.8 1.2-2.6 1.1 3.1 1.1 4.5 1.1 4.9 1.1-10 1-1.2 1 3.8 1-8.7 1 10.4 1 2 1-2 .9-.4 1-7.1 .9-.4 .9 6.4 .9-1.6 .9 1 .9 3.3 .8-1 .9 .7 .8-3.3 .9 5 .8-11.1 .8 9.2 .8-3.8 .8-.2 .7 2.4 .8-.6 .8 1.8 .7-3.8 .7-2.6 .8 4.9 .7 8.1 .7-13.3 .7 2.4 .7-3.8 .7 1.7 .7 2.4 .7-2.4 .7 6 .6 1.9 .7-12.6 .6 9.5 .7-6.7 .6 9.1 .6-5.3 .7 1.7 .6-2.6 .6 6.7 .6-4.9 .6 1.9 .6 2.7 .6-2.1 .6-3.6 .5 4.4 .6-8.7 .6 .5 .5 6.6 .6 2.7 .5-10.8 .6 3.6 .5 4.2 .6 6 .5-3.8 .5-9.3 .6 11.3 .5-4.5 .5 3.6 .5 .9 .5-9.5 .5 13 .5-7.2 .5 7 .5-4.6 .5 2.9 .5 3.3 .5-5.1 .5-1.1 .4-1.1 .5-5.2 .5 2.1 .4 5.8 .5 2.2 .5-3.7 .4 4.4 .5-1.1 .4-.9 .4-2.1 .5 2.4 .4-6.7 .5 9.3 .4-8.3 .4 7.1 .5-9.1 .4-11.2 .4 14.7 .4 4.9 .4-4.8 .4 4.8 .5-9 .4 8.2 .4 6.5 .4-5.5 .4-.3 .4 4.8 .4 .5 .3-12.2 .4 5.3 .4 6.7 .4-5.3 .4 2.8 .4-10.5 .4 2.6 .3 6.4 .4-3.4 .4-1.7 .3 7.6 .4-6.5 .4 1.5 .3-6.1 .4 4.4 .4 1.3 .3 .8 .4 4.2 .3 1.9 .4-5.5 .3-2.1 .4 7.4 .3-7.1 .4-.8 .3 4 .3 4.4 .4 0 .3-.1 .3-.3 .4-1.8 .3-4.5 .3 2.4 .4 3.6 .3-.2 .3 1.1 .3-5.6 .4 2.3 .3 1.2 .3-.5 .3 .1 .3 .2 .3 1.3 .3-1.6 .4-3.7 .3-2.9 .3 8.6 .3-6.9 .3 4.6 .3 .4 .3-4.5 .3 6.6 .3-2.9 .3-1.1 .3-3 .3 1.9 .3 6.1 .2-1.5 .3-.2 .3-5.6 .3 4.2 .3 4.4 .3-10.8 .3 9.9 .2-3 .3-6.7 .3 8.8 .3-3.9 .3-8.4 .2 10.9 .3 3.6 .3-4.4 .3-4.5 .2 2.5 .3-4.5 .3 11.9 .2-10.3 .3 11.6 .3-9.3 .2 1.2 .3-6.9 .3 3.8 .2-.8 .3 3.9 .2 3.5 .3-7.4 .3 8 .2-7.7 .3 1.4 .2-12.2 .3 15.2 .2-6.7 .3 12 .2-6.3 .3 6.9 .2-2.7 .3-12.1 .2 10 .3-1.3 .2-4.2 .2 3.4 .3-3.9 .2-5 .3 8.5 .2-3.6 .2 2.8 .3-4.1 .2 2.7 .3-1.2 .2 4.8 .2-2 .3-.5 .2-3.9 .2 .1 .3 9.7 .2-7 .2 1.9 .2 6.4 .3-10.3 .2 7.1 .2-5.6 .2 4.1 .3-3.3 .2 3.2 .2-2.9 .2 2.9 .3-5.3 .2-.4 .2 5.7 .2-6.4 .2 5.8 .3-4.6 .2 8.9 .2-1.4 .2 5.5 .2-11 .2 5.3 .2-10.8 .3 7.5 .2 2 .2-10.3 .2 1.7 .2 11.4 .2-4.1 .2 3 .2 4.4 .2-7.9 .2-6.8 .2 7.5 .2-2.8 .2 5.6 .2-10.1 .3 8.6 .2-8.7 .2-2 .2 4.7 .2 2.7 .2-3.3 .2 3.3 .2-3.3 .1-.6 .2 2.5 .2 3.5 .2-1.4 .2 2.2 .2-2.3 .2 1.9 .2-2.4 .2 6.6 .2-10.1 .2 5.4 .2-.4 .2-2.7 .2 3.5 .2-5.4 .1 7 .2-5.7 .2-8.1 .2 11.6 .2-3.2 .2 1 .2 4.3 .1-5.8 .2 3.3 .2-3.8 .2 6.5 .2-9.6 .2 5.2 .1 5.8 .2-1.3 .2-.7 .2-4.3 .2-4.3 .1 5.5 .2-.7 .2 5 .2-.7 .2-3.8 .1-1.3 .2 5.6 .2 2.8 .2-3.6 .1-4.3 .2 4.1 .2-2.6 .2 5.2 .1-6.7 .2 3.4 .2-3.6 .1-5.4 .2 5.3 .2 2.4 .2-12.4 .1 15.3 .2-.3 .2-.1 .1-2.3 .2-3.9 .2 7.5 .1-2.4 .2-.9 .2-4.5 .1-.5 .2 1.9 .2-.2 .1 4.6 .2-10.1 .2 3.6 .1 2.6 .2-2.5 .1 5.6 .2-4.2 .2 7 .1-.8 .2-2.4 .1 1 .2-10.6 .2 12.3 .1-2.6 .2 5.3 .1-6.2 .2 .7 .2 2.6 .1-5.4 .2 8 .1 4.2 .2-6.3 .1-3.1 .2-2.2 .1 5.2 .2-.3 .2-9.3 .1 6.9 .2 .5 .1 0 .2 .6 .1-2.4 .2 1.7 .1-3.8 .2 2.6 .1 8.2 .2-11.6 .1 3.6 .2-1.2 .1 6 .2-4.5 .1 1.5 .2-2 .1 2.1 .2 .4 .1 .1 .2-2.5 .1 2.9 .1-5.1 .2 4 .1-.4 .2 .4 .1 4.4 .2-9.3 .1 6.7 .2-9.8 .1 4.9 .1-1.4 .2 0 .1 .8 .2 1.5 .1-.1 .2 1.3 .1-4.5 .1 3.1 .2 4.1 .1-2.6 .2 4.4 .1-.9 .1-4.9 .2 1.1 .1-.6 .2 8.3 .1-11 .1 6.2 .2-2.3 .1-3.4 .1 .4 .2 3.3 .1 .3 .2-.2 .1-1.4 .1-6.3 .2 9.5 .1-5.4 .1-.6 .2 6.3 .1-12.2 .1 6.7 .2-3.8 .1-1.2 .1 11.3 .2-7.2 .1-5.3 .1 8.4 .2 1.7 .1 .5 .1 4.8 .2-9.5 .1-.1 .1-6.5 .1 9.9 .2-4.3 .1-3.4 .1 10.6 .2 .3 .1-8.7 .1 4 .1 9.6 .2-10.9 .1-3 .1 1.6" fill="none" stroke="#C55A11" stroke-width="1.4" stroke-linejoin="round"/>
<path d="M258.7 446.4l7.4-1.1 6.7 7.2 6-14.1 5.5 8.4 5.1 3.1 4.7-5.7 4.4 .9 4.1 3.2 3.8-11.4 3.6 10 3.4-5.2 3.3-.9 3.1 5.5 2.9 8.4 2.8-9 2.7-3.2 2.6 8.1 2.5-14.6 2.4 6 2.3 12.2 2.2-2.6 2.2-9.1 2 7.3 2.1-7.9 1.9 10.3 1.9-1 1.8-2.6 1.8-10.9 1.7 6.8 1.7-1.7 1.7 5.4 1.6-1.6 1.5 1.2 1.6-2.2 1.5-6.7 1.4 6.8 1.4 2.6 1.4-8.1 1.4 6.5 1.3 4.9 1.3-6.2 1.3-34.4 1.3 35.2 1.2 13.1 1.2-10.8 1.2 4 1.1-5.7 1.2 3 1.1-7.3 1.1-.9 1.1 13.8 1.1-7.5 1-2.9 1 8.2 1-.9 1 1 1-3 1 4.2 .9-8.5 1 1.8 .9-4.8 .9 .2 .9 6.2 .9-.6 .9 .1 .8 3.3 .9-6.7 .8 4.7 .9-1.1 .8 4.7 .8-1.7 .8-1.9 .8 3 .7-6.8 .8-4.1 .8 3.1 .7 5.5 .7-4.1 .8 2.2 .7 4.3 .7-10 .7 3 .7 3.6 .7-6.4 .7 2.2 .7-2.8 .7-.9 .6 10 .7-5.2 .6 6.5 .7 6.6 .6-18.7 .6 7.1 .7-2.2 .6 4 .6 .3 .6-6.4 .6-3.2 .6 6.3 .6-.8 .6 5.6 .5-4.3 .6 2.6 .6 .3 .5 1.4 .6-2 .5-2.6 .6 1.9 .5-6.7 .6 12.2 .5-7.9 .5 5 .6-7.6 .5 3.5 .5 .8 .5-4.4 .5 7.2 .5-2.7 .5 1 .5-7 .5 5 .5-1.7 .5 5 .5-3.8 .5-1.7 .4-1.6 .5-1.6 .5 4.7 .4 .6 .5-1.1 .5 2.2 .4-6.5 .5 8.1 .4-.9 .4-6.6 .5 5.3 .4-.8 .5-4.7 .4 2.3 .4-4.5 .5 8.5 .4-24.8 .4 22 .4 2.7 .4-5.3 .4 7.8 .5-3.3 .4 7.5 .4-7.9 .4 6.9 .4-9 .4 2.9 .4-2.8 .3 4.5 .4 0 .4-3.3 .4 7.1 .4-3.8 .4 0 .4-2.1 .3-2.2 .4 .7 .4-2.4 .3-.8 .4-.3 .4 8.5 .3 5.9 .4-9.2 .4-4.5 .3 2.7 .4 3.1 .3-2.1 .4 2.9 .3-1.2 .4-1.3 .3 4.7 .4-4.7 .3 3.6 .3-.6 .4-3.7 .3-3 .3-2.4 .4 1.9 .3 4.2 .3-2.3 .4 2.6 .3 .8 .3 0 .3-3.4 .4-.1 .3 6.4 .3 2.1 .3-8.8 .3-1.7 .3 2.8 .3-1.9 .4-1.9 .3 7.4 .3-6.2 .3 2.2 .3 5.4 .3 2.9 .3-2.1 .3-7.6 .3-1.5 .3 5.6 .3 1.4 .3-6.6 .3 5.4 .2 6.3 .3-8.5 .3 4 .3-3.4 .3-4.8 .3 9 .3-3.6 .2-.2 .3-5 .3-.6 .3 5.6 .3-2.4 .2-.5 .3 6.7 .3-3 .3 3 .2-1.9 .3 .6 .3 7.3 .2-9.3 .3-4.7 .3 2.9 .2-.2 .3 5.7 .3-5 .2 0 .3-3.2 .2 4.5 .3-4.3 .3 4.1 .2-2.3 .3 1.8 .2-17 .3 10.5 .2 5.4 .3 1.3 .2 5.5 .3 2.4 .2-8.4 .3 .7 .2 5.2 .3 .5 .2-5.6 .2-5 .3 2.1 .2 5.8 .3-2.1 .2-5.5 .2 5.1 .3-6.9 .2 12.4 .3-8.1 .2-4.4 .2 6.7 .3-5.9 .2 3.7 .2 9.1 .3-3.1 .2-6.9 .2 3.8 .2-3.1 .3 6.5 .2-8.2 .2-5.1 .2 11.7 .3-4.4 .2-3.9 .2 5 .2 0 .3 2.2 .2 1.3 .2 .2 .2-1.8 .2-5.4 .3 1.8 .2-1.2 .2 8.3 .2-6.2 .2-4.2 .2 9.4 .2-3.8 .3 3.6 .2-1.3 .2-2.2 .2 1.6 .2 3.2 .2-11.8 .2 6.9 .2-.2 .2-4.9 .2 11.6 .2-6.4 .2-.7 .2 8 .2-10.1 .3-.3 .2 5.3 .2-1.5 .2-5.9 .2 6.1 .2-.8 .2-.9 .2 4.6 .1-4.3 .2-2.7 .2-2.2 .2 7 .2-10.8 .2 13 .2-4.9 .2 .8 .2 1.4 .2-4.3 .2 .3 .2 6.4 .2-1.3 .2-5.7 .2 3 .1-.7 .2-2.7 .2 1.5 .2-.1 .2 2.1 .2 .8 .2-1.1 .1-5.2 .2 6.7 .2-7 .2 9.2 .2-6.2 .2 5.3 .1-2 .2-2.1 .2 2.7 .2 3.2 .2-5.9 .1 7.5 .2-6.6 .2-3 .2-.8 .2 2.4 .1-1.6 .2 2.5 .2-1.5 .2 0 .1 .3 .2-4.8 .2 8 .2 1.1 .1-3.9 .2 3.7 .2-4.8 .1 5.5 .2-2.4 .2-4.6 .2 10.7 .1-2.9 .2-6.8 .2 5.6 .1-6.8 .2 5.9 .2-2.4 .1 5.3 .2-6.6 .2 1.3 .1-1.2 .2-4.7 .2 3.4 .1-2.9 .2 11.4 .2-6.4 .1 2.3 .2-1.3 .1-4.4 .2 7.2 .2-3.3 .1 3.5 .2-12.1 .1 14.9 .2-2.8 .2-2.8 .1-5.4 .2 .3 .1 12.9 .2-5.5 .2 4.3 .1-4.3 .2-2.2 .1-2.4 .2-3.9 .1 3 .2 9.1 .1-6.2 .2-3 .2 1.6 .1 3.3 .2-1.2 .1-3 .2 8.9 .1-6.1 .2-1 .1 3.1 .2 2.7 .1-4.4 .2-2.5 .1-1.5 .2 2.9 .1-5 .2 3.3 .1 2.6 .2 6 .1-10.5 .2 7.6 .1-3.3 .2 4.5 .1-6.2 .1-3.9 .2 6.8 .1 5.9 .2-7.4 .1 3.9 .2-1.4 .1-.6 .2 1.9 .1-7 .1 1.5 .2 8 .1-3.3 .2 .2 .1 .3 .2-8.6 .1 5.9 .1-6.1 .2 9.1 .1-9 .2 7.4 .1 2.2 .1-5.9 .2 2.9 .1-2.9 .2 10.4 .1-3.1 .1-4.8 .2 .9 .1-2.5 .1 4.2 .2-.8 .1-2.9 .2 .6 .1 2.1 .1-7.4 .2 5.7 .1-2.6 .1 3.9 .2-1.7 .1-1.1 .1-1.5 .2 4.7 .1-5.4 .1 7.1 .2-1.9 .1-5.7 .1 5.2 .2 1.6 .1-3.7 .1 3.2 .2 1.6 .1-.7 .1-.3 .1-2.5 .2-2.1 .1 4.5 .1 3.5 .2-4.6 .1 .9 .1-2.8 .1-1.6 .2-1.6 .1-3 .1 5.7" fill="none" stroke="#FFD966" stroke-width="1.4" stroke-linejoin="round"/>
<path d="M258.7 447.1l7.4-1.6 6.7-1 6-1.9 5.5-.3 5.1-5 4.7 6.9 4.4 1 4.1-3.1 3.8 3.6 3.6-1.9 3.4-6.3 3.3 9.6 3.1-3.8 2.9 2.3 2.8-6.1 2.7-4.4 2.6 1.2 2.5 9.2 2.4-2.3 2.3-.6 2.2-1 2.2 .5 2 3.6 2.1-4.8 1.9 13 1.9-14.4 1.8 5.3 1.8 .8 1.7-5.6 1.7 5.4 1.7-5.6 1.6 3.5 1.5-4.2 1.6 4 1.5 4.1 1.4-8.3 1.4 9.7 1.4-8.8 1.4 9.7 1.3-9.6 1.3 11.9 1.3-36.6 1.3 27.3 1.2 1.5 1.2-2.1 1.2 6.8 1.1-.5 1.2-9.8 1.1 1.5 1.1-5.2 1.1 7.2 1.1-5.5 1 9.6 1-7.9 1 7.3 1 .6 1 2.2 1-4.7 .9 .4 1-1.8 .9 .9 .9 7.5 .9-11.7 .9 4.7 .9 6 .8-2.7 .9-3.8 .8 7.1 .9-8.6 .8-1.2 .8 2.6 .8 9 .8-10.3 .7 2.1 .8 5.7 .8 6.1 .7-10.3 .7-5.9 .8 1 .7-8.4 .7 19.1 .7-3.6 .7-5.4 .7 3.5 .7-3 .7 4.9 .7-7.2 .6-3.9 .7 2.2 .6 2.4 .7 5.1 .6-8.1 .6-1.5 .7 12.5 .6-3 .6-11 .6 15.9 .6-3.6 .6-6.8 .6 3.9 .6-2.4 .5-.1 .6-2.9 .6 10.1 .5-10 .6 6.8 .5-8.3 .6 7.5 .5 .9 .6-4.7 .5 5.2 .5-11.3 .6 13.5 .5 2.9 .5-9.9 .5 2.6 .5 1.2 .5 1.5 .5-3.4 .5 1.9 .5 3.7 .5-2.2 .5-1.5 .5 .2 .5-4.7 .4 .3 .5 7.5 .5-7.4 .4 8.4 .5 .8 .5-6.5 .4 3.8 .5 .4 .4-1.8 .4 1.6 .5-8.6 .4 5.6 .5-3.6 .4 11.1 .4-11.9 .5 5.5 .4-21.1 .4 23 .4-7.5 .4 6.3 .4-3.9 .5-1 .4 .9 .4 .4 .4-.2 .4 7.2 .4-7.1 .4 1.3 .3 .9 .4-.3 .4-.2 .4 6 .4-2 .4-2.2 .4 .2 .3-2.4 .4 5.7 .4-9.8 .3 7.6 .4 3.2 .4-5.4 .3 4 .4-5.2 .4-2.2 .3 6.5 .4-2.8 .3-8.3 .4 10.5 .3-1.7 .4-2.7 .3 4.4 .4-.7 .3 .1 .3 .3 .4-1.7 .3-1.3 .3 1.9 .4 3.5 .3-7.8 .3 6.8 .4 4.5 .3-11 .3 4.9 .3-2.5 .4-2.9 .3 4.5 .3 5.7 .3-2.4 .3-3.6 .3-3.2 .3 3.3 .4 .8 .3-6.5 .3 12.4 .3-2.9 .3-1.9 .3 .8 .3-1 .3-4.5 .3 4.9 .3-2.4 .3-3.7 .3 1.6 .3 1.5 .2 2.7 .3 .6 .3 6.2 .3-3 .3-.6 .3-10 .3 3.3 .2 4 .3-4.9 .3 6.4 .3-.1 .3-1.7 .2-.7 .3-1.3 .3 4.6 .3-4.8 .2-1.6 .3 0 .3 .2 .2 4.6 .3-4.5 .3 3.8 .2-6.8 .3 2.3 .3 1.8 .2 2.1 .3 3.7 .2-10.3 .3 9.5 .3-7.8 .2 3.3 .3 2.9 .2-14.6 .3 13.4 .2 1.5 .3 1.3 .2-4.5 .3-3.8 .2 6.8 .3-3.2 .2 2.6 .3 1.9 .2-5.3 .2 6.9 .3-7.4 .2 0 .3 .8 .2 6.1 .2-11 .3 10.9 .2-7.8 .3 2.7 .2 1.7 .2-6.3 .3 6.1 .2 1.4 .2-9 .3 6.4 .2-.2 .2 6.7 .2-10.6 .3 6.1 .2-.4 .2-7.6 .2 3.8 .3 .2 .2-6.1 .2 10.5 .2 1.8 .3-7.4 .2 .3 .2-3.7 .2 10.9 .2-9.1 .3 1.6 .2 1 .2-3.5 .2 7.2 .2-3.6 .2 5.3 .2-4.2 .3 2.1 .2-1.3 .2 2.3 .2-3.8 .2 5.4 .2-7 .2-2.8 .2 7.5 .2-6.6 .2 8.4 .2-12.9 .2 11.7 .2-2.6 .2 2.7 .3-5.8 .2 2.8 .2 2.1 .2 7.9 .2-3.4 .2-.7 .2 .9 .2-3.4 .1-4.7 .2-2.5 .2 12.5 .2-14 .2-1.1 .2 1 .2 8.8 .2 0 .2-2.1 .2-4.3 .2 6.4 .2-8.9 .2 9.7 .2-2.3 .2-9.6 .1 9.8 .2 3 .2-5.7 .2 4.2 .2-3.9 .2-.3 .2-.2 .1-1.7 .2 7.2 .2-.6 .2-1.1 .2-3.3 .2 1.5 .1 9.9 .2-5.9 .2-2.2 .2 .5 .2 3.8 .1-7.9 .2 5.2 .2-3.4 .2 3.5 .2-9.4 .1-2 .2 13.4 .2-12.6 .2 4.1 .1-.9 .2 .8 .2 3.2 .2-.9 .1-2.1 .2-1.2 .2 6.7 .1-2.8 .2-1.6 .2 15.1 .2-11.8 .1-8.1 .2 3.4 .2 4.3 .1-8.7 .2 7.9 .2-9 .1 12.2 .2 1.3 .2-2.4 .1-10 .2 .8 .2-2.5 .1 3.6 .2-3.2 .2 .2 .1 7 .2 2.8 .1-4.3 .2 8 .2-.6 .1-8.2 .2 7.1 .1 .8 .2-2.5 .2 .8 .1-.4 .2 1.6 .1-4.6 .2 1.7 .2 1.1 .1-4.8 .2 1.6 .1-4.3 .2 7.2 .1 .6 .2 4.8 .1-6.4 .2 6.1 .2-7.4 .1-.6 .2 2 .1-3.8 .2 2 .1 3.5 .2-.2 .1 2.5 .2-9.9 .1 2.3 .2 4.4 .1-.6 .2-2.3 .1 5.7 .2-5.4 .1-.1 .2 7.4 .1-3.5 .2-9.5 .1 11.2 .2 .3 .1-8.7 .1 2.5 .2-6.6 .1 13.7 .2-11.4 .1 6.2 .2-2.3 .1 3.4 .2-4.4 .1 .9 .1 1.3 .2 .1 .1-.3 .2 1.4 .1-2.2 .2 8.1 .1-9.3 .1 .7 .2 1.6 .1-6.2 .2 4.1 .1 1.8 .1 1.1 .2-7.4 .1 7.4 .2 4.2 .1-1 .1-3.8 .2-1.4 .1 2.4 .1 7.3 .2-12.5 .1 1.2 .2 4.8 .1-4.2 .1 5.7 .2-6.9 .1 0 .1 4.2 .2 2.9 .1-2.5 .1-2.8 .2 1.2 .1 1.7 .1-2.7 .2 .4 .1-6.5 .1-.1 .2 7.3 .1 7 .1-12.6 .2 7.1 .1 .3 .1-7.2 .1 5.9 .2 .4 .1 0 .1-3.7 .2 2.6 .1 1.4 .1 1.2 .1-8 .2 7.6 .1-.4 .1-2.4" fill="none" stroke="#F4B183" stroke-width="1.4" stroke-linejoin="round"/>
<path d="M258.7 450.2l7.4-7.5 6.7-2 6 2.8 5.5 2.2 5.1-5.7 4.7 2.9 4.4-5.6 4.1 2.1 3.8 .4 3.6 3 3.4-.2 3.3-4.8 3.1-3.6 2.9 7 2.8 4.7 2.7-7.5 2.6 0 2.5 3.6 2.4 1.1 2.3-7.5 2.2 16.3 2.2-5.7 2-5.7 2.1-2.7 1.9 2.2 1.9-6.9 1.8 12.1 1.8-2 1.7 6.4 1.7-1 1.7 .7 1.6 3.3 1.5-5.3 1.6-9.1 1.5-4.5 1.4 12.6 1.4-10.9 1.4 7.5 1.4-2 1.3 .4 1.3-3.4 1.3-30.8 1.3 27.9 1.2 12.3 1.2-12.4 1.2 3.2 1.1 .1 1.2 7.2 1.1-3 1.1-.5 1.1-.5 1.1 7.1 1-3.7 1-6.3 1 4.2 1-8.2 1 4.4 1 4.6 .9 3.1 1-3.5 .9-1.6 .9 2.1 .9 3.5 .9-.8 .9-6.4 .8-.4 .9 5.7 .8-5.2 .9-6.8 .8 11.1 .8-4.3 .8 6 .8 .3 .7-9.9 .8 5.1 .8 5.3 .7-4.2 .7-4.3 .8 5.9 .7-9.8 .7 7.5 .7 3.2 .7-1.3 .7 .3 .7-2.2 .7 .2 .7 5.5 .6-4.5 .7-2.2 .6 7.7 .7-10.2 .6 4.1 .6-4.2 .7 3.7 .6 2.5 .6 2.6 .6-5.2 .6 2.5 .6-1.6 .6-4.8 .6-3.5 .5 4.3 .6 4.1 .6 3.8 .5-7.6 .6 2.4 .5-2.3 .6 3.4 .5-.5 .6 4.8 .5-6.2 .5-3.2 .6 6.7 .5 3.6 .5-6.4 .5-5.3 .5 8.7 .5-7.1 .5 6 .5-2.4 .5-3.4 .5 9.9 .5-3.5 .5-4 .5 1.3 .4 4.1 .5-6.2 .5 1.4 .4-.8 .5-.4 .5 4.7 .4-3.7 .5 3.6 .4 1 .4-1.7 .5 .8 .4-4.2 .5 5.4 .4-5.6 .4 1.3 .5-3.5 .4-23.4 .4 23.4 .4 8.6 .4-8 .4 5.1 .5 .5 .4 1.6 .4-.7 .4-1.3 .4 2.9 .4-1.7 .4 3.2 .3-1.7 .4-5.3 .4 4 .4 9.7 .4-12.7 .4-8.4 .4 4.9 .3 1.7 .4-1.2 .4 7.6 .3-5.7 .4-.3 .4 4.9 .3-5.3 .4 7 .4-5.8 .3-1.5 .4-4.4 .3 16 .4-14.3 .3 9.3 .4-7.4 .3 5.8 .4-8.1 .3 2.1 .3 8.4 .4 .1 .3-3.1 .3-5.2 .4 7.1 .3-4.4 .3 3.2 .4 .6 .3 1.5 .3 3.8 .3-8.7 .4 4.3 .3-3.5 .3 .9 .3 3.1 .3-.9 .3-6.5 .3 5.1 .4-2.1 .3 3.9 .3-7.7 .3 7.9 .3-3.8 .3-2.4 .3 6.3 .3-6.9 .3 9.4 .3-7.6 .3-5.7 .3 3.7 .3 6 .2 2.5 .3-4.4 .3 4.5 .3-1.5 .3 .5 .3-10.9 .3 9.7 .2-1.7 .3-.5 .3 4 .3-4.2 .3 2.9 .2-5.2 .3-2.2 .3 3.9 .3 2.6 .2-2.7 .3-7.1 .3 11.7 .2-5.9 .3 2.4 .3 2.3 .2-3.7 .3 .9 .3-1.7 .2 3.1 .3-1.6 .2 6.2 .3-7.1 .3-7 .2 5.1 .3-.2 .2-12.8 .3 15.1 .2-1.3 .3-2.7 .2 5.8 .3 2.1 .2-1.4 .3-5.5 .2 6.8 .3 1.2 .2-6 .2-1.7 .3 1.9 .2 3.8 .3-1.5 .2-8.1 .2 3.2 .3 4.7 .2-3.3 .3 7.9 .2-7.8 .2 9.2 .3-5.4 .2-1.8 .2-4.2 .3 4.3 .2 3.5 .2-6 .2 1.6 .3-1.7 .2 1.6 .2 1.3 .2 .3 .3-4.9 .2 2.1 .2 7.4 .2-6.4 .3 2.1 .2 .5 .2 4.1 .2-3.9 .2 .6 .3-3.7 .2 4.6 .2-7.6 .2 4.7 .2-4.5 .2 4.8 .2-3.5 .3 5.6 .2-4.2 .2 1 .2-2.8 .2 4.4 .2-3.2 .2 1 .2 3 .2-1.8 .2 .2 .2-4.3 .2 2.4 .2 2.3 .2-3 .3 3.5 .2-7.7 .2 5.5 .2 .7 .2 0 .2 5.4 .2-5.1 .2 1.8 .1 3.2 .2-4.4 .2 5.3 .2-6.8 .2 3 .2-1.3 .2-1.7 .2-.9 .2 3.6 .2-2.1 .2 6.7 .2-5.9 .2-.7 .2-2.8 .2 5.3 .1-1 .2-.3 .2-2.3 .2 7.2 .2-5.5 .2-.9 .2 2.8 .1 2.9 .2 1.3 .2-9.3 .2 6.9 .2-3 .2-.2 .1 1.4 .2 .6 .2-1.9 .2-5.8 .2 5.2 .1-.1 .2 1.1 .2-.1 .2-1.4 .2-2.4 .1 3.9 .2 4.5 .2-1.7 .2 2.5 .1-3.2 .2 1.9 .2-1.8 .2-6.4 .1 6.5 .2-8.7 .2 3.8 .1 4.7 .2 5.8 .2-12.5 .2 6.2 .1-11 .2 11.1 .2 .6 .1-1.5 .2-.7 .2 .4 .1 3.3 .2-8.2 .2 3.5 .1 .1 .2-2.8 .2 .6 .1 3.8 .2-2.7 .2 6.5 .1-4.6 .2 2.2 .1-3.5 .2 2.6 .2-3.9 .1 4.9 .2 5.5 .1-8.4 .2-2.2 .2 .8 .1-1.7 .2-2.6 .1 3.6 .2 11.6 .2-8 .1 4.8 .2-7.9 .1 6.4 .2-3.6 .1-8.8 .2 5 .1 3.5 .2-.4 .2 1.4 .1-2.2 .2 2.6 .1-2.2 .2 1 .1-4.2 .2 1.4 .1 4.9 .2-2.5 .1-4.4 .2-.5 .1 3.1 .2 5.2 .1 2.9 .2-5.8 .1 2 .2-6.7 .1 5.9 .2-5.8 .1-1.6 .2 9 .1-.2 .1-9.9 .2 12.3 .1-8.1 .2 1.7 .1-.9 .2 2.6 .1 .2 .2-4 .1-.4 .1 1.2 .2 2.6 .1 .7 .2-2.2 .1-2 .2 8.5 .1-4.1 .1-1.9 .2-4.6 .1 .1 .2 4.1 .1 2.5 .1-5.2 .2 1 .1 .3 .2 5.1 .1-10 .1 1.4 .2 12.5 .1-13.7 .1 5.8 .2 3.7 .1-1.3 .2-5 .1-.8 .1 4.5 .2-2 .1 7.1 .1-4 .2-3 .1 .2 .1 8.6 .2-3 .1-3.7 .1-5 .2 3 .1-4.5 .1 5.1 .2-3 .1 0 .1-3.7 .2 9.2 .1 .3 .1-.9 .1 4.2 .2-9.4 .1 6.9 .1 .5 .2-1.6 .1 .1 .1-5.6 .1 5.2 .2-9 .1 14 .1-8.8" fill="none" stroke="#F4B183" stroke-width="1.4" stroke-linejoin="round"/>
<path d="M258.7 449.7l7.4-4.9 6.7-11.7 6 4.2 5.5 3.3 5.1-.5 4.7 2.3 4.4-4 4.1 3.9 3.8-5.4 3.6 3.8 3.4-2.2 3.3-1.5 3.1 10.3 2.9-12.9 2.8 14.7 2.7 5.7 2.6 4.3 2.5-15.8 2.4 15 2.3-13.2 2.2 1.1 2.2-1.8 2 11 2.1-11 1.9 4.1 1.9-.3 1.8 1.9 1.8 .9 1.7-.5 1.7-8.8 1.7 5.7 1.6 9.9 1.5-8.5 1.6-12.9 1.5 15.2 1.4-9.6 1.4 8.2 1.4 1.8 1.4-.3 1.3-7.3 1.3 1 1.3-23.5 1.3 16.3 1.2 9.9 1.2 2.4 1.2-5.1 1.1 10.4 1.2-.6 1.1-4.3 1.1 .8 1.1-5.1 1.1 3.5 1-.7 1-2.7 1 2 1-2.3 1-.5 1 1.5 .9-1.5 1 5.1 .9-3.5 .9 10.3 .9-9.3 .9 2.1 .9-4.9 .8 6 .9-6.4 .8 3.8 .9-1.9 .8 5.8 .8-6.1 .8 2.9 .8 5.1 .7-6.2 .8 4.3 .8 .4 .7-.3 .7-7.1 .8-.7 .7 7.1 .7-7.2 .7 5.4 .7 3.6 .7 5 .7-3.1 .7-7.2 .7 2.2 .6 2.2 .7 3.1 .6-11.1 .7 11.7 .6-17.1 .6 6.8 .7 10.8 .6-5.5 .6-4.2 .6 3.4 .6-2.6 .6 .6 .6-1.4 .6 4.7 .5-2.7 .6-2 .6 .4 .5-3.5 .6 4 .5-4.1 .6 5.4 .5 1.8 .6-1.9 .5-3.7 .5 7.8 .6-6 .5 6.6 .5-3.3 .5 2.1 .5-4.4 .5 4.6 .5-4.8 .5-5.2 .5 3.4 .5 6.3 .5-12.9 .5 10.6 .5-.9 .4-9.8 .5 9.4 .5-.6 .4 0 .5-7.6 .5 7.5 .4 4.1 .5-5.8 .4 1 .4 1.2 .5-1.7 .4-.1 .5 1.1 .4 2.4 .4-5.3 .5 4 .4-32.8 .4 33.9 .4-3.1 .4 3 .4 1.1 .5-2.2 .4 .8 .4 .1 .4-2.6 .4-.7 .4-1 .4 .6 .3 3.8 .4-5.1 .4 1.1 .4 6 .4-8 .4 4.3 .4 3.8 .3-.1 .4-3.6 .4 1.4 .3-3.1 .4-2.5 .4 2.6 .3 1.1 .4 .4 .4 5.1 .3-15.7 .4 11.8 .3-3.5 .4 2.2 .3-.6 .4-2.8 .3-1.5 .4 5.7 .3 1.1 .3-1.1 .4-3.2 .3-2.3 .3 1.6 .4 2 .3 2.4 .3-1.5 .4 5.9 .3-8.7 .3 2.6 .3-1.9 .4 1.3 .3 5.5 .3-4.4 .3 1.4 .3-3.6 .3 1.9 .3 .1 .4-3.5 .3-3.7 .3 8.4 .3-5.7 .3 1 .3 6 .3 5 .3-9.7 .3 5.3 .3-3.3 .3 3.1 .3-6.3 .3-5.6 .2-.9 .3 6.7 .3 1.2 .3-2.2 .3 7.7 .3-10.3 .3 6 .2-2 .3 4.8 .3-3.8 .3 4.9 .3-7.2 .2 2.9 .3 7.2 .3-9.8 .3-7.5 .2 16 .3-.8 .3-5.4 .2-1 .3 3.3 .3-5.1 .2 1.7 .3 4.2 .3-.9 .2-4.9 .3 0 .2 10.8 .3-6.2 .3-10.3 .2 12 .3-4.9 .2-10.2 .3 11.4 .2 4 .3-4.9 .2-6.1 .3 12 .2-7.6 .3 4.5 .2-2.5 .3-2.9 .2 4.6 .2 .1 .3-3.3 .2 1.5 .3 3.4 .2-4 .2 5.4 .3 .5 .2-4.2 .3-1.7 .2 6.5 .2-3 .3-2.7 .2 3.7 .2-.5 .3-7.1 .2 2.2 .2 1.4 .2 4.6 .3-.3 .2-5.3 .2 5.3 .2-1.7 .3-2.5 .2-5 .2 11.2 .2-14.2 .3 5.7 .2 6.8 .2-2.2 .2 .4 .2-2.9 .3 5.5 .2-2.3 .2-.6 .2 2.1 .2-9 .2 2.6 .2 8.1 .3-5.2 .2-.3 .2 3.9 .2-9.2 .2 8.2 .2-4.8 .2 5.8 .2-1.9 .2-3.1 .2-1.5 .2 9.8 .2-1 .2-1.9 .2 5.8 .3-10.7 .2-6.4 .2 3.1 .2 4.3 .2 1.7 .2-.6 .2 4.1 .2-5.9 .1 2.8 .2-4.4 .2-.9 .2 6.3 .2-1 .2-5.6 .2 5 .2 .9 .2-4.7 .2 5.7 .2-9.4 .2 5.7 .2 1.6 .2-3.5 .2-.4 .1 4.6 .2-3 .2 5.2 .2-4.2 .2-2.4 .2 5.9 .2-4.6 .1 .8 .2-4.9 .2 11.9 .2-3.5 .2 1.5 .2-3.8 .1-5.7 .2-3.4 .2 6.7 .2 8.2 .2-.9 .1-1 .2 3.6 .2-11.2 .2 5.4 .2-5.1 .1-3 .2 4.5 .2-.3 .2 8.8 .1-6.5 .2-2.3 .2 8.3 .2-13.5 .1 10.7 .2-6.7 .2-.1 .1 4 .2-6 .2 7.6 .2-4.6 .1 2.1 .2 0 .2 6.3 .1-5.8 .2-2.2 .2 0 .1 3 .2 3.4 .2 1.8 .1-10.7 .2 3.1 .2 2.7 .1 .4 .2 .7 .2-2.3 .1 1.1 .2 4.8 .1-1.3 .2-5.9 .2 2.2 .1-1.4 .2-1.5 .1 3.1 .2 4.8 .2-5.8 .1-.5 .2-4.6 .1-1.3 .2 9 .2-2 .1-2.8 .2-1.7 .1 11.1 .2-2.5 .1-4.8 .2-1.8 .1 1.1 .2 1.5 .2 .7 .1-11.1 .2 7.5 .1 2.2 .2 1.4 .1 .2 .2 3.2 .1-7.9 .2 .4 .1-1 .2-2.4 .1 3.3 .2 2.2 .1-1.7 .2-3.8 .1 4.5 .2 4.6 .1-6.8 .2 4.2 .1-1.9 .2 4.5 .1-2.7 .1-.9 .2-3.4 .1-2.3 .2 1.6 .1 2.7 .2 4.9 .1-.9 .2-2.7 .1 3.1 .1-7.9 .2 3.4 .1 2.4 .2-4.3 .1 3.1 .2 1 .1 4.3 .1-3 .2-8.7 .1 1.6 .2 7.1 .1-3.2 .1 8.8 .2-9.2 .1 2.6 .2-3.3 .1 1.5 .1-.3 .2-.3 .1 4.8 .1-2.9 .2-2.6 .1 .5 .2 1.7 .1-11.1 .1 14.7 .2 .1 .1-12.4 .1 13.5 .2-6.4 .1-6.3 .1 12.1 .2-.8 .1-6.1 .1-2.6 .2 9 .1 0 .1-5 .2-.5 .1 9.8 .1-10.6 .2 5.9 .1-13.3 .1 8.7 .1-4 .2 5.9 .1 1.6 .1-3 .2-3 .1-2.4 .1 8.2 .1-5.1 .2-4.1 .1 1.5 .1 1.6" fill="none" stroke="#9DC3E6" stroke-width="1.4" stroke-linejoin="round"/>
<path d="M258.7 439.4l7.4-18 6.7 8.6 6 1.4 5.5-11.3 5.1 14.9 4.7-1.6 4.4-2.5 4.1-9.5 3.8 8.5 3.6-1.7 3.4 8.9 3.3-9.5 3.1 4.6 2.9 7.4 2.8 6.4 2.7-3 2.6-2.1 2.5 2.2 2.4-1.2 2.3-11.5 2.2 13.4 2.2 5.7 2-9.3 2.1-.2 1.9 .4 1.9 10.2 1.8-11.7 1.8 5.3 1.7 4.4 1.7-3.2 1.7 2.6 1.6-.7 1.5-.9 1.6 10.7 1.5-12.3 1.4 .5 1.4-6.5 1.4 4.1 1.4-5.2 1.3 7 1.3 .8 1.3-27.2 1.3 27.1 1.2-.1 1.2-.4 1.2 3 1.1-8 1.2 3.2 1.1 1.8 1.1 2.1 1.1-8.4 1.1 11.1 1-7.1 1 3.9 1-4.7 1 6.9 1-1 1-9 .9 3.2 1 6.7 .9 4.4 .9-14.9 .9 10.7 .9-5.2 .9 6 .8-.9 .9 1.1 .8-8.1 .9 12.1 .8-20.1 .8 6.9 .8-.7 .8-1 .7 2 .8-1.4 .8-.2 .7-8.3 .7 5.4 .8 2.6 .7-.6 .7 7.2 .7 1.5 .7-3.4 .7-1.2 .7 9 .7-9.9 .7 4.9 .6-5.9 .7 5.6 .6 6.7 .7-7.5 .6 6.4 .6-1.9 .7-12.2 .6 7.9 .6-3.8 .6-1 .6 .7 .6-2 .6-.7 .6 4.9 .5-.8 .6-3.7 .6 4.9 .5-4.2 .6 3.7 .5 3.1 .6-10.9 .5 6.5 .6-4.6 .5 8.4 .5-5.7 .6-1.5 .5 4.4 .5 1.3 .5-1.8 .5 3.9 .5-.7 .5-4 .5 3.8 .5-9.4 .5 2.1 .5 7.1 .5-.4 .5-1.3 .4-2.1 .5 1.1 .5 4.9 .4-.7 .5-2.4 .5-2.4 .4 3.4 .5 1.9 .4-.9 .4-5.9 .5 5.7 .4-2.5 .5 1.3 .4-6.6 .4 3.8 .5-1.9 .4-18.4 .4 23 .4 3.9 .4-6 .4-3.2 .5 9.5 .4-1.9 .4-2.4 .4-.3 .4-4.2 .4 5.6 .4-6.5 .3 1.4 .4 6.7 .4 3.9 .4-6.9 .4-4.4 .4 5.3 .4 2.5 .3-3.2 .4-9.2 .4 16.5 .3-3.1 .4-8.2 .4 1 .3-3.6 .4-2.2 .4 4 .3 4.1 .4-6.5 .3 7.1 .4-6.8 .3 9.4 .4-6.3 .3 2.3 .4 4.3 .3-3.7 .3-8.9 .4 12.3 .3 .7 .3-6.5 .4 5.9 .3-10.2 .3 6.8 .4-4.1 .3 .8 .3 3.5 .3-3.3 .4-1 .3 5.4 .3 5.1 .3-5.9 .3-3.9 .3 7.6 .3-12.6 .4 6 .3 5.7 .3-6.5 .3 3.8 .3 5.2 .3-5.4 .3 7 .3-13.1 .3 3.1 .3 1.2 .3-2.5 .3-.2 .3 2.4 .2 .6 .3-5.3 .3 2.6 .3-4.3 .3 10.7 .3-.5 .3-.9 .2-5.2 .3 8.8 .3-4.6 .3-3.9 .3-.1 .2 .1 .3 2.7 .3 3.6 .3-2.2 .2-4 .3 15.2 .3-14.5 .2 2.5 .3 1.8 .3-5.2 .2 .7 .3 3.2 .3-2.3 .2 .9 .3-2.7 .2 6.8 .3 .3 .3 .1 .2-1 .3-2.1 .2-13.8 .3 13.1 .2-1.5 .3 1.4 .2 4.1 .3-13.5 .2 13.2 .3-9 .2 5.7 .3-2.2 .2-5.7 .2 8 .3 3.4 .2-1.6 .3-4.3 .2 5.4 .2-5.6 .3 3.3 .2-.4 .3 .5 .2-4.6 .2 5.3 .3-3.4 .2 3.1 .2 2.5 .3-3.9 .2 4.2 .2-2.2 .2 .1 .3 4 .2-5.3 .2 2.2 .2-4.5 .3-2.3 .2-2.2 .2 4.5 .2-3.7 .3 5 .2-1.8 .2-3 .2 6.8 .2-2.1 .3 2.5 .2 .3 .2 2.7 .2-11.5 .2 9.5 .2-4.7 .2-.7 .3 5.5 .2 2 .2-4.6 .2-4.5 .2 3.4 .2 2.5 .2-1 .2-3 .2 5.4 .2 3.3 .2-9.1 .2 4.5 .2 1.8 .2-6.4 .3 2.7 .2 2.6 .2 .4 .2 2.4 .2-6.1 .2-3.4 .2 4.1 .2-2 .1 .7 .2 4.4 .2 1.2 .2-1.7 .2-1.2 .2-11.5 .2 15.9 .2-7.5 .2-5.4 .2 4 .2 .4 .2-5.6 .2 10.6 .2-1.7 .2-.3 .1-3.4 .2-.9 .2-1.9 .2 4.7 .2 3.1 .2 2.5 .2-6.5 .1 3.5 .2-5.3 .2-.5 .2 2 .2 .5 .2 2.8 .1-4.4 .2-.9 .2 5.2 .2 1.5 .2 3.7 .1-9.6 .2-2.1 .2-.3 .2-1.3 .2 4.5 .1 3.9 .2-3.4 .2-4.9 .2 6.5 .1-.2 .2-.3 .2-.6 .2 7.1 .1-8.4 .2-.2 .2-1.3 .1 1.2 .2 4.6 .2-3.1 .2-.8 .1 .4 .2 4.7 .2 1.7 .1-2.3 .2 6.4 .2-10.5 .1 .9 .2-5.7 .2 7.1 .1-3.5 .2 4.9 .2-6.2 .1 2.2 .2 .5 .2 5.9 .1-5.9 .2 .4 .1-6.2 .2 8.2 .2-5.2 .1 4 .2-1.2 .1 2.3 .2 2 .2-.4 .1-.5 .2-1.8 .1-5.7 .2 12.1 .2-9.3 .1 5.2 .2 4 .1-3 .2-4.1 .1 3.5 .2 .2 .1-2.7 .2-.6 .2-.3 .1-2.9 .2 6.5 .1-8.1 .2 6.5 .1-.5 .2-1.2 .1 0 .2 2.4 .1-8 .2 8.2 .1 3.2 .2-3 .1-2.6 .2-5.5 .1 10.1 .2-2.1 .1-6.3 .2 1 .1 1 .2 .5 .1 1.2 .1-3.3 .2 1 .1 5.7 .2-.3 .1-4.1 .2 1.9 .1-6.4 .2 10.5 .1 .5 .1-11.8 .2 6 .1-.3 .2-2 .1-1.2 .2 9.8 .1-9.9 .1 13.1 .2-7.2 .1 .8 .2-3.5 .1 4 .1-4 .2 7 .1-9 .2-2.4 .1 11.1 .1-9.8 .2 8.1 .1-6.1 .1 1.2 .2 .7 .1-6.8 .2 9.4 .1-6.7 .1 1.8 .2 3.8 .1-1.6 .1 5 .2-3.8 .1-4.2 .1 .9 .2 4.9 .1-1.7 .1-.5 .2 1.8 .1-6.2 .1 1.2 .2-2.2 .1 3.4 .1-.5 .2-4.4 .1 6.9 .1 7.7 .1-13.3 .2 4.7 .1 1.5 .1-1.6 .2 .8 .1-.6 .1 1.4 .1-5.5 .2 4.6 .1 .2 .1 6.8" fill="none" stroke="#4472C4" stroke-width="1.4" stroke-linejoin="round"/>
<path d="M258.7 447.5l7.4-19.9 6.7 .6 6-4.9 5.5 10.2 5.1-9.6 4.7 2.7 4.4 4.1 4.1-5.6 3.8 6.4 3.6 .7 3.4 6.1 3.3-9.6 3.1-.3 2.9 9 2.8-2.5 2.7 7 2.6-8.9 2.5 11.4 2.4 4.8 2.3-14.9 2.2 6.5 2.2 .7 2-1.6 2.1 .3 1.9-1.6 1.9 8.4 1.8-5.1 1.8 1.9 1.7 4.2 1.7-12.9 1.7 1.8 1.6 8.4 1.5-13.4 1.6 7.4 1.5-4.6 1.4 6.4 1.4 .3 1.4-2.5 1.4-2.1 1.3-6.1 1.3 13.8 1.3-43.2 1.3 46.2 1.2-14.1 1.2 10.7 1.2-1.2 1.1-12.2 1.2 10.5 1.1 5.4 1.1-6.9 1.1 .8 1.1-7.1 1 2.6 1-2.7 1 1.8 1 3.8 1-1.3 1 .7 .9 1.5 1 .3 .9-5.6 .9 5.4 .9 1.5 .9-4.2 .9-.3 .8 12.5 .9-4.2 .8-6.1 .9 .4 .8-5.1 .8 .6 .8-.3 .8 3.7 .7 2.6 .8-4.4 .8-2.2 .7 7.7 .7-3.5 .8 4.5 .7-13.7 .7 10.7 .7-7.6 .7 6 .7 2.2 .7 5.1 .7-8.5 .7 4.2 .6-5.2 .7 7.9 .6-9.2 .7 5.3 .6-1.8 .6-3.9 .7 2.9 .6 3.4 .6 4.4 .6-5 .6-3.1 .6 4.4 .6 .8 .6-7.2 .5 4.6 .6-.8 .6-2 .5 .9 .6-.8 .5 9.4 .6-5 .5-2.5 .6 1 .5 1.8 .5-7.8 .6 6.6 .5-.2 .5-2 .5-2.6 .5-.9 .5 6.7 .5-5.9 .5 4.6 .5 2.9 .5-1.1 .5-3.9 .5 9.1 .5-9.4 .4-.6 .5-2.3 .5 3.4 .4-1.2 .5 5.2 .5-3.7 .4 .2 .5-3.2 .4 3.4 .4 2.8 .5-1.7 .4-3.2 .5-.1 .4 1.8 .4 2.3 .5 1.5 .4-26.5 .4 25.8 .4-1.1 .4 4.7 .4-6.4 .5 3.3 .4 3.5 .4-9 .4 3.3 .4 5.2 .4-.7 .4-1 .3-2.4 .4 2.4 .4-2.6 .4-3.1 .4 8.7 .4-3.7 .4-6.3 .3 7.7 .4-6.9 .4 8.6 .3-8.5 .4 6.9 .4 .2 .3-5.5 .4 5.2 .4-6 .3 4.2 .4-4.8 .3 3 .4-4.3 .3 1.1 .4 5.9 .3-5.1 .4 3.2 .3-3.1 .3 3.3 .4-.3 .3-.6 .3-3.9 .4 6.7 .3 1.5 .3 1.1 .4-2.1 .3-1.8 .3-1.6 .3 3.2 .4-.6 .3 .8 .3-8.5 .3 15.8 .3-7.6 .3 .1 .3-6.4 .4 4 .3 5.3 .3 .6 .3-5 .3-1.6 .3 6 .3-4.7 .3-3.4 .3 8.2 .3-3.6 .3 3 .3-9.7 .3 7.3 .2-.5 .3-6.2 .3 1.9 .3-3.8 .3 7.9 .3 6.5 .3-16.1 .2 8.1 .3-5.7 .3 4.7 .3 .6 .3-2.2 .2 5.6 .3-2.5 .3-1.9 .3 1.5 .2 4 .3-4.4 .3-2.1 .2 7.8 .3-.5 .3-3.4 .2 2.6 .3-6.3 .3-.4 .2 8.9 .3-7.1 .2-.2 .3-4.3 .3 13 .2-10.1 .3 7.7 .2-23.4 .3 21.4 .2 4.5 .3-5.3 .2-6.7 .3 3.3 .2 4.1 .3-3.4 .2 6.1 .3-7.2 .2-1.1 .2 10.8 .3-9.8 .2 5.7 .3-.7 .2-3.5 .2 1.8 .3 1.8 .2-2.2 .3 .9 .2-3.8 .2-.5 .3 5.2 .2 1.1 .2-4.1 .3 1.5 .2-1.4 .2 1.5 .2 2.7 .3-5.7 .2 5.2 .2-5.4 .2 1 .3 5.9 .2-3 .2-4.4 .2 1 .3 4 .2-4.7 .2-.5 .2-1.8 .2 2.9 .3 4.9 .2-4.3 .2 4.5 .2-.1 .2-3.8 .2 .2 .2-5.6 .3 13.8 .2-6 .2-3.2 .2 4.6 .2-3.3 .2 7.1 .2-5.5 .2-2.6 .2 1.7 .2-2.2 .2 2.8 .2-2.1 .2 1.3 .2 5.1 .3-11.3 .2 9.1 .2 .1 .2-2.2 .2 6.3 .2-2.7 .2-10.3 .2 6 .1 2.7 .2-4.9 .2 4.4 .2 1.2 .2-6.6 .2 9.1 .2-2.4 .2-8.3 .2 8.2 .2-.8 .2 2.5 .2-3.1 .2 2.3 .2-4 .2-4.8 .1 14 .2-11.9 .2 3.8 .2-4.4 .2-2.2 .2 12.6 .2-3.1 .1-.3 .2-7.9 .2 .2 .2-2 .2 2.9 .2 .8 .1 5.6 .2-2.6 .2 2.3 .2-3.8 .2-3.4 .1 2.3 .2 7.8 .2-6.9 .2-2.7 .2 2.1 .1-3 .2 3.5 .2 .2 .2 5.6 .1-9.9 .2 17.3 .2-19.4 .2 4.4 .1 1.1 .2-7.2 .2 9.8 .1-4.2 .2 1.1 .2 5.3 .2-.6 .1 3 .2-2 .2-4.8 .1 5.4 .2-2.9 .2-2.6 .1 6.2 .2-.8 .2-4.4 .1-1.7 .2 1.8 .2 1.2 .1-3.1 .2 4.9 .2-3.5 .1-2.9 .2-1.5 .1 8.4 .2-5 .2 4.8 .1-2.6 .2-3.6 .1 3.6 .2-5.6 .2 2.6 .1-6 .2 6.2 .1-4.3 .2 7.9 .2-3.6 .1 4 .2-.4 .1-6.6 .2 6.5 .1-3.1 .2 7.5 .1-6.5 .2 4.6 .2-5.9 .1-2.3 .2 6 .1-5.2 .2 5.3 .1 4.1 .2-6.7 .1 8.9 .2-1.9 .1-7.4 .2-1.6 .1 5.2 .2-2.5 .1 1.6 .2 2.2 .1-3.4 .2 5.8 .1-14.2 .2 2.7 .1 11.4 .2-6.6 .1-2.8 .1 1.7 .2-1.7 .1 10.8 .2-1.1 .1-1.3 .2-8.1 .1 3.8 .2 1.1 .1-2.4 .1-5.4 .2 3 .1-1.4 .2 3.8 .1-.1 .2-3.1 .1 4 .1 .2 .2 5.4 .1-5.4 .2 8 .1-12.1 .1 4.5 .2-9.5 .1 3.4 .2 11.1 .1 1 .1-6.2 .2 4.5 .1-6 .1-4 .2 5.4 .1-10.2 .2 9.1 .1 1.9 .1-6.3 .2 1.5 .1-5.9 .1 5.7 .2-.4 .1 1.6 .1-1.1 .2 5.2 .1-6.4 .1 7 .2-7.3 .1-1 .1 7.4 .2 3.5 .1-4 .1-.3 .2-2.4 .1-.8 .1 1.3 .1-6.5 .2 3.6 .1 9.1 .1-5.3 .2-3 .1-1.9 .1 3.7 .1-6.5 .2 11.7 .1 3.1 .1-9.8" fill="none" stroke="#5B9BD5" stroke-width="1.4" stroke-linejoin="round"/>
<path d="M258.7 435.1l7.4 2.3 6.7-6.9 6-.4 5.5 4.9 5.1 4.1 4.7-12.2 4.4 6.3 4.1-1.2 3.8 1.8 3.6-5 3.4-7.8 3.3 7 3.1 9.3 2.9-5 2.8 5.3 2.7 2.5 2.6-1.5 2.5 9.7 2.4-3.9 2.3-15.2 2.2 10.4 2.2-5.8 2 6 2.1 .2 1.9-.4 1.9-5.3 1.8 16.3 1.8-14.6 1.7-3.1 1.7 10.1 1.7 2.7 1.6-15.5 1.5 11.6 1.6-.8 1.5-3 1.4 .1 1.4 0 1.4 1.7 1.4-11.7 1.3 16.3 1.3-4.8 1.3-36.3 1.3 38.9 1.2 7.3 1.2-2.6 1.2-8.3 1.1 5.2 1.2 .2 1.1-2.4 1.1-3 1.1 3.6 1.1 2.3 1 1.9 1-10.5 1 0 1 6.4 1-7.4 1 7 .9-8.6 1 10.3 .9-5.7 .9 3.9 .9 1.9 .9-4.4 .9-1.6 .8 5.7 .9 3.1 .8-7.2 .9 1 .8-3.3 .8-1 .8 4.3 .8-7.1 .7 7.1 .8-4 .8 3.7 .7-.8 .7 6 .8-3.5 .7-11 .7 12 .7-6.2 .7-1.8 .7 6.2 .7-3.3 .7 1.5 .7-2.7 .6-2.3 .7 6.1 .6 .3 .7 0 .6-3.2 .6-.1 .7 8.9 .6-6.5 .6-5.1 .6 8.1 .6 2.3 .6-8.8 .6 2.8 .6-.7 .5 4.2 .6 1 .6 1.8 .5 .3 .6-3.1 .5-2.4 .6-.4 .5-3.2 .6 1.8 .5 2.2 .5-1.2 .6 12.6 .5-14.7 .5 9.5 .5-9.7 .5 .4 .5 4 .5 3.3 .5-6.4 .5 11.8 .5-13.9 .5 6.4 .5-1.7 .5-1.1 .4-.2 .5 1.4 .5-4.1 .4-.5 .5 1.1 .5 4.2 .4-5.3 .5 3.7 .4 6.4 .4-8.2 .5 12.4 .4-4.8 .5-6.5 .4 4.8 .4 2 .5-3.1 .4-27.8 .4 25.5 .4 2 .4 3.3 .4-4.2 .5 3.4 .4-5.6 .4-1.3 .4 .5 .4 4.8 .4-3.5 .4 6.3 .3-.7 .4-4.7 .4-4.4 .4 6.5 .4-2.6 .4 .9 .4-2.7 .3-.2 .4 7 .4 5.9 .3-4.5 .4-4.1 .4-1.9 .3-.9 .4 3.3 .4-5 .3 1.1 .4-3.5 .3 12 .4-4.1 .3-1.3 .4 .9 .3-.1 .4 .5 .3-5.9 .3 1.5 .4 3 .3 1.6 .3 1.8 .4-7.7 .3 7.8 .3-5.8 .4 4.1 .3 .5 .3 1.4 .3-2.8 .4-.3 .3 3.1 .3 3 .3-4.4 .3 2.7 .3-5.7 .3 3.7 .4-2.1 .3 2.2 .3-13.2 .3 10.9 .3-3.4 .3 8.4 .3-4 .3 3.1 .3-5.6 .3 2.5 .3 .7 .3 4.4 .3-5.2 .2 3.8 .3 .3 .3-7.6 .3-1.1 .3 2 .3 7.7 .3-6 .2-.9 .3 2.1 .3-3.6 .3 5 .3-.1 .2-4.2 .3 2.9 .3-1.2 .3 3.5 .2-3.7 .3-1.7 .3 1.3 .2 3 .3 .8 .3-.4 .2-3.2 .3-.8 .3 4.2 .2-7 .3 7.7 .2-.2 .3-3.6 .3 .5 .2-1.2 .3-1.9 .2-.1 .3 .5 .2-1.1 .3 4.2 .2 1.2 .3 2 .2-5.9 .3 7.2 .2-2.9 .3-3.4 .2-.9 .2 .4 .3 8.3 .2-3.5 .3-5.1 .2 .3 .2-4.1 .3 10.8 .2 2.9 .3-9.2 .2 2.1 .2 .2 .3-.1 .2 .7 .2-1.4 .3 3.8 .2-4.6 .2-2 .2 5.6 .3 .5 .2-2.6 .2 6.8 .2-9.1 .3 1.2 .2-3.2 .2 7.7 .2 1.1 .3-8.8 .2 5.2 .2 3 .2-12.2 .2 7.4 .3 2.6 .2-.2 .2-2.7 .2-2.9 .2-2.5 .2 14.6 .2-11.4 .3 5.5 .2 1.2 .2-1.6 .2-9.1 .2 9.4 .2 2.1 .2 4.4 .2-10.6 .2 1.8 .2 5 .2-6.4 .2 1.6 .2 6.5 .2-4.9 .3-7.6 .2 9.2 .2-4.9 .2 .7 .2 1.6 .2 1.7 .2-10.7 .2 10.1 .1-7.5 .2 .9 .2 4.1 .2-5.6 .2 11.4 .2-3.7 .2-4.2 .2 .8 .2 4.4 .2-1.2 .2-1.4 .2-2.3 .2 1.2 .2 6.7 .2-2.5 .1-3 .2 1.2 .2 6.8 .2-10.9 .2 2 .2 1.3 .2-1 .1-11.2 .2 12.6 .2 3.5 .2-5.8 .2-1.4 .2-3.7 .1 7.4 .2-3.2 .2 3.7 .2-3.2 .2 2.4 .1 .5 .2-5.3 .2 5.9 .2 4 .2-9.8 .1 7.9 .2-7.8 .2 5.4 .2-6.2 .1 5.1 .2 5.1 .2-11.5 .2 6.1 .1 1.8 .2 1.6 .2-7.6 .1 3.2 .2 7.2 .2-11.9 .2 2.8 .1 4 .2 .4 .2-7.2 .1 6.2 .2 5.1 .2-5.6 .1-3.5 .2 5.4 .2-5 .1 1.1 .2 .2 .2-3.1 .1 2.4 .2 6.6 .2-4.6 .1 6.6 .2-6.8 .1-2.4 .2 7 .2-10.2 .1 10.4 .2-3.2 .1-.3 .2-.2 .2-.5 .1 .8 .2-5.4 .1 1.8 .2 4 .2-2.1 .1-.2 .2-2.8 .1 1.7 .2 3.1 .1-1.5 .2-3.7 .1 9.8 .2-3.7 .2 1.7 .1-5.4 .2 0 .1 5 .2-2.3 .1-7.5 .2 2.2 .1 5.7 .2-.6 .1-3.6 .2-3.4 .1 3.2 .2 .8 .1 4.9 .2-2.7 .1 1.3 .2-1.2 .1-3.4 .2 3.3 .1-5.6 .2 4.2 .1 9 .1-4.7 .2-.1 .1 2.1 .2-13.2 .1 1.2 .2 2.2 .1-.7 .2 10.1 .1-1.8 .1-2.2 .2-3.1 .1 7.4 .2-2.6 .1-7.3 .2 7 .1-2.4 .1 2.6 .2-6.8 .1 5.2 .2 .9 .1-4.6 .1 3.5 .2 3.6 .1 0 .2-.1 .1-5.7 .1-1.1 .2 1.1 .1 1.7 .1-5 .2-.8 .1 2.1 .2 8.8 .1-1.3 .1-4.4 .2 0 .1-.5 .1-1 .2 0 .1 5 .1-7 .2 2.5 .1 8.5 .1-8.6 .2-3.6 .1 8.9 .1-3 .2-7.2 .1-.3 .1 15.3 .2-13.7 .1 14.2 .1-10.9 .1 4.7 .2-5.2 .1-2.5 .1 4.1 .2 1.4 .1 3.7 .1-1.7 .1-4.5 .2 7.8 .1-2.5 .1-1.9" fill="none" stroke="#FFC000" stroke-width="1.4" stroke-linejoin="round"/>
<path d="M258.7 449.3l7.4-14.5 6.7 11.6 6-2.7 5.5-4.8 5.1 9.9 4.7-7.2 4.4 2.6 4.1 4.1 3.8 1.3 3.6-14.5 3.4 10.1 3.3-2.9 3.1 .6 2.9 11.8 2.8-9.8 2.7 1.1 2.6-8.9 2.5 2.8 2.4 10.2 2.3-5.6 2.2 11.4 2.2-12.3 2 1.9 2.1-6.7 1.9 .4 1.9 10.2 1.8-7.2 1.8 3 1.7-.5 1.7-.1 1.7 .4 1.6-6.4 1.5 7 1.6-13.4 1.5 22.3 1.4-7.6 1.4-1.4 1.4 2.6 1.4 7.6 1.3-3.7 1.3-7.9 1.3-42.2 1.3 44.4 1.2-3.4 1.2 6.8 1.2 .1 1.1-13 1.2 13.2 1.1-5.5 1.1-2.3 1.1 2.6 1.1-4.7 1-1.3 1 6.3 1-4.7 1-2.2 1 4.7 1-6.8 .9 12.4 1-12 .9 11.4 .9-5.3 .9-1.2 .9-1.7 .9-10.1 .8 15.1 .9-6 .8 14.8 .9-11 .8 10 .8 3.5 .8-6.5 .8-10 .7 4.9 .8 .9 .8 .5 .7 3.8 .7-.6 .8-5.1 .7 13.7 .7-16.9 .7 4.9 .7-.2 .7 2 .7-8.6 .7 7.5 .7-6.9 .6 11 .7-7.3 .6-1.9 .7 1.6 .6 2.8 .6 3.4 .7-10 .6 11 .6-11.6 .6-1.8 .6 11.1 .6-5.8 .6-2.5 .6 9.8 .5-2.1 .6-9.1 .6 2.1 .5-.6 .6 6.3 .5-.5 .6 1.7 .5 5.1 .6-7.8 .5-7.2 .5 5.6 .6-3 .5 5.3 .5 3.3 .5-1.6 .5 4.7 .5-4.2 .5 4.3 .5-7.8 .5-5.7 .5 7.5 .5-2.1 .5 .7 .5 .2 .4 .8 .5-2.5 .5 9 .4-8.4 .5 7.6 .5-8.1 .4 6.4 .5-6.4 .4 .7 .4-1.3 .5 4.4 .4-1.9 .5-.9 .4 2.3 .4 1.1 .5-7.1 .4-20.1 .4 25.3 .4 1.3 .4-9.3 .4 8.8 .5-3 .4-.2 .4-1.4 .4-.1 .4 7.6 .4-6.7 .4 5.5 .3-3.6 .4-3.4 .4 10.5 .4-10.7 .4 .5 .4 7.3 .4-10.2 .3 1.2 .4 6.2 .4 1.9 .3-6.9 .4 5.3 .4 5.2 .3-5.2 .4-3.8 .4-3.4 .3 7.2 .4-2 .3-.3 .4 .2 .3 .2 .4-4.1 .3 2 .4-3.2 .3 10.9 .3-10.5 .4 7.3 .3 .4 .3-4.2 .4-1.4 .3-2 .3 7.8 .4-5 .3-3 .3 8.9 .3-11.5 .4 7.4 .3 6.4 .3-4.9 .3-5.2 .3 3.8 .3-3.6 .3 .9 .4 2.9 .3 4.8 .3-7.1 .3 6 .3-6.8 .3 .4 .3 1.9 .3-1.9 .3 .4 .3 3.6 .3 4 .3 1.4 .3-7.3 .2-7.4 .3 9.3 .3 .3 .3 1.1 .3-3.8 .3 .6 .3-.6 .2-.1 .3 8.5 .3 .1 .3-9.9 .3 .4 .2 4.2 .3-3.4 .3-2.3 .3 8.9 .2-6.3 .3 1.4 .3 .4 .2 .2 .3 7.1 .3-9.9 .2-.5 .3 4.2 .3-2.7 .2 1.9 .3-.6 .2-3.3 .3 3.6 .3-10.9 .2 7.3 .3 6.9 .2-20.7 .3 24.4 .2-11.5 .3 5.5 .2-1.7 .3 .6 .2 4.4 .3-4.4 .2-1.3 .3 .6 .2 3.9 .2-4.1 .3-.6 .2 4 .3-7.8 .2 3 .2-2.9 .3 4.7 .2-2.2 .3-4 .2 3.3 .2 2.6 .3 .3 .2-3.9 .2 2.3 .3 3 .2-.4 .2-4.7 .2 5.7 .3-2.9 .2-1.6 .2 8.8 .2-11.3 .3 5 .2 1.3 .2-5.6 .2 3.5 .3-.5 .2-2.6 .2-.1 .2 2 .2-1.1 .3 5.9 .2-1.3 .2-6.1 .2 4.2 .2 2 .2-7.3 .2-.2 .3 3.1 .2 1.8 .2-5.4 .2 6.5 .2 2.4 .2-4.1 .2 1.9 .2-2.8 .2 4.2 .2-9 .2 6.5 .2-2.9 .2-.5 .2-7.6 .3 12.3 .2-.5 .2-2.9 .2-.8 .2 1.2 .2-.3 .2-3.1 .2 0 .1 1.2 .2 12 .2-7 .2 1.7 .2-.8 .2-.6 .2-9.1 .2 5.8 .2 6 .2-5.4 .2-2.2 .2-2.6 .2 5.9 .2 .7 .2 2.7 .1-3.3 .2 .7 .2 4.1 .2-1.5 .2-10.9 .2 3.4 .2 9.5 .1-10.9 .2 1.9 .2 9.2 .2-5.4 .2-1.5 .2 10.3 .1-6.7 .2-.6 .2-5.5 .2 5.8 .2-3.1 .1-.8 .2 6.4 .2 .7 .2-7.6 .2-.1 .1-.9 .2 3.6 .2 2.7 .2 4 .1-14.2 .2 14.2 .2-7.1 .2-.3 .1 7 .2-6 .2-2.4 .1 .1 .2 4.5 .2-.2 .2-1.5 .1-1.8 .2 .9 .2 13.2 .1-8.6 .2-2.1 .2-1.1 .1-3.2 .2 5.3 .2 3.4 .1-6.8 .2-1.7 .2-1 .1-1.9 .2 2.1 .2 2 .1-3.8 .2 1.4 .1 9.8 .2-15.3 .2 7.2 .1 1.4 .2 1.5 .1-.4 .2 2.7 .2-6.2 .1 4 .2-3.4 .1 7 .2-9.2 .2 1 .1-1.3 .2 1.8 .1-.9 .2 2.6 .1-1.5 .2-1.9 .1 2.9 .2 5.7 .2-5.6 .1-.1 .2-7 .1 6.6 .2 5.7 .1-2.4 .2-1.7 .1-8.2 .2 4.8 .1 4.2 .2 1.6 .1-6.6 .2 3.4 .1-1.1 .2 3.5 .1-2.2 .2-6 .1 .8 .2 4.4 .1 3.1 .2-1.1 .1 4.4 .1-7.3 .2 6.2 .1-5.3 .2 2.3 .1-3.6 .2-1.7 .1 2.5 .2-.5 .1 2.1 .1 6 .2-6.9 .1-3.4 .2 .4 .1 3.8 .2-5.9 .1 10.4 .1-8.9 .2 3.3 .1 .2 .2-.7 .1-5.1 .1 10.1 .2-8 .1 3.1 .2 1.8 .1-.1 .1 3.4 .2-3.1 .1-3.4 .1 .5 .2 3.2 .1-5.4 .2 6.2 .1-1.8 .1-4.6 .2 7.5 .1-3.3 .1-2.5 .2-1.8 .1 1.8 .1 8.6 .2-10.9 .1 7.7 .1-5.8 .2 4.6 .1-2.4 .1 6.3 .2-12 .1 7.8 .1-7.3 .2 3.9 .1-.1 .1 8.7 .1-3.6 .2-5.8 .1 2.5 .1 .5 .2-5.9 .1 5.4 .1 2.4 .1-.7 .2 2.4 .1-4.2 .1-.6" fill="none" stroke="#F4B183" stroke-width="1.4" stroke-linejoin="round"/>
<path d="M258.7 439.5l7.4-8.6 6.7 7.4 6-5.7 5.5 2.8 5.1 5.8 4.7-.6 4.4-5.6 4.1-1.8 3.8 4 3.6 .6 3.4 8 3.3-7.2 3.1-4.7 2.9 8.9 2.8 4 2.7-4.9 2.6-3.4 2.5 8.5 2.4-2.9 2.3-3.4 2.2 3.8 2.2-4 2-3.4 2.1-2.7 1.9 8.2 1.9-6.8 1.8 5.6 1.8-5.1 1.7 8.7 1.7 1 1.7-3.2 1.6 .2 1.5 2 1.6 .4 1.5-2.8 1.4 1.6 1.4-2.7 1.4 .6 1.4-.6 1.3-1.6 1.3 4.7 1.3-38.4 1.3 28.6 1.2 6.4 1.2-1.2 1.2 .8 1.1-3 1.2 2 1.1-.8 1.1 7.4 1.1-7.5 1.1 3.9 1-4.2 1 11.3 1-4.1 1-18.3 1 6.5 1 13.3 .9-6.9 1 11.3 .9-14.5 .9 1.8 .9 .3 .9-.8 .9 1.6 .8 6.7 .9-12.7 .8 10.8 .9-4.5 .8 6.4 .8-6.9 .8 1.7 .8 6.5 .7-4.7 .8 4.6 .8-10.5 .7 6.7 .7-8.3 .8-2.6 .7 9.4 .7 8.5 .7-15.4 .7 3.2 .7 2.8 .7 3.8 .7-8.3 .7-.4 .6-1.8 .7 5.5 .6-2 .7 2.2 .6-1.8 .6 7.8 .7-5.1 .6 7.6 .6-5.4 .6-4.4 .6 1.6 .6-5.9 .6 1.7 .6 1.1 .5 4.6 .6-4.4 .6-2.4 .5 3 .6 2.1 .5 4.1 .6-3.1 .5 .8 .6 .9 .5 2.2 .5-1.9 .6-3 .5-.3 .5 1.4 .5-.7 .5 1.1 .5-2 .5 6.6 .5-7.5 .5 7.3 .5-4 .5 2.1 .5-.4 .5-1.7 .4-.6 .5 2.4 .5-4.6 .4 2.9 .5 0 .5-2.5 .4-4.7 .5 6 .4 .4 .4 1.3 .5 1 .4-7.9 .5 6.4 .4 2.4 .4-3.1 .5 2.4 .4-18.6 .4 16.5 .4 2.2 .4-.2 .4-2 .5-1.1 .4-3.2 .4 .9 .4 7.2 .4-1.7 .4-3.8 .4 2.6 .3-1 .4-3.4 .4 3.1 .4 .5 .4 1.2 .4 1.7 .4-4.3 .3 4.5 .4-.2 .4-1 .3-1.2 .4 5.8 .4-2.8 .3-3.3 .4-.5 .4 .7 .3-3.1 .4-.1 .3-1.4 .4 5.7 .3-5.9 .4 3.7 .3 3.3 .4-.4 .3-5.3 .3 9.4 .4-6 .3-1.3 .3 1.6 .4 1.9 .3 0 .3-1.6 .4 .7 .3 1.4 .3 .3 .3 1.3 .4 1.5 .3-2.5 .3-4.7 .3 6.8 .3-4.2 .3 5.2 .3-10.8 .4 3.3 .3 4.5 .3-6.3 .3-.5 .3 1 .3 6.3 .3 .5 .3-6.9 .3 2.6 .3 3.3 .3 4.5 .3-12.4 .3 5.3 .2 5 .3-5.9 .3 3.6 .3 3.3 .3-6.8 .3-.4 .3-2.8 .2 5.2 .3 .5 .3 1.3 .3-6.9 .3 5.1 .2 2.7 .3 .3 .3-6.4 .3 3.6 .2 3 .3 2.6 .3-6.2 .2-5.7 .3 2.4 .3 3.7 .2-7.3 .3 4.5 .3 8.6 .2-8.7 .3-2.6 .2 6.2 .3 1.8 .3-3.5 .2-.9 .3 2.4 .2-13.9 .3 13.3 .2-5.8 .3 7.4 .2-2.3 .3 3.4 .2-5.1 .3 3.7 .2 5.1 .3-3.8 .2-1.6 .2 3 .3-2 .2-.1 .3-3.3 .2 4.3 .2-1.7 .3 1.4 .2-.6 .3-5.7 .2 4.1 .2 .7 .3-1.6 .2 1.6 .2 2.6 .3-4.5 .2-2.6 .2-4.2 .2 8.1 .3 5.6 .2-8.6 .2 1 .2 6.5 .3-9.5 .2 5.5 .2 2.4 .2-11.8 .3 3.3 .2 4.9 .2 2.1 .2-6 .2-1.8 .3 1.5 .2 8.5 .2-4.9 .2 6.3 .2-6.8 .2-2 .2 2 .3-1.5 .2-.5 .2 1.4 .2 1.5 .2-2.5 .2 4.2 .2 4.6 .2 3.9 .2-9 .2 2.4 .2-4.4 .2-3.3 .2-4.7 .2 8.8 .3 1.6 .2 .2 .2 3.1 .2-5.7 .2-.8 .2-2.4 .2 3.2 .2-.5 .1-2.1 .2 8.6 .2-7.4 .2-1.8 .2 10.7 .2-8.4 .2 3 .2 2.5 .2-2.5 .2 1 .2-4.2 .2-.3 .2 7.3 .2-1.7 .2-2.7 .1 3.3 .2-9.6 .2 6.8 .2-7.4 .2 7.3 .2-.1 .2-2.8 .1 2.1 .2-1.1 .2-7.7 .2 3.9 .2 .9 .2 .2 .1 1.5 .2 2.3 .2-7 .2 .7 .2 6.7 .1-5.9 .2 2.9 .2 4.9 .2-2.5 .2 .7 .1-6.2 .2 9.4 .2-5.5 .2-8.6 .1 9.4 .2 2 .2-3.3 .2 .6 .1 1 .2 4.1 .2-8.2 .1 5.2 .2 7.1 .2-6.9 .2-8.4 .1 4 .2 2.9 .2 6.1 .1-8.3 .2 5.1 .2-6.6 .1-2.5 .2-.5 .2 3.9 .1-2.6 .2 8.2 .2-6.3 .1 2.8 .2 6.9 .2-8.3 .1 7.4 .2-5.7 .1-.5 .2-3.6 .2-2 .1 4.7 .2 4.2 .1-2.9 .2 .3 .2-3.8 .1 6.3 .2-6.3 .1 9 .2-8.1 .2 4.2 .1 2.5 .2-1.4 .1 3.4 .2-12.9 .1 4 .2-3.9 .1 7.8 .2 2.7 .2-5.5 .1 8 .2-2.6 .1-4.5 .2-.5 .1-7.9 .2 9.7 .1 7.5 .2-9.7 .1-.3 .2 6.9 .1-5.2 .2-5.7 .1 10.1 .2-8.3 .1-10.7 .2 15.9 .1-1.9 .2 2.8 .1-.1 .2 5.4 .1-3.3 .1-4.2 .2 4.9 .1-3.9 .2-4.3 .1-3.4 .2 4.1 .1 7.3 .2 0 .1 .2 .1-6.1 .2 2.5 .1-4 .2 8.9 .1-3.2 .2-3 .1-1.1 .1-1.7 .2 2.8 .1 2.2 .2-4.8 .1 .6 .1-1.5 .2 1.6 .1 .5 .2 4.5 .1 .1 .1 3.2 .2-3.8 .1 2.9 .1-7.1 .2-2.3 .1 2.1 .2 3.1 .1 1.3 .1 2.5 .2 .4 .1-11.5 .1 13.9 .2-7.5 .1-4.7 .1 5.5 .2-4.7 .1-2.6 .1 2.2 .2 2.7 .1-.3 .1 2.4 .2 2.6 .1-3.3 .1-1.9 .2 9.8 .1-7.7 .1 1.2 .1-.7 .2 1.7 .1 .1 .1 0 .2 8.2 .1-10.6 .1-2.6 .1 5.9 .2-6.7 .1 3.8 .1 1" fill="none" stroke="#BF9000" stroke-width="1.4" stroke-linejoin="round"/>
<path d="M258.7 438l7.4 13.9 6.7-15.3 6-5.3 5.5 3.8 5.1-1.3 4.7-2 4.4 .9 4.1 11.6 3.8-4.5 3.6-6.9 3.4 6.2 3.3-14.6 3.1 14.1 2.9 .3 2.8 4 2.7 6.5 2.6 1.5 2.5-7.3 2.4 9 2.3-3.6 2.2-2.9 2.2-1.8 2 9.5 2.1-11.4 1.9-.5 1.9-.8 1.8 4 1.8 3.3 1.7-3 1.7 2.6 1.7 7.7 1.6-18.3 1.5 11.1 1.6-4.3 1.5 4.9 1.4-7.9 1.4 3.1 1.4 .2 1.4 4.7 1.3-.3 1.3-3.8 1.3-22.2 1.3 24.6 1.2-8.1 1.2 5.2 1.2 1.8 1.1 2.5 1.2 1.6 1.1-14.1 1.1 11.5 1.1 1.9 1.1 2.7 1-1.7 1-6.3 1 7.4 1 .3 1-2.2 1-8.9 .9-1.6 1 10.7 .9-4.3 .9 3.5 .9 .3 .9-1 .9-11.8 .8 7.5 .9 1.4 .8-2 .9 0 .8 2.2 .8 3.8 .8 3.8 .8 2.2 .7-5.2 .8-4.6 .8-2.3 .7 6.4 .7-2.7 .8-.5 .7 .4 .7-9.4 .7 3.1 .7 12.4 .7-12.2 .7 4.4 .7 2.3 .7-.9 .6-2.4 .7-.7 .6 1.7 .7 4 .6 3.2 .6-5.3 .7 4.1 .6-10.2 .6 6.3 .6 .3 .6 .4 .6-1.2 .6-3.7 .6-.1 .5 9.1 .6-6 .6-5.4 .5 6.4 .6-3.5 .5 .4 .6 4.2 .5-3.3 .6 1.7 .5-2.5 .5 10 .6-5.6 .5-4 .5-1.6 .5 2.2 .5-2.8 .5 1.1 .5 6.5 .5 2.4 .5-12.2 .5 3.2 .5 1.8 .5-1.7 .5 .1 .4 1.6 .5-.7 .5 4.1 .4 .7 .5 1.4 .5-8.9 .4 7.5 .5-3.8 .4 2.9 .4 3.8 .5-3.2 .4-3.4 .5-2 .4 7.9 .4-5.2 .5 .3 .4-18.2 .4 17.9 .4 3.7 .4-2.8 .4-4 .5 9.6 .4-5.1 .4 2.8 .4-1.4 .4-8.1 .4 9 .4-8.8 .3 9.5 .4-9.2 .4-1.2 .4 5.8 .4 2.2 .4 .1 .4-2.1 .3-.8 .4-2 .4 1.5 .3-3 .4 6.8 .4 3.4 .3-18.4 .4 12.5 .4 2.8 .3-3.1 .4-3.3 .3 2.4 .4 1.5 .3 .3 .4 3.8 .3-4 .4 3.1 .3-1.2 .3-4.1 .4 9.4 .3-1.7 .3-6.6 .4 4.3 .3 6.5 .3-4.8 .4-7.1 .3 2.8 .3 2.9 .3-3.6 .4-2.1 .3 5.1 .3-3.1 .3-3.6 .3-5.7 .3 10.4 .3-4.9 .4 .3 .3 3.2 .3-1.9 .3 .4 .3-3.5 .3 9 .3-6.7 .3 1.5 .3-3.1 .3 1.5 .3 1.8 .3 1 .3-4.2 .2 8.2 .3-2 .3-.5 .3 .5 .3 1.7 .3-6.2 .3 3 .2-3 .3-1.2 .3 1.1 .3-.2 .3 6.3 .2-.6 .3-6.9 .3 8.8 .3-5.8 .2 2.5 .3-.1 .3-7.2 .2 5.1 .3 4.9 .3-8.3 .2 1.5 .3 5.4 .3 .3 .2-4.6 .3 1.9 .2 4.8 .3-4.8 .3 5.1 .2 .5 .3-9.8 .2-8.7 .3 11.7 .2-2.2 .3 1.9 .2 2.2 .3 3.1 .2-8.8 .3 3 .2 5.6 .3 3.9 .2-7.5 .2-5.6 .3 3.1 .2 5.4 .3-.4 .2-6.6 .2 5.8 .3-.4 .2-4.8 .3 1 .2 2.7 .2-3.4 .3 .1 .2 0 .2 7.7 .3-5 .2 2.9 .2-1.8 .2 5 .3-.6 .2-10.7 .2 9 .2-5.9 .3 6.8 .2-.5 .2 2 .2-4.8 .3 7.4 .2-11 .2 1.3 .2-4.5 .2 4.8 .3 3.8 .2-3.5 .2 4.1 .2 2.1 .2-3.7 .2-3.2 .2 .1 .3 1.3 .2 .5 .2-3.3 .2-3.7 .2 5.6 .2 3.4 .2-6 .2 5.1 .2-1.8 .2-9 .2 7.7 .2 7.1 .2-3.5 .2-2.5 .3-3.6 .2 4 .2-3.6 .2-1.5 .2 5.4 .2-5.2 .2 2.1 .2 3 .1-5.5 .2 4.7 .2-3.9 .2 3.9 .2-6.7 .2 7.2 .2 1 .2-3.8 .2-3.4 .2 13.4 .2-5.1 .2 3.8 .2-12.7 .2 7.4 .2-3.5 .1 4.1 .2 1.9 .2 .8 .2-4.9 .2 1.1 .2-5.8 .2 15.1 .1-8.3 .2-5.9 .2 5.9 .2 1.8 .2 .5 .2-.1 .1-4.6 .2 .5 .2 3 .2-2.2 .2-4.2 .1 .4 .2 5.1 .2 1.9 .2 3.5 .2-10.8 .1 4.1 .2-.1 .2-1.5 .2 2.3 .1 5 .2-12.3 .2 0 .2 1.3 .1 7.8 .2-2.8 .2 3.1 .1 .6 .2-1.2 .2-2.4 .2-3.2 .1 5.9 .2-4.2 .2 5.1 .1-12.6 .2 10.6 .2-17.8 .1 16.8 .2 1.7 .2-3.4 .1-1.5 .2 2.9 .2-1.8 .1 5.6 .2-5.7 .2 5.3 .1 2.7 .2-6.8 .1-7.9 .2 11.4 .2-3.8 .1-3.6 .2 3.3 .1 3.2 .2-5.3 .2 1.4 .1-2.2 .2 .8 .1-2.1 .2 2.6 .2 7.8 .1-2.7 .2-8.1 .1 7.6 .2 1.4 .1-9.5 .2 9 .1-5.9 .2 5.3 .2-5.4 .1 2.3 .2-.9 .1 5 .2-1.7 .1-5.5 .2 .6 .1 6.8 .2-6.4 .1 1.6 .2 1.3 .1-.3 .2-6.3 .1 8.8 .2-10.8 .1 8.7 .2 6.1 .1-9 .2 1.2 .1 .3 .2 3.5 .1-3.1 .1 3.2 .2 3 .1-9.7 .2 4.7 .1 3.9 .2 1.8 .1-7.4 .2 .9 .1-2 .1-1.6 .2 .7 .1-1.2 .2-1.1 .1 4.7 .2-.2 .1 3.4 .1 .6 .2-7.3 .1 4.8 .2 3.7 .1-1.5 .1 1.5 .2-3.9 .1-1.5 .2-9 .1 12.4 .1-3.8 .2-.1 .1 4.6 .1-4.4 .2 6.2 .1-9.8 .2 5.2 .1-1.2 .1 5.9 .2 2.4 .1-8.5 .1 5.1 .2-6.6 .1 5.2 .1 2.2 .2-4.8 .1 1 .1 3.2 .2-6.5 .1 2.2 .1-1.6 .2 3.4 .1 .4 .1-1.6 .2-2.2 .1 .4 .1-.2 .1-6.3 .2 1.4 .1 10.5 .1-7.2 .2 5.7 .1 2.2 .1-7.9 .1-4.1 .2 8.7 .1 2 .1-4.1" fill="none" stroke="#FFC000" stroke-width="1.4" stroke-linejoin="round"/>
<path d="M258.7 440l7.4-3.5 6.7-.5 6-.3 5.5-5.5 5.1 9.8 4.7-4.8 4.4-1.3 4.1 11.4 3.8-7.1 3.6 7 3.4-12.8 3.3 8.7 3.1-2.5 2.9 2.1 2.8-4.3 2.7-3.2 2.6 4.3 2.5 4.7 2.4-4.8 2.3-3.9 2.2 6.3 2.2-2.8 2 8.2 2.1-4.8 1.9-11.3 1.9 5.7 1.8-.4 1.8 6.6 1.7-3.3 1.7-.3 1.7 3.8 1.6-2.4 1.5-2.9 1.6-.9 1.5 10.3 1.4-5.8 1.4-1.5 1.4 6 1.4-7.1 1.3-4.2 1.3 1.8 1.3-23.4 1.3 22.3 1.2 4.5 1.2 2.3 1.2 5.7 1.1-4.9 1.2-9.5 1.1-2.5 1.1 10.8 1.1-7.1 1.1 8.4 1-.3 1-2.1 1-1.1 1 11.4 1-6.1 1-6.6 .9 5.9 1-3.5 .9 4 .9 1 .9-3.1 .9-4.9 .9 4.5 .8-9.8 .9 14.5 .8-7.6 .9 8.3 .8-5.8 .8 .4 .8-4.8 .8 4.2 .7 7.5 .8-4.7 .8-11.7 .7 13 .7-4.5 .8 .6 .7 5.8 .7-9.5 .7 2.3 .7-3 .7 12.6 .7-11.1 .7-8.9 .7 2.1 .6 12.8 .7 2.2 .6-3.7 .7 3.4 .6-1.8 .6-5.1 .7 0 .6 4.1 .6-5 .6 3.7 .6 1.3 .6 3.3 .6-1.1 .6-.6 .5-.9 .6-3.2 .6-1.7 .5 3 .6-7 .5 7.6 .6-3.8 .5-2.5 .6 3.1 .5 1.5 .5 .4 .6 2.2 .5-6.6 .5 2.8 .5-2.2 .5 4.3 .5-.3 .5 2.1 .5-2 .5 0 .5-1.2 .5 1 .5-5.5 .5 .3 .4 5.6 .5-.4 .5-3.5 .4 4 .5-.9 .5 5.9 .4-4.1 .5 2.2 .4-1 .4 2 .5-9.1 .4-3.9 .5 18.2 .4-9.3 .4-5.9 .5 11.2 .4-26.6 .4 20.1 .4 11.2 .4-16.1 .4 3.7 .5 3.5 .4-4.7 .4 2.8 .4 6.3 .4-3.5 .4-1.2 .4-.5 .3 5.8 .4-4.6 .4-.8 .4 2.5 .4-2.2 .4-.5 .4 1.3 .3-5.7 .4 3.8 .4-1.7 .3 4.9 .4-3.2 .4-.4 .3 2.9 .4 2.5 .4-3.4 .3-7.7 .4 8.4 .3-4.2 .4 3.1 .3-1.2 .4-1 .3 0 .4 3.1 .3 1 .3-2.2 .4 6.2 .3-12.2 .3 10.4 .4-3.1 .3-1.6 .3 6 .4-6.9 .3-3.1 .3 8.6 .3 2.9 .4-.7 .3-9.7 .3 .4 .3 7.6 .3-5.7 .3-.5 .3 4 .4-3.7 .3 2.8 .3-3.4 .3 .2 .3 7.2 .3-5.2 .3 2.9 .3-8.1 .3 5.6 .3 1.5 .3-.1 .3-.1 .3-2.9 .2-1.7 .3 7.1 .3-5.9 .3 11.3 .3-8.6 .3-2.8 .3 5.8 .2-5.8 .3 1.9 .3-.8 .3 1 .3-1.1 .2 8 .3-2.5 .3-9.1 .3 6.1 .2-1 .3-1.1 .3 6.4 .2-7.4 .3 4.2 .3-8.7 .2 5.4 .3 6.3 .3-6.8 .2 1.3 .3 10.1 .2-9.2 .3-2.4 .3 5.6 .2-2.8 .3-3 .2-4.4 .3 6.7 .2 6.4 .3-9.8 .2 4.9 .3-12.1 .2 7.3 .3 4.7 .2-1.7 .3 2.3 .2-7.6 .2 8 .3-2.2 .2 4 .3-.5 .2-12.7 .2 8.1 .3-5.3 .2 11.9 .3-.6 .2-2.7 .2-2.6 .3 3.2 .2-2.9 .2-6.3 .3 7.7 .2-.2 .2-4.7 .2 3.1 .3-.5 .2 5.8 .2-4.9 .2-2.1 .3 .2 .2 5.2 .2-8 .2 .2 .3-.2 .2 2.8 .2 5.7 .2-.9 .2-3.8 .3 .4 .2-2.2 .2-.9 .2 8.5 .2-6.6 .2 8 .2-4.1 .3 1 .2-6.8 .2-.5 .2 4.4 .2 1.8 .2 3.3 .2-2.9 .2-8.7 .2 6.2 .2 1.6 .2-2.3 .2-9.5 .2 3.7 .2 9.9 .3 4.6 .2-14.9 .2 9.7 .2-6.2 .2 .9 .2-2.5 .2 8.6 .2-2.9 .1 2 .2-8.2 .2 3.9 .2-3 .2 4.3 .2 5 .2-3.2 .2 4.1 .2 .8 .2 1.8 .2-7.5 .2-.7 .2 5 .2-2.9 .2-2.3 .1 .2 .2 1.3 .2-8 .2 5.8 .2-1.3 .2 .9 .2-2.5 .1 8.6 .2-.4 .2-6.6 .2 9.6 .2-7.4 .2 .8 .1 .2 .2 2.6 .2 1 .2-6.7 .2-.5 .1 2.5 .2-2.8 .2 3.6 .2-3.1 .2 4.3 .1 4.3 .2-6.4 .2-2 .2 1.1 .1-.9 .2-3.8 .2 13.6 .2-3.2 .1-1.1 .2-4.7 .2 6.6 .1-7.1 .2 2.6 .2-3.7 .2 .4 .1 1.3 .2 6 .2-1.7 .1-2.5 .2 4.6 .2-8 .1 11.3 .2-6.3 .2 .9 .1-4.7 .2-5.1 .2 7.5 .1-4.5 .2 5.4 .2-2.5 .1 4.9 .2-6.9 .1 .5 .2-1.5 .2 .9 .1-.3 .2 7.3 .1 .4 .2-6.4 .2 4.7 .1-.6 .2-2.2 .1 1.6 .2-.2 .2-5.6 .1 .1 .2 5.4 .1 4.7 .2-4.9 .1-1.7 .2-3.1 .1 5 .2-2.3 .2-1.7 .1 6.3 .2 0 .1-4.9 .2 3.8 .1 1.5 .2-3.1 .1 3.4 .2-.5 .1-3 .2 7.1 .1-10.2 .2-4.6 .1 9 .2 3.4 .1-2.1 .2-1.4 .1 4.2 .2-6 .1 2.1 .2-6.4 .1 4.4 .1 3.7 .2-.6 .1 .4 .2-.7 .1 .1 .2-3.2 .1-1.9 .2 3.7 .1-5.1 .1-2.3 .2 7.9 .1 2.1 .2 .3 .1-11.7 .2 6.4 .1 6.4 .1-3.8 .2-.6 .1-2 .2-4 .1 5.8 .1 1.1 .2 2.9 .1-4.4 .2 .8 .1 .2 .1 5.1 .2-8.6 .1 5 .1-3.9 .2 6.9 .1-12.8 .2 15.1 .1-6.1 .1 2.4 .2-1.3 .1-7.5 .1 .6 .2-2.4 .1 8.1 .1-5.7 .2 .1 .1 1.4 .1 .7 .2 2 .1 4.1 .1 1 .2-8.6 .1 1.6 .1 3.8 .2-2.7 .1 5.2 .1-9.1 .1 3.8 .2 2 .1 5.3 .1-5.3 .2 4.9 .1-3.9 .1-4.9 .1-3.9 .2 9.8 .1 .8 .1-5.4" fill="none" stroke="#70AD47" stroke-width="1.4" stroke-linejoin="round"/>
<path d="M258.7 451.3l7.4 1.7 6.7-5.2 6-3.3 5.5 1.4 5.1 7.1 4.7-7.1 4.4-1.1 4.1 8.4 3.8 2.6 3.6-16.4 3.4 6.4 3.3 .7 3.1-2.6 2.9 2.2 2.8 .1 2.7 3.6 2.6-13.2 2.5 8 2.4-1.8 2.3-15 2.2 7.5 2.2 3 2 1.8 2.1-2.9 1.9 6.9 1.9 1.5 1.8-4.7 1.8-7.3 1.7 1.1 1.7 3.5 1.7 .7 1.6 6.1 1.5-9.4 1.6 1.3 1.5 6.3 1.4-12.5 1.4-1.5 1.4 18.4 1.4-4.9 1.3-7.5 1.3 4.9 1.3-27.3 1.3 21.2 1.2 7.9 1.2-6.9 1.2 7.3 1.1-6.4 1.2 3 1.1-4.2 1.1 1.4 1.1 6 1.1 2.4 1 .3 1-6.3 1-3.2 1 2.5 1 4.2 1-1.4 .9-7.7 1 11.1 .9-3.5 .9-5.5 .9 11.7 .9-10.1 .9-.9 .8 3.4 .9 7.8 .8-4.7 .9-8.1 .8 12.3 .8-4.5 .8 1.4 .8 2.4 .7 .7 .8-3.3 .8-1 .7-4.6 .7 .2 .8 1.2 .7 4.4 .7-5.8 .7 2.7 .7-8.7 .7 9.3 .7 2.8 .7-3.5 .7-5.2 .6 12.5 .7-15.1 .6 11.6 .7-4 .6 1.4 .6-2.9 .7 5.3 .6-3.9 .6-3.6 .6 5.5 .6-1.7 .6-4.7 .6 11.1 .6-5.1 .5-3.4 .6 3.2 .6-.4 .5 1.8 .6-4.8 .5 3.2 .6 1 .5 2.5 .6-5.9 .5-1.5 .5 6 .6 3.7 .5-2.6 .5-9.1 .5 1.7 .5-3.6 .5 8.8 .5 5.8 .5-5.9 .5-1.6 .5 2.9 .5 .7 .5-.1 .5-.1 .4-9.3 .5 5.3 .5 2.6 .4 1.7 .5-7.1 .5 2.7 .4 .5 .5 4.1 .4-2.7 .4 1.4 .5 4.6 .4-4.4 .5 1.1 .4-3.7 .4-.9 .5 6.7 .4-26.3 .4 15.8 .4 11.8 .4-8.3 .4 6.4 .5-2.9 .4-4.2 .4 5.9 .4 1.7 .4 2.1 .4-6.4 .4 4.5 .3-5.6 .4 5.8 .4-.3 .4-2.1 .4 2.3 .4 1.2 .4-.6 .3-4.8 .4-3.9 .4 1.9 .3 .9 .4 4.5 .4 .4 .3-2.8 .4 .1 .4 5.4 .3-4.9 .4 2.5 .3-1.9 .4 2.3 .3 3.1 .4-1.7 .3 2.8 .4-4.4 .3 .4 .3 1.5 .4-4.5 .3 6 .3-2 .4 4.3 .3-7.8 .3-1.8 .4 3 .3-.8 .3-.4 .3 .1 .4-1.3 .3-3.8 .3 1.8 .3-.1 .3 2.6 .3-.3 .3-3.1 .4 6.9 .3-4.9 .3 8.6 .3-10 .3 6.7 .3-2.2 .3-1 .3-1.7 .3-5.1 .3 1.3 .3 5.9 .3 2.9 .3 4.1 .2-2.7 .3-3.8 .3-2.2 .3 9.6 .3-9.1 .3 6.8 .3-8.8 .2-4 .3 4.8 .3 4.7 .3-1.3 .3-2.1 .2-2.2 .3 2.3 .3 5.4 .3-14 .2 8.7 .3 1.3 .3-6.7 .2 5.8 .3-2.6 .3-.4 .2 1.3 .3 1.7 .3-1.1 .2-6.6 .3 5.1 .2 3.6 .3 2.5 .3-3.1 .2 .3 .3 1.8 .2-12.6 .3 4.4 .2 4.8 .3 1.3 .2 4.1 .3-2.8 .2 4.8 .3-3.9 .2-5.4 .3 7.9 .2 0 .2-.5 .3 4.6 .2-.5 .3-3.8 .2 1.9 .2-6.3 .3 3.7 .2-3.9 .3 .7 .2-.4 .2 1.6 .3-2.1 .2-1 .2-1.3 .3 3.7 .2 2.8 .2-6 .2 1.9 .3-6.3 .2 10.4 .2 5.1 .2-11 .3-1.2 .2 6.7 .2-4.7 .2-4.6 .3 10.5 .2-5.5 .2-1.7 .2-.8 .2 2.8 .3 2.8 .2-13.1 .2 13.8 .2-7.8 .2 4.4 .2-2.5 .2 3.9 .3-2.9 .2 1.3 .2-1.3 .2 4.2 .2-.9 .2-1.2 .2 1 .2 3 .2-5.7 .2 4.3 .2 0 .2 .7 .2-5 .2 1.3 .3-2.7 .2 2.5 .2 6.9 .2-6.6 .2-3.3 .2 5.1 .2 .7 .2 .4 .1-6.8 .2 7.3 .2-1.1 .2 1.9 .2-2.8 .2-6.8 .2 8 .2 1.8 .2 .9 .2-8.4 .2-3.2 .2 9.5 .2-6.9 .2 2.2 .2 6.5 .1-4.3 .2 3.7 .2-5.4 .2-3.5 .2 6.8 .2-4.4 .2 12.9 .1-7.7 .2-4.4 .2-3.2 .2 9.9 .2-6.7 .2 5.6 .1-3.7 .2-2.3 .2-.6 .2 3.2 .2 2.6 .1-3 .2-1.6 .2 3 .2-.2 .2 5.4 .1-6.3 .2-8.3 .2 5.4 .2 2.1 .1 3.4 .2-10.5 .2 9 .2 1.8 .1-2.8 .2-.6 .2 .4 .1 3.6 .2 .2 .2-3 .2-.6 .1-1.8 .2 7.6 .2-8.1 .1-1.9 .2 3.9 .2 8.9 .1-9.6 .2 .2 .2-2.1 .1 .5 .2 2.8 .2-5 .1 8.2 .2-1.6 .2-1.7 .1-3.1 .2 14.3 .1-17.1 .2 5.1 .2 2.4 .1-5.3 .2 3.5 .1-2.8 .2-1.8 .2-5.9 .1 5.7 .2 .2 .1 8.5 .2-.9 .2-8.2 .1 5.1 .2 .7 .1-3 .2 1 .1 .7 .2-2 .1 6.5 .2-3.5 .2-4.2 .1 1.1 .2-2.1 .1 6.4 .2-3.5 .1 6.2 .2-12.7 .1 9.5 .2 5.1 .1-3.5 .2-4.9 .1-1.8 .2-3.6 .1 4.1 .2 4.9 .1-8.1 .2 11 .1-10 .2 11.3 .1-10.3 .2 8 .1-1.3 .1-7.1 .2 3.9 .1 0 .2-2.4 .1 5.2 .2-.3 .1 3.6 .2-9.2 .1 2.8 .1 4.1 .2 2 .1-3 .2-6.2 .1 9 .2-5.5 .1 5 .1-3.8 .2 .5 .1 .2 .2 4.1 .1-9.7 .1 6.5 .2 1.8 .1-2.4 .2-.4 .1-1.4 .1 7.1 .2-5.8 .1-.1 .1-.4 .2-5.5 .1 11 .2-7.7 .1 .6 .1-1.8 .2 7.1 .1-8.3 .1-1.9 .2 6.7 .1-6.3 .1 10.4 .2-4 .1-1.8 .1 4 .2 3.4 .1-2.9 .1-6.6 .2 7.1 .1-3.3 .1 5.1 .2-9.4 .1 5.4 .1-4 .1 1.3 .2 1.1 .1 3.1 .1-5.6 .2-.1 .1 2.3 .1 2.7 .1 2.2 .2-9.5 .1 1 .1 11.9" fill="none" stroke="#F4B183" stroke-width="1.4" stroke-linejoin="round"/>
<path d="M258.7 441.4l7.4 .5 6.7-9.6 6 4.4 5.5 2.8 5.1-3.1 4.7-4 4.4 3.4 4.1-3 3.8 11 3.6-2.7 3.4-1.3 3.3 .8 3.1-3.1 2.9-.8 2.8 3.7 2.7-5.1 2.6 6.5 2.5 .4 2.4-.7 2.3 5 2.2 .3 2.2 8.5 2-8.7 2.1-8.7 1.9-8.9 1.9 20.3 1.8-9.4 1.8-.6 1.7 2.8 1.7-8.3 1.7 11.6 1.6-9.2 1.5 6.3 1.6-2 1.5 6.5 1.4-4.9 1.4 1.9 1.4 .7 1.4-1.6 1.3-.4 1.3-5.5 1.3-33.8 1.3 40.9 1.2-5.6 1.2 11.4 1.2-9.5 1.1 10.8 1.2-11 1.1-4.7 1.1 7 1.1-6.1 1.1-2.2 1 6.5 1-3.9 1 6.8 1-1.8 1 5.2 1-2.4 .9-6.1 1-3.6 .9 12.5 .9-5.6 .9-.7 .9 .8 .9 3.3 .8 .2 .9 .4 .8 4.1 .9-5.8 .8-5.7 .8 2.2 .8-1.7 .8-5.6 .7 5 .8-2 .8 5.2 .7 4 .7-8.2 .8 6 .7-5.4 .7 4.1 .7-5.8 .7 11.1 .7-2.4 .7-2.8 .7 .8 .7-2.6 .6-2.4 .7 7.7 .6-5.8 .7 .3 .6 5.8 .6-7.5 .7 4 .6 .2 .6-2.2 .6 3.1 .6-5.3 .6 7.7 .6-9.1 .6 1.6 .5 .8 .6-2.6 .6-.4 .5 9 .6-9 .5 4.9 .6-3.2 .5 3.4 .6 1.2 .5-2.3 .5-2.5 .6-3 .5 7.4 .5 .6 .5-3.1 .5 2.6 .5 2 .5-5 .5 5.9 .5-2.7 .5 2.8 .5 3.2 .5-9.6 .5-2.9 .4 5.4 .5 6.5 .5-9.2 .4 7.3 .5-2.1 .5 2.1 .4-1.5 .5-2.2 .4 6.2 .4-4 .5-1 .4 1.4 .5-4.2 .4 8.6 .4-4.9 .5 2.8 .4-28.6 .4 24.1 .4-5.1 .4 1.6 .4 4.4 .5-9.2 .4 11.2 .4-2.5 .4-.2 .4-.2 .4 .9 .4 .1 .3 1 .4-4.3 .4 7.6 .4-8.7 .4 11.2 .4-8 .4-4.8 .3 9.5 .4 0 .4 .9 .3-8.2 .4 3.3 .4 0 .3 3.1 .4 6 .4-10 .3 .1 .4-.3 .3-.7 .4 4 .3-1.2 .4-.7 .3-2.4 .4 7.2 .3-10.7 .3 8.5 .4-5.5 .3 2.8 .3 3.1 .4-.6 .3-4.2 .3 0 .4-1.1 .3-2.7 .3 4.2 .3 .9 .4-.9 .3 2.3 .3 1.6 .3-4 .3-1.7 .3-2.2 .3 9 .4-4.5 .3 5.4 .3-3.6 .3 3.6 .3-3.7 .3 1.7 .3-3.3 .3 4.2 .3-6.3 .3 10.1 .3-7.4 .3-5.9 .3-.6 .2 3 .3-.3 .3 1.5 .3 11.2 .3-4.5 .3-4.2 .3 2.1 .2 .5 .3-8.7 .3 3.5 .3 2.5 .3-1.1 .2-3 .3 7 .3-8 .3 5.6 .2-7.1 .3 7.8 .3-1 .2 4.2 .3-8.4 .3-.3 .2 6 .3-3.4 .3 7.1 .2-5.6 .3 .5 .2 3 .3-5.8 .3 7.8 .2-4 .3-4.7 .2-10.9 .3 18.2 .2-8 .3 10.9 .2-3 .3-.8 .2-.7 .3 2 .2-3.5 .3-1.3 .2-3 .2 2.3 .3 10.8 .2-6.5 .3-4 .2 6.1 .2-9.2 .3 .9 .2 6.8 .3-3.5 .2 4.3 .2-1.5 .3 1.2 .2-6 .2-2.1 .3 2.3 .2-2.2 .2 .6 .2 5.1 .3-1.7 .2 4.1 .2-10.5 .2 7.9 .3-.4 .2-.8 .2 3.9 .2-7.9 .3 3.8 .2-4.2 .2 3.9 .2 8 .2-10.8 .3-.3 .2 .5 .2-.4 .2 4.3 .2 .6 .2-6.2 .2-4.6 .3 5.4 .2 7.1 .2 3.7 .2-4.7 .2 2.2 .2-7 .2-7 .2 5.6 .2 5.1 .2-4.6 .2 8.2 .2-3.7 .2 6.3 .2-12.1 .3 3.3 .2 0 .2-.2 .2 1.9 .2-5.9 .2 10 .2-3.2 .2 4.2 .1-5.4 .2-1.8 .2 2.4 .2-4.4 .2 11.4 .2-12.5 .2 5 .2 1.3 .2-8.9 .2 10.1 .2-5.7 .2 6 .2-2.7 .2 4.1 .2 .1 .1-4.8 .2 2.5 .2-.4 .2-.3 .2-1.4 .2 .6 .2-5.3 .1 2.1 .2 7.4 .2-6.6 .2-3.7 .2 2.1 .2 0 .1 2.6 .2 3 .2-8 .2 9.3 .2-7.5 .1 2.4 .2 .3 .2-1.9 .2 10.4 .2-8.2 .1-3 .2 .5 .2 .2 .2 3.2 .1 7.9 .2-7.1 .2-.8 .2-1.9 .1 1.7 .2 2.6 .2-4.4 .1 .7 .2 3.9 .2-2 .2 0 .1-1.5 .2 5.6 .2-7.3 .1 3.1 .2 3.2 .2-4 .1-9.4 .2 8.8 .2-.1 .1-4.7 .2 5.8 .2-4.5 .1 4.5 .2 9.5 .2-15.4 .1 6.8 .2-2.2 .1 10.3 .2-4.4 .2-6.1 .1-.1 .2-1.1 .1 3.6 .2-1.3 .2-2.7 .1 4.5 .2-2.7 .1 5.7 .2-2.5 .2-.9 .1 .7 .2 1.5 .1-9.8 .2 5.3 .1-1.7 .2 8.6 .1-4.4 .2 9.2 .2-9.5 .1 .9 .2-2.4 .1-2.2 .2 8.7 .1-9.5 .2 10.7 .1-5.5 .2-.7 .1 5.4 .2-2 .1-6.5 .2-.6 .1 2.9 .2-1.9 .1-4.4 .2 2.7 .1 7.4 .2-2.1 .1 .3 .2-1.1 .1 3.7 .1-3 .2 4.3 .1-1.7 .2-2.8 .1 3.9 .2-7.9 .1-3 .2 9.3 .1 .3 .1-7.8 .2 4.5 .1 .3 .2-1.4 .1-.7 .2-.9 .1-1.6 .1 1.6 .2 1.4 .1 1.7 .2-4.8 .1 8.7 .1-1 .2-7.7 .1 2.7 .2 1.4 .1-3.1 .1-1.7 .2-4.1 .1 11.5 .1-.2 .2-3.4 .1-2.6 .2 4.5 .1 2.6 .1-2.5 .2-2.1 .1 1.9 .1 5 .2-.3 .1-6.5 .1 6.6 .2-9.8 .1-.8 .1 7.8 .2-.5 .1-3 .1-.4 .2 5.2 .1 .4 .1-1.2 .2-5.2 .1 .9 .1 1.7 .1 0 .2-2.4 .1 1 .1-.3 .2 3.3 .1-7 .1 6.7 .1-1.4 .2 3.1 .1-7.2 .1-3.5" fill="none" stroke="#FFD966" stroke-width="1.4" stroke-linejoin="round"/>
<path d="M258.7 450.3l7.4-9.4 6.7 1.2 6 7.6 5.5-1.4 5.1-9.1 4.7 11.4 4.4-7.1 4.1 12.7 3.8-6.3 3.6-11.1 3.4 4.8 3.3 1.1 3.1-2.3 2.9 4.1 2.8 4.1 2.7-4 2.6 2 2.5-4.7 2.4-1.2 2.3 3.6 2.2 4.5 2.2-5 2 3.9 2.1-8.3 1.9 4.2 1.9 4.3 1.8-4.5 1.8 7.6 1.7-4.7 1.7 6.5 1.7-1.6 1.6 1.9 1.5-3.4 1.6-2.6 1.5 1.5 1.4-2.1 1.4-5.1 1.4 13.7 1.4-7.9 1.3 3.6 1.3 4.7 1.3-48.2 1.3 36.6 1.2-6 1.2 6.2 1.2 3.7 1.1-2.4 1.2-8.6 1.1 7.4 1.1 3.8 1.1 1 1.1 .8 1 2.2 1-1.2 1-5.5 1 1.3 1-3.5 1-5 .9 7 1-1.5 .9 10.4 .9-4.1 .9-4.3 .9 1.9 .9-9.4 .8 8.9 .9 2.9 .8-1.3 .9-1.4 .8 .9 .8-5.2 .8 12.2 .8-10.5 .7 5.3 .8-12 .8 18 .7-14.2 .7 1.3 .8 12.3 .7-9.6 .7 2.6 .7-1.9 .7 4.2 .7-13.3 .7 8.4 .7-9.3 .7 9.4 .6 1.4 .7-4.4 .6 3 .7 4.9 .6-9.2 .6 7.5 .7-4.2 .6-2.8 .6 .5 .6-.8 .6 2.9 .6 5 .6-7.7 .6 4.6 .5-1.4 .6 5.1 .6-6.2 .5 5.9 .6-4.5 .5 .2 .6 2.7 .5-1.3 .6 .9 .5-.1 .5-1.3 .6 .9 .5-.2 .5 .1 .5-4.6 .5 7.3 .5-11.3 .5 2.9 .5-3.2 .5 8.9 .5-.8 .5 2 .5 5.5 .5-6.6 .4-3.2 .5-.5 .5 2.7 .4 2.8 .5-8.1 .5 2.3 .4-2.3 .5 3.4 .4 2.1 .4 1.7 .5-4.4 .4-.2 .5 6.5 .4-9 .4 3 .5-.1 .4-18.5 .4 28.6 .4-10 .4-2.5 .4 3.5 .5 .1 .4-4.6 .4 3.9 .4 6.5 .4-7 .4 .3 .4-1.3 .3 4.7 .4-3.3 .4 .3 .4 3.1 .4-8.5 .4 8.8 .4-5.6 .3-.6 .4 7.2 .4-1.9 .3-6.2 .4 3.8 .4-3.7 .3 4.3 .4-9 .4 3.3 .3 8.2 .4-1.8 .3-1 .4-.8 .3 0 .4 7.1 .3-6.1 .4-.5 .3-3.1 .3-2 .4 5.2 .3 1.7 .3-1.1 .4-1.9 .3-2 .3-3.6 .4 6.7 .3-9.1 .3 18.9 .3-10.9 .4-5.8 .3 4.1 .3-.4 .3-3.9 .3 .6 .3 1.3 .3 3.3 .4-1.8 .3 3.2 .3 .1 .3 5 .3-10.1 .3 1.3 .3 7 .3-5.8 .3 6.2 .3 1.4 .3-10.6 .3 5.5 .3 1.1 .2-.5 .3-2.5 .3-5.1 .3 4.6 .3 2.9 .3-2.2 .3 1.5 .2-1.1 .3 1 .3-10.6 .3 11.6 .3-7.6 .2 2.9 .3 3.1 .3-1.8 .3-4.5 .2 16.6 .3-11.5 .3-7.3 .2 5.6 .3 6.6 .3-3.5 .2-6.1 .3 5.3 .3 .1 .2 2 .3-.4 .2-2.2 .3 .7 .3 3.1 .2-1.8 .3 .5 .2-11.1 .3 9 .2 .3 .3-3.2 .2-1.9 .3 6 .2-1.1 .3-.8 .2 2.6 .3-1.2 .2 5 .2-2 .3-4.5 .2 4.8 .3-2.8 .2-6.4 .2 9 .3-7.1 .2-2.6 .3 7.1 .2-4.8 .2 8.6 .3-1.5 .2-7.8 .2 .2 .3 7.8 .2-2.3 .2-5.2 .2 4.1 .3-3.9 .2 4.4 .2-4.2 .2 7.6 .3-8.9 .2 2.1 .2 6.2 .2 .1 .3 1.3 .2-4.4 .2 1.3 .2-1.7 .2 4.7 .3-5.7 .2 .3 .2-.7 .2 7 .2-6.2 .2-4 .2 3.8 .3 2.2 .2-2.2 .2 2.8 .2-1.9 .2 2.6 .2-5.9 .2 2.8 .2 1.8 .2-5.2 .2 6.3 .2-2.4 .2 1.7 .2 .4 .2-1.7 .3-1 .2-1.1 .2 3.9 .2-8.6 .2 5.4 .2 10.1 .2-12.5 .2-.7 .1 4.9 .2-.7 .2-9.1 .2 9 .2-.9 .2 4.8 .2-1.8 .2 1.7 .2-1.3 .2-2.8 .2-2 .2 5.7 .2-8.7 .2 5.5 .2 7 .1-6.6 .2 3.5 .2-2 .2 1.2 .2-6.3 .2-3.5 .2 6.6 .1-1.3 .2 5.7 .2-4.6 .2-.4 .2-3.8 .2 7.4 .1-2.7 .2-2.7 .2-.8 .2 6.7 .2-3.5 .1-1.3 .2-2.5 .2 5.5 .2 .5 .2 1.4 .1 .6 .2-4.3 .2 1.2 .2-5 .1 5.5 .2 5.2 .2-2.5 .2 3.9 .1-6.4 .2-3.8 .2 3.4 .1-4.6 .2 11.4 .2-5.9 .2-.9 .1 9.6 .2-4.6 .2-4.4 .1-4.8 .2 4.8 .2 3.6 .1-5.6 .2 .8 .2 2.6 .1-1.9 .2 6.3 .2-2.8 .1 2.2 .2-8.3 .2-3.9 .1 2.8 .2 1.8 .1-4.3 .2-1.9 .2 8 .1 1.5 .2-4.8 .1 1.7 .2 5.7 .2-5.3 .1-2.6 .2 2.4 .1 4.5 .2-8.9 .2 4.1 .1-3.8 .2 4.6 .1 1.5 .2 .1 .1-10.3 .2 3.8 .1 .8 .2 2.7 .2-4.4 .1 10.4 .2-3.2 .1-4.1 .2 5.3 .1 1.3 .2-3.3 .1 0 .2-.8 .1 3.2 .2-1 .1-2 .2 2.2 .1-5.3 .2-1.3 .1 3.4 .2 2.3 .1-3.8 .2 .5 .1 7.9 .2-7.4 .1 .7 .1-.9 .2-2.4 .1 2.9 .2-3.4 .1 6.3 .2-5.9 .1 5.1 .2-2.6 .1 5.9 .1-3.8 .2-4.5 .1 3.3 .2 1.3 .1 2.6 .2-2.5 .1-3.7 .1 3.2 .2-7 .1 9.5 .2-4.8 .1 5.3 .1-5.4 .2 3.4 .1 4.7 .2-5.7 .1-4.5 .1-1.8 .2 8.2 .1-3.3 .1 1.4 .2-6.6 .1 5.4 .2-1.1 .1 7.4 .1-3.6 .2 3.3 .1-5 .1-5.6 .2 3.6 .1 11.3 .1-7.7 .2 .4 .1 1.1 .1-1.9 .2 3 .1-7.9 .1 1.6 .2 .8 .1 2.8 .1 2.9 .2 1.4 .1-5.2 .1-1.3 .1 .3 .2-4.9 .1-1.1 .1 3.3 .2 1.8 .1-4.2 .1 5.3 .1 .9 .2 2.1 .1-1.3 .1-5.4" fill="none" stroke="#FFC000" stroke-width="1.4" stroke-linejoin="round"/>
<path d="M258.7 442.9l7.4-7.6 6.7 2 6 10.9 5.5-7.3 5.1-3.8 4.7 3.4 4.4-5.5 4.1 7.6 3.8-6.4 3.6 0 3.4 5 3.3-6.2 3.1 4.8 2.9 1.4 2.8-8.7 2.7 12.1 2.6-4.2 2.5-3.6 2.4 4 2.3 3.8 2.2-.7 2.2-6.7 2 7.1 2.1-3.4 1.9 1.7 1.9-10 1.8 14.6 1.8-11.7 1.7-1.9 1.7 8.1 1.7-3.5 1.6 4.5 1.5-8 1.6 8.4 1.5-2.6 1.4-11.3 1.4 9.7 1.4 10 1.4-10.4 1.3 2.4 1.3 5.6 1.3-35.2 1.3 30.4 1.2-8 1.2 7.3 1.2-4.8 1.1 4.3 1.2 1.2 1.1-2.3 1.1-.9 1.1 10.2 1.1-.6 1-6.8 1-.3 1-.8 1-.7 1 3.4 1-7.8 .9-3.6 1 2.9 .9 11 .9-10 .9-.7 .9 15.1 .9-6.3 .8 12.6 .9-18.1 .8-.2 .9 9.3 .8-10.2 .8 2.3 .8 2.7 .8-2.5 .7 1.6 .8 1.6 .8 .2 .7 9.3 .7-13.3 .8 5.9 .7-4 .7 2.4 .7-2 .7-2.2 .7 3.6 .7-10.1 .7 9.8 .7 6.4 .6-9.9 .7 1.3 .6-3.4 .7 4.9 .6-9.3 .6 12.8 .7-2.2 .6-6.7 .6 3.1 .6-1.8 .6 4.7 .6 1 .6 .6 .6 4.9 .5-9.9 .6 4.2 .6 2.8 .5-12.8 .6 10.4 .5 .2 .6-7.4 .5 8 .6-.8 .5-2.2 .5 .6 .6-5.5 .5 5 .5-4.6 .5 5.8 .5 .5 .5-4.2 .5 3.5 .5 1.3 .5 .8 .5-1.5 .5-2.4 .5 5.8 .5-4.6 .4 1.6 .5-5.2 .5 5.9 .4-1.4 .5-3 .5 7.3 .4-3.2 .5-5.4 .4 10.1 .4 6.7 .5-14.6 .4 4.6 .5-3.3 .4 5.2 .4-8 .5 3 .4-17.9 .4 17.6 .4-2.5 .4 9.5 .4-5.8 .5 6.3 .4-5.3 .4 1.2 .4-13.6 .4 6.4 .4 4.3 .4 6.1 .3 1.7 .4-14.3 .4 9.2 .4 1.2 .4-.7 .4 1.8 .4 2 .3-11.3 .4 1.2 .4 8.6 .3-6.2 .4-2.1 .4 10.2 .3-1.3 .4-6.4 .4 5.9 .3-3.6 .4 1.5 .3-.2 .4-2.1 .3 .1 .4 4.4 .3 4 .4 .3 .3-6 .3-10.7 .4 15.9 .3-5.4 .3 3.5 .4 4.5 .3-2 .3-1.2 .4-4.4 .3 1.1 .3-4.1 .3-.8 .4 4.7 .3-1.6 .3 2.8 .3-8 .3 2.2 .3 8.6 .3-6.8 .4-1 .3-2.8 .3 4.5 .3-3 .3 2.6 .3 1.6 .3-3 .3 .9 .3-3.4 .3 12.5 .3-5.9 .3-3.6 .3 .6 .2 1.1 .3-2 .3 1.4 .3-1.8 .3 4.1 .3 6 .3-12.1 .2 5.8 .3-.3 .3-.7 .3 3.8 .3-5.1 .2 2.9 .3-8.3 .3 7.5 .3-5.1 .2 2.9 .3 3.5 .3-2.5 .2-3.5 .3 8.2 .3-9.4 .2 4.1 .3 3.5 .3-2.9 .2 1.6 .3-1.2 .2-3.9 .3 7.5 .3-7.5 .2 12.4 .3-5.1 .2-13.2 .3 11.4 .2 0 .3-.5 .2-3.3 .3 4.2 .2 5.4 .3-4.9 .2-6.8 .3 6.8 .2-1.8 .2-.4 .3 1.4 .2 .8 .3-1.8 .2-.2 .2-2.7 .3 1.4 .2-.5 .3 7.3 .2-3 .2-2.4 .3-3.9 .2 3.5 .2 1.5 .3 .9 .2-1.8 .2-4.1 .2-4.2 .3 6.2 .2 5 .2-3.6 .2 4.4 .3-3.2 .2-2.4 .2-2.5 .2 2.1 .3 4.5 .2-5.3 .2 1.1 .2-4.5 .2 7.3 .3-.2 .2 .1 .2-8.5 .2 9.3 .2-6.8 .2 8.7 .2-4.4 .3 .9 .2-3.4 .2 3.3 .2-1.7 .2 4.8 .2-1.8 .2-9.1 .2 6.8 .2-4.3 .2 5.7 .2 3 .2-.3 .2-3.8 .2-4.6 .3 5.4 .2-6.7 .2 5.1 .2-3.5 .2 4.9 .2-4 .2 6.2 .2-1.6 .1-2.9 .2-1.2 .2 5 .2-5.4 .2 1.9 .2 5.1 .2-6.4 .2-2.9 .2 8.5 .2-1.2 .2 1.9 .2-6 .2 8.6 .2-4 .2-5.5 .1 8.3 .2-3.1 .2 2.1 .2-1.9 .2-1 .2 1.4 .2-6.6 .1 1.2 .2 6.5 .2-3.5 .2-6.7 .2 1.6 .2-.9 .1 9.3 .2-2.7 .2 4.6 .2-11.2 .2 9.3 .1-2.6 .2-.2 .2-2.1 .2 1.8 .2-.1 .1-3.2 .2 1.6 .2-.1 .2 2 .1 .7 .2-2.9 .2 4.1 .2-4.7 .1 2 .2-3.9 .2 4.5 .1-.1 .2 3.9 .2 .2 .2-4 .1 1.5 .2-4 .2 6 .1-3.9 .2 .5 .2-6.9 .1 9.5 .2-3 .2 5.6 .1-7.1 .2 2.6 .2 .2 .1-3.6 .2 8.7 .2-4.6 .1-.9 .2-1.6 .1-5.6 .2 10.2 .2-5.7 .1 .3 .2 .6 .1 1.7 .2-.6 .2-.9 .1-.6 .2-2.4 .1 1.7 .2-4.6 .2 8.9 .1-3.3 .2 5.7 .1-6.6 .2-.9 .1 9.7 .2-5.9 .1-7.4 .2 2.8 .2 6.7 .1-2.1 .2-1.4 .1 1.9 .2-.9 .1-1 .2 1 .1-4 .2 10.2 .1-9.1 .2-.5 .1 4.2 .2-3.2 .1 4.1 .2-2.4 .1 4.2 .2-6.3 .1-1.1 .2-2.3 .1 4.5 .2 4.8 .1-1.4 .1-1.1 .2-2 .1 2.6 .2-1.2 .1-2 .2 6.4 .1 1.2 .2-5.1 .1-5.5 .1 10.8 .2-7.7 .1 4.2 .2-5.4 .1-2.5 .2 5.5 .1 4.1 .1-5.8 .2-.8 .1-1.4 .2 9.5 .1-6 .1 5.2 .2 1.5 .1-5.9 .2-6.7 .1 4.5 .1 4.6 .2 1.9 .1-3.8 .1-.8 .2 .2 .1 1.6 .2-3.8 .1-1 .1 4.3 .2-3.8 .1 5.3 .1-6.6 .2 5.8 .1-6.6 .1 1.9 .2 5.9 .1-6.9 .1 6.2 .2-2.5 .1 1.4 .1-1.1 .2-4.9 .1 3.7 .1 4.2 .2-7.9 .1 10.4 .1-7.5 .1 .2 .2-4 .1 4.6 .1 .9 .2-3.7 .1 2 .1-.3 .1 1.5 .2 5.3 .1-9.3 .1 .8" fill="none" stroke="#C55A11" stroke-width="1.4" stroke-linejoin="round"/>
<path d="M258.7 450l7.4-24.6 6.7 8.5 6-3.3 5.5-7.7 5.1 11.2 4.7-8.7 4.4-2.8 4.1 8.8 3.8-1 3.6-2.2 3.4 1.4 3.3-10.9 3.1 15.1 2.9 8.8 2.8 3.4 2.7-.4 2.6 6.2 2.5-8.1 2.4 .3 2.3 2.7 2.2-5.5 2.2 5.4 2 3.5 2.1-9.4 1.9-4 1.9 5.2 1.8-1.3 1.8 6.3 1.7-5.8 1.7 12.3 1.7-15.1 1.6-.1 1.5 4.1 1.6-2.6 1.5 2.9 1.4-4.7 1.4 1.8 1.4-1.4 1.4 2.8 1.3 6.1 1.3 3 1.3-38.1 1.3 34.8 1.2-5 1.2 1.8 1.2 8 1.1-1.8 1.2 1.5 1.1-11.9 1.1 4 1.1 8.1 1.1-1.3 1-3.8 1-6.4 1 4.6 1-.6 1 1 1 9.4 .9-9.4 1 4.4 .9 4 .9-15.5 .9 4.9 .9-11.2 .9 15.5 .8 .7 .9-3.4 .8 6.8 .9-7.6 .8 .6 .8-1.1 .8 5.3 .8-3.3 .7 1 .8-4 .8-3.3 .7 14.4 .7-12.6 .8 3.4 .7-1 .7-.2 .7 .9 .7 1.6 .7 1 .7-4.3 .7-5.2 .7 4.9 .6 4.4 .7 4.3 .6-7.9 .7-6.4 .6 8.2 .6-5.7 .7 4.1 .6 2 .6-.3 .6 1.8 .6-2.1 .6 3 .6-8.4 .6 2.7 .5 7.6 .6-4.2 .6 .6 .5-5.5 .6 .4 .5 4.4 .6 7.4 .5-7.9 .6 .6 .5 2.4 .5-1.2 .6 .2 .5-4.3 .5 8.5 .5-6.5 .5 6.6 .5-2.7 .5-5.8 .5-1.1 .5-3.3 .5 4.8 .5 1 .5 2.2 .5-5.8 .4 6.3 .5-3.1 .5 .2 .4 1.1 .5-.5 .5 1.9 .4-6.1 .5 9.1 .4 4.1 .4-11.3 .5 3.2 .4 3.4 .5-5.3 .4 3.7 .4 1.1 .5 .4 .4-20 .4 17 .4 10.1 .4-12.6 .4-2.1 .5 7 .4-.8 .4-1.7 .4 5.1 .4-9.3 .4 4.6 .4 3.9 .3 1.3 .4-1.4 .4-4.8 .4 4 .4 4 .4-7 .4 4 .3-2.8 .4 3.3 .4-8.8 .3 1.2 .4 7.3 .4-7.5 .3-2.5 .4 11.4 .4-3.1 .3-1.3 .4-6 .3 5.9 .4 2.5 .3-3.4 .4 .6 .3 5.6 .4-8.1 .3 7.1 .3-3.3 .4-8.2 .3 3.2 .3 5.2 .4 .5 .3-2.7 .3 4.3 .4-6.5 .3 8.6 .3-9.4 .3 7.1 .4-3.5 .3 7 .3-11.9 .3 12.1 .3-9.7 .3 1.6 .3 3.9 .4-2.2 .3-1.1 .3 4 .3-4.6 .3 4 .3-1.8 .3 4.9 .3-2.3 .3-4.3 .3 3.6 .3-2.9 .3 1.4 .3-.7 .2 .1 .3-5.9 .3 10.8 .3-5 .3 0 .3 0 .3-.6 .2-3.4 .3 5 .3 3.9 .3-2.2 .3-2 .2 10.2 .3-15.1 .3-.3 .3 5.5 .2 .4 .3-5.5 .3 7.1 .2 1.6 .3-10.4 .3 8.7 .2-11.8 .3 9.1 .3 1 .2 .3 .3-3.6 .2 6.9 .3 1.1 .3 1.1 .2-5 .3 .4 .2-11.1 .3 7.6 .2 1.7 .3-4.8 .2 .2 .3 7.8 .2-2.6 .3-3.7 .2 3.6 .3-3.9 .2 0 .2 3.9 .3 .2 .2 .1 .3 3.8 .2-5.5 .2-2.8 .3-.3 .2 3.2 .3-4.6 .2 6.8 .2-4.6 .3 8.3 .2-6.8 .2 1.1 .3-1.6 .2 0 .2-.3 .2 4.6 .3-2.2 .2 6.2 .2-10.7 .2 .1 .3 5.1 .2-5.3 .2 16 .2-13.9 .3 2.6 .2 1.1 .2 3.3 .2-4.5 .2-.8 .3-.1 .2-1 .2 1.1 .2 .1 .2 4.8 .2-8.5 .2 7.4 .3 3.1 .2-5.5 .2 3.6 .2-7.3 .2 1.8 .2-1.3 .2-2.8 .2 9 .2-4.2 .2-1.3 .2 3.9 .2-2.2 .2 1 .2-2.7 .3 6.6 .2-8.1 .2 1.6 .2-3.4 .2 2.9 .2 3.4 .2-8.3 .2 5.8 .1 5.2 .2 1.8 .2-5.5 .2-2.8 .2 7 .2-1.4 .2-2.1 .2-1.3 .2-3.4 .2 3.6 .2 .8 .2-2.8 .2-.4 .2-1.4 .2 7.3 .1-4.8 .2 4.7 .2-1.4 .2-5.9 .2 6.1 .2-5.7 .2 .5 .1 5.8 .2-1.9 .2-3.4 .2 8.2 .2-8.5 .2 9.2 .1-2.7 .2-3.8 .2 3.9 .2-2.4 .2-1.9 .1 2.9 .2 1.4 .2-5.5 .2 3.2 .2-.6 .1 2.1 .2-3.1 .2-1.5 .2-2.3 .1-1.9 .2 4.5 .2-.7 .2 5 .1 5.6 .2-4.5 .2-2.2 .1-.8 .2-2.1 .2-.9 .2-.3 .1 5.2 .2 1.1 .2-3.2 .1-3.8 .2 9 .2-8.6 .1 7.2 .2-9.8 .2 2.1 .1-1.1 .2 6 .2-5.4 .1-.3 .2 2.4 .2 4.7 .1-.5 .2 2.8 .1-4.1 .2-.9 .2-5.2 .1 10.6 .2-11.2 .1-1.1 .2 10.7 .2-2.9 .1-6.1 .2 7.6 .1-10.7 .2 7.3 .2 .8 .1 5.3 .2-8.5 .1-.1 .2 3.9 .1 .2 .2-3.1 .1 3.7 .2 5.9 .2-9.2 .1 6.1 .2-7.9 .1-.3 .2 3.4 .1 1.9 .2-4.9 .1 6.6 .2-4.6 .1 4.5 .2-4.6 .1-.5 .2 2.4 .1-.7 .2 1.2 .1-1.8 .2-.6 .1 2.5 .2 2.8 .1-5.6 .2 5.4 .1-5.5 .1 4.6 .2-3.7 .1-3.7 .2 4.7 .1 2.7 .2 2 .1-3.8 .2-5.8 .1 4.1 .1 4.4 .2-7.4 .1 8.9 .2-3.4 .1 .8 .2-4.2 .1 2.2 .1-.3 .2-.5 .1 1.8 .2-5.2 .1 13.1 .1-6.7 .2-.8 .1-4.6 .2 1.4 .1-1.7 .1 9.3 .2-14 .1 6 .1 3.6 .2-1.2 .1-.7 .2 4.6 .1-4.9 .1-.9 .2 1.1 .1 1.8 .1-1.4 .2-6 .1 8.9 .1 1 .2-1.7 .1-2.8 .1 4.4 .2 6.7 .1-12.7 .1 6.8 .2-1.9 .1 1.6 .1 0 .2-4.6 .1 .4 .1-2.1 .1 2 .2-8.9 .1 4.5 .1 3.5 .2-.9 .1-3.9 .1 8.3 .1-3.3 .2-.4 .1 6.2 .1-1.9" fill="none" stroke="#9DC3E6" stroke-width="1.4" stroke-linejoin="round"/>
<path d="M258.7 434.4l7.4 1.8 6.7-14.8 6 7.9 5.5 4.1 5.1 2.7 4.7 2.1 4.4-3.6 4.1-12.2 3.8 9.4 3.6-5.1 3.4 7.4 3.3-1.6 3.1-3.1 2.9 4.6 2.8 5.4 2.7-5 2.6 4.6 2.5-4 2.4 9.3 2.3-11.3 2.2-1 2.2 7.7 2-2.6 2.1 3.6 1.9 6.3 1.9-11 1.8-1.1 1.8-3 1.7 2.2 1.7-6.1 1.7 7.5 1.6 .8 1.5-6.2 1.6 10.5 1.5-2.9 1.4-2.9 1.4-11.8 1.4 10.2 1.4 4.2 1.3-1.7 1.3-2.1 1.3-32 1.3 32.7 1.2 3 1.2 .1 1.2-5.8 1.1 7.7 1.2-5.8 1.1 3.6 1.1 1.3 1.1 3.5 1.1-1.3 1-1.6 1-2.3 1-1 1 1.2 1 2.1 1 1.5 .9-7.7 1 2.7 .9-5.9 .9 6.8 .9-12.6 .9 15.1 .9-11.2 .8 2.8 .9 3.7 .8-5.8 .9 4.8 .8 3.5 .8 7.6 .8-7.1 .8-1.2 .7 8.6 .8-5.5 .8-10.2 .7 8.8 .7 .5 .8-3.1 .7 3.2 .7-5 .7 3.3 .7-2.2 .7 6 .7-6.4 .7-.5 .7-5.7 .6 5.3 .7 16.5 .6-9.7 .7 2.2 .6-12.2 .6 3.7 .7 1.2 .6 8.9 .6-5.6 .6 0 .6-7.6 .6 6.1 .6-.4 .6 1.6 .5-.4 .6-6.7 .6 9.8 .5-6.3 .6 5.4 .5-5.1 .6 3.6 .5 .9 .6-1 .5-3.4 .5 4.9 .6 4.2 .5-7.6 .5 1.5 .5 0 .5-2.8 .5 4.6 .5-2.2 .5 .4 .5 3.4 .5-3.1 .5 3.3 .5-4.2 .5 2.5 .4-8.1 .5 7.6 .5 1.1 .4-3.1 .5 12.1 .5-10.5 .4-.3 .5 5 .4-4.9 .4 9.6 .5-6.5 .4 4 .5-4.4 .4 2.8 .4 1.9 .5-4 .4-21.3 .4 20.1 .4 3.4 .4-2.7 .4 2.7 .5-2.8 .4-.7 .4-4.5 .4 10.3 .4-3.4 .4 1.6 .4-1.6 .3-.7 .4-1.4 .4 3.8 .4-2.7 .4-1.6 .4-.4 .4 2.8 .3-3.3 .4 8.5 .4-2.1 .3-5.6 .4 9.5 .4-1.2 .3-2.3 .4-8.7 .4 2.5 .3 5.2 .4 .2 .3-1.8 .4 5 .3-4.6 .4-3.5 .3 3.2 .4 2.5 .3 7.5 .3-7.9 .4 2.9 .3-3.7 .3 2.9 .4 4.7 .3-9.1 .3 1 .4 .2 .3 1.8 .3-3.5 .3 7.9 .4-3.3 .3-2.4 .3 2.2 .3 .4 .3-9.8 .3 4.3 .3 2.7 .4 4.4 .3-4.8 .3 5.1 .3-4.5 .3 1.5 .3-.9 .3-6.1 .3 7.4 .3-3.9 .3 7.7 .3 .2 .3-4.9 .3-.9 .2 4.5 .3-5.5 .3 5.2 .3-.4 .3-4.4 .3 1.9 .3-2.2 .2 4.5 .3-5.1 .3 4.1 .3 .2 .3-12 .2 15.1 .3-8.1 .3 5.9 .3-.5 .2-5.9 .3 9.3 .3-9 .2 9.5 .3-1.7 .3-3 .2-1.5 .3 6.7 .3-6.4 .2-2.7 .3 8.8 .2-8.6 .3-2.2 .3 10.1 .2-3.3 .3-4.4 .2-7.9 .3 9.9 .2-4.9 .3 8.4 .2-4.2 .3 4.2 .2 .2 .3 .5 .2-2.8 .3-4.3 .2 6 .2-8.8 .3 9 .2 .8 .3-3.5 .2-3.6 .2 3.7 .3 2.1 .2-6.4 .3 .6 .2-5.3 .2 12.5 .3-4.6 .2-1.7 .2-1.3 .3 2.8 .2 11.1 .2-14.1 .2-.2 .3-1.8 .2 2.1 .2 9.6 .2-9.4 .3 4 .2 .3 .2 10.1 .2-5.8 .3-15 .2 10.6 .2 2.6 .2-.3 .2-5.8 .3 7.2 .2-7.5 .2 4.8 .2-2.4 .2 1.9 .2-2.4 .2 4.2 .3-6.5 .2-2.5 .2 5.8 .2-2 .2 2.9 .2-.1 .2-.3 .2-2.5 .2-.2 .2 2 .2 .3 .2 2.1 .2-5.1 .2 5.1 .3 3.1 .2-1.8 .2-5.8 .2 4.2 .2-2.9 .2 2.5 .2-4.6 .2-5.1 .1 14 .2-6.7 .2 5 .2-4.7 .2 1.1 .2-2.7 .2 .5 .2 4.6 .2-8.7 .2 2.2 .2 4 .2-2.3 .2 4.7 .2-4.3 .2 5.5 .1 .8 .2-5.7 .2-2.3 .2-.3 .2 .6 .2 7.2 .2-3.3 .1-4.2 .2 2.3 .2 .4 .2 1.9 .2 4.7 .2-8.6 .1 1 .2 .2 .2 7.2 .2-2.7 .2 1.3 .1-2.6 .2-3.7 .2 9 .2-11.1 .2 3.4 .1-3.1 .2 4.4 .2-5.5 .2 9.5 .1 3.4 .2-5.4 .2 .6 .2-7.8 .1 2.6 .2-3.2 .2 10.1 .1-5.9 .2 1.3 .2-3.8 .2-1.8 .1 2.2 .2 7.5 .2-4.7 .1-6.1 .2 8.9 .2-10.6 .1 9.3 .2 2.3 .2-3.9 .1 2.5 .2-2.2 .2 0 .1-1 .2-.2 .2-2.4 .1 5.3 .2-.8 .1-1.3 .2-1.6 .2-.2 .1 8.5 .2-5.9 .1 9.6 .2-15 .2 1.9 .1 3 .2-2.9 .1-1.5 .2 6.6 .2-.9 .1-2.7 .2 5.9 .1-7.9 .2 2.8 .1-3.9 .2-.8 .1 10.1 .2-1.3 .2-4.7 .1-.3 .2-2.7 .1 2.7 .2 4.2 .1 2.2 .2-1 .1-3.1 .2-7.5 .1 3.2 .2 7.9 .1-.3 .2-3.5 .1-5.5 .2 .3 .1 5.4 .2-.9 .1 4.6 .2-5.5 .1 1.1 .2 5.1 .1-8.6 .1 3.7 .2 1.9 .1-2.4 .2 2.1 .1-3.2 .2 6.4 .1-3.3 .2-3.2 .1 1.4 .1-6.9 .2 .9 .1 3.3 .2 7.7 .1-1 .2 1.1 .1-7.2 .1-1.6 .2 1 .1 2.3 .2-.1 .1-4.5 .1 5.6 .2 .1 .1-1 .2 2.2 .1-.9 .1 5 .2-11.3 .1 5.4 .1 5.2 .2-3.4 .1 3.7 .2-10.7 .1 5.2 .1 .9 .2 3.2 .1-12.8 .1 6.5 .2 4.1 .1-4 .1 .2 .2-1 .1 2.8 .1-3.9 .2 5.7 .1-3.4 .1 3 .2 5.7 .1-15.2 .1 4.4 .2 5.8 .1-3.2 .1 6.5 .1-3 .2-3.4 .1-1.5 .1 4.4 .2-.2 .1 .5 .1-8.4 .1 .1 .2 3.6 .1-.1 .1 2.9" fill="none" stroke="#A9D18E" stroke-width="1.4" stroke-linejoin="round"/>
<path d="M258.7 453.2l7.4-16.3 6.7-6.7 6 4.5 5.5 4.8 5.1-8.6 4.7 2.2 4.4 3.6 4.1-.5 3.8-1.9 3.6-6.6 3.4 1.8 3.3 10 3.1 1.8 2.9 6.9 2.8-6.6 2.7 5.4 2.6 3 2.5-4.8 2.4 3.2 2.3-12 2.2 6.7 2.2 3 2-8.4 2.1 10.2 1.9 5.9 1.9 4.4 1.8-22.7 1.8 11.2 1.7-4.7 1.7 4.4 1.7 3.2 1.6-1.7 1.5-.6 1.6 10.2 1.5-2.4 1.4-4.2 1.4-4.3 1.4-2.6 1.4-.1 1.3-4.5 1.3 9.9 1.3-35.3 1.3 33 1.2-6.8 1.2 5.8 1.2-.4 1.1 4.2 1.2-.3 1.1-10 1.1 9.8 1.1 8 1.1-9.9 1 .1 1 4.9 1 1.8 1-5 1 7.5 1-8.7 .9 .4 1 2.4 .9 .6 .9-.5 .9-3.4 .9-1.3 .9 4.3 .8 2.5 .9-13.2 .8 12 .9-3.5 .8 6.4 .8-11.6 .8 4 .8-.4 .7-6.2 .8 5.4 .8-6 .7 5.3 .7-7.9 .8 7.1 .7 9 .7-12.4 .7 5.2 .7 5.1 .7-4.6 .7-1.5 .7 2.7 .7-4.8 .6 6.5 .7 2 .6 2.4 .7-5.2 .6-.9 .6 .3 .7-2.5 .6 .1 .6 3.7 .6-1.2 .6-2.7 .6 3.7 .6 .6 .6-6.1 .5 5.4 .6 2.3 .6-6.3 .5 0 .6-3 .5 7.8 .6-2.7 .5 2.2 .6-1.8 .5-4.7 .5 2.1 .6 12.1 .5-11.3 .5-1.9 .5-2.7 .5 3.9 .5 2.4 .5-1.2 .5 9.9 .5-11.5 .5 .5 .5 7.4 .5-.5 .5-2.8 .4-10.1 .5 2.1 .5 1.4 .4 7.1 .5 3.9 .5-5.5 .4-6.6 .5 .2 .4 8 .4-3.4 .5 1.6 .4 .8 .5-3 .4 1.5 .4-.8 .5-3 .4-14 .4 16.2 .4-1.7 .4 6.8 .4-6.7 .5-2.7 .4 4 .4 2.7 .4-5.1 .4 .4 .4-.4 .4-7 .3 14.2 .4-7.3 .4 5.7 .4 .6 .4-10 .4 2.2 .4 7.2 .3-1.7 .4-2.4 .4 1.7 .3-3.8 .4 3.4 .4 .9 .3 3.7 .4-.2 .4-.6 .3 2.5 .4 .5 .3-7.8 .4-4.1 .3 3.4 .4-6.8 .3 13.5 .4-10.8 .3 4.9 .3 6.7 .4-4.3 .3 .4 .3 1.7 .4 3.5 .3-7.9 .3-2.3 .4-1 .3-1.1 .3 6.9 .3-7.3 .4 7.7 .3-8.8 .3 4.3 .3 1.1 .3-6.6 .3 14.6 .3-8.4 .4 1 .3-1.3 .3-3.7 .3 1 .3 5.9 .3-5.2 .3-4.3 .3 5.8 .3 5.1 .3 3.2 .3-6.4 .3 5.9 .3-6.8 .2 3.9 .3 2.2 .3-3.6 .3-4.9 .3-2.4 .3 7.8 .3-.5 .2 3.5 .3-2.5 .3-1.1 .3-8.9 .3 12.5 .2 5.9 .3-10.4 .3-6.5 .3 5.4 .2-2 .3 2.7 .3 .6 .2 1.8 .3 0 .3 2.7 .2-11.6 .3 11.5 .3-6.7 .2-3.8 .3 1.6 .2 7 .3-2.9 .3 3.3 .2-1.8 .3-1.4 .2-15.1 .3 16.4 .2-2.6 .3-5 .2 4.5 .3-.7 .2 1.5 .3 0 .2 6.7 .3-7.6 .2 4.5 .2 1.3 .3-5.9 .2-2.8 .3 3.7 .2 1.2 .2 .8 .3 1.1 .2-1.5 .3-3 .2 1.8 .2-6.7 .3 14.1 .2-4.5 .2 6 .3-12.4 .2 2.3 .2 4.4 .2 1.7 .3-6 .2-2.9 .2 1.8 .2 3.7 .3-1.6 .2 2.4 .2-5.6 .2 3.8 .3-2.7 .2 3.8 .2-8.3 .2 5.5 .2 3.2 .3-2.3 .2 6.8 .2 1.2 .2-9.1 .2 .7 .2-2.6 .2 6.3 .3-5.2 .2 6.2 .2-3.8 .2 4.9 .2-7.6 .2-2.4 .2 7.6 .2-3.1 .2-.5 .2 7.6 .2-3.7 .2 2.2 .2-4.1 .2 .6 .3 1.2 .2-4.2 .2 5.3 .2-6.8 .2 .5 .2 6.8 .2 2.8 .2-4.1 .1-5.9 .2 3.4 .2 1.9 .2-1.5 .2 6.7 .2-.9 .2-2 .2-5.4 .2 1.8 .2 .1 .2 2.3 .2-5.5 .2 5.6 .2-1.8 .2-1.2 .1 .6 .2 5.3 .2-3 .2-4.7 .2 .8 .2 2.1 .2-1.8 .1 5.5 .2-5.7 .2 .9 .2 3.2 .2-8.1 .2 1.9 .1 1.4 .2 .4 .2-1.5 .2 3.8 .2-.6 .1-4.1 .2 1.2 .2 5.5 .2-3 .2 1.7 .1 2.8 .2 .5 .2-.7 .2 .7 .1-3.3 .2-5.9 .2 8.5 .2-1 .1-2.9 .2-2.3 .2 .5 .1 7.5 .2-12.1 .2 6.5 .2-4.6 .1 6.4 .2-.6 .2-5.9 .1 4.1 .2-1.7 .2-1.7 .1 8.3 .2-13.9 .2 7.4 .1 2.2 .2 .8 .2-3 .1-1.3 .2 .9 .2 1 .1 4.8 .2-2.2 .1-4.8 .2 1.2 .2 7.1 .1-8.6 .2 1.4 .1 6.7 .2-5.7 .2 9.1 .1-1.1 .2-4.3 .1-1.5 .2-.3 .2-1.2 .1 .8 .2-3.1 .1 3 .2-.5 .1-1.2 .2-.8 .1-1.1 .2-4.3 .2 5.9 .1 2.1 .2 1.2 .1-5.4 .2 3.3 .1 4.2 .2 4 .1-6.4 .2-1.7 .1 1.1 .2-1.7 .1 1.4 .2 2.9 .1-.2 .2 .7 .1-4.9 .2-3.9 .1 7.3 .2 2.6 .1-4.8 .2-4.9 .1 4.4 .1 1 .2 .7 .1-1.4 .2 4.2 .1-3.6 .2-2.5 .1 4.4 .2-1.3 .1-6 .1 .4 .2 9 .1 1.4 .2-7.1 .1-1.9 .2 0 .1 3 .1-1.4 .2-2.1 .1 1.4 .2-2.4 .1 10.9 .1-10.3 .2 2.4 .1 3.6 .2 4 .1-8.5 .1 3 .2-1.7 .1 3.8 .1-5 .2-1.1 .1 4.6 .2-3.5 .1 2.6 .1-2.1 .2 0 .1-5 .1 9.8 .2-10.1 .1 11.2 .1-2.3 .2 .7 .1-3.9 .1-2.9 .2 .3 .1 7.4 .1-3.6 .2-3 .1 .4 .1 2.7 .2-3.7 .1 4.5 .1 1.6 .1 2.4 .2-8.9 .1 4.7 .1 1.4 .2 2.2 .1-6.8 .1-1 .1 1.8 .2-2.4 .1 5.5 .1-.6" fill="none" stroke="#70AD47" stroke-width="1.4" stroke-linejoin="round"/>
<path d="M258.7 441.1l7.4-4.1 6.7 2.1 6 .4 5.5-6.2 5.1 2.5 4.7 5.6 4.4-5 4.1-1.7 3.8 1.6 3.6 .7 3.4 3.3 3.3-4.2 3.1-2.9 2.9 2.2 2.8 0 2.7-7.4 2.6 20.8 2.5-11.7 2.4 3.2 2.3-9 2.2 .3 2.2 5.8 2-2.9 2.1 2.4 1.9 8.7 1.9-.8 1.8-8.3 1.8 3.5 1.7-10.3 1.7 15.2 1.7-10.1 1.6-1.1 1.5 1.9 1.6 7.1 1.5-2.7 1.4 3.7 1.4-9 1.4 1.7 1.4-4.4 1.3 4.9 1.3-4 1.3-29.9 1.3 37.6 1.2-7.1 1.2 6.1 1.2-5.8 1.1 4.6 1.2-5.2 1.1 1.9 1.1 5.1 1.1-6.5 1.1 6.7 1-7.3 1 7 1-2.5 1-3.9 1 .5 1-1.1 .9 .8 1 4.5 .9-9.7 .9 8.8 .9 2.5 .9-3.2 .9-9.5 .8 4 .9 5.8 .8 0 .9 2.3 .8-5.3 .8 6 .8-.3 .8-4.1 .7 4.1 .8 6.1 .8-6.5 .7 1.3 .7 .6 .8-7.6 .7-4.1 .7 8.8 .7-3 .7-4 .7-2.5 .7 9.7 .7 3.2 .7-6.1 .6-2 .7 3.7 .6 4.8 .7 2.8 .6-2.2 .6-7.3 .7-4.6 .6 3.4 .6 3.6 .6-.7 .6-1.2 .6-.8 .6 1 .6-2.2 .5 2.3 .6 3.3 .6-3.1 .5-.4 .6-2.3 .5 2.5 .6-.8 .5-2.3 .6 1 .5 13.5 .5-9.9 .6 .7 .5 2.9 .5-4 .5-3.5 .5 4.8 .5-1.5 .5-.7 .5-.9 .5-2.3 .5 8.9 .5-2.3 .5 3.7 .5 1.3 .4-7.7 .5 3.8 .5-2.5 .4 7.5 .5-5.9 .5 5.4 .4-1.6 .5-3.2 .4 .9 .4-3.3 .5 2.5 .4 5.2 .5-5.1 .4 .7 .4 1.3 .5-1.8 .4-18.5 .4 19.9 .4-3 .4 6.5 .4-1.1 .5-2.6 .4-2.3 .4 5.6 .4-7.8 .4 1.8 .4-1.4 .4 5 .3-2.5 .4-4.7 .4 3.6 .4 5.2 .4-1.5 .4 2.8 .4-2.4 .3 0 .4 7.4 .4-6.2 .3 3.7 .4-8.8 .4 2.8 .3-6.9 .4 5.4 .4-2.8 .3 4.7 .4 2.7 .3 1 .4-3.3 .3 1.8 .4-5.5 .3 3.2 .4-2 .3 7.5 .3-3.8 .4-3.2 .3-3.6 .3 10.3 .4-2.2 .3-7.4 .3 1.8 .4 .8 .3 .7 .3 0 .3-.7 .4-3 .3 2.9 .3 5.2 .3-3.3 .3-.4 .3 2.2 .3-3.2 .4 6.9 .3-8.5 .3-2.4 .3 6.5 .3-2.9 .3 4.1 .3-1.1 .3-2.4 .3 7.7 .3-7.4 .3 6.9 .3 1.5 .3-6.2 .2-1.6 .3 1.7 .3-3.4 .3 3.4 .3 1.5 .3-7.1 .3 4.4 .2-1.1 .3 3.5 .3-2.6 .3 5.3 .3-.3 .2-5 .3 6 .3-4.9 .3-.7 .2 1.5 .3-2.3 .3-1.1 .2 3.9 .3-.9 .3 1.8 .2-5.1 .3 3.9 .3 .5 .2-5.7 .3 2.6 .2 5.2 .3-8.4 .3 5.5 .2-7.8 .3 2.9 .2-4 .3 6.4 .2 4 .3-11.1 .2 5.1 .3 1.5 .2-7 .3 2.7 .2 11.7 .3-6.3 .2 3.5 .2 4.9 .3-17.2 .2 7.1 .3 9.6 .2-7.8 .2 2.1 .3-2.6 .2 3 .3 1.9 .2-8.6 .2-.1 .3 5.3 .2-1.2 .2-7.8 .3 6 .2-1.3 .2 6.6 .2-1.6 .3 3.9 .2-15.3 .2 7.4 .2 6.5 .3 1 .2-6.3 .2-4.2 .2-1.3 .3 10 .2-5.7 .2 4.3 .2 6.1 .2-3.8 .3 0 .2-2.5 .2-2.1 .2 .3 .2 0 .2-7.6 .2 17.9 .3-12.5 .2-2.3 .2-3.3 .2 15.6 .2-10.9 .2-.4 .2 4.6 .2 2.4 .2-.6 .2-2.7 .2-1 .2 .4 .2-4.1 .2 3.9 .3 7.1 .2-9.7 .2 4.1 .2-3.4 .2 5.6 .2 1.2 .2-3.9 .2 1.5 .1 1.1 .2-8.1 .2 7.8 .2 .2 .2-2.5 .2-.9 .2 .2 .2-.3 .2-3 .2 9.5 .2-5.7 .2-4.3 .2 6.5 .2 .8 .2-5.6 .1-1.5 .2 2 .2 3 .2-3.9 .2 3 .2 5.1 .2-6.9 .1-2.4 .2 1.4 .2 10.5 .2-10 .2 2.2 .2 .6 .1-2.6 .2 3.5 .2-3.4 .2 3.9 .2-1.4 .1 4.1 .2-1 .2-5.6 .2-3.3 .2 5.2 .1-1.2 .2 3.4 .2-.8 .2-1.9 .1 2.8 .2 1.5 .2-6.4 .2 1.2 .1 4 .2-1.5 .2-.2 .1-.7 .2-4.1 .2 3.7 .2-1.9 .1-5.8 .2 8.5 .2-4.2 .1 8.3 .2-8.5 .2 10.3 .1-4.9 .2 4 .2-8.4 .1 2.8 .2 3 .2 .8 .1-1.7 .2-3.3 .2 1.9 .1 6.3 .2-8.5 .1 7.7 .2-8.8 .2 7.7 .1-1.5 .2-6.6 .1 .7 .2 5 .2-5 .1-1.7 .2 7.5 .1-2.7 .2 2.7 .2 4.6 .1-7.3 .2 .1 .1-.3 .2 7.9 .1-7.7 .2-.9 .1 4.2 .2-2.9 .2-5.5 .1 4.7 .2 2.9 .1 .4 .2-.4 .1 .4 .2-4.8 .1 10.1 .2-10.9 .1 6.4 .2 3.9 .1-5.3 .2-6.5 .1-2.6 .2 8.1 .1-5.3 .2-.2 .1 1.9 .2 .1 .1 5.9 .2 0 .1-.3 .1-1.2 .2-.1 .1-4.9 .2 2.9 .1 1.6 .2-5.7 .1 5.6 .2-9 .1 8.9 .1 7 .2-7 .1-3.3 .2 8.1 .1-4.2 .2 1.3 .1-3.5 .1-3.7 .2 1 .1 4.3 .2-4.3 .1 .7 .1 5.6 .2-5.3 .1 1.9 .2-4 .1 7.3 .1-3.2 .2-1.6 .1-.6 .1-1.7 .2 4.2 .1 2.3 .2-12.6 .1 6.1 .1 2.2 .2 5.4 .1-4.6 .1-.8 .2 3.5 .1-8 .1-3.6 .2 12.4 .1 .8 .1-3.7 .2-1.6 .1-1.6 .1 2.7 .2 3.7 .1-.5 .1 1.2 .2-5 .1-7.8 .1 9 .1-.9 .2-7.7 .1 8.8 .1-8.7 .2 8.1 .1-1.8 .1 6.3 .1-5.4 .2 2.1 .1-7.3 .1 6.9" fill="none" stroke="#4472C4" stroke-width="1.4" stroke-linejoin="round"/>
<path d="M258.7 425.1l7.4-1 6.7-.1 6-2.2 5.5 2.8 5.1-1.7 4.7-.4 4.4-6.6 4.1 8.3 3.8-5.3 3.6 .2 3.4 3.9 3.3-1 3.1-6.5 2.9 6.6 2.8 8.1 2.7 11.4 2.6-11 2.5 6 2.4-6.3 2.3 8.7 2.2-5 2.2 7.1 2 1.5 2.1 0 1.9-.4 1.9-7.5 1.8-2.8 1.8 .7 1.7 2.3 1.7-.9 1.7 6.1 1.6-10.7 1.5 6.7 1.6-3.5 1.5 6 1.4-2.5 1.4 6.2 1.4-2.1 1.4-3.3 1.3-5.6 1.3 9 1.3 1.2 1.3 6.6 1.2-14.2 1.2 5.2 1.2-2.1 1.1 3.2 1.2-1.7 1.1-10.9 1.1 12.4 1.1-2.5 1.1 2.6 1-3.5 1 .4 1-5.7 1-.2 1 .7 1 1.9 .9 8.3 1-14.2 .9 4.5 .9 13.5 .9-6 .9 .5 .9-1.5 .8-9.9 .9 12.4 .8 1.9 .9-7.2 .8 14.8 .8-9.5 .8-8.4 .8 1.7 .7 12.6 .8-5.9 .8-3.3 .7 2.2 .7-1.1 .8 1.3 .7-7.3 .7 4.2 .7 2.2 .7 .3 .7-4.7 .7 7.2 .7-4.3 .7 7.1 .6-11.8 .7 2.5 .6-.6 .7 3.9 .6-1.4 .6 3.1 .7-1.6 .6 .4 .6 1.3 .6-3.9 .6 1.9 .6-2 .6 1.1 .6 1.8 .5-3.9 .6 .8 .6 4.1 .5-1.8 .6-3 .5 7.6 .6-3.4 .5-.8 .6-.1 .5 1.6 .5-5.3 .6-1 .5 5.4 .5 1.5 .5 .2 .5-5.1 .5-2.7 .5 4.8 .5-1.4 .5 3.9 .5-5.7 .5 3 .5 3.1 .5-4.2 .4 2.8 .5 0 .5 1.4 .4-.3 .5-.5 .5 .6 .4-3.5 .5 8.8 .4 .9 .4-.5 .5-9.6 .4 3.3 .5 8.1 .4-10 .4 4.6 .5 2.8 .4-16.5 .4 12.7 .4 1 .4-1.8 .4-2.6 .5 6.3 .4-.7 .4 4.2 .4-3.3 .4-4.2 .4 .3 .4 4.2 .3 0 .4 3.1 .4-6.8 .4 3.5 .4-1.1 .4-.1 .4 3.3 .3-.2 .4-1.1 .4-1.6 .3-.7 .4 1 .4 .9 .3 1.5 .4 1.9 .4-3.8 .3 .8 .4 1.4 .3-6 .4 3.6 .3 3.7 .4-1.2 .3-.8 .4 2.2 .3-10.2 .3 9.2 .4-3.9 .3 10.1 .3-15.6 .4 8.2 .3 7.5 .3-5.8 .4-.5 .3 .4 .3 .6 .3-2.3 .4 0 .3 .3 .3 2.3 .3-3.8 .3 6.7 .3-1.2 .3-1.8 .4-4.1 .3-1.7 .3 1 .3 3.8 .3-5.4 .3 10.4 .3-2.1 .3-2.8 .3 .5 .3-6.6 .3 7.9 .3-.6 .3-4.8 .2-1.2 .3 6.3 .3-1 .3-2.4 .3-.1 .3 .5 .3 4.1 .2-2.2 .3 1.6 .3 2.9 .3-6.2 .3-10.3 .2 12 .3-.7 .3 .1 .3-5.5 .2 6.9 .3-2.2 .3-.7 .2-2.4 .3 3.3 .3 2.7 .2 3.1 .3-6.1 .3 3.2 .2-6.8 .3 2.5 .2 1.6 .3 .6 .3-3.7 .2 6.9 .3 .4 .2-17.7 .3 15.7 .2 2 .3-.8 .2-1.3 .3 1.7 .2-4.3 .3-5.7 .2 12.6 .3 1.7 .2-13.4 .2 4.3 .3-.1 .2 1.7 .3 1.1 .2-7 .2 9.2 .3-5.2 .2 3 .3-5.3 .2 .8 .2-2.3 .3 0 .2 5.1 .2-4.1 .3 2 .2 .5 .2-3.8 .2 5.8 .3-9.2 .2 3.2 .2 5.9 .2-7.1 .3 9.6 .2-7.7 .2 .2 .2 6.4 .3 .3 .2-11.7 .2 11.2 .2 .6 .2-3.6 .3 1.2 .2-2.3 .2 9.3 .2-9.4 .2-3.7 .2 4.6 .2-1.7 .3 .3 .2 6.2 .2-2.5 .2 1.4 .2-1 .2-2.3 .2 .6 .2-1.3 .2 5 .2-6.8 .2 3.6 .2 .6 .2-2.6 .2 1.2 .3 .3 .2-5 .2 7.9 .2-8.2 .2 4.9 .2-.3 .2-3.5 .2 4.6 .1 2.7 .2-1.9 .2 5.8 .2-7.3 .2-1.9 .2-.9 .2-3.2 .2 9.3 .2 .5 .2-13.1 .2 6.6 .2 5.1 .2 2.8 .2-10.4 .2 5.5 .1 4.5 .2-7.5 .2 6.8 .2-7.5 .2 6.5 .2-7.6 .2 10.7 .1-1.3 .2-7.5 .2 4.2 .2 4 .2-8.1 .2 7.9 .1-2.4 .2 2.4 .2-8.9 .2 .9 .2-.1 .1 6.5 .2-4.2 .2 8.1 .2-9.8 .2 4.6 .1 .8 .2 .5 .2 3.9 .2-10.3 .1 7.9 .2-7.1 .2 5.1 .2-1.2 .1-3.1 .2 1.3 .2-2.2 .1-1.4 .2 3.9 .2 1 .2 1.7 .1-7.6 .2 1.8 .2 2.2 .1 9.2 .2-6.5 .2-3.3 .1 1.2 .2 1.2 .2 1 .1-1.2 .2-3.3 .2 1.5 .1 2.2 .2 2.1 .2-7.8 .1 6 .2 2 .1-.3 .2-1.6 .2-3.6 .1-4.4 .2 7.2 .1-2.8 .2 5.9 .2-.6 .1-3 .2-2.4 .1-.5 .2 .7 .2-.4 .1 3.1 .2-3.1 .1-4.2 .2 11.8 .1-9.8 .2 8.6 .1 3.9 .2-9.2 .2-3.1 .1 3.2 .2-.4 .1 1.7 .2 5 .1-4.8 .2 0 .1-5.1 .2 6.7 .1 1.4 .2-3.3 .1-8.2 .2 6.6 .1-2.5 .2 3.3 .1 1.5 .2 5.3 .1 .6 .2-6.1 .1 4.3 .2-10.1 .1 6.9 .1 .4 .2-8.1 .1 3 .2-5.9 .1 13.8 .2-4 .1-4.6 .2 2 .1 9.1 .1-5.5 .2 .9 .1-.7 .2-4.8 .1 7.7 .2-10.5 .1 5 .1 1.8 .2 .4 .1-2.7 .2-3.4 .1 3.9 .1 7.1 .2-8.8 .1 8.4 .2-7.5 .1 5.4 .1-7.6 .2 .9 .1 3.4 .1-3.6 .2 3.9 .1 1.2 .2 5.7 .1-8.8 .1 .6 .2 2.5 .1 1.2 .1-.4 .2 1.8 .1-6.6 .1 3 .2 1.2 .1 1.1 .1-7.9 .2 7.6 .1 4.2 .1-5.3 .2 1.7 .1-9.9 .1 3.9 .2-5.4 .1 6.3 .1 1.3 .1-2.1 .2-.5 .1 .6 .1 .8 .2-5.6 .1 12.2 .1-9.2 .1 8.9 .2-13.2 .1 12.6 .1-2.1" fill="none" stroke="#7030A0" stroke-width="1.4" stroke-linejoin="round"/>
<path d="M258.7 461.8l7.4 0 6.7-4 6 2.3 5.5-6.4 5.1 7.3 4.7 .8 4.4-1.8 4.1 1.8 3.8 0 3.6-2.1 3.4-3.8 3.3 5.5 3.1 .4 2.9-5.5 2.8 1.2 2.7 4.3 2.6-4.8 2.5 1.7 2.4 3.1 2.3-5.6 2.2 3.8 2.2-.5 2-6.5 2.1 1.3 1.9 7.5 1.9-5.8 1.8-3.5 1.8-3.4 1.7 6.3 1.7 1.6 1.7 1.3 1.6-2.7 1.5 3.4 1.6-11.4 1.5 11.5 1.4-9.1 1.4 6.9 1.4-6.7 1.4 8.1 1.3-7.4 1.3 10.9 1.3-3.6 1.3 3.6 1.2-6.1 1.2 1.6 1.2 4.5 1.1-2.6 1.2 2.6 1.1-8.4 1.1 4.8 1.1-4.7 1.1-3.4 1 9.2 1-3.8 1 2.7 1 1.8 1 .1 1-6.4 .9 5.5 1-.2 .9 2 .9-8.4 .9 6 .9-4.8 .9 8 .8-7.7 .9 .7 .8 3.5 .9 3.5 .8 0 .8-17.1 .8 17.1 .8-7 .7 5.9 .8 1.1 .8-11.2 .7 11.2 .7-6.3 .8 3.6 .7 .7 .7 2 .7-11 .7 6 .7 5 .7-7 .7 5.4 .7-7.7 .6 9.3 .7-7.3 .6 4.4 .7 .4 .6-2.9 .6 4.4 .7-9.4 .6 3 .6-3.7 .6 3 .6 2.3 .6-1.2 .6-3.1 .6 7.7 .5-1.3 .6 3.7 .6-.2 .5-4.8 .6 2.2 .5-4 .6 1.8 .5 3.7 .6-6.8 .5 4.3 .5-4.8 .6-4.7 .5 9 .5 .4 .5-8.9 .5 10.2 .5-3.2 .5 2.7 .5-.1 .5-4.3 .5 .4 .5 .1 .5-5.7 .5 10.8 .4-4.2 .5-6.6 .5-2 .4 1.6 .5 11.2 .5-15.3 .4 6.9 .5 1.5 .4-2.9 .4 7.5 .5-3.2 .4-5.8 .5 7.7 .4-5.1 .4 1.4 .5 4.1 .4-27.2 .4 22.6 .4-4.5 .4 2.3 .4 .2 .5 .2 .4 .2 .4-.3 .4 9 .4-5 .4-4.8 .4 4.5 .3 1.5 .4-4.4 .4-1.4 .4 .9 .4-6.1 .4 10.7 .4-5 .3 5.4 .4-6.6 .4 1.2 .3 4.8 .4-10.8 .4 4.9 .3 6.7 .4 1.1 .4-1.6 .3-5.8 .4 3.3 .3-1.7 .4 .1 .3 .2 .4-.4 .3-2.3 .4 .6 .3-4.4 .3 5.3 .4 6.5 .3 1 .3-9.4 .4-.4 .3 4.4 .3-4 .4 4.9 .3-7.4 .3-6.9 .3 12.7 .4-7.3 .3 3.6 .3 1.9 .3-3.5 .3 5.6 .3 .6 .3-3.1 .4 4.8 .3-7.6 .3 7.6 .3-2.5 .3-2.8 .3 3.4 .3-5.3 .3 2.7 .3 .6 .3 4.4 .3-2.7 .3 2.1 .3 1.8 .2-10.8 .3-.3 .3 3.6 .3 6.6 .3-10 .3-.1 .3 9 .2-3.6 .3 1.9 .3-12.1 .3 6.6 .3-.5 .2-.1 .3 6.7 .3-4.4 .3-2.7 .2-2.1 .3 2.2 .3 8.1 .2 2.2 .3-10.1 .3-.1 .2 8.6 .3-3.6 .3 1.5 .2 2.2 .3-12 .2-.4 .3 7.8 .3-5.9 .2 4.8 .3 5.6 .2-25.4 .3 23.5 .2-1.3 .3-1 .2 4 .3-3 .2-4.1 .3 4.4 .2-2.8 .3-3 .2-.9 .2 6.3 .3-1.5 .2-5.6 .3 8 .2-1.3 .2-9.1 .3 8 .2-.1 .3 3.3 .2-.7 .2-.4 .3-.3 .2 2.7 .2-7.1 .3 .5 .2 2.5 .2 4.5 .2-8.1 .3-1.2 .2 2.5 .2 5.7 .2-7.4 .3 5.3 .2 .1 .2-4.2 .2-3.7 .3 1.2 .2 3 .2-1.4 .2-1.9 .2-7.7 .3 10.9 .2-.9 .2 2.7 .2-3 .2 .8 .2-3.1 .2 4.2 .3 2.2 .2 5.3 .2-6.9 .2 4.8 .2-3.3 .2 2.2 .2 3.4 .2-7.4 .2 1.7 .2-5.2 .2 1.9 .2-5.3 .2 3.5 .2 3.3 .3-1.4 .2 3.3 .2 1.9 .2-7.8 .2 11.2 .2-6.2 .2-3.8 .2 3.1 .1-1.9 .2 3.4 .2 1.8 .2-6.7 .2-.4 .2 10.3 .2-3.9 .2-2.8 .2 1 .2 3.9 .2-5.4 .2-2.3 .2-6.7 .2 15.5 .2-6.7 .1 1.3 .2 .7 .2-3.6 .2 2.2 .2-3.4 .2 7.5 .2-7.6 .1 9.5 .2-5.5 .2 2.9 .2-11.2 .2 9.1 .2-.7 .1-.4 .2-7.8 .2 3.2 .2 3.6 .2-.6 .1-4.9 .2 5.9 .2 3.3 .2-11.7 .2 9.8 .1-1.5 .2-3.4 .2 6.5 .2 3.7 .1-6.8 .2 3 .2-4.5 .2-1.5 .1 .9 .2-1.8 .2 3.4 .1 4.2 .2 .4 .2-.1 .2-7.8 .1 8.9 .2-3.9 .2-6.7 .1 7.3 .2 3.6 .2-.7 .1 .6 .2-2.5 .2 3.4 .1 .6 .2 0 .2-9.2 .1 2 .2 3.2 .2 .5 .1 2 .2-3.9 .1-5.9 .2 7.4 .2-7 .1 14.3 .2-4.5 .1-2.7 .2 2.2 .2 1.8 .1 5.1 .2-9.5 .1-2.7 .2-.9 .2 2.4 .1-8.9 .2 7.7 .1-2.7 .2-2.5 .1 5.8 .2-3.4 .1 11 .2-10.5 .2 1.6 .1-3.8 .2 1.9 .1 4.8 .2-3.5 .1 2.1 .2 5.1 .1-3.1 .2-3.7 .1 3.4 .2 5.2 .1-12 .2 4.7 .1-2.9 .2 6.5 .1-4.2 .2-1.1 .1 13 .2-9.9 .1-5 .2 8.1 .1 1.6 .1-9.5 .2-3.3 .1 14.4 .2-9.7 .1 8.2 .2-6.5 .1 2.5 .2-4 .1 2.5 .1-2.4 .2 1.9 .1-1.5 .2-3.6 .1 12.1 .2-8.8 .1 1.1 .1-2.2 .2-1.6 .1 9.6 .2-6 .1 6.2 .1-5.9 .2-2.9 .1 8.9 .2-3.4 .1-2.1 .1 2.9 .2-2.6 .1 5.7 .1-5.1 .2 .2 .1 1.6 .2-2.8 .1 4.2 .1-5.6 .2-.2 .1 .3 .1 2.2 .2-6.1 .1 7 .1-6.1 .2 4.8 .1 4.3 .1-10.2 .2 11.8 .1-14.2 .1 9.9 .2 2.9 .1 3.3 .1-13.1 .2 4 .1-3.8 .1 13.5 .1-4.6 .2-8.5 .1 2 .1 5.3 .2-9.7 .1 11.5 .1-3.7 .1-4 .2 .8 .1 6 .1 .5" fill="none" stroke="#7030A0" stroke-width="1.4" stroke-linejoin="round"/>
<path d="M258.7 461.8l7.4-6.4 6.7 .9 6-.9 5.5 4.6 5.1 1.8 4.7 0 4.4 0 4.1-5 3.8-2.3 3.6 6.1 3.4 1.2 3.3 0 3.1-1.3 2.9-.4 2.8-5.9 2.7 3.2 2.6 4.4 2.5-10.9 2.4 1 2.3 5 2.2-13.2 2.2 15.3 2-3.1 2.1-.3 1.9-2.1 1.9-3.3 1.8 6.6 1.8-3.4 1.7 8.4 1.7-2 1.7-9.5 1.6 1.9 1.5 .9 1.6 8.7 1.5-11 1.4 4.3 1.4-5 1.4 7 1.4-5.3 1.3-.2 1.3 3.8 1.3-5.8 1.3 6.8 1.2 0 1.2-5.1 1.2 7.5 1.1-3.4 1.2 5 1.1-5.1 1.1-4.9 1.1 11.4 1.1-9.2 1 1.1 1 2.4 1-8.4 1 9.9 1-11.3 1 15.5 .9-7.8 1 7.8 .9-5.6 .9 4.8 .9-.4 .9 .5 .9-5.7 .8-.4 .9-3.8 .8 8.6 .9-1.7 .8-8.2 .8 6.2 .8 3.4 .8-4.2 .7 4.5 .8-2.1 .8 4.1 .7-.9 .7-8 .8-8.3 .7 15.1 .7-2.6 .7-1.8 .7 1.4 .7-.4 .7-.9 .7 2.4 .7 4 .6-1.2 .7-6.4 .6-2.1 .7 8.7 .6-7.4 .6 1.5 .7 .2 .6 .9 .6 0 .6-3.4 .6-1.2 .6-.1 .6 5 .6 4.7 .5-7 .6 2.2 .6-1.3 .5-2.6 .6 2.6 .5 1.9 .6-2.7 .5-1.3 .6 7.7 .5-8.8 .5 .8 .6-.9 .5 .4 .5 2.3 .5-1.6 .5-4.8 .5 3.3 .5 3.1 .5-4.1 .5 4.5 .5 3 .5-10.7 .5 5.7 .5-2.8 .4 3 .5-5.9 .5 6.3 .4 5 .5-3.6 .5-8.7 .4 10.1 .5-3.6 .4-.8 .4 10.1 .5-21.1 .4 9.7 .5 1.7 .4 5.2 .4-5.2 .5-4.3 .4-21.5 .4 25.3 .4 3.2 .4-4.5 .4 .9 .5 6.3 .4-.8 .4-8.5 .4 5.2 .4-6.6 .4 10 .4-7.6 .3 .8 .4-2.7 .4 6.9 .4-5.5 .4-6.2 .4 5.7 .4-4.5 .3 6.9 .4 .6 .4-3.8 .3 .7 .4 3.6 .4-1.9 .3-2.1 .4 5 .4-.6 .3 .3 .4-.5 .3-1.4 .4-1.5 .3-2.6 .4 7.7 .3-5.4 .4 8.3 .3-7.7 .3 3.1 .4 1.1 .3-13.1 .3 5.7 .4 .3 .3 1.5 .3 4.5 .4-4.2 .3 4.2 .3-4.2 .3 4.7 .4-6.6 .3 2.1 .3-.6 .3-6.5 .3 8.4 .3-6.1 .3 2.8 .4-1 .3 5.2 .3-3.4 .3 4.9 .3 2.8 .3-8.1 .3-1.1 .3 2.9 .3-3.5 .3 3 .3-9.8 .3 16.6 .3-5.5 .2-1.9 .3-3.3 .3 9.3 .3-5.8 .3 2 .3-6.3 .3 4.9 .2 3.9 .3-2.4 .3 4.3 .3-2.2 .3 1.5 .2-3 .3 .6 .3-3.9 .3-.9 .2 4.2 .3-4.6 .3-4.6 .2 8.2 .3-5.3 .3-1.2 .2 6.2 .3-2.6 .3-1.6 .2 9.4 .3-6 .2-.2 .3 4 .3-11.3 .2 4.4 .3 4.6 .2-19.3 .3 19 .2-3.6 .3-3.9 .2 7.8 .3-.4 .2-.8 .3 1.9 .2-3.9 .3 4.7 .2-12.7 .2 7.4 .3 1 .2 6 .3-9.2 .2 5.7 .2 2.1 .3-5.1 .2 .5 .3 1.3 .2 2.3 .2-6.3 .3 5.9 .2 7.2 .2-8.2 .3-3.7 .2-1.3 .2 7.8 .2-7.4 .3 1.5 .2 4.9 .2 2.1 .2-4 .3-4.2 .2 7.2 .2-2.8 .2-4.6 .3 2.7 .2-4.6 .2 4.1 .2 .7 .2-4.2 .3 12.2 .2-11.1 .2 3.3 .2 5.5 .2-1.9 .2-2.8 .2 4.7 .3-12.2 .2 8.8 .2-3.8 .2 8.4 .2 4.7 .2-8.9 .2 1.5 .2-6.1 .2 3.3 .2-3.6 .2 5.7 .2-4.4 .2 3.1 .2-5.9 .3 10.3 .2-3 .2 2.2 .2-7.5 .2-.1 .2-.4 .2-.9 .2 .8 .1 3 .2 2.9 .2-4.2 .2 2 .2-10.1 .2 12.2 .2-8.6 .2 5.1 .2-7.5 .2 9.4 .2 2.7 .2-2.9 .2 2.9 .2-6 .2 3.6 .1 .2 .2-5.8 .2 8 .2-9.7 .2-1.9 .2 4.4 .2-.4 .1 4 .2-.3 .2-7.1 .2 10.6 .2-9.4 .2 7.5 .1 .7 .2 1.8 .2-5.2 .2 6.6 .2-8.2 .1 4.2 .2-5.8 .2 1.6 .2 1.7 .2 4.3 .1-4.8 .2 3 .2-4.6 .2 7.1 .1-11.4 .2 6.5 .2 5.1 .2-3.8 .1-4.8 .2 11.4 .2-9.9 .1 2.9 .2-1.5 .2 3.6 .2-3.6 .1 5 .2-8.9 .2 10.7 .1-3.4 .2-11.8 .2 10.4 .1-11.2 .2 9.1 .2-2.4 .1 2 .2 5.1 .2-2.9 .1 4.9 .2-2.3 .2-4.9 .1-3.8 .2 10.1 .1-3.4 .2-5.6 .2 2.2 .1 .7 .2 5.1 .1-3.2 .2 0 .2 .2 .1 .8 .2-4.5 .1 2.5 .2 1.5 .2-2.6 .1-1.2 .2-.9 .1 3.1 .2-.7 .1 5.2 .2-5.1 .1-1.2 .2 1.7 .2 4.4 .1-4.1 .2 2.7 .1-.5 .2-.4 .1-1.8 .2-.4 .1 1.7 .2 .2 .1 3.4 .2-7.8 .1 5.7 .2-9.1 .1 8.6 .2 .1 .1 2.1 .2-2.5 .1-4.9 .2 3.9 .1-1.9 .2-4.2 .1 6.2 .1-1.6 .2 2.3 .1 1.4 .2-8.3 .1 3.5 .2 6.6 .1-5.6 .2 1.3 .1-1.2 .1 .8 .2 .3 .1 4.7 .2-4.4 .1 3.4 .2 2.5 .1-6.6 .1 2.7 .2 1.4 .1-2.7 .2 7.2 .1-10.6 .1 3.3 .2 1.3 .1-7.5 .2 9 .1-12.1 .1 15.8 .2-7.7 .1-1.7 .1 2.7 .2 .8 .1-5.7 .2-.2 .1 3.1 .1 3.9 .2-2.3 .1 .6 .1 2.8 .2-6.6 .1 4.6 .1-.4 .2-.7 .1 2 .1-3.5 .2 1.6 .1-.6 .1-.3 .2-1 .1-6.3 .1 10.9 .2-2.5 .1 1.1 .1-6.1 .1 9.3 .2-4.7 .1-6.9 .1 13 .2-4 .1-2.5 .1-1.9 .1 1.9 .2-.2 .1 5.5 .1-2.7" fill="none" stroke="#7030A0" stroke-width="1.4" stroke-linejoin="round"/>
<path d="M258.7 461.8l7.4 0 6.7-5.6 6 5.6 5.5-1.2 5.1 1.2 4.7 0 4.4-3.8 4.1 3.8 3.8-2 3.6 2 3.4 0 3.3 0 3.1 0 2.9-8 2.8-.8 2.7 6.4 2.6 1.9 2.5-8.8 2.4 1 2.3-2.5 2.2 2 2.2 .8 2 1.2 2.1 1.6 1.9-1.6 1.9 6.8 1.8-7.9 1.8-.9 1.7 8.8 1.7-5.1 1.7-8.2 1.6 4.9 1.5 0 1.6 2.2 1.5-3 1.4 9.2 1.4 0 1.4-3.9 1.4-3.7 1.3-6.1 1.3-1 1.3 3.8 1.3 2.7 1.2 8.2 1.2-10.5 1.2 6.7 1.1-1.5 1.2 5.3 1.1-9.3 1.1-1.6 1.1 7 1.1-9.8 1 8.1 1 2.7 1 .5 1 .2 1 2.2 1-5 .9-.8 1-3.2 .9 1.3 .9 1.4 .9 1 .9-7.1 .9-.6 .8 4.9 .9 3.7 .8-4.5 .9-1.7 .8 9.1 .8-8.1 .8 4.1 .8-5.9 .7 11.4 .8-5.2 .8 5.2 .7-.8 .7 .8 .8 0 .7-5.3 .7-8 .7 3.4 .7 2.6 .7-1.8 .7 .3 .7-2.5 .7 5 .6 3.5 .7 2.8 .6-4.3 .7-1.7 .6 2.4 .6-1.7 .7-2.4 .6 3.2 .6-2.2 .6-1.4 .6 8.1 .6-10.3 .6 6.2 .6-4.3 .5 2.2 .6 3.5 .6-1.4 .5-2.1 .6-3.6 .5 1.5 .6-5.9 .5 4.2 .6-4.4 .5 10.7 .5-8.1 .6 1.9 .5 3.2 .5-3.1 .5-3.1 .5 9.4 .5-1 .5-4.7 .5 3.3 .5-6.5 .5 .5 .5-4.3 .5 11.5 .5-7 .4-2.5 .5 6 .5-3.5 .4 1.7 .5 2.4 .5-6.9 .4 4.5 .5-6.8 .4 14 .4-8 .5 2.6 .4 4.5 .5 3.7 .4-8.6 .4 5 .5-.3 .4-32.7 .4 27.5 .4 1.4 .4-.2 .4-2.3 .5-7.7 .4 3.7 .4 6.9 .4-2.4 .4-4.1 .4-.1 .4 10.7 .3-8.3 .4-5.3 .4 7 .4 1.8 .4-2 .4-5.6 .4 8.9 .3-9 .4 7.5 .4-3.6 .3-7.7 .4 8.4 .4 2.3 .3 .8 .4-5 .4 3.8 .3-6.1 .4 10 .3-6.6 .4 5.5 .3-11.7 .4 6.9 .3-1.9 .4 .4 .3-1.3 .3-1.6 .4 5 .3-4.5 .3 0 .4 2.6 .3 1.2 .3 8.4 .4-3.8 .3-4.2 .3 3.1 .3-1.7 .4-4.4 .3 5.5 .3-9.4 .3 8.6 .3 .8 .3-5.7 .3 .6 .4 .9 .3 4.2 .3-4.4 .3-1.3 .3 5.8 .3 .9 .3-6.2 .3-6.3 .3 9 .3-3.6 .3 2.5 .3-1.2 .3 3.5 .2-5.1 .3 8.2 .3-4.8 .3-.7 .3-2.9 .3 3 .3-.8 .2-3.3 .3 .4 .3 5 .3-8.5 .3 1.9 .2 3.8 .3 1.8 .3-.3 .3-5 .2 7.4 .3 1.4 .3-2.2 .2 0 .3-4.3 .3-.2 .2-2.3 .3-2.1 .3 9.1 .2-3.6 .3 4.6 .2 .6 .3-3.9 .3 .6 .2 1.1 .3-.6 .2-16.5 .3 18.4 .2-4.2 .3-3.2 .2 1.3 .3-1.2 .2 8.6 .3-.3 .2-3.9 .3 1.8 .2-4.2 .2 1.9 .3-1.7 .2 4.2 .3-11.2 .2 7.1 .2 3.9 .3 2.9 .2-4.4 .3 5 .2-6.7 .2 .1 .3 2 .2-2.9 .2 5.3 .3 2.7 .2-3 .2 7.2 .2-5.5 .3-2.8 .2 .9 .2-3.9 .2 7.8 .3-8.8 .2 1.6 .2 2.6 .2 2.2 .3-5.2 .2-1.6 .2 .4 .2-4.3 .2 3.3 .3 3.8 .2-2.6 .2 6 .2-6.4 .2-4.3 .2 6.8 .2-3.5 .3 6.7 .2-5.7 .2-1.3 .2 5.4 .2-8.1 .2 7.5 .2 1.8 .2-7.2 .2 3.1 .2-2.9 .2 4.7 .2-4 .2 10.3 .2-3.8 .3-9.8 .2 8.5 .2-7.5 .2 5.1 .2-3.9 .2 8.6 .2-3.4 .2 3.8 .1-3.8 .2 2.4 .2 .9 .2-3.6 .2 2.9 .2-3.8 .2-2.7 .2 4.7 .2-1.6 .2-9.6 .2 11.7 .2-7.6 .2 .9 .2 11.9 .2-4.8 .1-4.6 .2 5.1 .2-.8 .2-5 .2-2.7 .2 2.1 .2 3.1 .1 3 .2-5.8 .2 0 .2-.6 .2 6.2 .2-4.7 .1 5 .2 2 .2-4.7 .2 2.9 .2-1.3 .1 1.6 .2-1.4 .2-4.7 .2-3.2 .2-1 .1 2.1 .2 4.4 .2 3.1 .2-1.5 .1-1.9 .2 3.7 .2-.7 .2-8.2 .1 9.3 .2-1.3 .2 1.1 .1-1.3 .2-5.3 .2-1.7 .2 13 .1-8.6 .2 1.3 .2-2.4 .1 7.2 .2-2.1 .2-7.5 .1 2 .2 2.2 .2 4.9 .1-6.9 .2 3.2 .2-.4 .1-1.6 .2 4.2 .2-7.4 .1 5.1 .2-3.4 .1 2.5 .2 1.4 .2 2.2 .1-2.5 .2 2.4 .1-6.9 .2-1.3 .2 3.2 .1-3.9 .2 2.9 .1 3.8 .2 .9 .2-6.9 .1 8.6 .2-4.3 .1 2.4 .2 1.9 .1-2.8 .2 1.8 .1 1.7 .2-3.7 .2 1.3 .1-3.5 .2 4.7 .1 1.6 .2-.5 .1-2.5 .2 0 .1-2 .2-3.1 .1 0 .2-3.2 .1 7.8 .2-6.4 .1 .2 .2 10.1 .1-7.3 .2 1.4 .1 .7 .2-5.9 .1 3.6 .2 6 .1-8.3 .1 3.3 .2 .2 .1-1.3 .2 2.6 .1-1.7 .2-2.3 .1 3.2 .2 4.2 .1-8.4 .1-2.2 .2 9.8 .1-2.5 .2-1.3 .1 3.5 .2 1.4 .1-7.6 .1 6.5 .2-5 .1-7.2 .2 5.6 .1 .7 .1 1 .2 5.5 .1-7.4 .2 10.3 .1-5.2 .1-1.3 .2 3.4 .1-6.4 .1 3.8 .2-1.5 .1-.2 .2-1.7 .1 4.2 .1-1.5 .2-7.5 .1 5.1 .1 4.1 .2 2.1 .1-4.4 .1 1.6 .2-6 .1 1.9 .1 2.5 .2-2.6 .1 .4 .1-1.7 .2 5.2 .1 .4 .1 2.8 .2 1.1 .1-5.6 .1-3.4 .1 5.1 .2-4.7 .1-.2 .1 6.7 .2-7 .1 4.7 .1-6.7 .1 2.3 .2-1.3 .1 3.9 .1 6.6" fill="none" stroke="#7030A0" stroke-width="1.4" stroke-linejoin="round"/>
<path d="M127 334.9l43.9 13.1 25.7 3.1 18.2 8.9 14.1 .8 11.6 3.6 9.7-111 8.5 120.1 7.4-2 6.7-5.7 6 6.3 5.5 4.9 5.1 7.5 4.7-40.4 4.4 44.1 4.1-5.5 3.8-13 3.6 13.5 3.4-54.7 3.3 44.9 3.1-5.3 2.9 23.5 2.8-6.4 2.7-12.9 2.6 13.9 2.5-10.4 2.4 6.4 2.3-17.3 2.2 15.5 2.2 17.2 2-3.6 2.1-2.5 1.9-7.5 1.9 16.4 1.8-29.4 1.8 11.7 1.7-8.4 1.7 7.2 1.7-4.1 1.6-2.6 1.5 3.7 1.6-.3 1.5-3.5 1.4-3.7 1.4-.2 1.4-3.1 1.4 .1 1.3-1.8 1.3-27.6 1.3-54.2 1.3 67.8 1.2-7.7 1.2 4.3 1.2 3.9 1.1 13.2 1.2-.5 1.1 4.5 1.1-1.9 1.1 8.9 1.1-2.3 1 4.5 1-1.4 1 1.5 1 4.3 1 4.4 1-3.1 .9-1.4 1 0 .9 3.5 .9-7.7 .9 1.6 .9 2.7 .9 1 .8 8.4 .9-6.5 .8-2.8 .9 6 .8-4.2 .8 2.6 .8 .5 .8 3.1 .7 1 .8-1.4 .8-3.8 .7-.3 .7 1.6 .8 1.3 .7-5 .7-2.2 .7 3.8 .7 1.6 .7 .1 .7 5.6 .7-4.3 .7 5.8 .6-5.5 .7-.1 .6 5.4 .7-1 .6-41 .6 34.1 .7-2.5 .6 1.9 .6-4.3 .6 16.2 .6-10 .6 .8 .6-.7 .6 1.4 .5 2.8 .6-5.6 .6 12.5 .5-4.9 .6 6.2 .5-7.9 .6-8.6 .5 13.8 .6-5.9 .5-2 .5-7.3 .6 13.9 .5-8.8 .5 5.5 .5-1.1 .5-.6 .5-2.7 .5 3.2 .5 .3 .5-3.3 .5-6.5 .5 15.9 .5-12.6 .5-13.9 .4 19.2 .5-.7 .5 4 .4 7.1 .5-9.9 .5-1.5 .4 4.4 .5-1.7 .4 .1 .4 2.2 .5-13.1 .4 31.8 .5-7.8 .4-14.4 .4 5.5 .5-23.2 .4-56.1 .4 79.2 .4-2.9 .4 2.1 .4-4.7 .5 8.8 .4-2.3 .4-4.6 .4-.3 .4 10.7 .4-11.9 .4-.8 .3 8.4 .4-3.2 .4-.3 .4-3.3 .4 8.7 .4-2.7 .4-6.6 .3 1.5 .4-1.9 .4 9.8 .3-6.2 .4 .4 .4 1.1 .3 9.4 .4-17.8 .4 6.5 .3-7.7 .4 5.2 .3 1.3 .4-4.7 .3-.4 .4 8.2 .3-4.3 .4-.3 .3 .6 .3 3.2 .4 2.1 .3-.5 .3-5.8 .4-1.9 .3 3 .3 1.4 .4 1.7 .3-2.3 .3-4 .3 3.2 .4 2.4 .3 8.1 .3-43.1 .3 31.2 .3 7.2 .3-1 .3-6.6 .4 5.3 .3-7.6 .3 3.8 .3-1.2 .3-1.3 .3 13.9 .3-8.8 .3 5.1 .3-3.5 .3-1.5 .3-5.7 .3 5.4 .3-7.1 .2 9.2 .3-2 .3-.7 .3-3.5 .3 4.2 .3 2.3 .3-1.2 .2 4.5 .3-11.2 .3 2.2 .3 1.3 .3 .7 .2 3.7 .3-.8 .3-5.2 .3 6.8 .2-.1 .3-9.9 .3 .1 .2 5.3 .3-1 .3 1.5 .2-5.3 .3 7.9 .3-2.2 .2-1.7 .3-4 .2 7.1 .3-2 .3 3 .2 .7 .3 0 .2-68.3 .3 61.8 .2 6.1 .3-5.7 .2-1.8 .3-.8 .2 10.4 .3 1.6 .2 1.4 .3-10.8 .2 8.9 .2-4.9 .3 5.5 .2-3.1 .3-1.6 .2-2.6 .2-1.6 .3 2.2 .2-7.9 .3 6.3 .2 9.1 .2-7.8 .3-3.8 .2 4.6 .2-4.4 .3 8.1 .2 .5 .2-6.2 .2 .1 .3 .5 .2-.7 .2-1.3 .2 9.9 .3-12.1 .2 3.8 .2-.8 .2 3.1 .3-2.9 .2 3.1 .2-3.6 .2 4 .2-1.2 .3-3.4 .2 5.4 .2-7.7 .2 8.3 .2-.3 .2 2 .2-6.1 .3 2.6 .2 1 .2 1.3 .2 .1 .2 2.9 .2-7.4 .2-.9 .2-.6 .2 2.5 .2-3.3 .2 1.8 .2-2 .2 4.6 .2 1.1 .3-6.1 .2 5.7 .2-8 .2 7.1 .2 2 .2-2.8 .2-5.9 .2 .7 .1 7.7 .2 8.1 .2-15 .2 3.3 .2 1.4 .2-.7 .2 4.9 .2-9.2 .2 3.6 .2-3.6 .2 5.4 .2 .7 .2-2.6 .2-6.5 .2 4.2 .1 13.6 .2-10.3 .2-2.4 .2 1.9 .2-2.9 .2 2.6 .2-1.6 .1 1.8 .2 4.1 .2-4.9 .2 .8 .2 .8 .2-2.2 .1 3 .2-45 .2 44.8 .2-3.4 .2 1.3 .1-2.2 .2 .8 .2-1.7 .2 7.6 .2-4.5 .1 4.1 .2-7.4 .2 4.6 .2 5.9 .1-5.8 .2 4.6 .2-8.2 .2 5.4 .1 7.7 .2-7.5 .2-5.8 .1 2.9 .2 4 .2-5.3 .2 .3 .1-3.8 .2 2.4 .2 2.2 .1 4.8 .2-4.4 .2-.1 .1 1.2 .2-1.7 .2 6.7 .1-7.3 .2 2.3 .2-1.4 .1 1.8 .2 .9 .2-2.3 .1-2.2 .2 4.6 .1-2.7 .2 4.5 .2-4.9 .1 1.7 .2 5.3 .1-10.1 .2 8.5 .2-4 .1 5.8 .2 1.7 .1-9.9 .2 8.5 .2 2.8 .1-7.7 .2 5.5 .1-5.5 .2-8.4 .1 9.2 .2-3.1 .1-.9 .2 1.3 .2 1.5 .1-6.7 .2 6.6 .1-1.8 .2 1 .1 5.7 .2-6.6 .1 1.1 .2-2.4 .1-.2 .2-3.6 .1 14.3 .2-5.6 .1-.3 .2 1.6 .1-5.3 .2 2.1 .1-.9 .2 7.3 .1-2.8 .2-3.7 .1 1.6 .1 .6 .2-2 .1 .7 .2 3.2 .1-11.2 .2 9.6 .1-5.4 .2 .2 .1-1.5 .1 6.3 .2 1.8 .1-6 .2 .8 .1 10.7 .2 1.1 .1-8.5 .1-40.3 .2 39.1 .1 .1 .2-1.8 .1-.4 .1 1.2 .2 4.1 .1-2 .2-5.3 .1 5.8 .1-3.5 .2-2.5 .1 1.6 .1-3.5 .2 9.5 .1-9.8 .2 5.2 .1-3.6 .1 3.7 .2-11.7 .1 7.5 .1 11.2 .2-3.8 .1-.2 .1-7.7 .2-1.3 .1 7.3 .1-1.2 .2-.9 .1-.7 .1 3.4 .2 7 .1-11.1 .1-4.7 .2 9.9 .1-8.5 .1 1.8 .1 8.2 .2-5.6 .1 5.1 .1-8.8 .2 4.6 .1 2.6 .1-.9 .1 1.4 .2-5.1 .1-1.2 .1 2.9" fill="none" stroke="#44546A" stroke-width="1.3" stroke-linejoin="round"/>
<path d="M127 334.6l43.9 11.6 25.7 5.8 18.2 6.7 14.1 .2 11.6 3.6 9.7-104.9 8.5 112.4 7.4 5.2 6.7-6.1 6 2.4 5.5 14.1 5.1-2 4.7-34.9 4.4 40.9 4.1-22 3.8 2.1 3.6 10.7 3.4-47.9 3.3 39.1 3.1-3.4 2.9 21.2 2.8-14.1 2.7-5.6 2.6 9.2 2.5-6.6 2.4 12.3 2.3-23.3 2.2 20.6 2.2-.2 2-3.4 2.1 13.7 1.9-10.9 1.9 14.4 1.8-11 1.8-2.7 1.7-1 1.7 1.8 1.7-4.7 1.6-.1 1.5 .2 1.6-4.8 1.5 2.3 1.4-3.5 1.4-3.2 1.4 9.6 1.4-12.6 1.3-11.9 1.3-11.3 1.3-46.1 1.3 52.2 1.2 .5 1.2 4.1 1.2 2.6 1.1 11.6 1.2 5 1.1-4.7 1.1 5.9 1.1 7.4 1.1 6.3 1-10.2 1 2.3 1 3.1 1-3.8 1-2 1 7 .9-5.8 1 4 .9 2.7 .9-6.5 .9 7.8 .9-.4 .9 2.1 .8 .2 .9 3.6 .8-11.5 .9 7.7 .8-3.5 .8 14.3 .8-9.1 .8 .2 .7 9.8 .8-14.8 .8 11.4 .7-10.1 .7 9.8 .8-3.3 .7-3.7 .7-4.2 .7 13.3 .7-8.2 .7-4.2 .7 10.4 .7-10.4 .7 8.8 .6-2.8 .7-5.6 .6 8.3 .7-11 .6-29.3 .6 32.3 .7-1.2 .6 .7 .6-.8 .6 4 .6 2.5 .6-.1 .6 .3 .6-2.3 .5 2.6 .6-9.3 .6 11.4 .5-3 .6 .8 .5 4.1 .6-10.7 .5 10.8 .6-5.2 .5-1.5 .5-4.3 .6 12.7 .5-14 .5 9 .5 11.5 .5 0 .5-15.2 .5 5.3 .5-.5 .5-.2 .5-7.2 .5 17 .5-16.5 .5-7.2 .4 13.7 .5-.3 .5 1 .4-9.8 .5 8.4 .5-1.7 .4 11.2 .5-9.5 .4-1.2 .4 4.1 .5-9.5 .4 14.2 .5 6.1 .4-14.9 .4 .4 .5-15.6 .4-52.5 .4 70.5 .4 1.6 .4-.3 .4-7.7 .5 5.4 .4 10.5 .4-8.8 .4-5 .4 4 .4-3.6 .4 .5 .3 8.8 .4-.7 .4-5.5 .4-8.1 .4 8.8 .4 .2 .4 1.7 .3 .9 .4-5.9 .4 2.4 .3 7 .4 1.9 .4-6.8 .3 1.3 .4 3.4 .4 1.3 .3-11.3 .4 .3 .3 4.9 .4-3.7 .3-3.5 .4 7 .3 9 .4-8.1 .3 1.5 .3-2.9 .4-.1 .3-2.5 .3 .5 .4 3.6 .3-4.3 .3 1.3 .4-1.8 .3 1.8 .3 6.4 .3-.2 .4-5.2 .3-1 .3-26.3 .3 28 .3 8.6 .3-4.2 .3-6.1 .4-.6 .3 7.8 .3-5.4 .3-4 .3 7.3 .3-.8 .3 1.4 .3-5.4 .3 9.5 .3-7.2 .3-2.5 .3 2.2 .3-4.2 .2 1.4 .3 4.6 .3 2 .3 .3 .3-6.4 .3 2.6 .3-1 .2 4.2 .3-8.5 .3 1.2 .3 .5 .3 7.6 .2-15.1 .3 7.1 .3 7.9 .3-8.4 .2 4.5 .3 2.6 .3 0 .2-5.2 .3 .8 .3 .4 .2 1.7 .3 3.3 .3-5.2 .2 2.1 .3-.2 .2-3.3 .3-4.5 .3 9.5 .2-6.5 .3 6.9 .2-61.3 .3 55.7 .2-2.7 .3 4.4 .2 1.4 .3-2.4 .2 11.6 .3-9 .2-5.1 .3 6 .2-7.2 .2 1.4 .3 .4 .2 .4 .3-7.2 .2 4.5 .2 10.4 .3-3.1 .2-.4 .3-6 .2 .9 .2 5.1 .3-2 .2-3.6 .2 1.3 .3 5.5 .2 4.3 .2 .7 .2-3.5 .3-10.2 .2 9 .2-1.8 .2-9.7 .3 6 .2 7.6 .2-5.3 .2-3.8 .3 7.4 .2 .7 .2-3.4 .2 .2 .2 3 .3 3.7 .2-8.2 .2 3.1 .2-.4 .2-3.2 .2-4.3 .2 6.4 .3 1.7 .2-4.2 .2 2.3 .2-1 .2-.6 .2 7 .2-7.4 .2 .4 .2 3.5 .2-1.3 .2 1.2 .2 .9 .2-1.2 .2-.7 .3-1.9 .2 1.4 .2 1.7 .2-2.4 .2 4.1 .2 1.2 .2-1.7 .2 5.2 .1-9.1 .2-2.3 .2 4.6 .2 2.6 .2-11.6 .2 4.4 .2-.3 .2 13 .2-15.6 .2 1.6 .2-.1 .2 4 .2 7 .2-16.6 .2 9.9 .1 3.2 .2-10.7 .2 9.8 .2 1.4 .2-6.9 .2 8.6 .2-1.7 .1-9.4 .2 12.3 .2-6.3 .2 5.3 .2-.7 .2-7.5 .1-1.5 .2-34.5 .2 38.6 .2-.6 .2 1.7 .1 3.6 .2-3.6 .2-3.1 .2 .1 .2-6.1 .1 9.3 .2-1.8 .2-7.3 .2 10.2 .1 1 .2-1.5 .2 .5 .2-2.3 .1-.6 .2 3.6 .2 1.5 .1-4.4 .2 4.8 .2-1.7 .2-4.7 .1 1.8 .2 3.6 .2 1.8 .1-1.8 .2 2 .2-8.1 .1-.9 .2 1.8 .2 0 .1 3.2 .2-2.6 .2 .4 .1 0 .2 2.2 .2 2.4 .1-5.5 .2-.4 .1 6 .2-3.5 .2-.8 .1-2.2 .2 8.9 .1-1.2 .2-.1 .2-.6 .1-.6 .2-7.8 .1 8.1 .2-13.2 .2 7.4 .1-1.6 .2 2.9 .1-3.6 .2 1.9 .1-1.7 .2 .9 .1-.1 .2 .9 .2-2.9 .1 4.3 .2 2.2 .1-8.5 .2 8.4 .1-3.6 .2-6.8 .1 11 .2-1.5 .1 1.6 .2 1.1 .1-6.4 .2 3.4 .1-1.3 .2 7.4 .1-8.8 .2 4.8 .1 4.9 .2-4.9 .1 3.6 .2-12.8 .1 13.1 .1-7.9 .2 5.3 .1-.9 .2 1.9 .1-10 .2 9.3 .1-1.9 .2-3.5 .1 2.4 .1-4.3 .2 5.8 .1 3.5 .2-8.3 .1-3 .2 2.7 .1 5.5 .1-34.1 .2 27.6 .1 1 .2-.6 .1 .4 .1 2.2 .2 1.9 .1-2.6 .2-4.4 .1 5 .1-7.4 .2 9.7 .1 2.3 .1-12.8 .2 6.4 .1 .9 .2-.3 .1 1.4 .1 5.7 .2-1.5 .1 3.3 .1-8.5 .2 9.9 .1-11.7 .1 6.9 .2-.8 .1-5.4 .1-1.7 .2 11 .1-10 .1 2.4 .2-3 .1 2.8 .1 2.1 .2 1.4 .1-2.2 .1 2.2 .1 2 .2-10.4 .1 1.8 .1 6.8 .2-5.1 .1-2.4 .1 10.1 .1-3.4 .2-8.1 .1 2.2 .1 .1" fill="none" stroke="#BFBFBF" stroke-width="1.3" stroke-linejoin="round"/>
<path d="M127 332.6l43.9 13.6 25.7 4.3 18.2 8 14.1 1.1 11.6 2.4 9.7-102.6 8.5 110.6 7.4 2.1 6.7-7.3 6 7.4 5.5 3.1 5.1 8.2 4.7-26.3 4.4 28.4 4.1-2.9 3.8-11.8 3.6 14.3 3.4-50.5 3.3 36.2 3.1-5 2.9 25.2 2.8-12.5 2.7-4.4 2.6 3.9 2.5-1.5 2.4 5.1 2.3-17.5 2.2 17.8 2.2-4 2 7.3 2.1 12 1.9-9.4 1.9 15.9 1.8-35.6 1.8 17 1.7-10.4 1.7 4.3 1.7 2.1 1.6-2.2 1.5 16 1.6-18.6 1.5-3.1 1.4 2.1 1.4-7.8 1.4-.5 1.4-1.1 1.3-11.3 1.3-10.1 1.3-54.1 1.3 52.8 1.2 7.3 1.2 4.2 1.2 3.1 1.1 7 1.2 .7 1.1 3 1.1 2.9 1.1 1.1 1.1 1.2 1 10.4 1-7.6 1-1.2 1 5.5 1-3.1 1 4.4 .9-1 1 8.4 .9-7.1 .9-5.1 .9 5.4 .9-1 .9 2.1 .8-1.9 .9 2.8 .8-3.9 .9 6.3 .8-2.7 .8 .9 .8 7.4 .8-3.2 .7 1.6 .8-6.8 .8-.4 .7 5.4 .7-6.3 .8 15.2 .7-12.1 .7-2 .7 .4 .7 1.6 .7-.1 .7 5.4 .7 1 .7 1.3 .6-3.1 .7-7.4 .6 8.6 .7-8.6 .6-29.8 .6 35.9 .7-1.9 .6 .3 .6-.6 .6 3.6 .6 16 .6-5.4 .6-9.4 .6-3.4 .5 15.1 .6-20.5 .6 12.3 .5-2.4 .6-2.2 .5 6.6 .6-12.8 .5 12.7 .6-4.2 .5-1.8 .5-6.1 .6 11.7 .5-8.7 .5 1.9 .5 3 .5 1.5 .5-5.2 .5 7.9 .5-5.7 .5-1.3 .5-2.8 .5 11.2 .5-7.9 .5-20.9 .4 21.4 .5-.6 .5-.4 .4-5.5 .5 5.4 .5 6.1 .4-1.3 .5-.3 .4-2.3 .4 3.3 .5-13 .4 16.9 .5 7.3 .4-13.3 .4 .7 .5-14.7 .4-53.4 .4 73.4 .4-8 .4 4.5 .4 .3 .5-1.3 .4-3.5 .4-5.4 .4 9.5 .4-4 .4 2.3 .4 4 .3-.2 .4 2 .4-8.4 .4 6.6 .4-1.3 .4-4.4 .4 2.9 .3-.1 .4-1.7 .4 .1 .3 4.4 .4-9.3 .4 2.9 .3 5 .4-1.4 .4-3.4 .3 6.7 .4 .2 .3-7.2 .4 .3 .3 3.7 .4-2.6 .3 1.9 .4 2.4 .3 4.6 .3-9.2 .4 10.8 .3-5.9 .3 1.9 .4-13.3 .3 .6 .3 6.1 .4 2.7 .3-.4 .3 .9 .3-13.2 .4 13.9 .3 5.2 .3-33.5 .3 27.3 .3 8.4 .3-10.8 .3 0 .4 3.2 .3-6.5 .3 5.7 .3 .1 .3-2.2 .3 6.2 .3-6.8 .3 5.7 .3-4.5 .3-3.4 .3 6 .3 1 .3-9.3 .2 6.6 .3-4.2 .3 1.9 .3 .6 .3-4 .3 5.9 .3 6.1 .2-5.2 .3 1.4 .3 2.1 .3-2.9 .3-3.3 .2-.3 .3 1.7 .3 .8 .3-.8 .2 2.1 .3 1.6 .3-3.7 .2-3.2 .3 6.4 .3-3 .2-2.7 .3 6.7 .3-5.5 .2 .9 .3-3.5 .2 7.7 .3-1.8 .3-8 .2-2 .3 5.9 .2-54.3 .3 59.1 .2 4.7 .3-10.6 .2 5.9 .3-.8 .2-1.7 .3-1.4 .2 4.1 .3-2.2 .2 8 .2-11.3 .3-1 .2 6.8 .3-3.3 .2 2.6 .2-10 .3 10.5 .2 6 .3-9.6 .2 4.4 .2-14.6 .3 15.3 .2-12.6 .2 3.4 .3 13.3 .2-8 .2 1.3 .2-.4 .3-7.1 .2 .7 .2 8.7 .2-7.2 .3 2.8 .2 2.4 .2-3.6 .2 1.4 .3-4.2 .2 7.2 .2-4.6 .2 10.9 .2-13.9 .3 11 .2-1.7 .2-4.9 .2 1.4 .2-1.8 .2 2.6 .2-3.5 .3-4.2 .2 6.3 .2 5.9 .2 .8 .2-7.6 .2 3.5 .2-3.7 .2 .9 .2-1.7 .2-7.9 .2 7.6 .2-1.3 .2 4.8 .2 1.7 .3-4.6 .2 .8 .2 5.7 .2-8.9 .2-3.4 .2 6.4 .2 1.7 .2 2.3 .1-3.6 .2 3.3 .2 .4 .2-1.9 .2-4.4 .2 7.2 .2-.8 .2 3.2 .2-6.7 .2 10.4 .2-11.6 .2 8.5 .2-9.6 .2-2.5 .2 7.7 .1 3.8 .2-2.3 .2-3.3 .2 2 .2-.6 .2-3.3 .2-5 .1 5.4 .2 2.4 .2-4.4 .2 2 .2 .7 .2 2 .1 1.6 .2-41 .2 35.1 .2 3.3 .2 1.9 .1-5.4 .2 2.8 .2 5.1 .2-2.4 .2-.8 .1-10.5 .2 13.5 .2-.9 .2-9.2 .1-1 .2 7.4 .2-7 .2 5.9 .1 3.4 .2-3.3 .2-4.1 .1-2.3 .2 6.9 .2 4.4 .2-6.2 .1 2.8 .2 .8 .2-4.4 .1 .8 .2 5.8 .2-2.1 .1-8.5 .2 6.5 .2-8.1 .1 17.1 .2-5.4 .2-4.5 .1 4.1 .2-4.7 .2 .4 .1 5.8 .2-12.9 .1 .2 .2 14.1 .2-5.7 .1 4.1 .2-3.6 .1 .2 .2-.9 .2-5.5 .1-.4 .2 6.2 .1-3 .2-1 .2 9.1 .1-6.7 .2 4.4 .1-8.8 .2-.4 .1 3.8 .2-4.7 .1 7.1 .2 2.1 .2-8.7 .1 5.5 .2-1.3 .1 6.7 .2-8.3 .1 3.2 .2 .3 .1 3.9 .2-1.4 .1-1.4 .2-2.3 .1-4.6 .2 12.4 .1-1.5 .2-1.8 .1-.9 .2 .5 .1 1.3 .2-2 .1-4.6 .2 3.5 .1 2.1 .1-6.2 .2 1.9 .1 4.5 .2-8.9 .1 7.6 .2 1.4 .1-5.6 .2 4.9 .1 .8 .1-9.7 .2 7.4 .1 2.1 .2-4.7 .1 1.4 .2 7.3 .1-6.1 .1-32.2 .2 32.2 .1 7.7 .2-7.6 .1 .9 .1-8.3 .2 13.4 .1 1.9 .2-7.7 .1-5.7 .1-.9 .2 0 .1-2.9 .1 3.9 .2 1.8 .1-.5 .2-2.5 .1 6.2 .1-1.7 .2 4 .1-4 .1-3.8 .2 1.2 .1 3 .1-7.4 .2 12 .1-3.5 .1 1.6 .2-1.9 .1 7.9 .1-6.5 .2-.8 .1 6.4 .1-1.4 .2-4.7 .1-.7 .1-3 .1-3.9 .2 5.4 .1 .2 .1 2.3 .2-4.5 .1 3.9 .1-1.7 .1 5.8 .2-3.5 .1 0 .1-7.3" fill="none" stroke="#F4B183" stroke-width="1.3" stroke-linejoin="round"/>
<path d="M127 335.5l43.9 11.7 25.7 5.7 18.2 5.5 14.1 3.9 11.6 .7 9.7-106.3 8.5 109.4 7.4 18.7 6.7-14.5 6 5.6 5.5-1.7 5.1 8 4.7-36.5 4.4 39.1 4.1-22.7 3.8 7.4 3.6 15.1 3.4-53.8 3.3 40.9 3.1-3.6 2.9 25.4 2.8-14.8 2.7 1.3 2.6-2.8 2.5 .9 2.4 1.2 2.3-16.6 2.2 19.2 2.2-2.4 2 .7 2.1 11.9 1.9-.1 1.9-.8 1.8-21.3 1.8 14.2 1.7-10.5 1.7 6.3 1.7-5.4 1.6 5.2 1.5 .3 1.6-3.2 1.5-4 1.4-1.8 1.4-1.3 1.4-2.4 1.4-4.3 1.3-10.8 1.3-11.7 1.3-53.6 1.3 52.7 1.2 7.4 1.2 4.1 1.2 3.9 1.1 8 1.2 3.2 1.1 1.3 1.1 1.5 1.1 1 1.1 4.9 1 2.5 1-1 1 6.3 1 .7 1-6.1 1 11.2 .9-3.3 1 1.4 .9-1.2 .9-6.8 .9 2.8 .9 3.5 .9-2.6 .8 9.1 .9-8.9 .8-2.2 .9 8.7 .8-2.1 .8-.4 .8 2 .8-.6 .7 3.2 .8-6.2 .8 1.8 .7-2.1 .7-.3 .8 7.2 .7-4.4 .7-.4 .7-4.5 .7 4.8 .7 2.3 .7 3.5 .7-5.3 .7 6.4 .6-3.2 .7-10 .6 14.4 .7-8.2 .6-33.2 .6 36.9 .7-4.5 .6-.3 .6-.5 .6 4.4 .6 .1 .6 3.8 .6 2.7 .6-6.3 .5 2.6 .6 9.9 .6-5.4 .5-5.2 .6 0 .5 7.4 .6-14 .5 10.9 .6-8.7 .5 5 .5-8.4 .6 14.1 .5-13.7 .5 7.1 .5 3.1 .5-.8 .5-5.2 .5 2.4 .5-.7 .5 1.9 .5-4.2 .5 10.7 .5-10 .5-17.2 .4 18.6 .5 1.1 .5 3.3 .4-6.8 .5 3.1 .5 3.7 .4-2.6 .5-.7 .4-.4 .4 4.4 .5-10.3 .4 14.8 .5 3.5 .4-4.7 .4-4 .5-18.8 .4-54.7 .4 77.1 .4 1.5 .4-11.6 .4 12.8 .5-8.6 .4 2.9 .4 6.5 .4-6.5 .4 3.8 .4-6.1 .4-.9 .3 2.1 .4 1.4 .4 .5 .4-4.3 .4 11.4 .4-10.9 .4 2.1 .3-.8 .4-2 .4 3.3 .3 1.1 .4 3.9 .4-1.5 .3 .9 .4-1.2 .4-6 .3-6.7 .4 7.3 .3 2.8 .4 1.7 .3-4 .4-4.8 .3 13.8 .4-6.5 .3-.4 .3 2.4 .4-3.6 .3 3.7 .3-6.9 .4-.8 .3 3.8 .3 4.7 .4 1.8 .3-9.5 .3 5.7 .3-5.6 .4 2.2 .3 2.2 .3-32.1 .3 35.1 .3-3.1 .3-2.7 .3 5.1 .4-3.3 .3-3.9 .3 7.3 .3-5.1 .3 6.7 .3 6.3 .3-10.5 .3-2 .3 0 .3-1.3 .3 7.8 .3-7.1 .3 16 .2-14 .3 6.4 .3-5.7 .3 5.2 .3-5.9 .3-2.9 .3-.9 .2 6.9 .3-8.2 .3 4.6 .3-4.6 .3 6.1 .2 4.3 .3-4.8 .3 4.2 .3 .2 .2 4.8 .3-9.6 .3-4.9 .2 10.3 .3-3.7 .3 5.5 .2-8.1 .3-3 .3 4.8 .2-3.1 .3 0 .2 3.8 .3-4.1 .3 10.4 .2-6.5 .3-1.3 .2-61.3 .3 56.5 .2 8.8 .3-7.9 .2 1.3 .3-2.1 .2 3.8 .3 8.6 .2-2.1 .3-3 .2-5.3 .2 3.2 .3 1.4 .2-2.3 .3-8.4 .2 4.7 .2 6.8 .3 2.7 .2-1.7 .3 4.6 .2-4.9 .2 .4 .3 5.4 .2-15.6 .2 4.7 .3 2.9 .2-3.1 .2 7.9 .2-1.9 .3-8.9 .2 6.4 .2-7.9 .2 12 .3-3.2 .2-10.4 .2 5.3 .2-3.6 .3 8.7 .2-.2 .2-8.2 .2 2.5 .2 .4 .3 6.2 .2-6.5 .2 4.2 .2-1.9 .2 4.4 .2-4.1 .2-.5 .3-1.6 .2 2.7 .2 0 .2-.7 .2 1.6 .2-3.7 .2 6.1 .2-5.9 .2 .2 .2 4.4 .2-1.3 .2 .4 .2-.3 .2 1.8 .3-8.2 .2 4.8 .2 3.6 .2 6.3 .2-14 .2 6.4 .2-2.8 .2 1.8 .1-8.2 .2 11.8 .2-8.6 .2-.2 .2 7.6 .2-3.8 .2-3 .2 6.7 .2-6.4 .2 12.8 .2-1 .2-5.7 .2 2.7 .2-6.4 .2 6.4 .1-6.7 .2-3.7 .2 6.2 .2-3.2 .2 6.5 .2-6.7 .2-.8 .1 3 .2-4 .2 6 .2 1.9 .2-6.4 .2 4.9 .1 3.1 .2-44.9 .2 37.2 .2 4.8 .2 2.2 .1-2.9 .2 2.6 .2-1.9 .2 .3 .2 2.8 .1-5.3 .2-1.7 .2 1.9 .2 7.1 .1-8.6 .2-1.3 .2 10.5 .2-11.2 .1 13.9 .2-11 .2-1.4 .1-2.5 .2-.9 .2 4.3 .2-2 .1-2.5 .2-1.1 .2 6.2 .1-2.2 .2 8.3 .2-1.7 .1-9 .2 4 .2 6.5 .1-4.2 .2 6.4 .2-6.6 .1-4.4 .2 11.1 .2-6.9 .1-1.6 .2 2 .1-1.1 .2 3.3 .2 .4 .1-3.4 .2 7.7 .1-7.2 .2 5.7 .2-3 .1-9.2 .2 7.7 .1 .4 .2-5.5 .2 6.7 .1-.8 .2-2.1 .1-2.9 .2 6.5 .1-3.8 .2 7.6 .1-2.5 .2-4.8 .2 2.3 .1-3.7 .2-2.1 .1 11.8 .2-10 .1 .8 .2 1.9 .1-2 .2 3.9 .1-5 .2 1 .1-6.7 .2 15.3 .1-3.6 .2-6 .1-2.4 .2 9.2 .1-.6 .2-2.4 .1-3.5 .2 5.2 .1-7.6 .1-2.4 .2 7.2 .1-5.7 .2 11 .1-2.1 .2-6.6 .1-1.2 .2 9.1 .1-3.6 .1-3.7 .2 1.9 .1 3.1 .2-3.2 .1-3.4 .2 5.5 .1 3.2 .1-39.1 .2 35.7 .1-3.9 .2 3.2 .1 9 .1-3.9 .2-5.4 .1-3.2 .2 1.3 .1 .1 .1 1.1 .2 3.8 .1-7.6 .1 10.5 .2-10.7 .1 3 .2 .8 .1-3.5 .1 .1 .2 2.6 .1 3 .1-6.3 .2 15.7 .1-9.5 .1-4.1 .2 .3 .1-1.4 .1 4.8 .2 1.5 .1-2.6 .1-8.5 .2 13.6 .1-4.3 .1-.9 .2 3.7 .1-9.1 .1 7.7 .1-1.7 .2-.2 .1-2.1 .1 7.3 .2-10.8 .1 8 .1-6.6 .1-.2 .2-2.5 .1 9.3 .1-5.6" fill="none" stroke="#FFC000" stroke-width="1.3" stroke-linejoin="round"/>
<path d="M127 333.7l43.9 14 25.7 2.8 18.2 6.7 14.1 3.5 11.6 1.9 9.7-105.2 8.5 109.9 7.4 6.7 6.7-6 6 3 5.5 12.4 5.1 1.3 4.7-38 4.4 39.6 4.1-23.6 3.8 3.6 3.6 27.8 3.4-52.2 3.3 26.4 3.1-3.4 2.9 25.9 2.8 3.4 2.7-21.4 2.6 2.3 2.5 2 2.4 5 2.3-19.9 2.2 19.5 2.2-1.4 2-1.4 2.1 12.6 1.9-11.1 1.9 11.5 1.8-21.7 1.8 10.6 1.7-6.3 1.7 9 1.7-6.8 1.6 2.3 1.5 14.5 1.6-21.6 1.5 7.4 1.4-7.3 1.4-.5 1.4-6.5 1.4-1.2 1.3-10.9 1.3-10.8 1.3-53.7 1.3 52 1.2 8.8 1.2 3 1.2 3 1.1 10.1 1.2-.4 1.1 4.3 1.1-.6 1.1 3.1 1.1 21 1-18 1 3.1 1 4.7 1-1 1-4.5 1 8 .9-8 1 5.8 .9 2.3 .9-11 .9 10 .9-.2 .9-2.9 .8-.6 .9 5.6 .8-7.1 .9 5.3 .8-1.1 .8 2.2 .8 6.6 .8-3.2 .7 15.9 .8-20.8 .8 4.2 .7-.3 .7 .6 .8 3.4 .7-5.1 .7 .1 .7-3.7 .7 2.6 .7-1.8 .7 8.2 .7-5.5 .7 6 .6-2.3 .7-7.4 .6 10.2 .7-8.6 .6-31.8 .6 34.3 .7-.4 .6 3.6 .6-8.2 .6 8.8 .6-6.3 .6 7 .6-2.5 .6 2.6 .5 .8 .6-5.9 .6 11.6 .5-5.1 .6 1.4 .5-2.5 .6-8.4 .5 19.3 .6-12.7 .5 3.2 .5-9.4 .6 12.7 .5-6.6 .5 1.2 .5 1.8 .5-2.7 .5 0 .5 3.8 .5-5.5 .5 2.5 .5-4.5 .5 14.6 .5-13.2 .5-10.8 .4 16.4 .5-2.4 .5 3.6 .4-8.4 .5 4.2 .5-.1 .4 7.1 .5-5.9 .4 .7 .4 3 .5 1.5 .4-2 .5 9.8 .4-10.1 .4-.5 .5-8.8 .4-62.4 .4 73 .4 3.5 .4-11.6 .4 7.2 .5-1.5 .4 6.3 .4-4.4 .4 2.5 .4-1.4 .4-5.8 .4 6.9 .3 3 .4-9.7 .4-4.7 .4 6.9 .4 .6 .4 4.4 .4-1.6 .3-1.5 .4-2.6 .4 13.7 .3-1.3 .4-2.9 .4 1.7 .3-9.7 .4-3.8 .4 13.1 .3-3.1 .4-6 .3-8.7 .4 7.7 .3-2.4 .4 1.8 .3 4.9 .4-.5 .3 .5 .3-4.9 .4-1.4 .3 4 .3 5.1 .4-9.3 .3 7.6 .3 6.4 .4-11.8 .3 4.6 .3 2.5 .3-.8 .4-4.6 .3 2.8 .3-31.7 .3 24.5 .3 1.2 .3 5.9 .3-1.7 .4 1.1 .3-10.5 .3 15.6 .3-10.4 .3 4.6 .3-6.8 .3 16.2 .3-11.5 .3 .2 .3 7.4 .3 4.3 .3-18.4 .3 6.2 .2 4.1 .3 1.4 .3-7 .3-.8 .3 6.6 .3-2.8 .3-5.5 .2 9.5 .3-6.9 .3-2.1 .3 13.1 .3-2.4 .2-14.3 .3 9.7 .3-5.2 .3 2.7 .2-2.5 .3-1.8 .3-1 .2 2.9 .3 8.3 .3-.5 .2-11.9 .3 10.8 .3-2.2 .2 5.2 .3-1 .2-3.4 .3-4.2 .3 2.2 .2 2.2 .3 2.3 .2-63.9 .3 57.5 .2 3.5 .3 6.4 .2-9 .3 4.2 .2 1 .3-.7 .2-1.5 .3-.5 .2-2.1 .2-1.8 .3 1.4 .2 8.6 .3-2.9 .2-8 .2 8.6 .3-6.6 .2 2.2 .3-4.2 .2-4.5 .2 10.6 .3-3.8 .2 .1 .2-1.5 .3 6.3 .2 .2 .2 .8 .2 2.8 .3-1.6 .2-10.3 .2-2 .2 6.8 .3-1.7 .2 3.1 .2-6.2 .2 3 .3 6.9 .2-7.8 .2 3.1 .2 3.5 .2-7.7 .3 9.1 .2-1.9 .2-1.5 .2-1.9 .2-1.5 .2 8.7 .2-14.1 .3 3.5 .2-3 .2 6.1 .2 2.7 .2 0 .2-5.2 .2 1 .2 5.4 .2 0 .2-4.7 .2 3.4 .2 .2 .2-.1 .2-5 .3 1.8 .2-1.1 .2 .3 .2-9.5 .2 8.4 .2 7.1 .2-9.9 .2 9.8 .1-6.7 .2 2.4 .2-10.1 .2 7.5 .2-7.7 .2 8.7 .2 9.7 .2-18.2 .2 3 .2 10.2 .2 1.3 .2-.3 .2-2.3 .2-13.1 .2 14.6 .1-5.6 .2 2.9 .2 5.7 .2-5.2 .2-4.7 .2-4.5 .2 8 .1 2.1 .2-.2 .2-7.9 .2-4.8 .2 20.9 .2-8.8 .1-9.1 .2-31 .2 40.9 .2-2.9 .2 .2 .1 2.6 .2-2.9 .2-.1 .2-2.5 .2 1.7 .1-.3 .2 2.6 .2-11.8 .2 16.5 .1-7.8 .2 12.8 .2-7.5 .2-7 .1 12.8 .2-13.2 .2 9.7 .1-7.6 .2 5.3 .2 .2 .2-.5 .1-5.3 .2 4.4 .2-4.5 .1 3 .2 3.7 .2-9.5 .1 8.4 .2-1.3 .2-7.2 .1-.1 .2 4.7 .2-3.5 .1 2.3 .2 6.6 .2-1.6 .1-2.8 .2-4.9 .1 7.4 .2-.1 .2 1.6 .1-2.7 .2 3 .1-5.7 .2-1.8 .2 2.9 .1 8.9 .2-2.2 .1-5.5 .2-6.1 .2 8 .1-5.6 .2 3.6 .1-5.3 .2 9.8 .1 .1 .2-2.7 .1-2.7 .2-.3 .2-7.9 .1 6.8 .2 6.3 .1-7.9 .2 11.3 .1-11 .2 3.4 .1 3.7 .2-2.2 .1 .4 .2-4.6 .1 3.2 .2-5.2 .1 7.1 .2-9.9 .1-2.4 .2 7.6 .1-4 .2 6.1 .1-2.4 .2 0 .1 10.7 .1-13.3 .2 8.7 .1-2.3 .2 .3 .1-5.6 .2 3.8 .1 .6 .2 .1 .1 1.3 .1-6.7 .2 8.9 .1-5 .2 1.3 .1-1.1 .2 2.9 .1 .7 .1-35.7 .2 30 .1 2.8 .2 4.1 .1-8.6 .1 .5 .2 7.7 .1-1 .2-6.8 .1 4.7 .1 .3 .2-.9 .1-2 .1-.2 .2 1 .1-1.3 .2-4.9 .1 1.4 .1 10 .2-1.6 .1 .6 .1-1.9 .2-5.8 .1 9.6 .1-4.3 .2-1.1 .1-.8 .1 1.1 .2 .2 .1 .9 .1 3.7 .2-6.3 .1 3.9 .1-4.9 .2-7.1 .1 13.5 .1-4 .1 5.3 .2-11.3 .1 8.1 .1-2.2 .2-2 .1 1.1 .1-.4 .1 5.9 .2-8 .1 3.2 .1-1.2" fill="none" stroke="#9DC3E6" stroke-width="1.3" stroke-linejoin="round"/>
<path d="M127 334.4l43.9 11.6 25.7 4.3 18.2 8.9 14.1 1.2 11.6 2.6 9.7-108.6 8.5 115.1 7.4 .5 6.7-1.1 6 5 5.5 12.3 5.1-.6 4.7-40.1 4.4 42.2 4.1-20 3.8 6.5 3.6 10.9 3.4-55 3.3 39.1 3.1 .8 2.9 18 2.8-9 2.7-7.7 2.6 3.8 2.5-.2 2.4 18.2 2.3-29.5 2.2 20.5 2.2-1.7 2-2.7 2.1 9.6 1.9-5.8 1.9 8.4 1.8-20.3 1.8 11.5 1.7-5.5 1.7 2.3 1.7-1.6 1.6 .6 1.5 6.4 1.6-15.7 1.5 6.2 1.4-2.4 1.4-3.3 1.4-.5 1.4-7.1 1.3-11.3 1.3-11.6 1.3-52.5 1.3 51.4 1.2 8.8 1.2 4.2 1.2 1.7 1.1 12.2 1.2 9.5 1.1-10.2 1.1 5.1 1.1 16.1 1.1-11.7 1 4.9 1-1.9 1 5.3 1-.3 1 7 1-4.2 .9-7.5 1 7.3 .9 .4 .9-10.5 .9 7.1 .9 1.1 .9-1.7 .8 2.8 .9 4.3 .8 1.8 .9 8.9 .8-12.1 .8-.5 .8 3.8 .8 2.9 .7-4.7 .8-3.7 .8 3 .7 5.3 .7-4.6 .8 .1 .7-6.4 .7 6.8 .7-7.9 .7 7.7 .7-.1 .7 5.2 .7-3.9 .7 3.9 .6 0 .7-11.2 .6 25.1 .7-20.1 .6-26.1 .6 27 .7-2.4 .6 3.3 .6 11.9 .6-10.5 .6 .8 .6-.2 .6-1.9 .6-.5 .5 6.1 .6-6.6 .6 .7 .5 4.9 .6-1.7 .5 19.4 .6-31.4 .5 15.3 .6-1.5 .5-4.8 .5-6.6 .6 11.4 .5-3.7 .5 .4 .5 15.7 .5-11.9 .5-7.9 .5 5.4 .5-1.4 .5-1.5 .5-3.1 .5 16.4 .5-16.1 .5-13.9 .4 19.5 .5-.8 .5 9.6 .4-15.5 .5 6.9 .5 14.8 .4-14.2 .5-.7 .4-.5 .4 1.3 .5-4.8 .4 9.9 .5 4.8 .4-9.4 .4 1.5 .5-20.8 .4-54.8 .4 72.2 .4-2.8 .4 6.4 .4 3.4 .5-7 .4 4.1 .4 2.7 .4-8.6 .4 3 .4-2.1 .4 4.9 .3-5 .4 6.6 .4 .7 .4 2.9 .4-6.2 .4 6.6 .4-3.4 .3 3.5 .4-5.9 .4-8.8 .3 12.4 .4-.6 .4-.6 .3 .3 .4-3.4 .4-8.7 .3 8.3 .4-2.9 .3 7.9 .4-1.4 .3-5.4 .4 .9 .3 1.6 .4 2.5 .3-.3 .3-2.2 .4-10 .3 4.9 .3 9.7 .4-6.1 .3-.5 .3 1.1 .4 10.7 .3-8.6 .3-4.8 .3 5.4 .4 1.4 .3-2.7 .3-32.2 .3 33.9 .3-4.4 .3-3.9 .3 3.3 .4 6.3 .3 1.2 .3-12.6 .3 2.4 .3 1.6 .3 7.9 .3-12 .3 8.6 .3-8.8 .3 6.3 .3 5 .3-4.5 .3-4 .2 .8 .3 2.3 .3 4.8 .3-8 .3 .7 .3 1.1 .3 4.5 .2-6 .3 5.9 .3 2 .3 .6 .3-8.9 .2 9.1 .3 4.9 .3-12.2 .3 3.3 .2 5.8 .3-12.1 .3 10.7 .2-3.7 .3-2.4 .3-1.4 .2 4.3 .3-1.2 .3 6.7 .2 .4 .3-2.6 .2-6.3 .3-5 .3 14.7 .2-13.8 .3 8.3 .2-64.1 .3 58.8 .2 1.3 .3 9.3 .2-8 .3 3.2 .2-4.1 .3-11.1 .2 16 .3-7.7 .2 10.7 .2-8.9 .3-4.6 .2 7.3 .3-5.2 .2 8.9 .2 .4 .3-9 .2 3.4 .3-5.2 .2 5.2 .2 7.1 .3-5.4 .2 6.4 .2-7.4 .3 10 .2-9.5 .2 9.7 .2-8.8 .3 1.3 .2-4.5 .2-5.9 .2 1.6 .3 2.7 .2 4.9 .2 1.8 .2-7.2 .3 9.3 .2-5.2 .2-2.9 .2 6.2 .2 2.8 .3 1.8 .2-3 .2-.7 .2-10.8 .2-.5 .2 9.7 .2 1.1 .3-4.1 .2 5.4 .2-4.1 .2 .8 .2 .7 .2-1.1 .2-2.2 .2-.8 .2 0 .2 9.7 .2-5.3 .2 4.3 .2-12.3 .2 16.6 .3-10.7 .2 2.1 .2-5 .2-.7 .2-2.4 .2 14.8 .2-3 .2 1.5 .1-7.2 .2-4.8 .2-3.3 .2 5.8 .2 1.2 .2-.3 .2 1.6 .2-12.9 .2 16.3 .2-7.4 .2 2.2 .2-1.2 .2 13.6 .2-1.9 .2-6.5 .1 3.9 .2-9.3 .2-2.4 .2 3 .2 .9 .2-4.8 .2 6.6 .1-1.1 .2 3.8 .2-3.8 .2 1.4 .2-.4 .2 2.6 .1-3.9 .2-41.1 .2 37.9 .2 8.8 .2-4.9 .1 1.9 .2-6.9 .2 5.7 .2 2.9 .2-7.6 .1-.1 .2 5.4 .2-7.7 .2 8.7 .1-1.1 .2 4.7 .2-13.4 .2 5 .1 8.3 .2-18.3 .2 13.3 .1-2.1 .2 10.1 .2 .5 .2-8.8 .1 2.3 .2-12 .2 2.1 .1 8.5 .2-7 .2 7.7 .1-.7 .2 1 .2-1.6 .1 1.5 .2-7.9 .2 10.6 .1-9.3 .2 9.6 .2-3.8 .1-6.5 .2 14 .1-9 .2 4 .2-1 .1-1 .2 5.6 .1-4.4 .2 .3 .2-.2 .1 1.9 .2-7.3 .1 .6 .2-1 .2-.9 .1-1.5 .2 .9 .1 6.4 .2-.6 .1 .9 .2 4.8 .1-13.6 .2 5.3 .2 10.1 .1-10.2 .2-3.6 .1 7.9 .2-3.6 .1 3.3 .2-2.1 .1 6 .2-6.4 .1 4.5 .2-4.9 .1-3.7 .2 1 .1-2.3 .2 7.9 .1 2.7 .2-6.1 .1 4.2 .2 2.5 .1-1.2 .2-2.9 .1 .1 .1-1.1 .2-4.3 .1 6 .2-8.3 .1 7.9 .2-4 .1-3.3 .2 7 .1-5.5 .1 6.1 .2-3.5 .1 .1 .2 .2 .1 1.3 .2-5.5 .1 2.5 .1-32 .2 33.9 .1 2.8 .2-.9 .1 .9 .1-4.4 .2 10.9 .1-8.4 .2 5.7 .1-2.3 .1-3.9 .2 .9 .1-6.9 .1 1.8 .2 8.8 .1-4.6 .2-1.8 .1 4.4 .1 5 .2-8.3 .1 1.3 .1 1.1 .2-.9 .1-8.8 .1 11.4 .2-.4 .1-6.8 .1 7.1 .2-5.5 .1 4.7 .1 .8 .2-.4 .1-8.8 .1 6 .2 3.8 .1-3.3 .1 1.4 .1-5.7 .2 11.3 .1 .7 .1-6.6 .2 8.4 .1-9.5 .1-1.3 .1-3.5 .2-2.1 .1 .9 .1 1.5" fill="none" stroke="#70AD47" stroke-width="1.3" stroke-linejoin="round"/>
<path d="M127 332.1l43.9 14.9 25.7 5.4 18.2 5.4 14.1 2.5 11.6 2.5 9.7-108.2 8.5 118.7 7.4-1.4 6.7-6.6 6 7.6 5.5 5.2 5.1 4.9 4.7-37.8 4.4 50.9 4.1-25.3 3.8-4.7 3.6 18.2 3.4-55.5 3.3 42.4 3.1 6.7 2.9 13.2 2.8 4.7 2.7-25.4 2.6 9.7 2.5-2.7 2.4 4.8 2.3-19.2 2.2 22.8 2.2-1.6 2 2.2 2.1 21 1.9-22.7 1.9 8 1.8-21.4 1.8 13.5 1.7-8.7 1.7 13.7 1.7-11.3 1.6 3.2 1.5 1.1 1.6-6.4 1.5-.1 1.4-4.9 1.4-3.6 1.4 1.6 1.4-6.6 1.3-12.6 1.3-11.3 1.3-45.2 1.3 43.4 1.2 9.4 1.2 2.7 1.2 3.5 1.1 24 1.2-7.3 1.1 12.8 1.1-10.7 1.1 11.7 1.1-9.2 1 3.5 1 1 1-.5 1 4.4 1-3.8 1 6.7 .9-1.4 1-1.5 .9 .3 .9-3.1 .9 1.3 .9 2.3 .9-4.8 .8-1.6 .9 6.4 .8 9.4 .9-5.3 .8-4.5 .8 1.2 .8 6.4 .8 .2 .7-.4 .8-3.2 .8 .5 .7 1.7 .7-8 .8 20.4 .7-15.9 .7 .9 .7-.7 .7 2.6 .7-.3 .7 8.1 .7-6.1 .7 3.5 .6-6.3 .7-3.2 .6 12.1 .7-14 .6-29.2 .6 35.6 .7-1.1 .6 0 .6-.6 .6 4.5 .6-3.2 .6 4.6 .6-1.5 .6-7.8 .5 8.3 .6-7.8 .6 11.5 .5-1.7 .6-3.1 .5 5.4 .6-11.1 .5 16.2 .6-10.8 .5-.2 .5 3.5 .6 13 .5-21.5 .5 8.7 .5-4.9 .5 4.8 .5-6.6 .5 7 .5-3.7 .5-1.5 .5-1.9 .5 9.2 .5-7.5 .5-14.5 .4 20.4 .5-5.9 .5 6.6 .4-12 .5 8.8 .5-1 .4-1.4 .5 3.1 .4 4.6 .4-3.5 .5-.2 .4 2.9 .5 7.6 .4-14 .4 5.2 .5-20.2 .4-57.3 .4 70 .4 6.3 .4-.7 .4-9.1 .5 20.6 .4-1.2 .4-14.9 .4 13.6 .4-2.5 .4-5.8 .4 .6 .3-2.2 .4 6.4 .4-9.6 .4 1.2 .4 1.7 .4 2.7 .4 .4 .3 6.5 .4-1.2 .4-5.2 .3 2.2 .4-.8 .4 1.6 .3-8.1 .4 3.9 .4-6.6 .3 2.3 .4 8 .3-4.7 .4-1.2 .3 6.8 .4-1.5 .3-1.7 .4-1.2 .3 3.6 .3-5.6 .4-6.7 .3 1.2 .3 6.4 .4 12.3 .3-10.8 .3-6.2 .4 7 .3 2.4 .3 2.5 .3-1.8 .4 .6 .3-1.5 .3-36.1 .3 30 .3 7.6 .3-4.4 .3-.3 .4-1 .3-2.6 .3 4.1 .3-6.8 .3 12.4 .3-7.2 .3-.8 .3 2.2 .3-.3 .3-.7 .3-4.6 .3 6.4 .3 1.7 .2 3.4 .3-4.9 .3 .1 .3 5.2 .3-6.3 .3 1.8 .3-6.3 .2-.3 .3 11 .3-8.3 .3 3.2 .3 6 .2-6 .3 3.2 .3-9.3 .3 8.6 .2 4.1 .3-8.5 .3 3 .2-5.3 .3 12.8 .3-3.2 .2-7.7 .3-2 .3-1.6 .2 1.2 .3 8.3 .2-5.3 .3 3.1 .3-5.6 .2 5.3 .3-1 .2-65.2 .3 63.7 .2 4.6 .3-4.4 .2 3.1 .3-9.8 .2 6.4 .3-4.6 .2 1.2 .3 4.7 .2 4.7 .2-8.6 .3 10.3 .2-7.4 .3-2.2 .2 4.3 .2 2.8 .3-4.7 .2 5.7 .3-7.3 .2 .3 .2-1.9 .3 3 .2-4.3 .2 5.8 .3-4.6 .2-2.2 .2 7.4 .2-1.2 .3-2.5 .2 5.5 .2 .5 .2-3.1 .3-.6 .2 5.3 .2-1.3 .2 1.1 .3-3.2 .2 0 .2-5.7 .2 3.7 .2-7.5 .3 7.2 .2 5 .2-1.7 .2-3.2 .2-1.4 .2 1.3 .2 3.1 .3-1.8 .2-5 .2 13.8 .2-4.5 .2-2.4 .2-6.8 .2-8.6 .2 20.1 .2-10.6 .2-1.1 .2 3 .2 1.5 .2 1.6 .2-6.2 .3 3.5 .2 3 .2 5.1 .2-10 .2-3 .2 .3 .2 10 .2-2 .1 .5 .2-4.1 .2-2.9 .2 6.6 .2-1.9 .2-.4 .2 2 .2-.9 .2-.1 .2 1.4 .2 4.6 .2-11.3 .2 6.1 .2-4.8 .2 3.1 .1 1.6 .2-4.8 .2 3.2 .2-2 .2 4.5 .2-7.9 .2 4.3 .1 4.6 .2-10.1 .2 8.4 .2-2.4 .2 7.5 .2-3.6 .1-9.9 .2-38 .2 43.2 .2 .7 .2 .9 .1 1.1 .2 7.7 .2-19.9 .2 7.7 .2 10.7 .1-12.9 .2 7.9 .2-6.4 .2 4.8 .1 1 .2-3.6 .2-5.4 .2 6.5 .1-1.3 .2 3.1 .2-10.8 .1 8.7 .2 2.1 .2 3.4 .2-5.3 .1-3.9 .2-3.3 .2 .8 .1 7 .2-2 .2 5.2 .1-4.2 .2-6.2 .2 1.5 .1 9.5 .2-13.2 .2-3.3 .1 6.5 .2 8.8 .2-4.1 .1-2 .2-2.9 .1 .6 .2 16.7 .2-8 .1-5.7 .2-1.7 .1 5.1 .2-9.5 .2 7.3 .1 7.3 .2-3.4 .1-3.3 .2 1.7 .2-2.9 .1 2.6 .2 4.2 .1 2.6 .2-6.1 .1-6 .2-.4 .1 1.9 .2 .4 .2 4.9 .1 1.2 .2-6.1 .1 4.2 .2 .4 .1-5.7 .2 4.9 .1-7.7 .2 8.1 .1-5.8 .2 3.3 .1 2 .2 1.1 .1 1.2 .2-.2 .1-6.1 .2 1.3 .1-.9 .2 2.7 .1 2.8 .2-3.6 .1-2.8 .1 7.2 .2 .3 .1-3.9 .2-.2 .1 3.5 .2-5.6 .1-1.5 .2-3.1 .1 12.7 .1-11.1 .2 7.6 .1-3.2 .2-.8 .1 2 .2 1.2 .1-5.5 .1-32.5 .2 32 .1-4.8 .2 11.8 .1-5.9 .1 1.9 .2 4 .1 2.4 .2-6.1 .1-3.3 .1-6 .2 10.6 .1 3.4 .1-9.1 .2-1.1 .1 7.1 .2 7.3 .1-13.2 .1 10.2 .2-2.4 .1-4.2 .1 1.9 .2-1.9 .1 .2 .1 2.8 .2-12.8 .1 11.8 .1 3 .2-.3 .1-.9 .1 1.2 .2-4.2 .1-5.8 .1 9.3 .2-8.5 .1 3.3 .1-1.7 .1 5.3 .2-2.5 .1 0 .1 4.8 .2-2.9 .1 5.1 .1-4.2 .1 3.4 .2-7.5 .1 6.7 .1-1.4" fill="none" stroke="#A5A5A5" stroke-width="1.3" stroke-linejoin="round"/>
<path d="M127 333.2l43.9 13.1 25.7 4.8 18.2 6.1 14.1 2.8 11.6 1.6 9.7-101.4 8.5 106.9 7.4 3.5 6.7-5.1 6 6.1 5.5 3.2 5.1 7.6 4.7-32.3 4.4 34.6 4.1-19.2 3.8 1.6 3.6 15.3 3.4-47.6 3.3 33.9 3.1-3.2 2.9 22.4 2.8-9.3 2.7-9 2.6 7.4 2.5-3.2 2.4 6.4 2.3-18.6 2.2 20.2 2.2-4.8 2 2.2 2.1 10.6 1.9-8 1.9 9.6 1.8-22.4 1.8 12.8 1.7-6.4 1.7 3.2 1.7-1.6 1.6-1.6 1.5 3.2 1.6-6.4 1.5 1.6 1.4-3.2 1.4-2.6 1.4-2.8 1.4-4.2 1.3-4.8 1.3-11.2 1.3-53.8 1.3 52.2 1.2 8 1.2 4.2 1.2 2.8 1.1 2.9 1.2 2.9 1.1 2.2 1.1 2.6 1.1 1.6 1.1 1.6 1 2.6 1 1.9 1 1.9 1 1.2 1-3.5 1 7.2 .9-6 1 4.2 .9 .2 .9-6.7 .9 5.7 .9 .8 .9-2.3 .8-1 .9 3.8 .8-1.8 .9 5.2 .8-1.8 .8 .4 .8 3 .8 .8 .7 .5 .8-4.3 .8-.1 .7 .7 .7-1.1 .8 4.6 .7-3.9 .7-.8 .7-1.5 .7 5.2 .7-1.3 .7 5.4 .7-4.7 .7 5.5 .6-2.3 .7-8 .6 10.7 .7-9.4 .6-30.8 .6 34.6 .7-2.4 .6-.1 .6-1.5 .6 4.2 .6 1.3 .6 .2 .6 1.3 .6-2.9 .5 2.5 .6-5.8 .6 9.5 .5-2.4 .6-.3 .5 3.7 .6-12.6 .5 13.9 .6-6.7 .5 .9 .5-6.9 .6 11.8 .5-9.7 .5 5.9 .5-1.8 .5 1.8 .5-4.1 .5 5.8 .5-3.3 .5-1.3 .5-4.7 .5 13.7 .5-12.5 .5-15.5 .4 22.2 .5-2.5 .5 2.6 .4-6.7 .5 4.7 .5 1.5 .4 .1 .5 0 .4 0 .4 2.4 .5-9.3 .4 12.8 .5 5.5 .4-11.1 .4 .2 .5-18.6 .4-38.4 .4 38.4 .4 24 .4 1.5 .4 8.6 .5-.4 .4-14.1 .4 8.6 .4 9.2 .4-20.1 .4 9.4 .4 8.3 .3 3.5 .4-8.9 .4 6.9 .4 1.3 .4 1.5 .4-4.8 .4-9.8 .3 9.3 .4 6.2 .4-12.9 .3 3.7 .4-4.7 .4-2.2 .3 8.3 .4-.1 .4-.6 .3 6.6 .4-11 .3-4.2 .4 7.2 .3 2.5 .4 .2 .3 3.1 .4 .2 .3-2.5 .3 2.7 .4-2.4 .3 6.9 .3-11.7 .4 1.8 .3 7.3 .3 7 .4-14 .3-6.7 .3 11.2 .3-1.6 .4 .6 .3-7.5 .3-31.2 .3 29.2 .3 7.8 .3-7.4 .3 5.4 .4 1.6 .3 7.6 .3-4.8 .3-2.6 .3-5.6 .3 2.5 .3 5.7 .3-6.7 .3-3.5 .3 6.9 .3 1.8 .3-.3 .3-7.3 .2 1.6 .3 9 .3-8 .3 5.2 .3 1.7 .3-12.1 .3 2.5 .2 9.4 .3-4.9 .3-2.5 .3 6.9 .3-3.2 .2-4.8 .3 15 .3-12.9 .3-2.5 .2 1.4 .3 11.3 .3-10.1 .2 7.1 .3-8.7 .3-.2 .2 2.4 .3 6 .3-1.1 .2-8.8 .3 10.7 .2-8.5 .3-.1 .3 4.8 .2-16.3 .3-12.6 .2-38.4 .3 38.4 .2 24 .3-2.8 .2 2.1 .3 5.8 .2-1.6 .3 11.3 .2-7.8 .3 2.5 .2-5 .2-6.7 .3 5.1 .2-2 .3 6.5 .2-1.6 .2-3.3 .3 2.4 .2-9.4 .3 13 .2-16.8 .2 17.5 .3-12.4 .2 11.1 .2-14.7 .3 9.2 .2-1.6 .2-2.1 .2 8.4 .3 2.4 .2 6 .2-19.7 .2 11.6 .3-.6 .2-3.4 .2-12.3 .2 22.6 .3-12 .2 3.9 .2-5.6 .2 14.1 .2-8.5 .3-7.5 .2-4.4 .2-.2 .2 14.9 .2-5.5 .2 1 .2 7.7 .3 .4 .2-32.8 .2 22.5 .2 2.4 .2-8.3 .2 13.5 .2-9.3 .2 3.1 .2 .5 .2-3.4 .2 1.9 .2-.5 .2 0 .2-10.2 .3 13.7 .2-8.1 .2 2.5 .2 5.8 .2-6.9 .2 10 .2-12.3 .2 12 .1-1.9 .2-5 .2-3.1 .2-.4 .2 .1 .2 6.7 .2 4.5 .2-9.1 .2 1.5 .2 7.6 .2-11.7 .2 4.7 .2 7 .2-8.5 .2 10.8 .1-2.8 .2-7.7 .2 11.9 .2-9.7 .2 8.4 .2-12.7 .2 8.9 .1-5.5 .2 10.2 .2-7 .2-7.9 .2 3 .2 14 .1-16.8 .2-39.2 .2 47.1 .2-10.9 .2 15 .1-5.9 .2-7.3 .2-1.2 .2 .2 .2 14.5 .1 4.1 .2-13.2 .2 11.1 .2-7.9 .1 7 .2-14.3 .2 1.6 .2 1.5 .1 3.3 .2-.2 .2 2.1 .1-4.1 .2 .8 .2-1.3 .2 5.4 .1-14.1 .2 9.8 .2-6.8 .1 .4 .2 13.4 .2 5 .1-17.9 .2 10 .2-2.9 .1 2.1 .2-2.4 .2 8 .1-6.6 .2 2.2 .2-2.7 .1 14.1 .2-19.2 .1 3 .2 12.5 .2-6 .1-4.7 .2-3.6 .1 3.8 .2-8.4 .2 8.3 .1 6.2 .2-25.3 .1 14.7 .2 8.2 .2-8.8 .1-1.1 .2 2.6 .1-2.6 .2 7.3 .1-1 .2 3.5 .1 .1 .2 5.8 .2-6.1 .1 3.1 .2 2.2 .1-9.6 .2-1.9 .1 4.9 .2-10.4 .1 2.6 .2-.7 .1 10.1 .2 5.4 .1-12.5 .2 1.5 .1-2.5 .2 1.9 .1-5.2 .2 9.5 .1-5.9 .2 9.5 .1 8.6 .2-11.3 .1-11.8 .1 19.3 .2-16.4 .1 10.3 .2-1.7 .1-2.7 .2-1 .1 7.2 .2-6.7 .1-1.9 .1-2.4 .2 9.7 .1-14 .2-2.2 .1-3.1 .2 22.9 .1-9.3 .1-36.7 .2 35.5 .1-1.1 .2 10.4 .1 2.6 .1-10.7 .2-2.7 .1 8.6 .2-3.2 .1 13.8 .1-11.1 .2-5.2 .1 0 .1-8.7 .2 16.5 .1 6.8 .2-16.4 .1 6.3 .1-5.3 .2-2.7 .1 .7 .1-5.1 .2 .6 .1 18.3 .1-9.7 .2-12.6 .1 14.7 .1-8.4 .2 6.2 .1 2.3 .1-12.2 .2 3.3 .1 7.8 .1-7 .2 13.5 .1-3.6 .1-9.9 .1 5.3 .2 6.7 .1-9.2 .1 .7 .2-5.8 .1 2 .1 7.5 .1 1.2 .2-2.1 .1 .6 .1-10.3" fill="none" stroke="#FF0000" stroke-width="1.6" stroke-linejoin="round"/>
</g>
<rect x="128" y="228.2" width="392.0" height="224.0" fill="none" stroke="#1e1e1e" stroke-width="1.7"/>
<text x="85.9" y="457.0" font-family='"Liberation Serif", serif' font-size="14.2"><tspan textLength="14.6" lengthAdjust="spacingAndGlyphs">10</tspan><tspan dx="0.4" dy="-5.6" font-size="9">−1</tspan></text>
<text x="90.6" y="425.0" font-family='"Liberation Serif", serif' font-size="14.2"><tspan textLength="14.6" lengthAdjust="spacingAndGlyphs">10</tspan><tspan dx="0.4" dy="-5.6" font-size="9">0</tspan></text>
<text x="90.6" y="393.0" font-family='"Liberation Serif", serif' font-size="14.2"><tspan textLength="14.6" lengthAdjust="spacingAndGlyphs">10</tspan><tspan dx="0.4" dy="-5.6" font-size="9">1</tspan></text>
<text x="90.6" y="361.0" font-family='"Liberation Serif", serif' font-size="14.2"><tspan textLength="14.6" lengthAdjust="spacingAndGlyphs">10</tspan><tspan dx="0.4" dy="-5.6" font-size="9">2</tspan></text>
<text x="90.6" y="329.0" font-family='"Liberation Serif", serif' font-size="14.2"><tspan textLength="14.6" lengthAdjust="spacingAndGlyphs">10</tspan><tspan dx="0.4" dy="-5.6" font-size="9">3</tspan></text>
<text x="90.6" y="297.0" font-family='"Liberation Serif", serif' font-size="14.2"><tspan textLength="14.6" lengthAdjust="spacingAndGlyphs">10</tspan><tspan dx="0.4" dy="-5.6" font-size="9">4</tspan></text>
<text x="90.6" y="265.0" font-family='"Liberation Serif", serif' font-size="14.2"><tspan textLength="14.6" lengthAdjust="spacingAndGlyphs">10</tspan><tspan dx="0.4" dy="-5.6" font-size="9">5</tspan></text>
<text x="90.6" y="233.0" font-family='"Liberation Serif", serif' font-size="14.2"><tspan textLength="14.6" lengthAdjust="spacingAndGlyphs">10</tspan><tspan dx="0.4" dy="-5.6" font-size="9">6</tspan></text>
<text x="123.1" y="478.8" font-family='"Liberation Serif", serif' font-size="15" textLength="8" lengthAdjust="spacingAndGlyphs">1</text>
<text x="266.5" y="478.8" font-family='"Liberation Serif", serif' font-size="15" textLength="14.6" lengthAdjust="spacingAndGlyphs">10</text>
<text x="408.1" y="478.8" font-family='"Liberation Serif", serif' font-size="15" textLength="21.8" lengthAdjust="spacingAndGlyphs">100</text>
<text x="273.7" y="501.8" font-family='"Liberation Serif", serif' font-size="14.5" textLength="99.3" lengthAdjust="spacingAndGlyphs">Frequency (Hz)</text>
<text transform="translate(67,460.3) rotate(-90)" font-family='"Liberation Serif", serif' font-size="15.5" font-weight="bold"><tspan textLength="212" lengthAdjust="spacingAndGlyphs">Power spectrum density (pT/Hz</tspan><tspan dy="-5" font-size="9.5" textLength="10.5" lengthAdjust="spacingAndGlyphs">1/2</tspan><tspan dy="5" dx="0.3" font-size="13">)</tspan></text>
<rect x="153" y="319" width="66" height="15" fill="#fff"/>
<text x="154.8" y="331.8" font-family='"Liberation Serif", serif' font-size="14.5" textLength="62" lengthAdjust="spacingAndGlyphs">Raw data</text>
<text x="157.3" y="377.9" font-family='"Liberation Serif", serif' font-size="14" textLength="61" lengthAdjust="spacingAndGlyphs">After SSS</text>
<g fill="#2b2b2b">
<path d="M234.6 30.3H232V151.8H234.4" fill="none" stroke="#333" stroke-width="1"/>
<line x1="228.5" y1="90.8" x2="232" y2="90.8" stroke="#333" stroke-width="1"/>
<text x="165.2" y="95" font-family='"Liberation Serif", serif' font-size="11.8" textLength="59" lengthAdjust="spacingAndGlyphs">3-axis × 96</text>
<path d="M239.1 38L246.2 31.0L266.5 31.0L266.5 51.3L259.4 58.3L239.1 58.3Z M239.1 38L259.4 38L259.4 58.3 M259.4 38L266.5 31.0" fill="#fff" stroke="#3a3a3a" stroke-width="1.1" stroke-linejoin="round"/><rect x="242.4" y="39.2" width="3.8" height="10.6" rx="1" fill="#2fa0e0" stroke="#3358f0" stroke-width="0.8"/><line x1="249.4" y1="47.6" x2="255.6" y2="42.1" stroke="#3358f0" stroke-width="4.2" stroke-linecap="round"/><line x1="249.4" y1="47.6" x2="255.6" y2="42.1" stroke="#15963a" stroke-width="2.8" stroke-linecap="round"/><rect x="242.0" y="51.7" width="11" height="3.9" rx="1.6" fill="#c810a0" stroke="#5a40f0" stroke-width="0.8"/>
<line x1="269.5" y1="47" x2="276.8" y2="47" stroke="#222" stroke-width="1.0"/><path d="M281.8 47L276.3 44.2L276.3 49.8Z" fill="#111"/>
<rect x="282.5" y="32.3" width="26.3" height="26.2" fill="#fff" stroke="#333" stroke-width="1.2"/><line x1="288.4" y1="56.3" x2="288.4" y2="37.3" stroke="#111" stroke-width="1"/><path d="M288.4 34.099999999999994L285.79999999999995 38.8L291.0 38.8Z" fill="#111"/><line x1="284.5" y1="51.9" x2="302.5" y2="51.9" stroke="#111" stroke-width="1"/><path d="M307.0 51.9L302.3 49.3L302.3 54.5Z" fill="#111"/><path d="M290.2 54.099999999999994L293.1 39.5L303.3 39.5" fill="none" stroke="#333" stroke-width="0.9"/>
<line x1="308.8" y1="47" x2="315.5" y2="47" stroke="#222" stroke-width="1.0"/><path d="M320.5 47L315.0 44.2L315.0 49.8Z" fill="#111"/>
<path d="M321.3 33L344.5 46.8L321.3 60.6Z" fill="#fff" stroke="#333" stroke-width="1"/><text x="322.8" y="50.0" font-family='"Liberation Serif", serif' font-size="9.2" textLength="17.9" lengthAdjust="spacingAndGlyphs" fill="#333">AMP</text>
<line x1="344.5" y1="47" x2="352.0" y2="47" stroke="#222" stroke-width="1.0"/><path d="M357 47L351.5 44.2L351.5 49.8Z" fill="#111"/>
<rect x="357.6" y="32" width="26" height="26" fill="#fff" stroke="#333" stroke-width="1.2"/><line x1="362.40000000000003" y1="56" x2="362.40000000000003" y2="37" stroke="#111" stroke-width="1"/><path d="M362.40000000000003 33.8L359.8 38.5L365.00000000000006 38.5Z" fill="#111"/><line x1="359.90000000000003" y1="51.8" x2="377.1" y2="51.8" stroke="#111" stroke-width="1"/><path d="M381.6 51.8L376.90000000000003 49.199999999999996L376.90000000000003 54.4Z" fill="#111"/><path d="M362.40000000000003 39.7L373.40000000000003 39.7L375.5 54.2" fill="none" stroke="#333" stroke-width="0.9"/>
<line x1="383.6" y1="47" x2="391.2" y2="47" stroke="#222" stroke-width="1.0"/><path d="M396.2 47L390.7 44.2L390.7 49.8Z" fill="#111"/>
<path d="M397 47L404 39.5L422 39.5L422 54.5L404 54.5Z" fill="#fff" stroke="#333" stroke-width="1"/><text x="402.6" y="50.9" font-family='"Liberation Serif", serif' font-size="10.5" textLength="16" lengthAdjust="spacingAndGlyphs">A/D</text><text x="418.6" y="48.2" font-family='"Liberation Serif", serif' font-size="8.5">*</text>
<line x1="422" y1="47" x2="428.3" y2="47" stroke="#222" stroke-width="1.0"/><path d="M433.3 47L427.8 44.2L427.8 49.8Z" fill="#111"/>
<path d="M239.1 72L246.2 65.0L266.5 65.0L266.5 85.3L259.4 92.3L239.1 92.3Z M239.1 72L259.4 72L259.4 92.3 M259.4 72L266.5 65.0" fill="#fff" stroke="#3a3a3a" stroke-width="1.1" stroke-linejoin="round"/><rect x="242.4" y="73.2" width="3.8" height="10.6" rx="1" fill="#2fa0e0" stroke="#3358f0" stroke-width="0.8"/><line x1="249.4" y1="81.6" x2="255.6" y2="76.1" stroke="#3358f0" stroke-width="4.2" stroke-linecap="round"/><line x1="249.4" y1="81.6" x2="255.6" y2="76.1" stroke="#15963a" stroke-width="2.8" stroke-linecap="round"/><rect x="242.0" y="85.7" width="11" height="3.9" rx="1.6" fill="#c810a0" stroke="#5a40f0" stroke-width="0.8"/>
<line x1="269.5" y1="81" x2="276.8" y2="81" stroke="#222" stroke-width="1.0"/><path d="M281.8 81L276.3 78.2L276.3 83.8Z" fill="#111"/>
<rect x="282.5" y="66.3" width="26.3" height="26.2" fill="#fff" stroke="#333" stroke-width="1.2"/><line x1="288.4" y1="90.3" x2="288.4" y2="71.3" stroke="#111" stroke-width="1"/><path d="M288.4 68.1L285.79999999999995 72.8L291.0 72.8Z" fill="#111"/><line x1="284.5" y1="85.9" x2="302.5" y2="85.9" stroke="#111" stroke-width="1"/><path d="M307.0 85.9L302.3 83.30000000000001L302.3 88.5Z" fill="#111"/><path d="M290.2 88.1L293.1 73.5L303.3 73.5" fill="none" stroke="#333" stroke-width="0.9"/>
<line x1="308.8" y1="81" x2="315.5" y2="81" stroke="#222" stroke-width="1.0"/><path d="M320.5 81L315.0 78.2L315.0 83.8Z" fill="#111"/>
<path d="M321.3 67L344.5 80.8L321.3 94.6Z" fill="#fff" stroke="#333" stroke-width="1"/><text x="322.8" y="84.0" font-family='"Liberation Serif", serif' font-size="9.2" textLength="17.9" lengthAdjust="spacingAndGlyphs" fill="#333">AMP</text>
<line x1="344.5" y1="81" x2="352.0" y2="81" stroke="#222" stroke-width="1.0"/><path d="M357 81L351.5 78.2L351.5 83.8Z" fill="#111"/>
<rect x="357.6" y="66" width="26" height="26" fill="#fff" stroke="#333" stroke-width="1.2"/><line x1="362.40000000000003" y1="90" x2="362.40000000000003" y2="71" stroke="#111" stroke-width="1"/><path d="M362.40000000000003 67.8L359.8 72.5L365.00000000000006 72.5Z" fill="#111"/><line x1="359.90000000000003" y1="85.8" x2="377.1" y2="85.8" stroke="#111" stroke-width="1"/><path d="M381.6 85.8L376.90000000000003 83.2L376.90000000000003 88.39999999999999Z" fill="#111"/><path d="M362.40000000000003 73.7L373.40000000000003 73.7L375.5 88.2" fill="none" stroke="#333" stroke-width="0.9"/>
<line x1="383.6" y1="81" x2="391.2" y2="81" stroke="#222" stroke-width="1.0"/><path d="M396.2 81L390.7 78.2L390.7 83.8Z" fill="#111"/>
<path d="M397 81L404 73.5L422 73.5L422 88.5L404 88.5Z" fill="#fff" stroke="#333" stroke-width="1"/><text x="402.6" y="84.9" font-family='"Liberation Serif", serif' font-size="10.5" textLength="16" lengthAdjust="spacingAndGlyphs">A/D</text><text x="418.6" y="82.2" font-family='"Liberation Serif", serif' font-size="8.5">*</text>
<line x1="422" y1="81" x2="428.3" y2="81" stroke="#222" stroke-width="1.0"/><path d="M433.3 81L427.8 78.2L427.8 83.8Z" fill="#111"/>
<path d="M239.1 124L246.2 117.0L266.5 117.0L266.5 137.3L259.4 144.3L239.1 144.3Z M239.1 124L259.4 124L259.4 144.3 M259.4 124L266.5 117.0" fill="#fff" stroke="#3a3a3a" stroke-width="1.1" stroke-linejoin="round"/><rect x="242.4" y="125.2" width="3.8" height="10.6" rx="1" fill="#2fa0e0" stroke="#3358f0" stroke-width="0.8"/><line x1="249.4" y1="133.6" x2="255.6" y2="128.1" stroke="#3358f0" stroke-width="4.2" stroke-linecap="round"/><line x1="249.4" y1="133.6" x2="255.6" y2="128.1" stroke="#15963a" stroke-width="2.8" stroke-linecap="round"/><rect x="242.0" y="137.7" width="11" height="3.9" rx="1.6" fill="#c810a0" stroke="#5a40f0" stroke-width="0.8"/>
<line x1="269.5" y1="133" x2="276.8" y2="133" stroke="#222" stroke-width="1.0"/><path d="M281.8 133L276.3 130.2L276.3 135.8Z" fill="#111"/>
<rect x="282.5" y="118.3" width="26.3" height="26.2" fill="#fff" stroke="#333" stroke-width="1.2"/><line x1="288.4" y1="142.3" x2="288.4" y2="123.3" stroke="#111" stroke-width="1"/><path d="M288.4 120.1L285.79999999999995 124.8L291.0 124.8Z" fill="#111"/><line x1="284.5" y1="137.9" x2="302.5" y2="137.9" stroke="#111" stroke-width="1"/><path d="M307.0 137.9L302.3 135.3L302.3 140.5Z" fill="#111"/><path d="M290.2 140.1L293.1 125.5L303.3 125.5" fill="none" stroke="#333" stroke-width="0.9"/>
<line x1="308.8" y1="133" x2="315.5" y2="133" stroke="#222" stroke-width="1.0"/><path d="M320.5 133L315.0 130.2L315.0 135.8Z" fill="#111"/>
<path d="M321.3 119L344.5 132.8L321.3 146.6Z" fill="#fff" stroke="#333" stroke-width="1"/><text x="322.8" y="136.0" font-family='"Liberation Serif", serif' font-size="9.2" textLength="17.9" lengthAdjust="spacingAndGlyphs" fill="#333">AMP</text>
<line x1="344.5" y1="133" x2="352.0" y2="133" stroke="#222" stroke-width="1.0"/><path d="M357 133L351.5 130.2L351.5 135.8Z" fill="#111"/>
<rect x="357.6" y="118" width="26" height="26" fill="#fff" stroke="#333" stroke-width="1.2"/><line x1="362.40000000000003" y1="142" x2="362.40000000000003" y2="123" stroke="#111" stroke-width="1"/><path d="M362.40000000000003 119.8L359.8 124.5L365.00000000000006 124.5Z" fill="#111"/><line x1="359.90000000000003" y1="137.8" x2="377.1" y2="137.8" stroke="#111" stroke-width="1"/><path d="M381.6 137.8L376.90000000000003 135.20000000000002L376.90000000000003 140.4Z" fill="#111"/><path d="M362.40000000000003 125.7L373.40000000000003 125.7L375.5 140.2" fill="none" stroke="#333" stroke-width="0.9"/>
<line x1="383.6" y1="133" x2="391.2" y2="133" stroke="#222" stroke-width="1.0"/><path d="M396.2 133L390.7 130.2L390.7 135.8Z" fill="#111"/>
<path d="M397 133L404 125.5L422 125.5L422 140.5L404 140.5Z" fill="#fff" stroke="#333" stroke-width="1"/><text x="402.6" y="136.9" font-family='"Liberation Serif", serif' font-size="10.5" textLength="16" lengthAdjust="spacingAndGlyphs">A/D</text><text x="418.6" y="134.2" font-family='"Liberation Serif", serif' font-size="8.5">*</text>
<line x1="422" y1="133" x2="428.3" y2="133" stroke="#222" stroke-width="1.0"/><path d="M433.3 133L427.8 130.2L427.8 135.8Z" fill="#111"/>
<rect x="250.5" y="101.6" width="1" height="1.1" fill="#444"/><rect x="250.5" y="104.8" width="1" height="1.1" fill="#444"/><rect x="250.5" y="108.0" width="1" height="1.1" fill="#444"/>
<rect x="293.5" y="101.6" width="1" height="1.1" fill="#444"/><rect x="293.5" y="104.8" width="1" height="1.1" fill="#444"/><rect x="293.5" y="108.0" width="1" height="1.1" fill="#444"/>
<rect x="331.3" y="101.6" width="1" height="1.1" fill="#444"/><rect x="331.3" y="104.8" width="1" height="1.1" fill="#444"/><rect x="331.3" y="108.0" width="1" height="1.1" fill="#444"/>
<rect x="368.8" y="101.6" width="1" height="1.1" fill="#444"/><rect x="368.8" y="104.8" width="1" height="1.1" fill="#444"/><rect x="368.8" y="108.0" width="1" height="1.1" fill="#444"/>
<rect x="408.3" y="101.6" width="1" height="1.1" fill="#444"/><rect x="408.3" y="104.8" width="1" height="1.1" fill="#444"/><rect x="408.3" y="108.0" width="1" height="1.1" fill="#444"/>
<rect x="433.7" y="34.3" width="54.2" height="115.2" fill="#fff" stroke="#333" stroke-width="1.2"/>
<rect x="446.2" y="43.3" width="30.6" height="25" fill="#fff" stroke="#333" stroke-width="1.1"/>
<text x="461.5" y="59.8" font-family='"Liberation Serif", serif' font-size="10.5" text-anchor="middle" textLength="24" lengthAdjust="spacingAndGlyphs">FPGA</text>
<rect x="443.8" y="74.3" width="37.6" height="25.2" fill="#fff" stroke="#333" stroke-width="1.1"/>
<text x="462" y="90" font-family='"Liberation Serif", serif' font-size="10.5" text-anchor="middle" textLength="34.6" lengthAdjust="spacingAndGlyphs">Memory</text>
<text x="461.3" y="118.6" font-family='"Liberation Serif", serif' font-size="10.5" text-anchor="middle" textLength="20" lengthAdjust="spacingAndGlyphs">Data</text>
<text x="461.3" y="129" font-family='"Liberation Serif", serif' font-size="10.5" text-anchor="middle" textLength="46.4" lengthAdjust="spacingAndGlyphs">Acquisition</text>
<text x="461.3" y="139.1" font-family='"Liberation Serif", serif' font-size="10.5" text-anchor="middle" textLength="25" lengthAdjust="spacingAndGlyphs">Board</text>
<line x1="487.9" y1="46.6" x2="495.8" y2="46.6" stroke="#222" stroke-width="1.0"/><path d="M500.8 46.6L495.3 43.800000000000004L495.3 49.4Z" fill="#111"/>
<rect x="501.6" y="34.5" width="34.8" height="23" fill="#fff" stroke="#333" stroke-width="1.1"/>
<text x="518.9" y="49.5" font-family='"Liberation Serif", serif' font-size="10.5" text-anchor="middle">PC</text>
<line x1="510.9" y1="57.8" x2="509" y2="66" stroke="#333" stroke-width="0.9"/>
<text x="500.7" y="75.5" font-family='"Liberation Serif", serif' font-size="10.5" textLength="27" lengthAdjust="spacingAndGlyphs">Digital</text>
<text x="500.7" y="85.9" font-family='"Liberation Serif", serif' font-size="10.5" textLength="42.5" lengthAdjust="spacingAndGlyphs">processing</text>
<path d="M251.7 146.8L259.5 155L256 155L256 164L247.5 164L247.5 155L244 155Z" fill="#fff" stroke="#333" stroke-width="1"/>
<text x="203.6" y="177.4" font-family='"Liberation Serif", serif' font-size="11.8" textLength="116.4" lengthAdjust="spacingAndGlyphs">3-axis closed-loop type</text>
<text x="203.6" y="191.9" font-family='"Liberation Serif", serif' font-size="11.8" textLength="67.7" lengthAdjust="spacingAndGlyphs">TMR sensors</text>
<text x="295.5" y="154.9" font-family='"Liberation Serif", serif' font-size="9" text-anchor="middle">HPF</text>
<text x="367.4" y="154.9" font-family='"Liberation Serif", serif' font-size="9" text-anchor="middle">LPF</text>
<text x="433.6" y="189.3" font-family='"Liberation Serif", serif' font-size="11.8" textLength="87.4" lengthAdjust="spacingAndGlyphs">*1 kHz sampling</text>
</g>
<line x1="59.0" y1="56.8" x2="65.7" y2="53.5" stroke="#2a5fb0" stroke-width="3.0" stroke-linecap="round"/><line x1="59.0" y1="56.8" x2="65.7" y2="53.5" stroke="#0c8a2a" stroke-width="2.0" stroke-linecap="round"/><line x1="54.0" y1="48.2" x2="63.2" y2="50.0" stroke="#8e2ee0" stroke-width="3.2" stroke-linecap="round"/><line x1="54.0" y1="48.2" x2="63.2" y2="50.0" stroke="#d2069e" stroke-width="2.1" stroke-linecap="round"/><line x1="64.2" y1="55.9" x2="64.2" y2="45.6" stroke="#2f62e6" stroke-width="2.6" stroke-linecap="round"/><line x1="64.2" y1="55.9" x2="64.2" y2="45.6" stroke="#2b98e2" stroke-width="1.5" stroke-linecap="round"/>
<line x1="72.5" y1="58.3" x2="79.2" y2="55.0" stroke="#2a5fb0" stroke-width="3.0" stroke-linecap="round"/><line x1="72.5" y1="58.3" x2="79.2" y2="55.0" stroke="#0c8a2a" stroke-width="2.0" stroke-linecap="round"/><line x1="67.5" y1="49.7" x2="76.7" y2="51.5" stroke="#8e2ee0" stroke-width="3.2" stroke-linecap="round"/><line x1="67.5" y1="49.7" x2="76.7" y2="51.5" stroke="#d2069e" stroke-width="2.1" stroke-linecap="round"/><line x1="77.7" y1="57.4" x2="77.7" y2="47.1" stroke="#2f62e6" stroke-width="2.6" stroke-linecap="round"/><line x1="77.7" y1="57.4" x2="77.7" y2="47.1" stroke="#2b98e2" stroke-width="1.5" stroke-linecap="round"/>
<line x1="86.1" y1="59.8" x2="92.8" y2="56.5" stroke="#2a5fb0" stroke-width="3.0" stroke-linecap="round"/><line x1="86.1" y1="59.8" x2="92.8" y2="56.5" stroke="#0c8a2a" stroke-width="2.0" stroke-linecap="round"/><line x1="81.1" y1="51.2" x2="90.3" y2="53.0" stroke="#8e2ee0" stroke-width="3.2" stroke-linecap="round"/><line x1="81.1" y1="51.2" x2="90.3" y2="53.0" stroke="#d2069e" stroke-width="2.1" stroke-linecap="round"/><line x1="91.3" y1="58.9" x2="91.3" y2="48.6" stroke="#2f62e6" stroke-width="2.6" stroke-linecap="round"/><line x1="91.3" y1="58.9" x2="91.3" y2="48.6" stroke="#2b98e2" stroke-width="1.5" stroke-linecap="round"/>
<line x1="101.6" y1="61.7" x2="107.6" y2="58.9" stroke="#2a5fb0" stroke-width="3.2" stroke-linecap="round"/><line x1="101.6" y1="61.7" x2="107.6" y2="58.9" stroke="#0c8a2a" stroke-width="2.2" stroke-linecap="round"/><line x1="104.8" y1="60.4" x2="104.8" y2="50.6" stroke="#2f62e6" stroke-width="2.6" stroke-linecap="round"/><line x1="104.8" y1="60.4" x2="104.8" y2="50.6" stroke="#2b98e2" stroke-width="1.5" stroke-linecap="round"/><line x1="105.6" y1="56.6" x2="114.0" y2="58.1" stroke="#8e2ee0" stroke-width="3.2" stroke-linecap="round"/><line x1="105.6" y1="56.6" x2="114.0" y2="58.1" stroke="#d2069e" stroke-width="2.1" stroke-linecap="round"/>
<line x1="115.2" y1="63.2" x2="121.2" y2="60.4" stroke="#2a5fb0" stroke-width="3.2" stroke-linecap="round"/><line x1="115.2" y1="63.2" x2="121.2" y2="60.4" stroke="#0c8a2a" stroke-width="2.2" stroke-linecap="round"/><line x1="118.4" y1="61.9" x2="118.4" y2="52.1" stroke="#2f62e6" stroke-width="2.6" stroke-linecap="round"/><line x1="118.4" y1="61.9" x2="118.4" y2="52.1" stroke="#2b98e2" stroke-width="1.5" stroke-linecap="round"/><line x1="119.2" y1="58.1" x2="127.6" y2="59.6" stroke="#8e2ee0" stroke-width="3.2" stroke-linecap="round"/><line x1="119.2" y1="58.1" x2="127.6" y2="59.6" stroke="#d2069e" stroke-width="2.1" stroke-linecap="round"/>
<line x1="128.8" y1="64.7" x2="134.8" y2="61.9" stroke="#2a5fb0" stroke-width="3.2" stroke-linecap="round"/><line x1="128.8" y1="64.7" x2="134.8" y2="61.9" stroke="#0c8a2a" stroke-width="2.2" stroke-linecap="round"/><line x1="131.9" y1="63.4" x2="131.9" y2="53.6" stroke="#2f62e6" stroke-width="2.6" stroke-linecap="round"/><line x1="131.9" y1="63.4" x2="131.9" y2="53.6" stroke="#2b98e2" stroke-width="1.5" stroke-linecap="round"/><line x1="132.8" y1="59.6" x2="141.1" y2="61.1" stroke="#8e2ee0" stroke-width="3.2" stroke-linecap="round"/><line x1="132.8" y1="59.6" x2="141.1" y2="61.1" stroke="#d2069e" stroke-width="2.1" stroke-linecap="round"/>
<line x1="53.3" y1="59.4" x2="60.0" y2="56.1" stroke="#2a5fb0" stroke-width="3.0" stroke-linecap="round"/><line x1="53.3" y1="59.4" x2="60.0" y2="56.1" stroke="#0c8a2a" stroke-width="2.0" stroke-linecap="round"/><line x1="48.3" y1="50.8" x2="57.5" y2="52.6" stroke="#8e2ee0" stroke-width="3.2" stroke-linecap="round"/><line x1="48.3" y1="50.8" x2="57.5" y2="52.6" stroke="#d2069e" stroke-width="2.1" stroke-linecap="round"/><line x1="58.5" y1="58.5" x2="58.5" y2="48.2" stroke="#2f62e6" stroke-width="2.6" stroke-linecap="round"/><line x1="58.5" y1="58.5" x2="58.5" y2="48.2" stroke="#2b98e2" stroke-width="1.5" stroke-linecap="round"/>
<line x1="66.9" y1="60.9" x2="73.6" y2="57.6" stroke="#2a5fb0" stroke-width="3.0" stroke-linecap="round"/><line x1="66.9" y1="60.9" x2="73.6" y2="57.6" stroke="#0c8a2a" stroke-width="2.0" stroke-linecap="round"/><line x1="61.9" y1="52.3" x2="71.1" y2="54.1" stroke="#8e2ee0" stroke-width="3.2" stroke-linecap="round"/><line x1="61.9" y1="52.3" x2="71.1" y2="54.1" stroke="#d2069e" stroke-width="2.1" stroke-linecap="round"/><line x1="72.1" y1="60.0" x2="72.1" y2="49.7" stroke="#2f62e6" stroke-width="2.6" stroke-linecap="round"/><line x1="72.1" y1="60.0" x2="72.1" y2="49.7" stroke="#2b98e2" stroke-width="1.5" stroke-linecap="round"/>
<line x1="80.4" y1="62.4" x2="87.1" y2="59.1" stroke="#2a5fb0" stroke-width="3.0" stroke-linecap="round"/><line x1="80.4" y1="62.4" x2="87.1" y2="59.1" stroke="#0c8a2a" stroke-width="2.0" stroke-linecap="round"/><line x1="75.4" y1="53.8" x2="84.6" y2="55.6" stroke="#8e2ee0" stroke-width="3.2" stroke-linecap="round"/><line x1="75.4" y1="53.8" x2="84.6" y2="55.6" stroke="#d2069e" stroke-width="2.1" stroke-linecap="round"/><line x1="85.6" y1="61.5" x2="85.6" y2="51.2" stroke="#2f62e6" stroke-width="2.6" stroke-linecap="round"/><line x1="85.6" y1="61.5" x2="85.6" y2="51.2" stroke="#2b98e2" stroke-width="1.5" stroke-linecap="round"/>
<line x1="96.0" y1="64.3" x2="102.0" y2="61.5" stroke="#2a5fb0" stroke-width="3.2" stroke-linecap="round"/><line x1="96.0" y1="64.3" x2="102.0" y2="61.5" stroke="#0c8a2a" stroke-width="2.2" stroke-linecap="round"/><line x1="99.2" y1="63.0" x2="99.2" y2="53.2" stroke="#2f62e6" stroke-width="2.6" stroke-linecap="round"/><line x1="99.2" y1="63.0" x2="99.2" y2="53.2" stroke="#2b98e2" stroke-width="1.5" stroke-linecap="round"/><line x1="100.0" y1="59.2" x2="108.4" y2="60.7" stroke="#8e2ee0" stroke-width="3.2" stroke-linecap="round"/><line x1="100.0" y1="59.2" x2="108.4" y2="60.7" stroke="#d2069e" stroke-width="2.1" stroke-linecap="round"/>
<line x1="109.5" y1="65.8" x2="115.5" y2="63.0" stroke="#2a5fb0" stroke-width="3.2" stroke-linecap="round"/><line x1="109.5" y1="65.8" x2="115.5" y2="63.0" stroke="#0c8a2a" stroke-width="2.2" stroke-linecap="round"/><line x1="112.7" y1="64.5" x2="112.7" y2="54.7" stroke="#2f62e6" stroke-width="2.6" stroke-linecap="round"/><line x1="112.7" y1="64.5" x2="112.7" y2="54.7" stroke="#2b98e2" stroke-width="1.5" stroke-linecap="round"/><line x1="113.5" y1="60.7" x2="121.9" y2="62.2" stroke="#8e2ee0" stroke-width="3.2" stroke-linecap="round"/><line x1="113.5" y1="60.7" x2="121.9" y2="62.2" stroke="#d2069e" stroke-width="2.1" stroke-linecap="round"/>
<line x1="123.1" y1="67.3" x2="129.1" y2="64.5" stroke="#2a5fb0" stroke-width="3.2" stroke-linecap="round"/><line x1="123.1" y1="67.3" x2="129.1" y2="64.5" stroke="#0c8a2a" stroke-width="2.2" stroke-linecap="round"/><line x1="126.3" y1="66.0" x2="126.3" y2="56.2" stroke="#2f62e6" stroke-width="2.6" stroke-linecap="round"/><line x1="126.3" y1="66.0" x2="126.3" y2="56.2" stroke="#2b98e2" stroke-width="1.5" stroke-linecap="round"/><line x1="127.1" y1="62.2" x2="135.5" y2="63.7" stroke="#8e2ee0" stroke-width="3.2" stroke-linecap="round"/><line x1="127.1" y1="62.2" x2="135.5" y2="63.7" stroke="#d2069e" stroke-width="2.1" stroke-linecap="round"/>
<line x1="47.6" y1="62.1" x2="54.4" y2="58.8" stroke="#2a5fb0" stroke-width="3.0" stroke-linecap="round"/><line x1="47.6" y1="62.1" x2="54.4" y2="58.8" stroke="#0c8a2a" stroke-width="2.0" stroke-linecap="round"/><line x1="42.7" y1="53.5" x2="51.9" y2="55.3" stroke="#8e2ee0" stroke-width="3.2" stroke-linecap="round"/><line x1="42.7" y1="53.5" x2="51.9" y2="55.3" stroke="#d2069e" stroke-width="2.1" stroke-linecap="round"/><line x1="52.9" y1="61.2" x2="52.9" y2="50.9" stroke="#2f62e6" stroke-width="2.6" stroke-linecap="round"/><line x1="52.9" y1="61.2" x2="52.9" y2="50.9" stroke="#2b98e2" stroke-width="1.5" stroke-linecap="round"/>
<line x1="61.2" y1="63.6" x2="67.9" y2="60.3" stroke="#2a5fb0" stroke-width="3.0" stroke-linecap="round"/><line x1="61.2" y1="63.6" x2="67.9" y2="60.3" stroke="#0c8a2a" stroke-width="2.0" stroke-linecap="round"/><line x1="56.2" y1="55.0" x2="65.4" y2="56.8" stroke="#8e2ee0" stroke-width="3.2" stroke-linecap="round"/><line x1="56.2" y1="55.0" x2="65.4" y2="56.8" stroke="#d2069e" stroke-width="2.1" stroke-linecap="round"/><line x1="66.4" y1="62.7" x2="66.4" y2="52.4" stroke="#2f62e6" stroke-width="2.6" stroke-linecap="round"/><line x1="66.4" y1="62.7" x2="66.4" y2="52.4" stroke="#2b98e2" stroke-width="1.5" stroke-linecap="round"/>
<line x1="74.8" y1="65.1" x2="81.5" y2="61.8" stroke="#2a5fb0" stroke-width="3.0" stroke-linecap="round"/><line x1="74.8" y1="65.1" x2="81.5" y2="61.8" stroke="#0c8a2a" stroke-width="2.0" stroke-linecap="round"/><line x1="69.8" y1="56.5" x2="79.0" y2="58.3" stroke="#8e2ee0" stroke-width="3.2" stroke-linecap="round"/><line x1="69.8" y1="56.5" x2="79.0" y2="58.3" stroke="#d2069e" stroke-width="2.1" stroke-linecap="round"/><line x1="80.0" y1="64.2" x2="80.0" y2="53.9" stroke="#2f62e6" stroke-width="2.6" stroke-linecap="round"/><line x1="80.0" y1="64.2" x2="80.0" y2="53.9" stroke="#2b98e2" stroke-width="1.5" stroke-linecap="round"/>
<line x1="90.3" y1="67.0" x2="96.3" y2="64.2" stroke="#2a5fb0" stroke-width="3.2" stroke-linecap="round"/><line x1="90.3" y1="67.0" x2="96.3" y2="64.2" stroke="#0c8a2a" stroke-width="2.2" stroke-linecap="round"/><line x1="93.5" y1="65.7" x2="93.5" y2="55.9" stroke="#2f62e6" stroke-width="2.6" stroke-linecap="round"/><line x1="93.5" y1="65.7" x2="93.5" y2="55.9" stroke="#2b98e2" stroke-width="1.5" stroke-linecap="round"/><line x1="94.3" y1="61.9" x2="102.7" y2="63.4" stroke="#8e2ee0" stroke-width="3.2" stroke-linecap="round"/><line x1="94.3" y1="61.9" x2="102.7" y2="63.4" stroke="#d2069e" stroke-width="2.1" stroke-linecap="round"/>
<line x1="103.9" y1="68.5" x2="109.9" y2="65.7" stroke="#2a5fb0" stroke-width="3.2" stroke-linecap="round"/><line x1="103.9" y1="68.5" x2="109.9" y2="65.7" stroke="#0c8a2a" stroke-width="2.2" stroke-linecap="round"/><line x1="107.1" y1="67.2" x2="107.1" y2="57.4" stroke="#2f62e6" stroke-width="2.6" stroke-linecap="round"/><line x1="107.1" y1="67.2" x2="107.1" y2="57.4" stroke="#2b98e2" stroke-width="1.5" stroke-linecap="round"/><line x1="107.9" y1="63.4" x2="116.3" y2="64.9" stroke="#8e2ee0" stroke-width="3.2" stroke-linecap="round"/><line x1="107.9" y1="63.4" x2="116.3" y2="64.9" stroke="#d2069e" stroke-width="2.1" stroke-linecap="round"/>
<line x1="117.4" y1="70.0" x2="123.4" y2="67.2" stroke="#2a5fb0" stroke-width="3.2" stroke-linecap="round"/><line x1="117.4" y1="70.0" x2="123.4" y2="67.2" stroke="#0c8a2a" stroke-width="2.2" stroke-linecap="round"/><line x1="120.6" y1="68.7" x2="120.6" y2="58.9" stroke="#2f62e6" stroke-width="2.6" stroke-linecap="round"/><line x1="120.6" y1="68.7" x2="120.6" y2="58.9" stroke="#2b98e2" stroke-width="1.5" stroke-linecap="round"/><line x1="121.4" y1="64.9" x2="129.8" y2="66.4" stroke="#8e2ee0" stroke-width="3.2" stroke-linecap="round"/><line x1="121.4" y1="64.9" x2="129.8" y2="66.4" stroke="#d2069e" stroke-width="2.1" stroke-linecap="round"/>
<line x1="42.0" y1="64.7" x2="48.7" y2="61.4" stroke="#2a5fb0" stroke-width="3.0" stroke-linecap="round"/><line x1="42.0" y1="64.7" x2="48.7" y2="61.4" stroke="#0c8a2a" stroke-width="2.0" stroke-linecap="round"/><line x1="37.0" y1="56.1" x2="46.2" y2="57.9" stroke="#8e2ee0" stroke-width="3.2" stroke-linecap="round"/><line x1="37.0" y1="56.1" x2="46.2" y2="57.9" stroke="#d2069e" stroke-width="2.1" stroke-linecap="round"/><line x1="47.2" y1="63.8" x2="47.2" y2="53.5" stroke="#2f62e6" stroke-width="2.6" stroke-linecap="round"/><line x1="47.2" y1="63.8" x2="47.2" y2="53.5" stroke="#2b98e2" stroke-width="1.5" stroke-linecap="round"/>
<line x1="55.6" y1="66.2" x2="62.3" y2="62.9" stroke="#2a5fb0" stroke-width="3.0" stroke-linecap="round"/><line x1="55.6" y1="66.2" x2="62.3" y2="62.9" stroke="#0c8a2a" stroke-width="2.0" stroke-linecap="round"/><line x1="50.6" y1="57.6" x2="59.8" y2="59.4" stroke="#8e2ee0" stroke-width="3.2" stroke-linecap="round"/><line x1="50.6" y1="57.6" x2="59.8" y2="59.4" stroke="#d2069e" stroke-width="2.1" stroke-linecap="round"/><line x1="60.8" y1="65.3" x2="60.8" y2="55.0" stroke="#2f62e6" stroke-width="2.6" stroke-linecap="round"/><line x1="60.8" y1="65.3" x2="60.8" y2="55.0" stroke="#2b98e2" stroke-width="1.5" stroke-linecap="round"/>
<line x1="69.1" y1="67.7" x2="75.8" y2="64.4" stroke="#2a5fb0" stroke-width="3.0" stroke-linecap="round"/><line x1="69.1" y1="67.7" x2="75.8" y2="64.4" stroke="#0c8a2a" stroke-width="2.0" stroke-linecap="round"/><line x1="64.1" y1="59.1" x2="73.3" y2="60.9" stroke="#8e2ee0" stroke-width="3.2" stroke-linecap="round"/><line x1="64.1" y1="59.1" x2="73.3" y2="60.9" stroke="#d2069e" stroke-width="2.1" stroke-linecap="round"/><line x1="74.3" y1="66.8" x2="74.3" y2="56.5" stroke="#2f62e6" stroke-width="2.6" stroke-linecap="round"/><line x1="74.3" y1="66.8" x2="74.3" y2="56.5" stroke="#2b98e2" stroke-width="1.5" stroke-linecap="round"/>
<line x1="84.7" y1="69.6" x2="90.7" y2="66.8" stroke="#2a5fb0" stroke-width="3.2" stroke-linecap="round"/><line x1="84.7" y1="69.6" x2="90.7" y2="66.8" stroke="#0c8a2a" stroke-width="2.2" stroke-linecap="round"/><line x1="87.9" y1="68.3" x2="87.9" y2="58.5" stroke="#2f62e6" stroke-width="2.6" stroke-linecap="round"/><line x1="87.9" y1="68.3" x2="87.9" y2="58.5" stroke="#2b98e2" stroke-width="1.5" stroke-linecap="round"/><line x1="88.7" y1="64.5" x2="97.1" y2="66.0" stroke="#8e2ee0" stroke-width="3.2" stroke-linecap="round"/><line x1="88.7" y1="64.5" x2="97.1" y2="66.0" stroke="#d2069e" stroke-width="2.1" stroke-linecap="round"/>
<line x1="98.2" y1="71.1" x2="104.2" y2="68.3" stroke="#2a5fb0" stroke-width="3.2" stroke-linecap="round"/><line x1="98.2" y1="71.1" x2="104.2" y2="68.3" stroke="#0c8a2a" stroke-width="2.2" stroke-linecap="round"/><line x1="101.4" y1="69.8" x2="101.4" y2="60.0" stroke="#2f62e6" stroke-width="2.6" stroke-linecap="round"/><line x1="101.4" y1="69.8" x2="101.4" y2="60.0" stroke="#2b98e2" stroke-width="1.5" stroke-linecap="round"/><line x1="102.2" y1="66.0" x2="110.6" y2="67.5" stroke="#8e2ee0" stroke-width="3.2" stroke-linecap="round"/><line x1="102.2" y1="66.0" x2="110.6" y2="67.5" stroke="#d2069e" stroke-width="2.1" stroke-linecap="round"/>
<line x1="111.8" y1="72.6" x2="117.8" y2="69.8" stroke="#2a5fb0" stroke-width="3.2" stroke-linecap="round"/><line x1="111.8" y1="72.6" x2="117.8" y2="69.8" stroke="#0c8a2a" stroke-width="2.2" stroke-linecap="round"/><line x1="115.0" y1="71.3" x2="115.0" y2="61.5" stroke="#2f62e6" stroke-width="2.6" stroke-linecap="round"/><line x1="115.0" y1="71.3" x2="115.0" y2="61.5" stroke="#2b98e2" stroke-width="1.5" stroke-linecap="round"/><line x1="115.8" y1="67.5" x2="124.2" y2="69.0" stroke="#8e2ee0" stroke-width="3.2" stroke-linecap="round"/><line x1="115.8" y1="67.5" x2="124.2" y2="69.0" stroke="#d2069e" stroke-width="2.1" stroke-linecap="round"/>
<line x1="36.3" y1="67.4" x2="43.0" y2="64.1" stroke="#2a5fb0" stroke-width="3.0" stroke-linecap="round"/><line x1="36.3" y1="67.4" x2="43.0" y2="64.1" stroke="#0c8a2a" stroke-width="2.0" stroke-linecap="round"/><line x1="31.3" y1="58.8" x2="40.5" y2="60.6" stroke="#8e2ee0" stroke-width="3.2" stroke-linecap="round"/><line x1="31.3" y1="58.8" x2="40.5" y2="60.6" stroke="#d2069e" stroke-width="2.1" stroke-linecap="round"/><line x1="41.5" y1="66.5" x2="41.5" y2="56.2" stroke="#2f62e6" stroke-width="2.6" stroke-linecap="round"/><line x1="41.5" y1="66.5" x2="41.5" y2="56.2" stroke="#2b98e2" stroke-width="1.5" stroke-linecap="round"/>
<line x1="49.9" y1="68.9" x2="56.6" y2="65.6" stroke="#2a5fb0" stroke-width="3.0" stroke-linecap="round"/><line x1="49.9" y1="68.9" x2="56.6" y2="65.6" stroke="#0c8a2a" stroke-width="2.0" stroke-linecap="round"/><line x1="44.9" y1="60.3" x2="54.1" y2="62.1" stroke="#8e2ee0" stroke-width="3.2" stroke-linecap="round"/><line x1="44.9" y1="60.3" x2="54.1" y2="62.1" stroke="#d2069e" stroke-width="2.1" stroke-linecap="round"/><line x1="55.1" y1="68.0" x2="55.1" y2="57.7" stroke="#2f62e6" stroke-width="2.6" stroke-linecap="round"/><line x1="55.1" y1="68.0" x2="55.1" y2="57.7" stroke="#2b98e2" stroke-width="1.5" stroke-linecap="round"/>
<line x1="63.5" y1="70.4" x2="70.2" y2="67.1" stroke="#2a5fb0" stroke-width="3.0" stroke-linecap="round"/><line x1="63.5" y1="70.4" x2="70.2" y2="67.1" stroke="#0c8a2a" stroke-width="2.0" stroke-linecap="round"/><line x1="58.5" y1="61.8" x2="67.7" y2="63.6" stroke="#8e2ee0" stroke-width="3.2" stroke-linecap="round"/><line x1="58.5" y1="61.8" x2="67.7" y2="63.6" stroke="#d2069e" stroke-width="2.1" stroke-linecap="round"/><line x1="68.7" y1="69.5" x2="68.7" y2="59.2" stroke="#2f62e6" stroke-width="2.6" stroke-linecap="round"/><line x1="68.7" y1="69.5" x2="68.7" y2="59.2" stroke="#2b98e2" stroke-width="1.5" stroke-linecap="round"/>
<line x1="79.0" y1="72.3" x2="85.0" y2="69.5" stroke="#2a5fb0" stroke-width="3.2" stroke-linecap="round"/><line x1="79.0" y1="72.3" x2="85.0" y2="69.5" stroke="#0c8a2a" stroke-width="2.2" stroke-linecap="round"/><line x1="82.2" y1="71.0" x2="82.2" y2="61.2" stroke="#2f62e6" stroke-width="2.6" stroke-linecap="round"/><line x1="82.2" y1="71.0" x2="82.2" y2="61.2" stroke="#2b98e2" stroke-width="1.5" stroke-linecap="round"/><line x1="83.0" y1="67.2" x2="91.4" y2="68.7" stroke="#8e2ee0" stroke-width="3.2" stroke-linecap="round"/><line x1="83.0" y1="67.2" x2="91.4" y2="68.7" stroke="#d2069e" stroke-width="2.1" stroke-linecap="round"/>
<line x1="92.6" y1="73.8" x2="98.6" y2="71.0" stroke="#2a5fb0" stroke-width="3.2" stroke-linecap="round"/><line x1="92.6" y1="73.8" x2="98.6" y2="71.0" stroke="#0c8a2a" stroke-width="2.2" stroke-linecap="round"/><line x1="95.8" y1="72.5" x2="95.8" y2="62.7" stroke="#2f62e6" stroke-width="2.6" stroke-linecap="round"/><line x1="95.8" y1="72.5" x2="95.8" y2="62.7" stroke="#2b98e2" stroke-width="1.5" stroke-linecap="round"/><line x1="96.6" y1="68.7" x2="105.0" y2="70.2" stroke="#8e2ee0" stroke-width="3.2" stroke-linecap="round"/><line x1="96.6" y1="68.7" x2="105.0" y2="70.2" stroke="#d2069e" stroke-width="2.1" stroke-linecap="round"/>
<line x1="106.1" y1="75.3" x2="112.1" y2="72.5" stroke="#2a5fb0" stroke-width="3.2" stroke-linecap="round"/><line x1="106.1" y1="75.3" x2="112.1" y2="72.5" stroke="#0c8a2a" stroke-width="2.2" stroke-linecap="round"/><line x1="109.3" y1="74.0" x2="109.3" y2="64.2" stroke="#2f62e6" stroke-width="2.6" stroke-linecap="round"/><line x1="109.3" y1="74.0" x2="109.3" y2="64.2" stroke="#2b98e2" stroke-width="1.5" stroke-linecap="round"/><line x1="110.1" y1="70.2" x2="118.5" y2="71.7" stroke="#8e2ee0" stroke-width="3.2" stroke-linecap="round"/><line x1="110.1" y1="70.2" x2="118.5" y2="71.7" stroke="#d2069e" stroke-width="2.1" stroke-linecap="round"/>
<line x1="30.7" y1="70.0" x2="37.4" y2="66.7" stroke="#2a5fb0" stroke-width="3.0" stroke-linecap="round"/><line x1="30.7" y1="70.0" x2="37.4" y2="66.7" stroke="#0c8a2a" stroke-width="2.0" stroke-linecap="round"/><line x1="25.7" y1="61.4" x2="34.9" y2="63.2" stroke="#8e2ee0" stroke-width="3.2" stroke-linecap="round"/><line x1="25.7" y1="61.4" x2="34.9" y2="63.2" stroke="#d2069e" stroke-width="2.1" stroke-linecap="round"/><line x1="35.9" y1="69.1" x2="35.9" y2="58.8" stroke="#2f62e6" stroke-width="2.6" stroke-linecap="round"/><line x1="35.9" y1="69.1" x2="35.9" y2="58.8" stroke="#2b98e2" stroke-width="1.5" stroke-linecap="round"/>
<line x1="44.3" y1="71.5" x2="51.0" y2="68.2" stroke="#2a5fb0" stroke-width="3.0" stroke-linecap="round"/><line x1="44.3" y1="71.5" x2="51.0" y2="68.2" stroke="#0c8a2a" stroke-width="2.0" stroke-linecap="round"/><line x1="39.3" y1="62.9" x2="48.5" y2="64.7" stroke="#8e2ee0" stroke-width="3.2" stroke-linecap="round"/><line x1="39.3" y1="62.9" x2="48.5" y2="64.7" stroke="#d2069e" stroke-width="2.1" stroke-linecap="round"/><line x1="49.5" y1="70.6" x2="49.5" y2="60.3" stroke="#2f62e6" stroke-width="2.6" stroke-linecap="round"/><line x1="49.5" y1="70.6" x2="49.5" y2="60.3" stroke="#2b98e2" stroke-width="1.5" stroke-linecap="round"/>
<line x1="57.8" y1="73.0" x2="64.5" y2="69.7" stroke="#2a5fb0" stroke-width="3.0" stroke-linecap="round"/><line x1="57.8" y1="73.0" x2="64.5" y2="69.7" stroke="#0c8a2a" stroke-width="2.0" stroke-linecap="round"/><line x1="52.8" y1="64.4" x2="62.0" y2="66.2" stroke="#8e2ee0" stroke-width="3.2" stroke-linecap="round"/><line x1="52.8" y1="64.4" x2="62.0" y2="66.2" stroke="#d2069e" stroke-width="2.1" stroke-linecap="round"/><line x1="63.0" y1="72.1" x2="63.0" y2="61.8" stroke="#2f62e6" stroke-width="2.6" stroke-linecap="round"/><line x1="63.0" y1="72.1" x2="63.0" y2="61.8" stroke="#2b98e2" stroke-width="1.5" stroke-linecap="round"/>
<line x1="73.4" y1="74.9" x2="79.4" y2="72.1" stroke="#2a5fb0" stroke-width="3.2" stroke-linecap="round"/><line x1="73.4" y1="74.9" x2="79.4" y2="72.1" stroke="#0c8a2a" stroke-width="2.2" stroke-linecap="round"/><line x1="76.6" y1="73.6" x2="76.6" y2="63.8" stroke="#2f62e6" stroke-width="2.6" stroke-linecap="round"/><line x1="76.6" y1="73.6" x2="76.6" y2="63.8" stroke="#2b98e2" stroke-width="1.5" stroke-linecap="round"/><line x1="77.4" y1="69.8" x2="85.8" y2="71.3" stroke="#8e2ee0" stroke-width="3.2" stroke-linecap="round"/><line x1="77.4" y1="69.8" x2="85.8" y2="71.3" stroke="#d2069e" stroke-width="2.1" stroke-linecap="round"/>
<line x1="86.9" y1="76.4" x2="92.9" y2="73.6" stroke="#2a5fb0" stroke-width="3.2" stroke-linecap="round"/><line x1="86.9" y1="76.4" x2="92.9" y2="73.6" stroke="#0c8a2a" stroke-width="2.2" stroke-linecap="round"/><line x1="90.1" y1="75.1" x2="90.1" y2="65.3" stroke="#2f62e6" stroke-width="2.6" stroke-linecap="round"/><line x1="90.1" y1="75.1" x2="90.1" y2="65.3" stroke="#2b98e2" stroke-width="1.5" stroke-linecap="round"/><line x1="90.9" y1="71.3" x2="99.3" y2="72.8" stroke="#8e2ee0" stroke-width="3.2" stroke-linecap="round"/><line x1="90.9" y1="71.3" x2="99.3" y2="72.8" stroke="#d2069e" stroke-width="2.1" stroke-linecap="round"/>
<line x1="100.5" y1="77.9" x2="106.5" y2="75.1" stroke="#2a5fb0" stroke-width="3.2" stroke-linecap="round"/><line x1="100.5" y1="77.9" x2="106.5" y2="75.1" stroke="#0c8a2a" stroke-width="2.2" stroke-linecap="round"/><line x1="103.7" y1="76.6" x2="103.7" y2="66.8" stroke="#2f62e6" stroke-width="2.6" stroke-linecap="round"/><line x1="103.7" y1="76.6" x2="103.7" y2="66.8" stroke="#2b98e2" stroke-width="1.5" stroke-linecap="round"/><line x1="104.5" y1="72.8" x2="112.9" y2="74.3" stroke="#8e2ee0" stroke-width="3.2" stroke-linecap="round"/><line x1="104.5" y1="72.8" x2="112.9" y2="74.3" stroke="#d2069e" stroke-width="2.1" stroke-linecap="round"/>
<line x1="59.0" y1="42.3" x2="65.7" y2="39.0" stroke="#2a5fb0" stroke-width="3.0" stroke-linecap="round"/><line x1="59.0" y1="42.3" x2="65.7" y2="39.0" stroke="#0c8a2a" stroke-width="2.0" stroke-linecap="round"/><line x1="54.0" y1="33.7" x2="63.2" y2="35.5" stroke="#8e2ee0" stroke-width="3.2" stroke-linecap="round"/><line x1="54.0" y1="33.7" x2="63.2" y2="35.5" stroke="#d2069e" stroke-width="2.1" stroke-linecap="round"/><line x1="64.2" y1="41.4" x2="64.2" y2="31.1" stroke="#2f62e6" stroke-width="2.6" stroke-linecap="round"/><line x1="64.2" y1="41.4" x2="64.2" y2="31.1" stroke="#2b98e2" stroke-width="1.5" stroke-linecap="round"/>
<line x1="72.5" y1="43.8" x2="79.2" y2="40.5" stroke="#2a5fb0" stroke-width="3.0" stroke-linecap="round"/><line x1="72.5" y1="43.8" x2="79.2" y2="40.5" stroke="#0c8a2a" stroke-width="2.0" stroke-linecap="round"/><line x1="67.5" y1="35.2" x2="76.7" y2="37.0" stroke="#8e2ee0" stroke-width="3.2" stroke-linecap="round"/><line x1="67.5" y1="35.2" x2="76.7" y2="37.0" stroke="#d2069e" stroke-width="2.1" stroke-linecap="round"/><line x1="77.7" y1="42.9" x2="77.7" y2="32.6" stroke="#2f62e6" stroke-width="2.6" stroke-linecap="round"/><line x1="77.7" y1="42.9" x2="77.7" y2="32.6" stroke="#2b98e2" stroke-width="1.5" stroke-linecap="round"/>
<line x1="86.1" y1="45.3" x2="92.8" y2="42.0" stroke="#2a5fb0" stroke-width="3.0" stroke-linecap="round"/><line x1="86.1" y1="45.3" x2="92.8" y2="42.0" stroke="#0c8a2a" stroke-width="2.0" stroke-linecap="round"/><line x1="81.1" y1="36.7" x2="90.3" y2="38.5" stroke="#8e2ee0" stroke-width="3.2" stroke-linecap="round"/><line x1="81.1" y1="36.7" x2="90.3" y2="38.5" stroke="#d2069e" stroke-width="2.1" stroke-linecap="round"/><line x1="91.3" y1="44.4" x2="91.3" y2="34.1" stroke="#2f62e6" stroke-width="2.6" stroke-linecap="round"/><line x1="91.3" y1="44.4" x2="91.3" y2="34.1" stroke="#2b98e2" stroke-width="1.5" stroke-linecap="round"/>
<line x1="101.6" y1="47.2" x2="107.6" y2="44.4" stroke="#2a5fb0" stroke-width="3.2" stroke-linecap="round"/><line x1="101.6" y1="47.2" x2="107.6" y2="44.4" stroke="#0c8a2a" stroke-width="2.2" stroke-linecap="round"/><line x1="104.8" y1="45.9" x2="104.8" y2="36.1" stroke="#2f62e6" stroke-width="2.6" stroke-linecap="round"/><line x1="104.8" y1="45.9" x2="104.8" y2="36.1" stroke="#2b98e2" stroke-width="1.5" stroke-linecap="round"/><line x1="105.6" y1="42.1" x2="114.0" y2="43.6" stroke="#8e2ee0" stroke-width="3.2" stroke-linecap="round"/><line x1="105.6" y1="42.1" x2="114.0" y2="43.6" stroke="#d2069e" stroke-width="2.1" stroke-linecap="round"/>
<line x1="115.2" y1="48.7" x2="121.2" y2="45.9" stroke="#2a5fb0" stroke-width="3.2" stroke-linecap="round"/><line x1="115.2" y1="48.7" x2="121.2" y2="45.9" stroke="#0c8a2a" stroke-width="2.2" stroke-linecap="round"/><line x1="118.4" y1="47.4" x2="118.4" y2="37.6" stroke="#2f62e6" stroke-width="2.6" stroke-linecap="round"/><line x1="118.4" y1="47.4" x2="118.4" y2="37.6" stroke="#2b98e2" stroke-width="1.5" stroke-linecap="round"/><line x1="119.2" y1="43.6" x2="127.6" y2="45.1" stroke="#8e2ee0" stroke-width="3.2" stroke-linecap="round"/><line x1="119.2" y1="43.6" x2="127.6" y2="45.1" stroke="#d2069e" stroke-width="2.1" stroke-linecap="round"/>
<line x1="128.8" y1="50.2" x2="134.8" y2="47.4" stroke="#2a5fb0" stroke-width="3.2" stroke-linecap="round"/><line x1="128.8" y1="50.2" x2="134.8" y2="47.4" stroke="#0c8a2a" stroke-width="2.2" stroke-linecap="round"/><line x1="131.9" y1="48.9" x2="131.9" y2="39.1" stroke="#2f62e6" stroke-width="2.6" stroke-linecap="round"/><line x1="131.9" y1="48.9" x2="131.9" y2="39.1" stroke="#2b98e2" stroke-width="1.5" stroke-linecap="round"/><line x1="132.8" y1="45.1" x2="141.1" y2="46.6" stroke="#8e2ee0" stroke-width="3.2" stroke-linecap="round"/><line x1="132.8" y1="45.1" x2="141.1" y2="46.6" stroke="#d2069e" stroke-width="2.1" stroke-linecap="round"/>
<line x1="53.3" y1="44.9" x2="60.0" y2="41.6" stroke="#2a5fb0" stroke-width="3.0" stroke-linecap="round"/><line x1="53.3" y1="44.9" x2="60.0" y2="41.6" stroke="#0c8a2a" stroke-width="2.0" stroke-linecap="round"/><line x1="48.3" y1="36.3" x2="57.5" y2="38.1" stroke="#8e2ee0" stroke-width="3.2" stroke-linecap="round"/><line x1="48.3" y1="36.3" x2="57.5" y2="38.1" stroke="#d2069e" stroke-width="2.1" stroke-linecap="round"/><line x1="58.5" y1="44.0" x2="58.5" y2="33.7" stroke="#2f62e6" stroke-width="2.6" stroke-linecap="round"/><line x1="58.5" y1="44.0" x2="58.5" y2="33.7" stroke="#2b98e2" stroke-width="1.5" stroke-linecap="round"/>
<line x1="66.9" y1="46.4" x2="73.6" y2="43.1" stroke="#2a5fb0" stroke-width="3.0" stroke-linecap="round"/><line x1="66.9" y1="46.4" x2="73.6" y2="43.1" stroke="#0c8a2a" stroke-width="2.0" stroke-linecap="round"/><line x1="61.9" y1="37.8" x2="71.1" y2="39.6" stroke="#8e2ee0" stroke-width="3.2" stroke-linecap="round"/><line x1="61.9" y1="37.8" x2="71.1" y2="39.6" stroke="#d2069e" stroke-width="2.1" stroke-linecap="round"/><line x1="72.1" y1="45.5" x2="72.1" y2="35.2" stroke="#2f62e6" stroke-width="2.6" stroke-linecap="round"/><line x1="72.1" y1="45.5" x2="72.1" y2="35.2" stroke="#2b98e2" stroke-width="1.5" stroke-linecap="round"/>
<line x1="80.4" y1="47.9" x2="87.1" y2="44.6" stroke="#2a5fb0" stroke-width="3.0" stroke-linecap="round"/><line x1="80.4" y1="47.9" x2="87.1" y2="44.6" stroke="#0c8a2a" stroke-width="2.0" stroke-linecap="round"/><line x1="75.4" y1="39.3" x2="84.6" y2="41.1" stroke="#8e2ee0" stroke-width="3.2" stroke-linecap="round"/><line x1="75.4" y1="39.3" x2="84.6" y2="41.1" stroke="#d2069e" stroke-width="2.1" stroke-linecap="round"/><line x1="85.6" y1="47.0" x2="85.6" y2="36.7" stroke="#2f62e6" stroke-width="2.6" stroke-linecap="round"/><line x1="85.6" y1="47.0" x2="85.6" y2="36.7" stroke="#2b98e2" stroke-width="1.5" stroke-linecap="round"/>
<line x1="96.0" y1="49.8" x2="102.0" y2="47.0" stroke="#2a5fb0" stroke-width="3.2" stroke-linecap="round"/><line x1="96.0" y1="49.8" x2="102.0" y2="47.0" stroke="#0c8a2a" stroke-width="2.2" stroke-linecap="round"/><line x1="99.2" y1="48.5" x2="99.2" y2="38.7" stroke="#2f62e6" stroke-width="2.6" stroke-linecap="round"/><line x1="99.2" y1="48.5" x2="99.2" y2="38.7" stroke="#2b98e2" stroke-width="1.5" stroke-linecap="round"/><line x1="100.0" y1="44.7" x2="108.4" y2="46.2" stroke="#8e2ee0" stroke-width="3.2" stroke-linecap="round"/><line x1="100.0" y1="44.7" x2="108.4" y2="46.2" stroke="#d2069e" stroke-width="2.1" stroke-linecap="round"/>
<line x1="109.5" y1="51.3" x2="115.5" y2="48.5" stroke="#2a5fb0" stroke-width="3.2" stroke-linecap="round"/><line x1="109.5" y1="51.3" x2="115.5" y2="48.5" stroke="#0c8a2a" stroke-width="2.2" stroke-linecap="round"/><line x1="112.7" y1="50.0" x2="112.7" y2="40.2" stroke="#2f62e6" stroke-width="2.6" stroke-linecap="round"/><line x1="112.7" y1="50.0" x2="112.7" y2="40.2" stroke="#2b98e2" stroke-width="1.5" stroke-linecap="round"/><line x1="113.5" y1="46.2" x2="121.9" y2="47.7" stroke="#8e2ee0" stroke-width="3.2" stroke-linecap="round"/><line x1="113.5" y1="46.2" x2="121.9" y2="47.7" stroke="#d2069e" stroke-width="2.1" stroke-linecap="round"/>
<line x1="123.1" y1="52.8" x2="129.1" y2="50.0" stroke="#2a5fb0" stroke-width="3.2" stroke-linecap="round"/><line x1="123.1" y1="52.8" x2="129.1" y2="50.0" stroke="#0c8a2a" stroke-width="2.2" stroke-linecap="round"/><line x1="126.3" y1="51.5" x2="126.3" y2="41.7" stroke="#2f62e6" stroke-width="2.6" stroke-linecap="round"/><line x1="126.3" y1="51.5" x2="126.3" y2="41.7" stroke="#2b98e2" stroke-width="1.5" stroke-linecap="round"/><line x1="127.1" y1="47.7" x2="135.5" y2="49.2" stroke="#8e2ee0" stroke-width="3.2" stroke-linecap="round"/><line x1="127.1" y1="47.7" x2="135.5" y2="49.2" stroke="#d2069e" stroke-width="2.1" stroke-linecap="round"/>
<line x1="47.6" y1="47.6" x2="54.4" y2="44.3" stroke="#2a5fb0" stroke-width="3.0" stroke-linecap="round"/><line x1="47.6" y1="47.6" x2="54.4" y2="44.3" stroke="#0c8a2a" stroke-width="2.0" stroke-linecap="round"/><line x1="42.7" y1="39.0" x2="51.9" y2="40.8" stroke="#8e2ee0" stroke-width="3.2" stroke-linecap="round"/><line x1="42.7" y1="39.0" x2="51.9" y2="40.8" stroke="#d2069e" stroke-width="2.1" stroke-linecap="round"/><line x1="52.9" y1="46.7" x2="52.9" y2="36.4" stroke="#2f62e6" stroke-width="2.6" stroke-linecap="round"/><line x1="52.9" y1="46.7" x2="52.9" y2="36.4" stroke="#2b98e2" stroke-width="1.5" stroke-linecap="round"/>
<line x1="61.2" y1="49.1" x2="67.9" y2="45.8" stroke="#2a5fb0" stroke-width="3.0" stroke-linecap="round"/><line x1="61.2" y1="49.1" x2="67.9" y2="45.8" stroke="#0c8a2a" stroke-width="2.0" stroke-linecap="round"/><line x1="56.2" y1="40.5" x2="65.4" y2="42.3" stroke="#8e2ee0" stroke-width="3.2" stroke-linecap="round"/><line x1="56.2" y1="40.5" x2="65.4" y2="42.3" stroke="#d2069e" stroke-width="2.1" stroke-linecap="round"/><line x1="66.4" y1="48.2" x2="66.4" y2="37.9" stroke="#2f62e6" stroke-width="2.6" stroke-linecap="round"/><line x1="66.4" y1="48.2" x2="66.4" y2="37.9" stroke="#2b98e2" stroke-width="1.5" stroke-linecap="round"/>
<line x1="74.8" y1="50.6" x2="81.5" y2="47.3" stroke="#2a5fb0" stroke-width="3.0" stroke-linecap="round"/><line x1="74.8" y1="50.6" x2="81.5" y2="47.3" stroke="#0c8a2a" stroke-width="2.0" stroke-linecap="round"/><line x1="69.8" y1="42.0" x2="79.0" y2="43.8" stroke="#8e2ee0" stroke-width="3.2" stroke-linecap="round"/><line x1="69.8" y1="42.0" x2="79.0" y2="43.8" stroke="#d2069e" stroke-width="2.1" stroke-linecap="round"/><line x1="80.0" y1="49.7" x2="80.0" y2="39.4" stroke="#2f62e6" stroke-width="2.6" stroke-linecap="round"/><line x1="80.0" y1="49.7" x2="80.0" y2="39.4" stroke="#2b98e2" stroke-width="1.5" stroke-linecap="round"/>
<line x1="90.3" y1="52.5" x2="96.3" y2="49.7" stroke="#2a5fb0" stroke-width="3.2" stroke-linecap="round"/><line x1="90.3" y1="52.5" x2="96.3" y2="49.7" stroke="#0c8a2a" stroke-width="2.2" stroke-linecap="round"/><line x1="93.5" y1="51.2" x2="93.5" y2="41.4" stroke="#2f62e6" stroke-width="2.6" stroke-linecap="round"/><line x1="93.5" y1="51.2" x2="93.5" y2="41.4" stroke="#2b98e2" stroke-width="1.5" stroke-linecap="round"/><line x1="94.3" y1="47.4" x2="102.7" y2="48.9" stroke="#8e2ee0" stroke-width="3.2" stroke-linecap="round"/><line x1="94.3" y1="47.4" x2="102.7" y2="48.9" stroke="#d2069e" stroke-width="2.1" stroke-linecap="round"/>
<line x1="103.9" y1="54.0" x2="109.9" y2="51.2" stroke="#2a5fb0" stroke-width="3.2" stroke-linecap="round"/><line x1="103.9" y1="54.0" x2="109.9" y2="51.2" stroke="#0c8a2a" stroke-width="2.2" stroke-linecap="round"/><line x1="107.1" y1="52.7" x2="107.1" y2="42.9" stroke="#2f62e6" stroke-width="2.6" stroke-linecap="round"/><line x1="107.1" y1="52.7" x2="107.1" y2="42.9" stroke="#2b98e2" stroke-width="1.5" stroke-linecap="round"/><line x1="107.9" y1="48.9" x2="116.3" y2="50.4" stroke="#8e2ee0" stroke-width="3.2" stroke-linecap="round"/><line x1="107.9" y1="48.9" x2="116.3" y2="50.4" stroke="#d2069e" stroke-width="2.1" stroke-linecap="round"/>
<line x1="117.4" y1="55.5" x2="123.4" y2="52.7" stroke="#2a5fb0" stroke-width="3.2" stroke-linecap="round"/><line x1="117.4" y1="55.5" x2="123.4" y2="52.7" stroke="#0c8a2a" stroke-width="2.2" stroke-linecap="round"/><line x1="120.6" y1="54.2" x2="120.6" y2="44.4" stroke="#2f62e6" stroke-width="2.6" stroke-linecap="round"/><line x1="120.6" y1="54.2" x2="120.6" y2="44.4" stroke="#2b98e2" stroke-width="1.5" stroke-linecap="round"/><line x1="121.4" y1="50.4" x2="129.8" y2="51.9" stroke="#8e2ee0" stroke-width="3.2" stroke-linecap="round"/><line x1="121.4" y1="50.4" x2="129.8" y2="51.9" stroke="#d2069e" stroke-width="2.1" stroke-linecap="round"/>
<line x1="42.0" y1="50.2" x2="48.7" y2="46.9" stroke="#2a5fb0" stroke-width="3.0" stroke-linecap="round"/><line x1="42.0" y1="50.2" x2="48.7" y2="46.9" stroke="#0c8a2a" stroke-width="2.0" stroke-linecap="round"/><line x1="37.0" y1="41.6" x2="46.2" y2="43.4" stroke="#8e2ee0" stroke-width="3.2" stroke-linecap="round"/><line x1="37.0" y1="41.6" x2="46.2" y2="43.4" stroke="#d2069e" stroke-width="2.1" stroke-linecap="round"/><line x1="47.2" y1="49.3" x2="47.2" y2="39.0" stroke="#2f62e6" stroke-width="2.6" stroke-linecap="round"/><line x1="47.2" y1="49.3" x2="47.2" y2="39.0" stroke="#2b98e2" stroke-width="1.5" stroke-linecap="round"/>
<line x1="55.6" y1="51.7" x2="62.3" y2="48.4" stroke="#2a5fb0" stroke-width="3.0" stroke-linecap="round"/><line x1="55.6" y1="51.7" x2="62.3" y2="48.4" stroke="#0c8a2a" stroke-width="2.0" stroke-linecap="round"/><line x1="50.6" y1="43.1" x2="59.8" y2="44.9" stroke="#8e2ee0" stroke-width="3.2" stroke-linecap="round"/><line x1="50.6" y1="43.1" x2="59.8" y2="44.9" stroke="#d2069e" stroke-width="2.1" stroke-linecap="round"/><line x1="60.8" y1="50.8" x2="60.8" y2="40.5" stroke="#2f62e6" stroke-width="2.6" stroke-linecap="round"/><line x1="60.8" y1="50.8" x2="60.8" y2="40.5" stroke="#2b98e2" stroke-width="1.5" stroke-linecap="round"/>
<line x1="69.1" y1="53.2" x2="75.8" y2="49.9" stroke="#2a5fb0" stroke-width="3.0" stroke-linecap="round"/><line x1="69.1" y1="53.2" x2="75.8" y2="49.9" stroke="#0c8a2a" stroke-width="2.0" stroke-linecap="round"/><line x1="64.1" y1="44.6" x2="73.3" y2="46.4" stroke="#8e2ee0" stroke-width="3.2" stroke-linecap="round"/><line x1="64.1" y1="44.6" x2="73.3" y2="46.4" stroke="#d2069e" stroke-width="2.1" stroke-linecap="round"/><line x1="74.3" y1="52.3" x2="74.3" y2="42.0" stroke="#2f62e6" stroke-width="2.6" stroke-linecap="round"/><line x1="74.3" y1="52.3" x2="74.3" y2="42.0" stroke="#2b98e2" stroke-width="1.5" stroke-linecap="round"/>
<line x1="84.7" y1="55.1" x2="90.7" y2="52.3" stroke="#2a5fb0" stroke-width="3.2" stroke-linecap="round"/><line x1="84.7" y1="55.1" x2="90.7" y2="52.3" stroke="#0c8a2a" stroke-width="2.2" stroke-linecap="round"/><line x1="87.9" y1="53.8" x2="87.9" y2="44.0" stroke="#2f62e6" stroke-width="2.6" stroke-linecap="round"/><line x1="87.9" y1="53.8" x2="87.9" y2="44.0" stroke="#2b98e2" stroke-width="1.5" stroke-linecap="round"/><line x1="88.7" y1="50.0" x2="97.1" y2="51.5" stroke="#8e2ee0" stroke-width="3.2" stroke-linecap="round"/><line x1="88.7" y1="50.0" x2="97.1" y2="51.5" stroke="#d2069e" stroke-width="2.1" stroke-linecap="round"/>
<line x1="98.2" y1="56.6" x2="104.2" y2="53.8" stroke="#2a5fb0" stroke-width="3.2" stroke-linecap="round"/><line x1="98.2" y1="56.6" x2="104.2" y2="53.8" stroke="#0c8a2a" stroke-width="2.2" stroke-linecap="round"/><line x1="101.4" y1="55.3" x2="101.4" y2="45.5" stroke="#2f62e6" stroke-width="2.6" stroke-linecap="round"/><line x1="101.4" y1="55.3" x2="101.4" y2="45.5" stroke="#2b98e2" stroke-width="1.5" stroke-linecap="round"/><line x1="102.2" y1="51.5" x2="110.6" y2="53.0" stroke="#8e2ee0" stroke-width="3.2" stroke-linecap="round"/><line x1="102.2" y1="51.5" x2="110.6" y2="53.0" stroke="#d2069e" stroke-width="2.1" stroke-linecap="round"/>
<line x1="111.8" y1="58.1" x2="117.8" y2="55.3" stroke="#2a5fb0" stroke-width="3.2" stroke-linecap="round"/><line x1="111.8" y1="58.1" x2="117.8" y2="55.3" stroke="#0c8a2a" stroke-width="2.2" stroke-linecap="round"/><line x1="115.0" y1="56.8" x2="115.0" y2="47.0" stroke="#2f62e6" stroke-width="2.6" stroke-linecap="round"/><line x1="115.0" y1="56.8" x2="115.0" y2="47.0" stroke="#2b98e2" stroke-width="1.5" stroke-linecap="round"/><line x1="115.8" y1="53.0" x2="124.2" y2="54.5" stroke="#8e2ee0" stroke-width="3.2" stroke-linecap="round"/><line x1="115.8" y1="53.0" x2="124.2" y2="54.5" stroke="#d2069e" stroke-width="2.1" stroke-linecap="round"/>
<line x1="36.3" y1="52.9" x2="43.0" y2="49.6" stroke="#2a5fb0" stroke-width="3.0" stroke-linecap="round"/><line x1="36.3" y1="52.9" x2="43.0" y2="49.6" stroke="#0c8a2a" stroke-width="2.0" stroke-linecap="round"/><line x1="31.3" y1="44.3" x2="40.5" y2="46.1" stroke="#8e2ee0" stroke-width="3.2" stroke-linecap="round"/><line x1="31.3" y1="44.3" x2="40.5" y2="46.1" stroke="#d2069e" stroke-width="2.1" stroke-linecap="round"/><line x1="41.5" y1="52.0" x2="41.5" y2="41.7" stroke="#2f62e6" stroke-width="2.6" stroke-linecap="round"/><line x1="41.5" y1="52.0" x2="41.5" y2="41.7" stroke="#2b98e2" stroke-width="1.5" stroke-linecap="round"/>
<line x1="49.9" y1="54.4" x2="56.6" y2="51.1" stroke="#2a5fb0" stroke-width="3.0" stroke-linecap="round"/><line x1="49.9" y1="54.4" x2="56.6" y2="51.1" stroke="#0c8a2a" stroke-width="2.0" stroke-linecap="round"/><line x1="44.9" y1="45.8" x2="54.1" y2="47.6" stroke="#8e2ee0" stroke-width="3.2" stroke-linecap="round"/><line x1="44.9" y1="45.8" x2="54.1" y2="47.6" stroke="#d2069e" stroke-width="2.1" stroke-linecap="round"/><line x1="55.1" y1="53.5" x2="55.1" y2="43.2" stroke="#2f62e6" stroke-width="2.6" stroke-linecap="round"/><line x1="55.1" y1="53.5" x2="55.1" y2="43.2" stroke="#2b98e2" stroke-width="1.5" stroke-linecap="round"/>
<line x1="63.5" y1="55.9" x2="70.2" y2="52.6" stroke="#2a5fb0" stroke-width="3.0" stroke-linecap="round"/><line x1="63.5" y1="55.9" x2="70.2" y2="52.6" stroke="#0c8a2a" stroke-width="2.0" stroke-linecap="round"/><line x1="58.5" y1="47.3" x2="67.7" y2="49.1" stroke="#8e2ee0" stroke-width="3.2" stroke-linecap="round"/><line x1="58.5" y1="47.3" x2="67.7" y2="49.1" stroke="#d2069e" stroke-width="2.1" stroke-linecap="round"/><line x1="68.7" y1="55.0" x2="68.7" y2="44.7" stroke="#2f62e6" stroke-width="2.6" stroke-linecap="round"/><line x1="68.7" y1="55.0" x2="68.7" y2="44.7" stroke="#2b98e2" stroke-width="1.5" stroke-linecap="round"/>
<line x1="79.0" y1="57.8" x2="85.0" y2="55.0" stroke="#2a5fb0" stroke-width="3.2" stroke-linecap="round"/><line x1="79.0" y1="57.8" x2="85.0" y2="55.0" stroke="#0c8a2a" stroke-width="2.2" stroke-linecap="round"/><line x1="82.2" y1="56.5" x2="82.2" y2="46.7" stroke="#2f62e6" stroke-width="2.6" stroke-linecap="round"/><line x1="82.2" y1="56.5" x2="82.2" y2="46.7" stroke="#2b98e2" stroke-width="1.5" stroke-linecap="round"/><line x1="83.0" y1="52.7" x2="91.4" y2="54.2" stroke="#8e2ee0" stroke-width="3.2" stroke-linecap="round"/><line x1="83.0" y1="52.7" x2="91.4" y2="54.2" stroke="#d2069e" stroke-width="2.1" stroke-linecap="round"/>
<line x1="92.6" y1="59.3" x2="98.6" y2="56.5" stroke="#2a5fb0" stroke-width="3.2" stroke-linecap="round"/><line x1="92.6" y1="59.3" x2="98.6" y2="56.5" stroke="#0c8a2a" stroke-width="2.2" stroke-linecap="round"/><line x1="95.8" y1="58.0" x2="95.8" y2="48.2" stroke="#2f62e6" stroke-width="2.6" stroke-linecap="round"/><line x1="95.8" y1="58.0" x2="95.8" y2="48.2" stroke="#2b98e2" stroke-width="1.5" stroke-linecap="round"/><line x1="96.6" y1="54.2" x2="105.0" y2="55.7" stroke="#8e2ee0" stroke-width="3.2" stroke-linecap="round"/><line x1="96.6" y1="54.2" x2="105.0" y2="55.7" stroke="#d2069e" stroke-width="2.1" stroke-linecap="round"/>
<line x1="106.1" y1="60.8" x2="112.1" y2="58.0" stroke="#2a5fb0" stroke-width="3.2" stroke-linecap="round"/><line x1="106.1" y1="60.8" x2="112.1" y2="58.0" stroke="#0c8a2a" stroke-width="2.2" stroke-linecap="round"/><line x1="109.3" y1="59.5" x2="109.3" y2="49.7" stroke="#2f62e6" stroke-width="2.6" stroke-linecap="round"/><line x1="109.3" y1="59.5" x2="109.3" y2="49.7" stroke="#2b98e2" stroke-width="1.5" stroke-linecap="round"/><line x1="110.1" y1="55.7" x2="118.5" y2="57.2" stroke="#8e2ee0" stroke-width="3.2" stroke-linecap="round"/><line x1="110.1" y1="55.7" x2="118.5" y2="57.2" stroke="#d2069e" stroke-width="2.1" stroke-linecap="round"/>
<line x1="30.7" y1="55.5" x2="37.4" y2="52.2" stroke="#2a5fb0" stroke-width="3.0" stroke-linecap="round"/><line x1="30.7" y1="55.5" x2="37.4" y2="52.2" stroke="#0c8a2a" stroke-width="2.0" stroke-linecap="round"/><line x1="25.7" y1="46.9" x2="34.9" y2="48.7" stroke="#8e2ee0" stroke-width="3.2" stroke-linecap="round"/><line x1="25.7" y1="46.9" x2="34.9" y2="48.7" stroke="#d2069e" stroke-width="2.1" stroke-linecap="round"/><line x1="35.9" y1="54.6" x2="35.9" y2="44.3" stroke="#2f62e6" stroke-width="2.6" stroke-linecap="round"/><line x1="35.9" y1="54.6" x2="35.9" y2="44.3" stroke="#2b98e2" stroke-width="1.5" stroke-linecap="round"/>
<line x1="44.3" y1="57.0" x2="51.0" y2="53.7" stroke="#2a5fb0" stroke-width="3.0" stroke-linecap="round"/><line x1="44.3" y1="57.0" x2="51.0" y2="53.7" stroke="#0c8a2a" stroke-width="2.0" stroke-linecap="round"/><line x1="39.3" y1="48.4" x2="48.5" y2="50.2" stroke="#8e2ee0" stroke-width="3.2" stroke-linecap="round"/><line x1="39.3" y1="48.4" x2="48.5" y2="50.2" stroke="#d2069e" stroke-width="2.1" stroke-linecap="round"/><line x1="49.5" y1="56.1" x2="49.5" y2="45.8" stroke="#2f62e6" stroke-width="2.6" stroke-linecap="round"/><line x1="49.5" y1="56.1" x2="49.5" y2="45.8" stroke="#2b98e2" stroke-width="1.5" stroke-linecap="round"/>
<line x1="57.8" y1="58.5" x2="64.5" y2="55.2" stroke="#2a5fb0" stroke-width="3.0" stroke-linecap="round"/><line x1="57.8" y1="58.5" x2="64.5" y2="55.2" stroke="#0c8a2a" stroke-width="2.0" stroke-linecap="round"/><line x1="52.8" y1="49.9" x2="62.0" y2="51.7" stroke="#8e2ee0" stroke-width="3.2" stroke-linecap="round"/><line x1="52.8" y1="49.9" x2="62.0" y2="51.7" stroke="#d2069e" stroke-width="2.1" stroke-linecap="round"/><line x1="63.0" y1="57.6" x2="63.0" y2="47.3" stroke="#2f62e6" stroke-width="2.6" stroke-linecap="round"/><line x1="63.0" y1="57.6" x2="63.0" y2="47.3" stroke="#2b98e2" stroke-width="1.5" stroke-linecap="round"/>
<line x1="73.4" y1="60.4" x2="79.4" y2="57.6" stroke="#2a5fb0" stroke-width="3.2" stroke-linecap="round"/><line x1="73.4" y1="60.4" x2="79.4" y2="57.6" stroke="#0c8a2a" stroke-width="2.2" stroke-linecap="round"/><line x1="76.6" y1="59.1" x2="76.6" y2="49.3" stroke="#2f62e6" stroke-width="2.6" stroke-linecap="round"/><line x1="76.6" y1="59.1" x2="76.6" y2="49.3" stroke="#2b98e2" stroke-width="1.5" stroke-linecap="round"/><line x1="77.4" y1="55.3" x2="85.8" y2="56.8" stroke="#8e2ee0" stroke-width="3.2" stroke-linecap="round"/><line x1="77.4" y1="55.3" x2="85.8" y2="56.8" stroke="#d2069e" stroke-width="2.1" stroke-linecap="round"/>
<line x1="86.9" y1="61.9" x2="92.9" y2="59.1" stroke="#2a5fb0" stroke-width="3.2" stroke-linecap="round"/><line x1="86.9" y1="61.9" x2="92.9" y2="59.1" stroke="#0c8a2a" stroke-width="2.2" stroke-linecap="round"/><line x1="90.1" y1="60.6" x2="90.1" y2="50.8" stroke="#2f62e6" stroke-width="2.6" stroke-linecap="round"/><line x1="90.1" y1="60.6" x2="90.1" y2="50.8" stroke="#2b98e2" stroke-width="1.5" stroke-linecap="round"/><line x1="90.9" y1="56.8" x2="99.3" y2="58.3" stroke="#8e2ee0" stroke-width="3.2" stroke-linecap="round"/><line x1="90.9" y1="56.8" x2="99.3" y2="58.3" stroke="#d2069e" stroke-width="2.1" stroke-linecap="round"/>
<line x1="100.5" y1="63.4" x2="106.5" y2="60.6" stroke="#2a5fb0" stroke-width="3.2" stroke-linecap="round"/><line x1="100.5" y1="63.4" x2="106.5" y2="60.6" stroke="#0c8a2a" stroke-width="2.2" stroke-linecap="round"/><line x1="103.7" y1="62.1" x2="103.7" y2="52.3" stroke="#2f62e6" stroke-width="2.6" stroke-linecap="round"/><line x1="103.7" y1="62.1" x2="103.7" y2="52.3" stroke="#2b98e2" stroke-width="1.5" stroke-linecap="round"/><line x1="104.5" y1="58.3" x2="112.9" y2="59.8" stroke="#8e2ee0" stroke-width="3.2" stroke-linecap="round"/><line x1="104.5" y1="58.3" x2="112.9" y2="59.8" stroke="#d2069e" stroke-width="2.1" stroke-linecap="round"/>
<line x1="43.1" y1="110.8" x2="49.9" y2="107.5" stroke="#2a5fb0" stroke-width="3.0" stroke-linecap="round"/><line x1="43.1" y1="110.8" x2="49.9" y2="107.5" stroke="#0c8a2a" stroke-width="2.0" stroke-linecap="round"/><line x1="38.2" y1="102.2" x2="47.4" y2="104.0" stroke="#8e2ee0" stroke-width="3.2" stroke-linecap="round"/><line x1="38.2" y1="102.2" x2="47.4" y2="104.0" stroke="#d2069e" stroke-width="2.1" stroke-linecap="round"/><line x1="48.4" y1="109.9" x2="48.4" y2="99.6" stroke="#2f62e6" stroke-width="2.6" stroke-linecap="round"/><line x1="48.4" y1="109.9" x2="48.4" y2="99.6" stroke="#2b98e2" stroke-width="1.5" stroke-linecap="round"/>
<line x1="37.5" y1="113.4" x2="44.2" y2="110.1" stroke="#2a5fb0" stroke-width="3.0" stroke-linecap="round"/><line x1="37.5" y1="113.4" x2="44.2" y2="110.1" stroke="#0c8a2a" stroke-width="2.0" stroke-linecap="round"/><line x1="32.5" y1="104.8" x2="41.7" y2="106.6" stroke="#8e2ee0" stroke-width="3.2" stroke-linecap="round"/><line x1="32.5" y1="104.8" x2="41.7" y2="106.6" stroke="#d2069e" stroke-width="2.1" stroke-linecap="round"/><line x1="42.7" y1="112.5" x2="42.7" y2="102.2" stroke="#2f62e6" stroke-width="2.6" stroke-linecap="round"/><line x1="42.7" y1="112.5" x2="42.7" y2="102.2" stroke="#2b98e2" stroke-width="1.5" stroke-linecap="round"/>
<line x1="31.9" y1="116.1" x2="38.6" y2="112.8" stroke="#2a5fb0" stroke-width="3.0" stroke-linecap="round"/><line x1="31.9" y1="116.1" x2="38.6" y2="112.8" stroke="#0c8a2a" stroke-width="2.0" stroke-linecap="round"/><line x1="26.9" y1="107.5" x2="36.1" y2="109.3" stroke="#8e2ee0" stroke-width="3.2" stroke-linecap="round"/><line x1="26.9" y1="107.5" x2="36.1" y2="109.3" stroke="#d2069e" stroke-width="2.1" stroke-linecap="round"/><line x1="37.1" y1="115.2" x2="37.1" y2="104.9" stroke="#2f62e6" stroke-width="2.6" stroke-linecap="round"/><line x1="37.1" y1="115.2" x2="37.1" y2="104.9" stroke="#2b98e2" stroke-width="1.5" stroke-linecap="round"/>
<line x1="26.2" y1="118.7" x2="32.9" y2="115.4" stroke="#2a5fb0" stroke-width="3.0" stroke-linecap="round"/><line x1="26.2" y1="118.7" x2="32.9" y2="115.4" stroke="#0c8a2a" stroke-width="2.0" stroke-linecap="round"/><line x1="21.2" y1="110.1" x2="30.4" y2="111.9" stroke="#8e2ee0" stroke-width="3.2" stroke-linecap="round"/><line x1="21.2" y1="110.1" x2="30.4" y2="111.9" stroke="#d2069e" stroke-width="2.1" stroke-linecap="round"/><line x1="31.4" y1="117.8" x2="31.4" y2="107.5" stroke="#2f62e6" stroke-width="2.6" stroke-linecap="round"/><line x1="31.4" y1="117.8" x2="31.4" y2="107.5" stroke="#2b98e2" stroke-width="1.5" stroke-linecap="round"/>
<line x1="20.6" y1="121.4" x2="27.2" y2="118.1" stroke="#2a5fb0" stroke-width="3.0" stroke-linecap="round"/><line x1="20.6" y1="121.4" x2="27.2" y2="118.1" stroke="#0c8a2a" stroke-width="2.0" stroke-linecap="round"/><line x1="15.6" y1="112.8" x2="24.8" y2="114.6" stroke="#8e2ee0" stroke-width="3.2" stroke-linecap="round"/><line x1="15.6" y1="112.8" x2="24.8" y2="114.6" stroke="#d2069e" stroke-width="2.1" stroke-linecap="round"/><line x1="25.8" y1="120.5" x2="25.8" y2="110.2" stroke="#2f62e6" stroke-width="2.6" stroke-linecap="round"/><line x1="25.8" y1="120.5" x2="25.8" y2="110.2" stroke="#2b98e2" stroke-width="1.5" stroke-linecap="round"/>
<line x1="14.9" y1="124.0" x2="21.6" y2="120.7" stroke="#2a5fb0" stroke-width="3.0" stroke-linecap="round"/><line x1="14.9" y1="124.0" x2="21.6" y2="120.7" stroke="#0c8a2a" stroke-width="2.0" stroke-linecap="round"/><line x1="9.9" y1="115.4" x2="19.1" y2="117.2" stroke="#8e2ee0" stroke-width="3.2" stroke-linecap="round"/><line x1="9.9" y1="115.4" x2="19.1" y2="117.2" stroke="#d2069e" stroke-width="2.1" stroke-linecap="round"/><line x1="20.1" y1="123.1" x2="20.1" y2="112.8" stroke="#2f62e6" stroke-width="2.6" stroke-linecap="round"/><line x1="20.1" y1="123.1" x2="20.1" y2="112.8" stroke="#2b98e2" stroke-width="1.5" stroke-linecap="round"/>
<line x1="43.1" y1="96.6" x2="49.9" y2="93.3" stroke="#2a5fb0" stroke-width="3.0" stroke-linecap="round"/><line x1="43.1" y1="96.6" x2="49.9" y2="93.3" stroke="#0c8a2a" stroke-width="2.0" stroke-linecap="round"/><line x1="38.2" y1="88.0" x2="47.4" y2="89.8" stroke="#8e2ee0" stroke-width="3.2" stroke-linecap="round"/><line x1="38.2" y1="88.0" x2="47.4" y2="89.8" stroke="#d2069e" stroke-width="2.1" stroke-linecap="round"/><line x1="48.4" y1="95.7" x2="48.4" y2="85.4" stroke="#2f62e6" stroke-width="2.6" stroke-linecap="round"/><line x1="48.4" y1="95.7" x2="48.4" y2="85.4" stroke="#2b98e2" stroke-width="1.5" stroke-linecap="round"/>
<line x1="37.5" y1="99.2" x2="44.2" y2="95.9" stroke="#2a5fb0" stroke-width="3.0" stroke-linecap="round"/><line x1="37.5" y1="99.2" x2="44.2" y2="95.9" stroke="#0c8a2a" stroke-width="2.0" stroke-linecap="round"/><line x1="32.5" y1="90.6" x2="41.7" y2="92.4" stroke="#8e2ee0" stroke-width="3.2" stroke-linecap="round"/><line x1="32.5" y1="90.6" x2="41.7" y2="92.4" stroke="#d2069e" stroke-width="2.1" stroke-linecap="round"/><line x1="42.7" y1="98.3" x2="42.7" y2="88.0" stroke="#2f62e6" stroke-width="2.6" stroke-linecap="round"/><line x1="42.7" y1="98.3" x2="42.7" y2="88.0" stroke="#2b98e2" stroke-width="1.5" stroke-linecap="round"/>
<line x1="31.9" y1="101.9" x2="38.6" y2="98.6" stroke="#2a5fb0" stroke-width="3.0" stroke-linecap="round"/><line x1="31.9" y1="101.9" x2="38.6" y2="98.6" stroke="#0c8a2a" stroke-width="2.0" stroke-linecap="round"/><line x1="26.9" y1="93.3" x2="36.1" y2="95.1" stroke="#8e2ee0" stroke-width="3.2" stroke-linecap="round"/><line x1="26.9" y1="93.3" x2="36.1" y2="95.1" stroke="#d2069e" stroke-width="2.1" stroke-linecap="round"/><line x1="37.1" y1="101.0" x2="37.1" y2="90.7" stroke="#2f62e6" stroke-width="2.6" stroke-linecap="round"/><line x1="37.1" y1="101.0" x2="37.1" y2="90.7" stroke="#2b98e2" stroke-width="1.5" stroke-linecap="round"/>
<line x1="26.2" y1="104.5" x2="32.9" y2="101.2" stroke="#2a5fb0" stroke-width="3.0" stroke-linecap="round"/><line x1="26.2" y1="104.5" x2="32.9" y2="101.2" stroke="#0c8a2a" stroke-width="2.0" stroke-linecap="round"/><line x1="21.2" y1="95.9" x2="30.4" y2="97.7" stroke="#8e2ee0" stroke-width="3.2" stroke-linecap="round"/><line x1="21.2" y1="95.9" x2="30.4" y2="97.7" stroke="#d2069e" stroke-width="2.1" stroke-linecap="round"/><line x1="31.4" y1="103.6" x2="31.4" y2="93.3" stroke="#2f62e6" stroke-width="2.6" stroke-linecap="round"/><line x1="31.4" y1="103.6" x2="31.4" y2="93.3" stroke="#2b98e2" stroke-width="1.5" stroke-linecap="round"/>
<line x1="20.6" y1="107.2" x2="27.2" y2="103.9" stroke="#2a5fb0" stroke-width="3.0" stroke-linecap="round"/><line x1="20.6" y1="107.2" x2="27.2" y2="103.9" stroke="#0c8a2a" stroke-width="2.0" stroke-linecap="round"/><line x1="15.6" y1="98.6" x2="24.8" y2="100.4" stroke="#8e2ee0" stroke-width="3.2" stroke-linecap="round"/><line x1="15.6" y1="98.6" x2="24.8" y2="100.4" stroke="#d2069e" stroke-width="2.1" stroke-linecap="round"/><line x1="25.8" y1="106.3" x2="25.8" y2="96.0" stroke="#2f62e6" stroke-width="2.6" stroke-linecap="round"/><line x1="25.8" y1="106.3" x2="25.8" y2="96.0" stroke="#2b98e2" stroke-width="1.5" stroke-linecap="round"/>
<line x1="14.9" y1="109.8" x2="21.6" y2="106.5" stroke="#2a5fb0" stroke-width="3.0" stroke-linecap="round"/><line x1="14.9" y1="109.8" x2="21.6" y2="106.5" stroke="#0c8a2a" stroke-width="2.0" stroke-linecap="round"/><line x1="9.9" y1="101.2" x2="19.1" y2="103.0" stroke="#8e2ee0" stroke-width="3.2" stroke-linecap="round"/><line x1="9.9" y1="101.2" x2="19.1" y2="103.0" stroke="#d2069e" stroke-width="2.1" stroke-linecap="round"/><line x1="20.1" y1="108.9" x2="20.1" y2="98.6" stroke="#2f62e6" stroke-width="2.6" stroke-linecap="round"/><line x1="20.1" y1="108.9" x2="20.1" y2="98.6" stroke="#2b98e2" stroke-width="1.5" stroke-linecap="round"/>
<line x1="139.2" y1="121.7" x2="145.2" y2="118.9" stroke="#2a5fb0" stroke-width="3.2" stroke-linecap="round"/><line x1="139.2" y1="121.7" x2="145.2" y2="118.9" stroke="#0c8a2a" stroke-width="2.2" stroke-linecap="round"/><line x1="142.4" y1="120.4" x2="142.4" y2="110.6" stroke="#2f62e6" stroke-width="2.6" stroke-linecap="round"/><line x1="142.4" y1="120.4" x2="142.4" y2="110.6" stroke="#2b98e2" stroke-width="1.5" stroke-linecap="round"/><line x1="143.2" y1="116.6" x2="151.6" y2="118.1" stroke="#8e2ee0" stroke-width="3.2" stroke-linecap="round"/><line x1="143.2" y1="116.6" x2="151.6" y2="118.1" stroke="#d2069e" stroke-width="2.1" stroke-linecap="round"/>
<line x1="133.6" y1="124.3" x2="139.6" y2="121.5" stroke="#2a5fb0" stroke-width="3.2" stroke-linecap="round"/><line x1="133.6" y1="124.3" x2="139.6" y2="121.5" stroke="#0c8a2a" stroke-width="2.2" stroke-linecap="round"/><line x1="136.8" y1="123.0" x2="136.8" y2="113.2" stroke="#2f62e6" stroke-width="2.6" stroke-linecap="round"/><line x1="136.8" y1="123.0" x2="136.8" y2="113.2" stroke="#2b98e2" stroke-width="1.5" stroke-linecap="round"/><line x1="137.6" y1="119.2" x2="146.0" y2="120.7" stroke="#8e2ee0" stroke-width="3.2" stroke-linecap="round"/><line x1="137.6" y1="119.2" x2="146.0" y2="120.7" stroke="#d2069e" stroke-width="2.1" stroke-linecap="round"/>
<line x1="128.0" y1="127.0" x2="134.0" y2="124.2" stroke="#2a5fb0" stroke-width="3.2" stroke-linecap="round"/><line x1="128.0" y1="127.0" x2="134.0" y2="124.2" stroke="#0c8a2a" stroke-width="2.2" stroke-linecap="round"/><line x1="131.2" y1="125.7" x2="131.2" y2="115.9" stroke="#2f62e6" stroke-width="2.6" stroke-linecap="round"/><line x1="131.2" y1="125.7" x2="131.2" y2="115.9" stroke="#2b98e2" stroke-width="1.5" stroke-linecap="round"/><line x1="132.0" y1="121.9" x2="140.3" y2="123.4" stroke="#8e2ee0" stroke-width="3.2" stroke-linecap="round"/><line x1="132.0" y1="121.9" x2="140.3" y2="123.4" stroke="#d2069e" stroke-width="2.1" stroke-linecap="round"/>
<line x1="122.3" y1="129.6" x2="128.3" y2="126.8" stroke="#2a5fb0" stroke-width="3.2" stroke-linecap="round"/><line x1="122.3" y1="129.6" x2="128.3" y2="126.8" stroke="#0c8a2a" stroke-width="2.2" stroke-linecap="round"/><line x1="125.5" y1="128.3" x2="125.5" y2="118.5" stroke="#2f62e6" stroke-width="2.6" stroke-linecap="round"/><line x1="125.5" y1="128.3" x2="125.5" y2="118.5" stroke="#2b98e2" stroke-width="1.5" stroke-linecap="round"/><line x1="126.3" y1="124.5" x2="134.7" y2="126.0" stroke="#8e2ee0" stroke-width="3.2" stroke-linecap="round"/><line x1="126.3" y1="124.5" x2="134.7" y2="126.0" stroke="#d2069e" stroke-width="2.1" stroke-linecap="round"/>
<line x1="116.7" y1="132.3" x2="122.7" y2="129.5" stroke="#2a5fb0" stroke-width="3.2" stroke-linecap="round"/><line x1="116.7" y1="132.3" x2="122.7" y2="129.5" stroke="#0c8a2a" stroke-width="2.2" stroke-linecap="round"/><line x1="119.9" y1="131.0" x2="119.9" y2="121.2" stroke="#2f62e6" stroke-width="2.6" stroke-linecap="round"/><line x1="119.9" y1="131.0" x2="119.9" y2="121.2" stroke="#2b98e2" stroke-width="1.5" stroke-linecap="round"/><line x1="120.7" y1="127.2" x2="129.1" y2="128.7" stroke="#8e2ee0" stroke-width="3.2" stroke-linecap="round"/><line x1="120.7" y1="127.2" x2="129.1" y2="128.7" stroke="#d2069e" stroke-width="2.1" stroke-linecap="round"/>
<line x1="111.0" y1="134.9" x2="117.0" y2="132.1" stroke="#2a5fb0" stroke-width="3.2" stroke-linecap="round"/><line x1="111.0" y1="134.9" x2="117.0" y2="132.1" stroke="#0c8a2a" stroke-width="2.2" stroke-linecap="round"/><line x1="114.2" y1="133.6" x2="114.2" y2="123.8" stroke="#2f62e6" stroke-width="2.6" stroke-linecap="round"/><line x1="114.2" y1="133.6" x2="114.2" y2="123.8" stroke="#2b98e2" stroke-width="1.5" stroke-linecap="round"/><line x1="115.0" y1="129.8" x2="123.4" y2="131.3" stroke="#8e2ee0" stroke-width="3.2" stroke-linecap="round"/><line x1="115.0" y1="129.8" x2="123.4" y2="131.3" stroke="#d2069e" stroke-width="2.1" stroke-linecap="round"/>
<line x1="139.2" y1="106.2" x2="145.2" y2="103.4" stroke="#2a5fb0" stroke-width="3.2" stroke-linecap="round"/><line x1="139.2" y1="106.2" x2="145.2" y2="103.4" stroke="#0c8a2a" stroke-width="2.2" stroke-linecap="round"/><line x1="142.4" y1="104.9" x2="142.4" y2="95.1" stroke="#2f62e6" stroke-width="2.6" stroke-linecap="round"/><line x1="142.4" y1="104.9" x2="142.4" y2="95.1" stroke="#2b98e2" stroke-width="1.5" stroke-linecap="round"/><line x1="143.2" y1="101.1" x2="151.6" y2="102.6" stroke="#8e2ee0" stroke-width="3.2" stroke-linecap="round"/><line x1="143.2" y1="101.1" x2="151.6" y2="102.6" stroke="#d2069e" stroke-width="2.1" stroke-linecap="round"/>
<line x1="133.6" y1="108.8" x2="139.6" y2="106.0" stroke="#2a5fb0" stroke-width="3.2" stroke-linecap="round"/><line x1="133.6" y1="108.8" x2="139.6" y2="106.0" stroke="#0c8a2a" stroke-width="2.2" stroke-linecap="round"/><line x1="136.8" y1="107.5" x2="136.8" y2="97.7" stroke="#2f62e6" stroke-width="2.6" stroke-linecap="round"/><line x1="136.8" y1="107.5" x2="136.8" y2="97.7" stroke="#2b98e2" stroke-width="1.5" stroke-linecap="round"/><line x1="137.6" y1="103.7" x2="146.0" y2="105.2" stroke="#8e2ee0" stroke-width="3.2" stroke-linecap="round"/><line x1="137.6" y1="103.7" x2="146.0" y2="105.2" stroke="#d2069e" stroke-width="2.1" stroke-linecap="round"/>
<line x1="128.0" y1="111.5" x2="134.0" y2="108.7" stroke="#2a5fb0" stroke-width="3.2" stroke-linecap="round"/><line x1="128.0" y1="111.5" x2="134.0" y2="108.7" stroke="#0c8a2a" stroke-width="2.2" stroke-linecap="round"/><line x1="131.2" y1="110.2" x2="131.2" y2="100.4" stroke="#2f62e6" stroke-width="2.6" stroke-linecap="round"/><line x1="131.2" y1="110.2" x2="131.2" y2="100.4" stroke="#2b98e2" stroke-width="1.5" stroke-linecap="round"/><line x1="132.0" y1="106.4" x2="140.3" y2="107.9" stroke="#8e2ee0" stroke-width="3.2" stroke-linecap="round"/><line x1="132.0" y1="106.4" x2="140.3" y2="107.9" stroke="#d2069e" stroke-width="2.1" stroke-linecap="round"/>
<line x1="122.3" y1="114.1" x2="128.3" y2="111.3" stroke="#2a5fb0" stroke-width="3.2" stroke-linecap="round"/><line x1="122.3" y1="114.1" x2="128.3" y2="111.3" stroke="#0c8a2a" stroke-width="2.2" stroke-linecap="round"/><line x1="125.5" y1="112.8" x2="125.5" y2="103.0" stroke="#2f62e6" stroke-width="2.6" stroke-linecap="round"/><line x1="125.5" y1="112.8" x2="125.5" y2="103.0" stroke="#2b98e2" stroke-width="1.5" stroke-linecap="round"/><line x1="126.3" y1="109.0" x2="134.7" y2="110.5" stroke="#8e2ee0" stroke-width="3.2" stroke-linecap="round"/><line x1="126.3" y1="109.0" x2="134.7" y2="110.5" stroke="#d2069e" stroke-width="2.1" stroke-linecap="round"/>
<line x1="116.7" y1="116.8" x2="122.7" y2="114.0" stroke="#2a5fb0" stroke-width="3.2" stroke-linecap="round"/><line x1="116.7" y1="116.8" x2="122.7" y2="114.0" stroke="#0c8a2a" stroke-width="2.2" stroke-linecap="round"/><line x1="119.9" y1="115.5" x2="119.9" y2="105.7" stroke="#2f62e6" stroke-width="2.6" stroke-linecap="round"/><line x1="119.9" y1="115.5" x2="119.9" y2="105.7" stroke="#2b98e2" stroke-width="1.5" stroke-linecap="round"/><line x1="120.7" y1="111.7" x2="129.1" y2="113.2" stroke="#8e2ee0" stroke-width="3.2" stroke-linecap="round"/><line x1="120.7" y1="111.7" x2="129.1" y2="113.2" stroke="#d2069e" stroke-width="2.1" stroke-linecap="round"/>
<line x1="111.0" y1="119.4" x2="117.0" y2="116.6" stroke="#2a5fb0" stroke-width="3.2" stroke-linecap="round"/><line x1="111.0" y1="119.4" x2="117.0" y2="116.6" stroke="#0c8a2a" stroke-width="2.2" stroke-linecap="round"/><line x1="114.2" y1="118.1" x2="114.2" y2="108.3" stroke="#2f62e6" stroke-width="2.6" stroke-linecap="round"/><line x1="114.2" y1="118.1" x2="114.2" y2="108.3" stroke="#2b98e2" stroke-width="1.5" stroke-linecap="round"/><line x1="115.0" y1="114.3" x2="123.4" y2="115.8" stroke="#8e2ee0" stroke-width="3.2" stroke-linecap="round"/><line x1="115.0" y1="114.3" x2="123.4" y2="115.8" stroke="#d2069e" stroke-width="2.1" stroke-linecap="round"/>
<line x1="19.5" y1="146.8" x2="19.5" y2="132" stroke="#333" stroke-width="1.1"/>
<path d="M19.5 128L16.5 133L22.5 133Z" fill="#111"/>
<line x1="19.5" y1="146.8" x2="33" y2="139.6" stroke="#333" stroke-width="1.1"/>
<path d="M36.8 137.7L31.3 137.4L33.8 142.2Z" fill="#111"/>
<line x1="19.5" y1="146.8" x2="33.5" y2="150.3" stroke="#333" stroke-width="1.1"/>
<path d="M37.5 151.4L32.3 147.9L31.6 153.2Z" fill="#111"/>
<text x="7" y="136.8" font-family='"Liberation Serif", serif' font-size="12.5" font-style="italic">Z</text>
<text x="39.5" y="142.3" font-family='"Liberation Serif", serif' font-size="12.5" font-style="italic">Y</text>
<text x="38" y="164.4" font-family='"Liberation Serif", serif' font-size="12.5">X</text>
<text x="16.6" y="22.6" font-family='"Liberation Serif", serif' font-size="16">(a)</text>
<text x="222.6" y="23.8" font-family='"Liberation Serif", serif' font-size="16">(b)</text>
<text x="16.6" y="213.8" font-family='"Liberation Serif", serif' font-size="16">(c)</text>
</svg></body></html>
